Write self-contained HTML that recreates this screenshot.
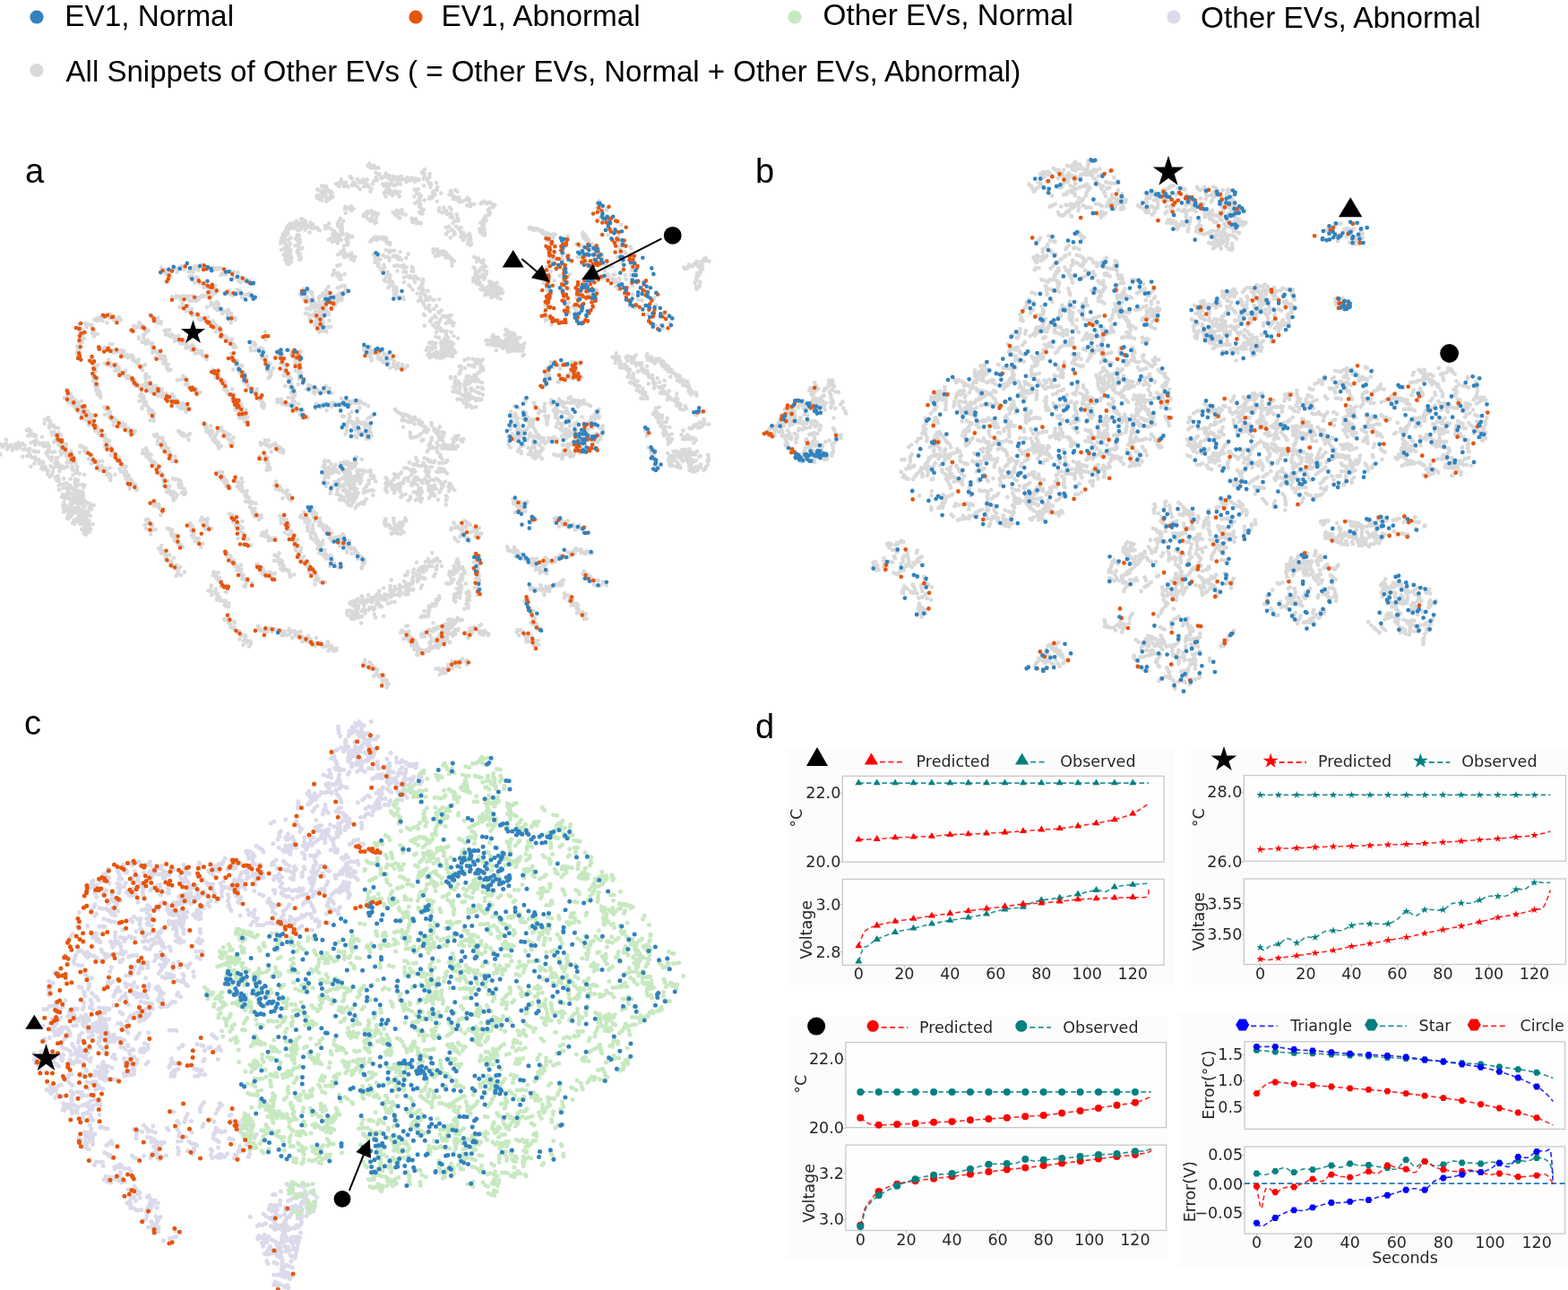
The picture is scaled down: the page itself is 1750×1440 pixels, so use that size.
<!DOCTYPE html>
<html><head><meta charset="utf-8"><style>
html,body{margin:0;padding:0;background:#fff;}
body{width:1750px;height:1440px;overflow:hidden;position:relative;font-family:"Liberation Sans",Arial,sans-serif;}
svg{position:absolute;left:0;top:0;}
.lg{font-size:33.3px;fill:#000;}
.pl{font-size:38px;fill:#000;}
.dj{font-family:"DejaVu Sans",sans-serif;fill:#262626;}
</style></head><body>
<svg width="1750" height="1440" viewBox="0 0 1750 1440">
<g font-family="Liberation Sans, Arial, sans-serif">
<circle cx="41" cy="19" r="7.6" fill="#3182bd"/><text class="lg" x="72.3" y="29">EV1, Normal</text>
<circle cx="464" cy="19" r="7.6" fill="#e6550d"/><text class="lg" x="492.6" y="28.5">EV1, Abnormal</text>
<circle cx="887" cy="19" r="7.6" fill="#c7e9c0"/><text class="lg" x="918.6" y="28">Other EVs, Normal</text>
<circle cx="1310" cy="19" r="7.6" fill="#dadaeb"/><text class="lg" x="1340" y="30.5">Other EVs, Abnormal</text>
<circle cx="41" cy="78.5" r="7.6" fill="#d9d9d9"/><text class="lg" x="73.6" y="90.5" style="font-size:33px">All Snippets of Other EVs ( = Other EVs, Normal + Other EVs, Abnormal)</text>
<text class="pl" x="28" y="204">a</text>
<text class="pl" x="843" y="204">b</text>
<text class="pl" x="27" y="819.5">c</text>
<text class="pl" x="843" y="824">d</text>
</g>
<path d="M180 298.9h0m3 1.9h0m1.3 3.2h0m0.4-2.4h0m2.1 0.3h0m1.2-0.5h0m1.8 0.1h0m1-0.2h0m4.4-1.6h0m0.1-0.7h0m2.5 4.7h0m0.8-4.1h0m1.2-0.8h0m2.5 1.2h0m0.2-3h0m1.6 2.1h0m1.5 1.4h0m1.7-2.4h0m3.2 5.5h0m2.4-1.1h0m0.8-3.7h0m2.2 4.6h0m1-3.7h0m1-3h0m0.4 2.4h0m1.9 1.1h0m1 1.6h0m1.2-4.7h0m1.9-1.7h0m2 1.5h0m3.7 2.2h0m3.6 0.3h0m0.7-0.1h0m4.1-0.6h0m0.2 2.8h0m1.5-0.9h0m2-1.3h0m1.2 1.2h0m0.6-0.8h0m1.4-0.3h0m0.9 0.2h0m0.5 7.4h0m1.5-2h0m1.7 0.9h0m2.4 0.5h0m2.3-3.2h0m2.6-0.4h0m1.2 0.7h0m2.5 0.1h0m0.2 6.4h0m4.4-5.6h0m-2 5.6h0m3 0.7h0m-0.1 3h0m2.5-4.1h0m-0.4 5.7h0m3.1-3.7h0m1.4 2h0m2.2-2h0m1.2 3.5h0m2.2-1.9h0m0.9 3.3h0m3 0.9h0m-97-11.4h0m3.4-0.2h0m0.1 0.4h0m1.7 2.8h0m20.7 0h0m2.6-1.2h0m-0.7 2.3h0m2.3 2.9h0m2.4-3.4h0m1.1-0.5h0m-1.6 6.7h0m3.7-5.4h0m1.7 5.8h0m1 0h0m1.2 1h0m2.3 2h0m0.3 1.9h0m4 0.2h0m1.6-0.9h0m5.4 0.5h0m1.8-2.2h0m-0.4 3.2h0m-0.8 4.3h0m13.3 1.8h0m2.2-1.8h0m1.5-2h0m0.5 4.4h0m1.5-0.8h0m1.6 2h0m2.2-2.7h0m2.9-3.8h0m0.7 3.5h0m2.4-2.1h0m1.1 3.2h0m1 4h0m1.2-1.8h0m1.2-0.9h0m2.1-0.1h0m2.8-1.7h0m0.6 2.3h0m1.9-1.1h0m0.8 3h0m1.9 2.1h0m-90.8-2.3h0m1.1 0.4h0m1.5 0.5h0m2-0.2h0m0.6-2.1h0m1.6 1.2h0m0.9 0.2h0m1.4 0.7h0m0.6 2.7h0m1.5-4.3h0m1.8 0.2h0m2.4-0.4h0m1.2 2.6h0m1.2-1.7h0m0.7-0.3h0m1.1 5h0m2.7-5.5h0m1 0h0m-0.2 5h0m2.9-1.9h0m0.8 2.5h0m2.5-3.7h0m0.4 2.2h0m1.9-2.8h0m1.1-0.1h0m1.2-1.8h0m2.4 0.9h0m1.1-0.5h0m3.2 2.1h0m0.3-3.5h0m4 0.8h0m-2-4.2h0m2.3 0.8h0m3.2 0.9h0m-4-5.1h0m3.6 1.5h0m0.1-2.3h0m-1.5-1.9h0m-37.9 23.6h0m2.9-4h0m-0.3 4.5h0m1.3-0.1h0m5.3-1.5h0m-1.8 5.4h0m1.3-0.3h0m0.9 0.6h0m1.6-0.8h0m2-1.8h0m0.9 4.8h0m-0.3 2.4h0m2.9-1.2h0m0.5 0.1h0m1.4-0.8h0m2.1 3.1h0m0.8 0.4h0m-0.1 2.6h0m1.3 1.1h0m1.5-1.8h0m1 1.4h0m2.7 0.8h0m0.7-0.8h0m3-2.7h0m2.9 5.9h0m2.5-1.9h0m0.2 3h0m2.3 0.6h0m1.1 1.8h0m-0.5 2.2h0m1.7 0.6h0m2.6-1.6h0m-4.1 5.3h0m6.1-1.3h0m-1.5 1.8h0m0.4 1.9h0m1.8 2.6h0m3.1-0.1h0m-0.1 1.9h0m2-1.2h0m-0.5 2.3h0m2.9 1h0m1.2 1.1h0m2.6-1.6h0m-1.4 3.5h0m1.5 1.1h0m0.9 1.3h0m1.1 0h0m-0.7 2.8h0m0.5 0.6h0m2.5-0.9h0m-32.2-44.1h0m4.5-5.5h0m-0.2 3.2h0m1.4-0.9h0m1.3 0.7h0m2.3-1.6h0m1.6-2h0m-2.4 7h0m4.2-4.4h0m-0.4 2.7h0m-1.1 4h0m1.4 0h0m3.7 0h0m0 0.6h0m2 0.8h0m-1.2 2.4h0m4.1-2.1h0m2.7-1.9h0m-1.3 3.6h0m0.4 2.1h0m-0.3 1.7h0m4-3.5h0m0.7 3.6h0m1.3 0.9h0m-2 5.9h0m4.9-4.9h0m-0.2 2h0m-157-0.4h0m1.1-0.5h0m2.1 1.7h0m1.1-1.9h0m0.2-1.4h0m2.6 2.1h0m1.9 1.3h0m-1.4-5.1h0m1.7 1.2h0m3.2-1.1h0m1.5 7h0m3.2-9.6h0m0.4 4.7h0m3-0.9h0m1.2 2.6h0m1.7 0.3h0m1-0.7h0m3-2.7h0m0.8 3.1h0m1 0h0m-46.7 5.1h0m0.1 6.7h0m2.4-1.5h0m1.5 1.2h0m-2.4 2.5h0m0.2 1.3h0m2.3 1.4h0m-1.2 1.4h0m3.1 2.8h0m-2.5 0.8h0m0.2 0.9h0m-0.3 2.7h0m-3.1 0h0m0.8 2.2h0m-1 0.8h0m-2 1.5h0m2 1.5h0m-1.1 2h0m1 1.1h0m-1.5 1.5h0m-0.5 0.2h0m0 3.2h0m1.3 2h0m1.7 2h0m5.7-39.5h0m0.7 1.3h0m2.4-0.2h0m-1.5 3.1h0m4.9-2.3h0m1.3 0.7h0m-0.5 1.6h0m0.6 0.9h0m1.6 1.9h0m0.9 0.4h0m-2.2 3.2h0m2.5 0.1h0m-0.3 2h0m-0.5 1.7h0m4.3-2.4h0m40.1-6.1h0m0-2.9h0m1.6 0.4h0m1.3 1.2h0m1.8-0.9h0m1.4-0.2h0m-0.1-4.1h0m2.1 2.2h0m-0.3 3.4h0m2.6-1.8h0m3.3 2.7h0m-0.2 3h0m1.3 0.2h0m1.8-1.2h0m-10.9 7.7h0m0.1 1.5h0m5.2-4.2h0m1.8-0.9h0m-1.6 4.5h0m-1.7 4.5h0m1.2 0.1h0m1.8-0.9h0m3-1.1h0m-2.3 3.8h0m2.6-0.5h0m1.7-0.7h0m2.3 0.7h0m1.5 0.1h0m-1.1 3h0m1.4 0h0m-0.4 2.5h0m0.3 1.6h0m-0.1 2.7h0m-0.2 0.7h0m4.1-1.9h0m1 1.7h0m-2 5.1h0m4.2-2.5h0m2.8 1.1h0m-1.9 2.9h0m5.5-2.3h0m-1.6 2.7h0m-0.6 1.2h0m2.8-0.2h0m-0.1 2.5h0m-2.1 1.7h0m2.7 0.1h0m1.2 1.5h0m1.3-0.3h0m-1.4 2.6h0m0 1.2h0m1 0.9h0m0.6 1.8h0m2.7-0.9h0m-23.2-60.9h0m1.7 1.2h0m1.3 0.9h0m0.1 1.9h0m5.9-1.1h0m-2.7 3.9h0m2.2-0.9h0m0.2 2.8h0m1.5-0.5h0m2.3-0.9h0m-0.6 2.1h0m4.4 7.8h0m1.8-0.5h0m0.4 0.5h0m-0.8 4.4h0m4.1-5.2h0m-0.8 5h0m-0.1 1.4h0m1.9 0.5h0m1.8-1.9h0m-0.3 3.1h0m2.1 0h0m1.4-0.6h0m1.1 0.9h0m-1.3 4.2h0m4.7-5.8h0m-1.6 4.4h0m1.9 1.8h0m2.1 2.3h0m2-0.4h0m1.8-2.4h0m0.1 2.7h0m1.5 1.2h0m0.9-0.4h0m-0.9 3.3h0m0.4 1.3h0m3.3-0.9h0m2.3-1.9h0m1.7-0.9h0m-1.8 6h0m3.5-3.5h0m0.2 3.7h0m2.4-1.2h0m-1.8 4.5h0m2.5-2.6h0m0.2 1.8h0m2.9-1.2h0m2-0.9h0m-0.7 3.2h0m1 1.6h0m1-0.7h0m0.3 1.7h0m1.8 0.8h0m2.7-0.1h0m-0.8 2.8h0m-118.3-13.5h0m1.1 1.2h0m1.7 1.4h0m2.1-2.2h0m1.7 2.4h0m3.8-5.9h0m2.7-0.2h0m0.2 6.8h0m0.6 0.1h0m0.9 2.6h0m3.5-0.8h0m0.5-1.3h0m1.2 0.3h0m1.6-0.4h0m1.7-0.5h0m0 3.2h0m3-1.9h0m-1.2 4.1h0m2.1 1.1h0m2.3-1.3h0m0.1 1.7h0m0.8 1.5h0m3-2.5h0m2-0.2h0m-0.5 2.1h0m1.7 0.3h0m-0.7 2.5h0m0.8 0.5h0m1.4 1.3h0m1.2-0.4h0m3.2-1.6h0m-1.5 3.3h0m0.8 0.2h0m0.7 2.5h0m0.4 1.1h0m2 2.2h0m2-2.1h0m3-1.6h0m-3.1 6.2h0m-42-7.4h0m4.2-4.1h0m-1.3 5.5h0m3.7-2h0m-0.1 1.7h0m0.7 1.7h0m1.3-1.2h0m4.6-1.2h0m-0.8 2.9h0m0.7 1.6h0m-1.7 3h0m4.3-3.4h0m-0.1 3.4h0m1.4 0.6h0m-1.3 2h0m0.5 2h0m7-4.4h0m-1.3 4.7h0m1 0.4h0m1.4 0.9h0m0.4 2.2h0m2.6-2.4h0m-0.9 2.4h0m1.9 0.7h0m1.6 2.1h0m3-1h0m-0.9 4.4h0m1.6 2.3h0m2.5-3h0m1.4 2.3h0m0.9 2.2h0m1 0.1h0m2.4-2.1h0m1.8 1.3h0m2.8-2.3h0m-0.4 3.9h0m0.9 0.1h0m2.9-1.9h0m0.3 2.6h0m0.8 2.9h0m0.6 0.3h0m0.9 0.9h0m2.5-1.9h0m2.3-0.5h0m1.1 3.2h0m1.6-0.7h0m-0.4 4h0m2.7-4.8h0m-75.7-37.9h0m-0.2 0.8h0m-3.9 2h0m5.6 4.1h0m4.1 1.4h0m-3.4 1.1h0m1.7 1.2h0m-1 3.4h0m0.9 1h0m-2.2 3.5h0m-1 1.6h0m0.2 1.5h0m2.9 2.3h0m-3 2.2h0m3.2 0.6h0m-0.5 1.2h0m2 1.8h0m-2.3 1.8h0m0.3 1.5h0m2.4 0.2h0m-0.5 2.5h0m-1.4 1.1h0m3.1 0.6h0m1 0.8h0m-2.9 2.1h0m3.4 0.9h0m-1.3 0.7h0m1.6 0.7h0m0.3 1.8h0m50.5-26.2h0m-0.8 1.8h0m0 2.3h0m0.6 0.9h0m3.7-1.4h0m-4 6.1h0m1.6-0.3h0m1.1 1.9h0m2.5-2.5h0m-1 6h0m3.4-1.5h0m1.7-0.1h0m-1.5 2.2h0m4-2.2h0m0.6 1h0m0.9 1.8h0m3.3 0.6h0m1.6 0.1h0m-1.2 3.4h0m1.2-0.3h0m0.3 2.3h0m-0.2 1.4h0m4.4-2h0m-0.7 2.8h0m0.3 1.3h0m3 0.7h0m4.2-3.8h0m-1.9 6h0m3.9-3.6h0m-2.3 7h0m3.7-1.8h0m2.5 4.3h0m2.7-1.3h0m-1 3.8h0m3.5-3.7h0m-0.6 3.3h0m0.2 2.4h0m2.9-2.3h0m1.8-0.8h0m-0.7 3.2h0m0.5 0.7h0m0.5 2.6h0m3.7-3.9h0m-13.5-31.5h0m6.3-4.9h0m-3 4.5h0m3.1-1.4h0m2.3-0.7h0m1.4 1.3h0m1.2 1.7h0m-2.5 4.4h0m2.9-2h0m0.3 2.7h0m0.4 1.4h0m0.5 1h0m3.1 3h0m4.6-1h0m1.3 0.2h0m-0.9 2.6h0m1.4 3.5h0m3.1-3h0m14.4-25.2h0m1.6 6.3h0m5.1-1.1h0m-3.5 3.9h0m3.5 1h0m1.8 0.2h0m0.3 2.5h0m3.1-0.4h0m1.8 1.3h0m-0.1 1.7h0m-0.1 1.1h0m0.4 2.9h0m-2 2.6h0m2.6 0.2h0m0.3 1.5h0m1.5 0.9h0m5-2.8h0m-4.8 4.9h0m0.6 1h0m2.6 0.7h0m1.9 0.2h0m0.6 2.2h0m-1 1.6h0m-0.2 1.4h0m2.6 0.1h0m-0.6 1.3h0m2.5 0.1h0m-0.8 1.7h0m4.5 0.3h0m1.5 0.3h0m0.8 1.6h0m-4.2 5.5h0m5.6-1.8h0m-1.5 1.8h0m-0.4 2.2h0m1.7-0.3h0m4.1-1.2h0m-5.3 7.2h0m4-1h0m2.1 0.9h0m0.8 0.7h0m-201.1-30.6h0m0.5 2.1h0m-0.2 4.9h0m1.1 0.1h0m2.3-1.2h0m0.5 1.5h0m1 0.2h0m1 1.4h0m-0.2 1.5h0m1.8 1h0m1.4 0.5h0m-1.2 3h0m0 0.4h0m2.9-0.9h0m1.9-0.2h0m3.2-1.6h0m-2.7 5.5h0m0.9 0.7h0m-1.4 3.3h0m4.2 1.1h0m2.2-0.7h0m1.1-1.1h0m-0.5 3.6h0m0.4 1.5h0m3.3-2.5h0m0.3 2h0m-0.8 2h0m1.4 1.2h0m2.3-1.7h0m0.5 1h0m1 0.9h0m-0.3 4.9h0m154.8-74.5h0m-1.4 5.7h0m4.1 0h0m0.6 3h0m3.7-0.9h0m-1.6 4.7h0m2.9 0.1h0m1.7 0.2h0m-7.7 4.7h0m10.1-4.1h0m-3.4 6.5h0m3.3 0.1h0m-1.3 2.5h0m4.3-0.7h0m2 5.4h0m-2.9 3.7h0m1.2 1.7h0m2 1.4h0m0.8-0.1h0m1 1.6h0m-0.1 1.3h0m1.6 1.2h0m2.7 3.8h0m5.3-2.6h0m-1.4 3.2h0m1.3 0h0m0.3 2.7h0m-0.1 3h0m2.8 2.9h0m1.9 1.2h0m0.7-0.2h0m0.5 1.7h0m0.2 0.7h0m-1 3.7h0m2.9-2.1h0m0 2.2h0m-0.6 2.2h0m-14.7-74.4h0m0.9 1.5h0m-0.9 5.9h0m4.2-6.1h0m-3.6 9.1h0m3.6-5.6h0m1.7-1h0m-0.9 6.4h0m2-1.3h0m4-1.7h0m-2.3 2.5h0m5.2-1.2h0m-2.3 3.7h0m0 2.3h0m1.5 2.6h0m0 1.5h0m4.9-1.7h0m-2.6 2.8h0m1.5 1.6h0m1 1.2h0m0.5 0.6h0m3.5 1.5h0m-3.8 3.8h0m0.2 3.8h0m7.3-2.1h0m-4.5 3.2h0m2.1 0.1h0m-1.8 1.6h0m1.6 1.5h0m-0.3 1.2h0m-0.6 1.6h0m-2.1 2h0m13.8-30.1h0m-4 6.1h0m3.6 1.1h0m4.8 1h0m-4.4 5.4h0m3.8-0.1h0m-1 1h0m1.8 0.6h0m1.8 3.5h0m-2.1 1.9h0m0.2 2h0m2.6 1.3h0m-3.9 3.1h0m3.6 0.6h0m0.7 0.3h0m2.6 0.9h0m-0.2 1.9h0m1.6-0.3h0m0.1 1.8h0m-1.6 3.2h0m1.1 0.7h0m-6.1 2.8h0m7.1-1.1h0m-1.8 2h0m4.6 2.2h0m-1.9 1.6h0m-1.2 2.7h0m4-0.5h0m-1.7 2h0m1.9 1.3h0m-7.5 2.7h0m4.4 0h0m1.2 0.8h0m-0.6 1.8h0m-0.1 1h0m2 1.1h0m-0.8 1.6h0m-3.3 1.1h0m2.6 0.8h0m0.1 1.9h0m2.5 0.7h0m1 0.7h0m0.7 0.8h0m-2.1-61.5h0m1.5 0.6h0m-2.3 2.6h0m0.8 3.4h0m5.2 0.8h0m-4.1 2.8h0m-1.4 1.2h0m5.8-0.1h0m1 4.5h0m-6 3.2h0m3.3-0.3h0m2.3 1.6h0m-2 1.8h0m2.7-0.3h0m0 2h0m-2.2 1.2h0m-0.2 3.3h0m4.1-0.5h0m-5.1 6.5h0m-36.9-58.8h0m0.3 8.4h0m48 51.1h0m-2 4.5h0m4.4-3.2h0m1.4 2.1h0m0.8-0.8h0m0.9 5.7h0m2.8-4h0m-1.2 5.4h0m3.2-2.4h0m-0.1-1.8h0m2.5 1.9h0m2.2 0.5h0m1.3-1.8h0m1.9 1.6h0m1.3-6.7h0m1.5 5.8h0m2-3h0m1 0.6h0m2.4 4.6h0m-61.2 7.4h0m0.2 2.8h0m2.4-2.8h0m1 2.1h0m1.1-2.3h0m0.7 5h0m0.9-1.4h0m2.3-0.3h0m1.2 3.1h0m0.8-0.3h0m2-1h0m1.2 0.7h0m0.8-0.1h0m4-1.9h0m-1 4.9h0m1.9-1h0m4.2-2.9h0m-3.7 5.3h0m1.7 2.6h0m2.3-0.8h0m2.5-0.2h0m2.3 0.9h0m-3.3 4.1h0m2 0.4h0m5.2 2.6h0m1.6 0.8h0m8.3-10.7h0m0.8-4.8h0m0.9 0.1h0m4.4 3.6h0m1-2h0m1-0.9h0m4.7 6.6h0m-1.5-8.1h0m4.2 2.5h0m0.7-2h0m2 3.4h0m1-1.7h0m0.6-2.7h0m1.5 0.2h0m2.5 0.8h0m1.5 0h0m2.3-0.3h0m1.5 1.4h0m0.1-6.9h0m1.9 5.5h0m2.5-2.6h0m3.3 2.3h0m-69-195.6h0m0.6-1.1h0m2.7 1.6h0m-0.3-2.9h0m1.1-0.5h0m0.9-2.2h0m1 2h0m3.4 3.4h0m-0.9-4.3h0m1-2.7h0m1.6 2.4h0m0.1-3.3h0m3 4h0m1.1-1.9h0m1-4.7h0m2 0.9h0m0.6 1.8h0m0.8 1h0m1.5-1.2h0m0.6 3.6h0m0.8 2.2h0m1-0.1h0m3.1-4.3h0m-1.5 3.9h0m2.2 0.9h0m2.1-2.4h0m-0.5 2.4h0m0.4 2h0m2-0.9h0m1.8-0.3h0m1.5 0.9h0m0.6 1.2h0m0.6 0.4h0m1 0.9h0m-35.4-0.2h0m-3.2 1.7h0m2.4 0.7h0m-2.7 1.7h0m-2.2 0.7h0m3 1.4h0m-1.8 1.2h0m-2.4 1.5h0m3.1 1.2h0m-0.5 0.8h0m-3.4 1.2h0m2.3 1h0m-2.7 1.3h0m5.9 0.9h0m0.4 1.4h0m2.8 1.8h0m-4.7 1.2h0m-3.5 2.1h0m4.7 0.4h0m3-0.6h0m-1.3 1.9h0m-0.7 2h0m-3.2 1.9h0m6.4-0.5h0m-1.9 1.4h0m1.4 0.2h0m-1.3 2.4h0m4.2 0h0m-3.3 2.2h0m-0.8 1.5h0m2.6 0.4h0m1.1 0.6h0m44.7-71.7h0m-0.5-3.1h0m-0.8-2.8h0m-4.3 9.8h0m1-1.3h0m4-3.2h0m2.4-0.5h0m-13.7-6.3h0m1.4 1.5h0m1.4 1.7h0m-7.2 1.9h0m1.4-0.5h0m4.1-0.5h0m2.9 0.5h0m-5.5 1.5h0m1.5 1.7h0m9.7 0.9h0m1.3-2.5h0m1.1-3.3h0m-9.5-2.4h0m3.8-0.4h0m-24.9 108.9h0m0.1 2.7h0m-4.3 3.2h0m1.5 1.7h0m4.5-0.5h0m7.2-2.2h0m-5.5 4.1h0m-1 2.1h0m1.3 0h0m2 0.5h0m0.5 1.5h0m-0.8 1.2h0m3.8 0.4h0m1.7-0.8h0m-2 2.7h0m-6.3 5.3h0m3.9-0.9h0m1 0.1h0m3.5-0.1h0m-9.6 6.2h0m2.4 0.1h0m1.1 1.4h0m7.3-3h0m1.1 1.8h0m0.2 0.3h0m-7.2 5.4h0m7.7-0.6h0m0.1 0.9h0m-0.4 2.6h0m7-4.6h0m-7.1 6.6h0m4.2-2.4h0m-2.4 4.3h0m4.9-2.1h0m1 0.2h0m-3.6 5.7h0m10.5-8.5h0m-8.8 8.9h0m2.7-0.1h0m-0.3 1.8h0m4.9-3h0m3-0.3h0m-4.8 5.3h0m-7.8-39.1h0m2.1-0.8h0m1.6-0.5h0m0.1 0.1h0m1.8 0h0m2.3-1.4h0m1.1 3.7h0m3.3 4.8h0m2.5-0.7h0m1.8-0.1h0m-0.1-5.9h0m2.5 2.2h0m0.5-0.4h0m0.1-2.5h0m2.1 1.5h0m3.2 3.4h0m-2-7.8h0m2.4 4.1h0m1.5-2.6h0m1.4-1.2h0m1.5-0.5h0m0.8-1.1h0m0.4-0.1h0m-24.5-106.7h0m1 1.9h0m-5.5-2.3h0m3 0.1h0m2.9 2.4h0m-3.8-8.1h0m-1.4 2.3h0m-1.3 3.5h0m-0.4 1.5h0m1.9-11.9h0m1.6 4.5h0m1.9 1.6h0m0.8 3h0m0.8-4h0m-3-0.3h0m-1 3.6h0m-1.3 4.1h0m0 2.8h0m11.5-8.4h0m-11.4-7.6h0m3.2 0.5h0m-0.4 4.5h0m-2.8 11h0m-1.6-0.5h0m-3.8-2.2h0m15.1-7.4h0m-3.6-2.4h0m-1.3-2.7h0m-3.4-0.6h0m-6.2 3.7h0m20.4-6.2h0m1.6-0.5h0m1.1 2.4h0m1.2 0.9h0m0.6-4.3h0m1.6-3.6h0m1.1 4h0m1.4-0.3h0m0.5 4.1h0m2-4.3h0m0.9 3.8h0m1.3 0.7h0m0.4 0.3h0m2.3-11.2h0m1.8 1.9h0m0.3 7.5h0m1.6-3.1h0m0.5 3.1h0m1.6-1.8h0m2.1-5.1h0m0.4 8.8h0m2-6.3h0m0.3 1.5h0m0.5 7.5h0m2.7-8h0m0.7-2.7h0m0.9 7.7h0m1.6-4.1h0m1.7-3.7h0m0.7 7.7h0m0.3-1.6h0m1.4 2.2h0m1.5 5h0m1.2-2.9h0m1.2-5.5h0m1.7-3.3h0m-6.9-16.7h0m1.6-2.7h0m1.3 1.8h0m0.2 3.2h0m2.3-1.1h0m1.3-1.8h0m0.2 2.6h0m1.3 0.2h0m1.2-0.1h0m-0.3 5.4h0m2.9-5.4h0m-2.7 10.6h0m1 3.1h0m1.3-6.9h0m1.4 0.2h0m1.6 3.7h0m0.4 0.8h0m1-0.8h0m1.5-0.5h0m1.6-1.1h0m0.9-3h0m1.4 3.8h0m1.6 1.1h0m0.7-2.3h0m0.7 3.9h0m2.2 0.5h0m1.4-3.7h0m0.1 3.5h0m1.5 0.1h0m1.7-1.2h0m1.3-1.6h0m0.6 2.5h0m1.9-1.5h0m0.8-0.7h0m1.6-1.1h0m0.4 3.6h0m1.3-0.3h0m1.3 0.2h0m1.7-0.3h0m0.6 3.1h0m1.2-5.1h0m1.5 2.9h0m1 0.5h0m1.2-0.5h0m1.2-2.4h0m1.2 1.5h0m1.9-0.5h0m0.4 3.1h0m1.1-3.1h0m1.7 1.3h0m1.3-0.4h0m0.3 0.6h0m-40.4 4.5h0m1.7 2.3h0m1.2-1.8h0m1.2-1.1h0m1.2 4.2h0m0.7-0.5h0m1-1.1h0m1.3-2.6h0m1.6-0.7h0m1.8 2.5h0m1 0.1h0m0.7 0.1h0m1.3-0.5h0m2.1-3.6h0m1.1 2h0m0.8-1h0m1.3 1.8h0m-18.1 10h0m1.7-2.7h0m-0.2 6.6h0m2.4-4.7h0m1.3 1.3h0m1.1-3.7h0m0.9 2.1h0m2.2 0.4h0m-0.2 3.3h0m2.6-5h0m1.2 0.6h0m0.8 2.2h0m1.1-0.2h0m2-1.4h0m-0.1 4.7h0m28.2-30h0m-3.1 3.3h0m0.6 0.8h0m1.6 0.4h0m0.8 0.7h0m0.1 2.3h0m5.7-2.6h0m-7.1 5.7h0m7-2.2h0m-2.5 2.4h0m0.2 1.8h0m0.2 0.8h0m-4.4 4.6h0m6.3-1.8h0m1.6-0.4h0m0.4 0.8h0m5.8-1.6h0m1.1 4.6h0m-7.7 0.3h0m7.3 1.6h0m-0.1 1.3h0m-2.8 1.5h0m-1.9 1h0m9.2 1.2h0m-8.2 0.9h0m1.5 0.8h0m-2.1 1.7h0m-3.2 0.5h0m1.6 1.8h0m-3.1 0.5h0m-5.1 1.8h0m14.2 1.2h0m-25.2-13.2h0m4.2-0.3h0m-1.7 1.9h0m-0.1 1.5h0m0.5 1.6h0m2.5 0.4h0m-5.7 2.7h0m7.7-0.7h0m-1.9 2.2h0m0.2 1.4h0m0.3 1.3h0m-2.2 0.7h0m-3.2 2.5h0m5.1 0.5h0m-0.5 1h0m1.6 0.4h0m-1.5 1.7h0m1.2 1.1h0m1.3 1.3h0m2.4 1.3h0m-2.7 1.3h0m-2 1.7h0m1.5 1.1h0m1.8 0.4h0m31.6-25.5h0m-1.5 4.2h0m2.8-2.1h0m3.9-3h0m-2.5 6.4h0m-0.1 3.1h0m4.8-7.9h0m-1.2 6.5h0m-0.8 2.1h0m1.7-0.6h0m2.3-1.2h0m-0.5 4.2h0m1.2-1h0m0 2h0m1.9-0.9h0m1.9-0.3h0m5-4.1h0m-1.2 2.1h0m1.5 0.8h0m1.6-0.7h0m-2.7 6.6h0m3.7-2.3h0m-1.1 2.7h0m1.4 0.4h0m1.8-1.6h0m2.4-0.6h0m-38.9 4.2h0m-0.8 2.4h0m0.5 1.2h0m1.1 0.5h0m4.2-4.3h0m-1.4 5.7h0m2.5-1.6h0m1.8-0.7h0m3.5-3.7h0m-3 7.5h0m5-5.4h0m-2 4.9h0m2 0.1h0m-1.1 3.4h0m1 0.7h0m1.3-0.4h0m4.6-3h0m0.6 1.3h0m-2.6 5.9h0m3.3-2.6h0m-0.8 2.6h0m1.5-0.5h0m-2.3 6.6h0m-11.7 1.3h0m0.8 0h0m2.5-1.3h0m-3 8.7h0m2.1-2.6h0m5.5-9.5h0m-1.8 7.1h0m1.5 0.8h0m-2.4 8.1h0m4-6.3h0m-0.2 2.9h0m1.2-0.6h0m4.3-5.6h0m2.3-1.7h0m-0.1 4.7h0m0.5 1.4h0m-0.6 4.4h0m3.1-4.6h0m-0.2 3.6h0m1 1.8h0m-1 2.8h0m4.2-5.3h0m2.6-2h0m-1.6 7.1h0m2.5-3.7h0m-2.6 7.9h0m3.2-4.6h0m-0.6 6.2h0m1.2-1.7h0m10.6-44.6h0m1.2-1.3h0m2-1.3h0m1.2 1.2h0m1.2 0.3h0m0.9 0.3h0m0.3 0.6h0m2.6-1.5h0m1.2 0.7h0m1.2 0.9h0m-1.5 4.9h0m3.2-3.1h0m0.5 1.8h0m1.8-2.2h0m-7.7 5.6h0m0.9 0.7h0m1.5 3h0m-1.3 0.1h0m-0.1 1.7h0m-1.2 0.3h0m-2.3 0.9h0m-1 1.2h0m0.3 1.3h0m1.2 2.6h0m-3.1-0.9h0m-0.2 1.4h0m0 1.2h0m0.3 1.3h0m-3.3-0.5h0m2 3.1h0m1.3-0.1h0m-0.6 1.8h0m-3.9 2.2h0m2.7-0.2h0m2.7 0.4h0m-4.5 3.3h0m0.8 0.5h0m4 0.4h0m-1.7 2.3h0m1.9 0h0m-155.4-24.3h0m-0.9-5.1h0m0.4-2.2h0m1.8 2.6h0m0.8-1.5h0m2.7 1.1h0m1.9 2h0m-0.3-4.6h0m2.5 2.7h0m25.3 10.6h0m0.5-3h0m1.4-2.1h0m-3.2 10.8h0m-2.1-2.2h0m-3.1-0.3h0m-2.9-2.4h0m4.6-1.3h0m0.7-3.3h0m2.3-2.3h0m-3.7 8.2h0m3.3 1.3h0m-11.8-7.5h0m2.4-1.5h0m1.7-1.9h0m5.3 8.3h0m3 1.9h0m1.9 1.8h0m-5.7-12.8h0m-1.9 1.7h0m-2.9 2h0m-1.2 1.4h0m-2.8 1.1h0m32.9-4.2h0m4-2.3h0m3.9 0.4h0m2.2-1h0m-5.9 4.4h0m1.2 2.6h0m2 2h0m1.3-6.4h0m2.1 1.3h0m3.3 1.3h0m-11.7 0.1h0m2.9-1.5h0m3.6-0.6h0m1.4 1.1h0m10.5 5.2h0m0.4 1.5h0m0.7 2.6h0m3.2-3.8h0m0.6 1.4h0m0.5 3.7h0m1.9-1.1h0m1 0.6h0m1 0.3h0m1.2 0h0m-148.4 2.8h0m1.7 2.9h0m0-4.4h0m3.1 4.1h0m0.1-2.5h0m1.2-0.4h0m2.5 2h0m0.7-1.4h0m1.8 4.9h0m0.2-5.7h0m0.6-1.2h0m2.5-1.4h0m-0.6 7.3h0m1.4-2.6h0m2.5-1.8h0m1 1.2h0m0.3 3.8h0m1.8-2.8h0m0.8-0.6h0m1.9-1.1h0m1.2 1.7h0m-0.7 5.6h0m2.6-4.8h0m-29.1 3.2h0m-0.7 1.1h0m3 2h0m-0.4 0.1h0m-2.5 1.3h0m-1.4 1.6h0m7.5 1.5h0m-1 0.8h0m-1.7 1.5h0m-4.3 1h0m-0.9 1.6h0m7.3 1.3h0m-0.9 1.5h0m-3.9 0.9h0m1 1.3h0m-2.4 1.5h0m3.1 0.8h0m-1.9 0.9h0m5.4 0.4h0m-0.8 1.2h0m0.4 1.4h0m-0.2 1.3h0m-3.4 1.6h0m0.4 1.1h0m4.2 1.2h0m-6.1 1.6h0m-0.5 1.8h0m5.5-0.2h0m-1.4 1.2h0m-1.8 1.4h0m-0.4 1.3h0m1.9 1.1h0m10-33h0m1.8 0.9h0m-0.5 1.7h0m-3 0.6h0m-0.3 1.5h0m4.7 1.3h0m-1.9 1.5h0m1.8 1.1h0m-1.2 1.6h0m0.3 0.2h0m-4.3 1.7h0m3.4 1.6h0m4.4 1h0m-1.1 1.1h0m-3.2 0.8h0m-1.3 1.9h0m0.3 1.6h0m1.3 0.8h0m1.7 0.5h0m-1.9 1.3h0m1.3 1.8h0m0.6 0.7h0m1.1 1.2h0m-1.7 1.6h0m58.4-25.3h0m-2.9-0.5h0m-14-0.6h0m2 0.1h0m2.4-1.2h0m2.6-1.3h0m10.3 2.6h0m-3.1-0.6h0m-9.9-6h0m0.3-3h0m0.7-2.1h0m2.6 22.4h0m-17.1-7h0m2.3-1.3h0m3.1-2.7h0m16.2 6.7h0m0.2-3.8h0m-1.3-2.8h0m0.2-2.3h0m-5.3-5.4h0m-0.6-3.4h0m0-1.7h0m1.7-4.1h0m-9.9 11.3h0m1.5 2.3h0m2.3 1.7h0m4.7-2.7h0m-1-2.9h0m-1.4-2.1h0m-2.6-2.4h0m0-2.7h0m-9.5 0.1h0m-2.2 2.5h0m-1.9 3.5h0m15.7-4.2h0m-0.5-4.7h0m1.5-2.7h0m-8.6 17.4h0m2.4 1.5h0m-0.3 3.5h0m1.4 3.4h0m2.3 2h0m10.7 1.8h0m-0.2-2.2h0m-0.7-2.7h0m-0.7-1.5h0m-16.2-11h0m-3.6-1.8h0m-3.4-1.9h0m15.2 13h0m0.7-3h0m2.9-1.7h0m-0.9 7.6h0m-3.9 0.5h0m-6.2 1.1h0m6.4 14.6h0m3.1-2.9h0m1 1.6h0m2.4-4.1h0m0.3 2.9h0m-0.8 3.6h0m1 1.7h0m3.3-3.4h0m-0.5 2.4h0m1.7-0.6h0m2.1-0.8h0m1.7-2.1h0m0.2 3.1h0m-1.1 3.7h0m2.1-0.6h0m2.6-2.1h0m-1.1 4.3h0m-18.8 5.7h0m2.8-1.2h0m-6.3 6.4h0m-0.4 3h0m-1.4 2.2h0m4.8-1.6h0m1.4-0.6h0m-1 3h0m3.7-0.9h0m0.5 1h0m4.2-1.9h0m-5.7 5.4h0m1.7 0.2h0m32.6-42.1h0m1-1.6h0m1.1 0.1h0m1.3-2.3h0m0.7 1.4h0m1.4-2.7h0m1.9 3.4h0m0.8-3.1h0m1.1 1.2h0m1.3 0h0m2.5-1.8h0m0.2 2.3h0m0.2 0.6h0m3.1-1.9h0m1.3 0.6h0m-0.9 3.2h0m1.6 0.2h0m0.1 1.9h0m1.3 0.5h0m2-0.5h0m-0.3 1.9h0m-18.1 11.4h0m2.5 2.6h0m-0.7 0.9h0m3.3 0.2h0m-2.8 2.8h0m-0.7 1.8h0m1.6 0.1h0m1.1 0.8h0m1.2 0.5h0m-0.6 2h0m0.8 0.9h0m5.7-1.4h0m-0.1 1.8h0m-3.5 3.1h0m4.6-1.9h0m-3.5 3.2h0m2.4 0.9h0m-0.8 2.1h0m5.3-1h0m0.2 1.6h0m0.2 1.4h0m-2.1 2.4h0m4.5-1.6h0m-6.9 5.1h0m6.3-1.4h0m-3.9 2.9h0m3.9 0.2h0m2-0.1h0m-1.9 2.8h0m3.3-1.3h0m-1.8 2.7h0m-3 2.6h0m6.3-1.2h0m-0.2 0.9h0m2.7-0.1h0m-3 3.6h0m3.4-1.2h0m-1.2 2.6h0m-1.8 3h0m2.8-1.6h0m0.6 4.5h0m2.2-0.4h0m4.3 0.4h0m0.5 1.3h0m0.3 1.1h0m-19.7-54.8h0m-3.5 5.5h0m-2.7 4.9h0m10.2-9.9h0m-4.7 6.9h0m4.4-4.8h0m2.9-1.9h0m-4.4 7.1h0m7.4-7.3h0m-5.3 8.6h0m-0.4 2.4h0m4.5-5.2h0m1 1h0m2.6-1h0m3.9-4.2h0m-3.2 5.8h0m0.7 1.8h0m1.7-1h0m-0.3 1.6h0m-5.1 7.2h0m7.6-6.7h0m-4.3 6.4h0m12-12.9h0m-2.3 4.4h0m-6.1 9.3h0m-3.9 5.3h0m7.1-6.7h0m-0.9 2.3h0m1 0.7h0m0.4 0.7h0m2.8-1.2h0m-3.1 5.3h0m-0.2 0h0m9.2-5.9h0m-6.5 6.2h0m7.6-4.4h0m-1.4 3h0m-8.7 7.3h0m10.4-6.9h0m-6.2 5.6h0m2.8-0.4h0m-0.4 1.8h0m-6.4 5.1h0m11.5-6.4h0m1.2 0h0m-2.1 2.8h0m3.9-0.8h0m-9.2 7.6h0m10.7-7.1h0m-3.9 3.8h0m-5.2 4.9h0m14.4-8.1h0m-1.1 2h0m1.2-0.3h0m-11.8 10.1h0m11-6.1h0m-1.9 1.8h0m-2.1 2.9h0m1.2-0.1h0m1.6 0.3h0m1.8 0h0m-6.4 5.3h0m6.6-3.2h0m-2.6 3h0m7.4-2.8h0m0.6 0.4h0m-3.9 3.8h0m-4.5 3h0m5.8-1h0m-8.1 5.2h0m3.3-0.4h0m9.2-4.1h0m-4.6 3.6h0m2.7-0.2h0m-5.2 4.2h0m10.3-4.5h0m-9.6 5.5h0m11.6-5.1h0m5.5-1h0m-11.1 6.8h0m-4.2 2.8h0m2-0.3h0m10.2-1.9h0m-8.7 3.8h0m1 0.6h0m4.8-0.9h0m-4.3 2.5h0m-7 3.5h0m1.2 1.3h0m18.5-5.7h0m-3.2 1.6h0m0.7 1.1h0m-5 3h0m0.6 0.9h0m-3.7 2.5h0m4.7-1.1h0m-6.7 3.5h0m0.6 1.2h0m11-2.9h0m-17.9 7.3h0m12.9-3.4h0m3.5-0.6h0m-6.8 3.4h0m5.7-0.3h0m8.6-1.6h0m-11.9 4.5h0m2 0.7h0m1.3 0h0m2.2 0.1h0m-4.2 4.5h0m4.5-2.3h0m0.7 0.8h0m2.4-0.2h0m-8.2 6.5h0m9.5-6.1h0m2.8 0.1h0m-8.9 7.2h0m7.7-4.5h0m0.5 1.4h0m5.7-3.1h0m-7.7 7.5h0m2.7-0.8h0m1.4-0.5h0m-2.3 3h0m8.7-4.7h0m-7 6.2h0m1.8 0.2h0m-6.2 5.5h0m8.5-5.1h0m7.6-4.5h0m-8 7.4h0m2.9-1.1h0m-5.9 5.4h0m2.9-0.1h0m-4.3 4.3h0m5.6-3.2h0m-10.6-37.1h0m0.9-0.3h0m3.2 0.2h0m-0.3 0.9h0m3.7-1.9h0m2.1 0.2h0m-2.2 4h0m-1.3 3h0m3.1-1.1h0m-1.3 1.6h0m2 0.6h0m1.2-0.1h0m1.6 0.3h0m-0.9 2.7h0m-22-84.8h0m-0.1 3.3h0m2.3-2.9h0m2.2-0.5h0m-2 7.5h0m2.4-4h0m1.2 3.4h0m2.1-3.8h0m2.3-1.1h0m-0.9 3.4h0m2.6-2.8h0m0.5 3.5h0m2.2-1.9h0m-0.7 5.2h0m2-2.1h0m1.2 0.1h0m1.1 2.4h0m1.1-0.3h0m0.6 1.5h0m1 0.5h0m-0.2 3.2h0m2.3-1.8h0m-2.3 5.6h0m36.7 32.4h0m3.8-0.9h0m-9-27.4h0m-1.1 2.3h0m-2.8 3.2h0m-1 0.9h0m22.3 8.9h0m-2.9 0.6h0m-3 1.2h0m-2 1.2h0m-8-20.6h0m1.9 2.2h0m2.7 3h0m-0.3 1.4h0m-9.9 11.6h0m3.6 1.2h0m-0.1-3h0m-1-3h0m11.8 14.9h0m5-0.2h0m1.6 0.9h0m0.2-7.4h0m-3.4-0.9h0m-2.4-1.4h0m3.7 12h0m3.6 1h0m0.2 1.2h0m4 1.7h0m-19.2-43.6h0m-5.5-1.6h0m-2.6-0.6h0m-2.2-1.1h0m9.1 32.3h0m-2 3.8h0m5.9-1.5h0m2.1 0.2h0m3.3 0.4h0m2.5 0h0m3.1-0.4h0m3.2-1.1h0m3.3 2.1h0m-9.3 6.8h0m-2-1.1h0m-2.5 0h0m-2.9-1.4h0m9.8 2h0m0.8-3.8h0m1.3-2.9h0m-24.6-22.6h0m0.7 3.4h0m-0.3 2.8h0m-0.7 3.1h0m2.1-17h0m3.9-0.2h0m3.1 1h0m-10.6 5.5h0m32.7 28.4h0m-1.9 0.7h0m-3.9 0.4h0m-2.7 0.6h0m-3 1.6h0m0-8.6h0m-12.8-12.8h0m2-2.1h0m3.7-0.4h0m-10.3 4h0m2.8-1.1h0m4.1 0.8h0m1.7 1.2h0m9.8 12.5h0m-3.9-0.8h0m-2 0.1h0m-4.2 0.5h0m-9.1-9.8h0m0.5-2.7h0m11.1-7.5h0m-1 2.8h0m-1.1 3.4h0m-0.8 2.3h0m5.8 2.5h0m1.9 0.2h0m3.3 2h0m3.6-0.9h0m-12 10.7h0m-4-2.7h0m3.4-25.9h0m-2-1.7h0m-2-3.1h0m-10.2 17.6h0m0.2 3.6h0m14.2 14.7h0m2.3-1.1h0m13.2-2.5h0m-2-1.3h0m-2.6 1h0m-3 0.9h0m-2.2-0.4h0m0.3 6.5h0m3.8-1.8h0m3.4 0.1h0m-1.7 53.4h0m7.1 0.8h0m2.1 0.9h0m22.5-2.1h0m-9 1h0m-2.2 2.2h0m-0.8 2.9h0m7.4-3.7h0m-1.1 1.7h0m-0.6 3.4h0m-29-16.6h0m30 2.6h0m-5.5-2.3h0m-1.1 0.4h0m-20.6 4.2h0m-0.4-2.1h0m2.7-0.3h0m-2.5 2.1h0m2.8 7h0m1.2-2.3h0m19-6.2h0m-0.1 3.1h0m0.3 1.9h0m2.5 3.1h0m-19.5 1.7h0m2.2 2h0m22.9-1.1h0m-1.7-1.5h0m-20.2-4.7h0m-2.1 2.1h0m-3.2 1.9h0m6.6-11.9h0m3.4 1.1h0m2.7 0h0m2.7 0.5h0m-16.4 3.3h0m3 1.7h0m11.7-7.4h0m-1.5-0.1h0m-2.2-0.5h0m10.6 6.1h0m-2 0.9h0m-1.7 2.5h0m-0.5 3.5h0m-21.1-5.9h0m2.2 0.5h0m-5-3.9h0m0.5 3h0m0.1 2.7h0m23.1-9.7h0m-2.1 3.7h0m-15.8 9.5h0m-3.3-3.1h0m0.8 1.9h0m-0.1-2.5h0m-1.3-3.9h0m-1.7-1.9h0m-70.5 6.5h0m3.2-0.6h0m1.7 15.5h0m1-3h0m1.9-1.5h0m9.8-9.2h0m-0.9 2.3h0m-1.4 3.8h0m-0.1 2.7h0m-2.6 2.4h0m0 4h0m-5-5.5h0m1.8 2.7h0m-1.3 3.3h0m4.8-15.2h0m3 2.6h0m2.1 3.1h0m1.7 2.2h0m2.5 1h0m-19.5 3h0m-4.6 0.1h0m18.9-0.6h0m2.8 1.5h0m2.2 0h0m3.9 1.1h0m-8.1-11.8h0m2.8 0.4h0m3.8 0.4h0m-11.4 4.7h0m4.7 1.8h0m2.3 0.6h0m1.7 2.6h0m-7.2 1.5h0m1.4-0.8h0m0.2-4.5h0m-4 6.8h0m3.6-0.8h0m1.3-2.6h0m-20.4-5.6h0m1.4-2.8h0m22.1-3h0m-114.5-65.7h0m1.8 5h0m-30.2 38.4h0m1.1 2.2h0m-1.8 2.6h0m14.5-22.2h0m1.7-3.3h0m2.3-1.2h0m-26.5-14.6h0m0.6 2.7h0m1 3.8h0m-1.2 4.2h0m-0.3 2.7h0m0.3 1.4h0m-1.8 4.5h0m13.8 18.8h0m-0.2-2.7h0m0.3-2.6h0m-2.9-4.3h0m3.3-2.2h0m19.4-18.9h0m-0.8 1.5h0m-2.6 2h0m-2.6 0.6h0m-17.6 33h0m-1.7-2.3h0m0.5-2.6h0m-3.5-2.7h0m8.9-35.8h0m-0.8 2.9h0m17-8.8h0m3.1-0.9h0m2-1.5h0m-33.7 32.6h0m2.7 1.6h0m3.7 0.8h0m-3.1-10.4h0m0.5-4.6h0m-4.3 4.1h0m3.3-0.1h0m3-1.4h0m2.8-0.6h0m4 0.1h0m-15.1-15.9h0m-3.4-0.1h0m-2.7-0.3h0m27.5 26.5h0m-2.6-2.5h0m-2.9-0.5h0m-2-2.4h0m-3.4-1.5h0m10.7-15.2h0m-1.2-3.1h0m-1.6-1.9h0m-7.6 21.7h0m0-2.1h0m-0.5-2.6h0m0.4-4.3h0m-0.7-3.9h0m3.8 36.5h0m0.2-2h0m2.4-2.4h0m24.2-42h0m-1.2 1.7h0m-2.3 2.5h0m-26.7 20.2h0m2.6-1.6h0m1.6-2.2h0m3.3-1h0m-24.4-8.4h0m1.9 1.5h0m25.4-15.7h0m-3.8 11.9h0m-1 3.1h0m0.6 3.2h0m1.8 2.6h0m-6.2 9.3h0m-2.4-2.9h0m5.5-10h0m0.4 2.9h0m1.6 2.6h0m1.1 3.9h0m2.1 2.1h0m0.6 2.3h0m-31.2 41h0m-1.4 2.6h0m-0.4 3.1h0m-10.8-6.7h0m2.3 3.4h0m0 1.9h0m-12.1-5.7h0m1.2 2h0m0.3 3.2h0m1.6 3.3h0m101.6-5.2h0m-4.2-1.6h0m-1.2-2.6h0m-2.6 0.9h0m-2.9-2.5h0m5.9 10h0m0.1-2.7h0m-1.3-3.9h0m-3.3-2.4h0m2 1.9h0m23.4 4.4h0m-4.2 0h0m-1.4-1.1h0m182.4-126.4h0m3.2 2.6h0m4.9 2.7h0m-6.2 9.3h0m2.5 5.8h0m2.7 2h0m-3.4 1.1h0m-1.6 4.6h0m-3.1 2.7h0m5.2 4.2h0m-2.4 3.7h0m-4.3 1.1h0m10.5 5.7h0m-11.7 2.6h0m3.2 5.5h0m0.9 3h0m-2.4 16.1h0m5.6 1.1h0m19.5-78h0m-4.5 5.8h0m-0.2 7.5h0m-9.6 5h0m10.4 1.1h0m-2.2 2.1h0m0.3 4.3h0m2.9 12.6h0m4.9 4.4h0m-11.1 1.2h0m3.9 5.2h0m-1.9 7.2h0m8.4 2.6h0m-5.7 4.5h0m2.6 4.1h0m-0.7 3.2h0m3.7 3.1h0m-4.2 2.7h0m2.9 1.4h0m5.7 0.6h0m-4.7 2.1h0m1.2 5.3h0m40.8-58.8h0m-21.8 2.2h0m-3 0.8h0m-2.6 0.2h0m3.4-17.8h0m-1.9-1.7h0m-4 0.4h0m-2.7-2.5h0m6.6 13.8h0m-3 0.5h0m-2.9 0.2h0m-1.4-14.3h0m11.1 13.4h0m2.1-2h0m-0.6 44.2h0m2.7 1.1h0m2.5 1.9h0m4 1.4h0m-18.7 1.3h0m-3-1.5h0m2.8 27h0m3.2 1h0m11.8-47.8h0m-1.9 1.3h0m-1.9 0.8h0m-4.6 0.9h0m-3 1.2h0m-7.4 27.8h0m0.8 3.2h0m22.5-24.6h0m3.3-98.7h0m-3.1 7.6h0m2.9 1.5h0m9.1-1.1h0m-0.9 1.9h0m-7.3 8.8h0m10.2 13.2h0m13-5.7h0m-14.3 11.5h0m11.6 0h0m-0.5 3.3h0m-2.2 5.1h0m4.7-0.7h0m-2.1 4.5h0m7.4-0.9h0m-5.7 4.1h0m11.2-2.4h0m-11.1 6.9h0m12.6-4.9h0m-7.5 4.1h0m1.4 1.2h0m-9.4 4.4h0m5.3 6.1h0m8.8-2.1h0m2 10.3h0m-7.5 5.8h0m10-3h0m-3.8 2.9h0m5.8-2.8h0m-11 7.5h0m6.1 0.7h0m1.5 6.3h0m11.9-4.3h0m-0.2 3.1h0m-1.9 3.8h0m7.8 6.9h0m-8.5 6.9h0m14.9-2.6h0m-6.8 10.5h0m9.1-2.4h0m-9.4 10.4h0m23.1 0.6h0m-14.1 11.8h0m5.1-0.5h0m10.5-1.9h0m-7.7 4.9h0m-64.9-63.7h0m-2 8.6h0m5.1-4.6h0m-1.9 3.7h0m2.9-1.1h0m5.2-2.1h0m1.4-0.1h0m-2.4 4.8h0m1.2 3.3h0m2.3-2.5h0m0.4 2.5h0m4-3.8h0m-4.4 8.9h0m4.5-4.3h0m2.7 2.5h0m-4.2 4.9h0m9.2 0.3h0m-1.8 5.4h0m1.3-0.2h0m7.2 0h0m-5.5 6.8h0m2.5 6.1h0m9-6.8h0m-3.4 6.1h0m0.3 3h0m7.9-8.1h0m-108.6 13.8h0m1.2 2.3h0m0.1 3.4h0m-0.4 2.8h0m2.6-2.2h0m2.7-1.2h0m1.3 7.9h0m7-3.1h0m0.8-2.1h0m2.3 1.8h0m4.8-1.6h0m-39.8-102.5h0m1.3-1.1h0m0.6 2h0m1.9 0.2h0m1-0.9h0m0.4 2h0m2.8-1.8h0m0.7 0.7h0m1.6 0.2h0m1.3 1h0m1.1 0.7h0m1 0.6h0m1.4-0.8h0m-0.3 2.8h0m1.7 0.2h0m1.5-0.3h0m0.3 4.1h0m1.8-4.1h0m0.8 1.7h0m1.6 1.1h0m0.9-1.3h0m1.1 0.5h0m2.5-1h0m-0.3 4.2h0m2.4-3.8h0m31-2.2h0m-0.7 2.2h0m1.8 0.7h0m1.2 0h0m-1.8 3.1h0m3.4-0.6h0m-0.2 0.2h0m-0.6 2.6h0m1.6 0.5h0m1.8 0.1h0m0 1.7h0m-1.5 1.8h0m1.4 1h0m3.2-0.8h0m0.2 2.1h0m0 1.1h0m2.4 0.1h0m-0.5 0.9h0m0.9 1.5h0m-1.2 1.6h0m3.1 0h0m-0.8 2h0m-0.4 1.9h0m1.9 0.5h0m0.5 0.2h0m1 1h0m3.1-1.1h0m1.7 1.4h0m-1.3 2.5h0m0 0.8h0m0.9 1.1h0m1.1-0.2h0m0.9 2.2h0m0 0.2h0m2.1-0.1h0m1.1 1.8h0m-1.3 1.4h0m1.5 1.2h0m-0.7 1.5h0m2.2 0.8h0m2.3-0.9h0m2-0.1h0m80.1 1.2h0m1.4 1.5h0m1.8-0.4h0m1-0.9h0m1-1.1h0m0.4-2.2h0m1.6 1.3h0m1.6 0.5h0m1-0.1h0m0.4-1.3h0m1.3-0.9h0m0.6-0.4h0m2.9 1.6h0m-0.6-4.4h0m1.2 0.4h0m2.5 4.4h0m2.1-0.3h0m0-3.9h0m0.1-0.5h0m1.9-1.6h0m0.4-1.1h0m1.8 1.8h0m0.2-3h0m2.2 3.1h0m1.6 0.5h0m-7.4 3.1h0m-5.7-0.5h0m4.7 2.7h0m-0.7 0.5h0m-2.2 0.8h0m3.9 1.9h0m-1.6 1.5h0m-0.7 1.1h0m0.2 1.1h0m-3.9 1.1h0m2.3 1.1h0m-0.4 1h0m-2.1 0.8h0m0.3 1.2h0m-0.8 0.9h0m0 2.4h0m-0.6 0.6h0m4.5 1.7h0m-5.6 0.7h0m0 0.6h0m5.1 2.5h0m-0.2 1.6h0m-3.4 0.4h0m0.2 1.8h0m0.1 0.6h0m-211.2 46.3h0m3 1.9h0m-0.8 2.3h0m3.2 3h0m-0.5 4.2h0m-3.4 4.3h0m2.2 0.4h0m7.3 3.7h0m2.2-2.1h0m-2.8-4.1h0m-3-0.5h0m-3.5-0.8h0m-1.9-1.3h0m-3.3-1.4h0m17 7.4h0m-2.2 1.7h0m-4.7-10.7h0m1.3 2.9h0m0.5 3.1h0m-6.8 8.4h0m4-2h0m4.2-2h0m-1.8 2.8h0m0 1.5h0m-10-1.1h0m3.3-3.2h0m1.1-1.5h0m2.9-1.6h0m1.7-2.7h0m1.9-2.7h0m-3.6-0.4h0m-1.7-0.5h0m-4-0.6h0m6.6 2.5h0m-0.7 2.2h0m-7.5-7.5h0m2.7 2.3h0m9.5 13.5h0m-12.4-16.3h0m-0.4-3.8h0m-1.7-2.5h0m7.7 6.4h0m-0.4-2.3h0m-7.2 9.9h0m0.3 2.7h0m2.4 2.2h0m8.7-10h0m0.9 3.1h0m1 3h0m-6.8 9h0m3-0.7h0m2.6-2.5h0m30.5 42.2h0m1.6-1.2h0m1.3-2.1h0m-0.6-5.5h0m3.4-1.2h0m-3.3-2.6h0m3.4 0h0m-1.5-1.3h0m0.9-2.1h0m-1.9-3.5h0m2-1.4h0m5.2-0.3h0m-2.6-5.5h0m1.4 2.4h0m0.7-1.7h0m5.3 2.8h0m1.7 0.3h0m1.3 3.6h0m2.4-4.4h0m1.9-0.8h0m3 1.5h0m2.3-0.7h0m0.5-1.6h0m1.3-0.7h0m1-0.3h0m1.5 2.8h0m1.5-3h0m2.5 1.7h0m1.7-0.5h0m1-0.1h0m1.5 0.9h0m-24.8 19.8h0m1 0.4h0m1-1.5h0m3.7-2.8h0m3.5 0.5h0m0.7-1.4h0m0.8-2.4h0m2.4-1.6h0m1.2 4.3h0m1-1.1h0m1.7 2.2h0m1.7-0.8h0m6.5 1.3h0m1.4-1.9h0m-3.9-15.8h0m-3 0.9h0m-4.1 8.9h0m3.7 2.5h0m27 47.2h0m-2.2 0.1h0m-3.6-0.4h0m-3 0.8h0m10 24.5h0m-5.1-0.2h0m-3.4 1.2h0m-39.6-18.4h0m3.2 0.3h0m2.7 0.1h0m14.5 5.2h0m0.6 3.2h0m-1.6 4h0m0.5 1.6h0m0.1 3.3h0m-1.5 2.8h0m-25.9-43.3h0m1.2 1.3h0m-21.4 48.1h0m0.7-3.3h0m-0.3-3.7h0m0.9-1.2h0m-1-4.4h0m49.7 7.1h0m1.5-1.1h0m4-2h0m1.4-1.4h0m2.6 0h0m3.1-3.1h0m-80-1h0m4.2 1.1h0m1.3 0.8h0m2.9 3.2h0m4.3-19.9h0m-3.4-1.2h0m-2.9-1.9h0m-5.8 10h0m2.6 4.4h0m-0.1 1.4h0m24.4 5.4h0m2.4 2.1h0m-1.9 2.3h0m3.4 2.2h0m-11.3 16.6h0m-2.2-1.5h0m-2.3-2.5h0m42.7-21h0m1.2-3.9h0m-1.2-2.3h0m0.6-4.9h0m0.8-1.4h0m-8.5 36.1h0m-3.6-1.8h0m-3-0.1h0m-3.2-1.2h0m21.2 0.4h0m-3 2h0m10.3-58.3h0m-3 0.4h0m-73.6 12.9h0m3.8 0.1h0m3.9 2h0m34.4 22.3h0m2.2 0h0m4-0.9h0m-13.8 12.7h0m-1.1 3.1h0m-2.8 3.4h0m-3.1 0.9h0m24.7-17.7h0m-2.6 0.5h0m-3.7 1.2h0m-1.5-0.3h0m-2.6 0.9h0m-3 0.7h0m-3 7.4h0m-1.7-1.7h0m-2.4-2.8h0m-1.7-1.3h0m-2.5-1.9h0m-7.7-16.8h0m1.5-2.5h0m1.6-2h0m0.7-3.5h0m13.2 21.2h0m-1 2.3h0m59.5-0.1h0m-2.2-0.1h0m-2.6-1.7h0m-3-0.6h0m-2.6-1.9h0m-3.2-1.5h0m-70.2 20h0m-0.1-1.6h0m54.8-8.5h0m-3.4 0.1h0m-3.2 1h0m-2 0h0m7.6-10.4h0m-0.8-3.2h0m-1.9-2.3h0m-1.2-2.4h0m-30.6 26.1h0m-2.7-1.6h0m-26.7-30.1h0m-1.4 2.5h0m-0.3 3.4h0m57.7 33h0m0.4-2.8h0m-0.1-2.3h0m37.3-44.4h0m-53 1.8h0m-0.7 3.1h0m-0.9 3.9h0m-20.8 28.6h0m2 1h0m0.7 2.8h0m2.1 3.5h0m51.9-58.3h0m-0.7 3.5h0m-0.7 1.5h0m21.9 39h0m1.3-1.6h0m1.3-3.2h0m1.2-2.2h0m-31.3 23.4h0m-1.8-3.5h0m-2.2-2.6h0m-2-2.4h0m-5.2-50.8h0m-0.8-1.7h0m-3.4-2.6h0m-6.4 12.5h0m1.6-2h0m7.9 18.6h0m-0.9 3.3h0m-34.1-8.5h0m-2.7-3.3h0m-1.8-1.6h0m-1.5-3.2h0m-2-2.7h0m84.7 18.7h0m2.6 0.8h0m1.8 2.2h0m-20.2 15.8h0m-9.3-24.8h0m-2.3 2h0m-0.2 3.5h0m1 3.9h0m-1.7 2.3h0m-40.3 25.5h0m2.7 0.9h0m2.2 2.5h0m61.7-47.3h0m-0.7-2.6h0m-0.8-3.1h0m-30.8-14.5h0m4.6 20.5h0m-2.1 1.6h0m-2.9 1h0m-48.3-21.9h0m1.1 1.4h0m-10.9 41.7h0m0.7 3.2h0m2.6 1.4h0m2.6 3h0m2.4 0.9h0m43.4-37.2h0m4-0.7h0m1.5-0.1h0m-36 36.7h0m-0.8 3.7h0m-29.3-13h0m1.6 2.2h0m2.1-0.3h0m18 2.1h0m1.8-3.1h0m0.2-2.5h0m1.1-1.6h0m-1.7 23.3h0m3.3-0.3h0m3.4 0.1h0m64.6-29h0m0.1-1.8h0m0.5-3.4h0m0.7-2h0m2.2-3.7h0m-24.8-17.4h0m-3.5 0.5h0m-3.9-0.6h0m-2.5 0.3h0m-2 53.3h0m-4.8-31.1h0m-1.1-4.2h0m-2.4-2.2h0m-0.5-3.5h0m22.4-15h0m3.6 0.5h0m2.3 0.6h0m3.1 1h0m2.3 1.8h0m3.5 0.8h0m2.4 1.6h0m-7.7-6.5h0m-1.9 1.8h0m-0.6 2.8h0m-52.5 17h0m-1.9 2.6h0m-1.6 2.9h0m-1.3 2h0m33.2-25.1h0m-2.4-0.4h0m-1.7-0.4h0m-4.2-1.6h0m-15.4 37.6h0m-3-3.2h0m-0.9-2.7h0m-1.6-2.5h0m-0.7-3.3h0m52 31.3h0m-3.6-2h0m-1.2-2.2h0m-46.2-51.5h0m1.3 3h0m2.8 2.2h0m1.7 2.6h0m66.7-0.8h0m-2 3.4h0m-0.1 2.7h0m-25.9 44.6h0m-3.5-0.2h0m-2.7 0.3h0m-2.8-0.8h0m-8.8-57.1h0m34.5 22h0m1.7-2.5h0m-72.1-24.2h0m34.6 10h0m0 4.9h0m0.1 3.7h0m-0.8 2.3h0m28.9-0.3h0m-17.5-9.5h0m-2.9-1.9h0m-1.3-1.7h0m39.4 6.2h0m-30.5-15.3h0m1.7 3.3h0m-68.2 12.6h0m-0.4 2.4h0m1.4 3.7h0m72.5 24.3h0m-2.8 3h0m-1.7 1.2h0m-1.4 2.6h0m-3.6 1.4h0m-18.9-51.6h0m2.8 1.7h0m45.6 14.5h0m1 1.9h0m3.6 1.9h0m-69.6 21.4h0m2.6 1.8h0m2.1-0.3h0m0.4-30h0m-2.9 2.1h0m36.4 3.4h0m-3.6 3h0m-1.4 1.6h0m-1.3 3.1h0m41.9 3.4h0m-105.1 10.4h0m4 2.6h0m2 1h0m53.2-2.9h0m4.6-0.8h0m3-0.7h0m2.2 0.4h0m-26.3-12.2h0m-0.3-3.9h0m-0.3-2.7h0m-1.6-2.8h0m-9.9 46.2h0m-1.3-1.7h0m-0.7-2.6h0m-18.3-2.4h0m1.3-2.2h0m1.6-3.3h0m53.8-35.8h0m-4-1.7h0m-2.7-0.1h0m-2.1-0.9h0m-3-0.6h0m-4 0.1h0m42.7 6.7h0m-16.2 32.2h0m0-3.2h0m0.5-2.3h0m1.4-3.7h0m-15-0.3h0m-0.6-2h0m-2-3.7h0m-2.3-2.5h0m-0.6-3.4h0m-57.3 22.5h0m-2.1-3.3h0m53.2-19.7h0m4.1 2h0m1.5 1h0m3.6 3h0m0.9 1.9h0m-22.7-33.6h0m-0.8 3.7h0m0.6 2.7h0m0 2.1h0m-31.9 32.5h0m-1.3-2.1h0m-1.7-2.2h0m-1.3-3.2h0m4.5-13.2h0m1.8 1.4h0m0.6 3.4h0m0.6 2.9h0m2.8 2.6h0m-0.2 2.7h0m-3 3.9h0m1.3-2.4h0m3.5-1.5h0m1.2-3.4h0m3-1h0m-13.4-26.5h0m4.1 2.1h0m8.5 5.4h0m-2.6 3.2h0m-11.8 0.1h0m2.3-2.2h0m1.7 18.7h0m-0.6-4h0m-0.2-1.1h0m1-3.4h0m-0.8-2.4h0m0.1-3.3h0m-0.4-3.6h0m81.3 16.7h0m-3.4 1.5h0m-2.5-0.2h0m-2.6 2h0m17.2 1.3h0m-14.8 20.5h0m0.1-4.3h0m1.6 0.1h0m0.3-1.5h0m-1.1-2.9h0m1.8-7.7h0m0 1.8h0m3.7 0.7h0m4 1.6h0m-0.8-1.4h0m0.7 3.2h0m0.7 2.5h0m-20.4-10.1h0m46.2-92.2h0m-4.3 4.3h0m3.9-1.3h0m-1.5 2.2h0m0.9 1.5h0m4.2-2.6h0m-1.8 2.8h0m-2.4 3.8h0m5-2.6h0m0.3 1.5h0m0.6 1.6h0m-1.1 1.6h0m1.6 0.2h0m-1.4 3h0m5.6-3.2h0m-1.7 3.9h0m2.1-1.1h0m2.3-0.3h0m-0.6 3h0m2.9-0.5h0m0.4 0.4h0m0.6 0.9h0m-1.4 2.4h0m0 2.5h0m-1.4 2.4h0m6.5-3.4h0m-0.6 1.6h0m-1.4 3.3h0m1 0.3h0m1.2-0.1h0m-4.2 4.5h0m1.6 0.7h0m3.6-0.8h0m3.3-1.4h0m-3 4.6h0m0.3 0.1h0m1.9 0.5h0m1.1 1.1h0m1.9-0.6h0m-3.3 4.4h0m2.4 0.5h0m4.6-2.1h0m-3.6 3.4h0m3.7-1.3h0m-1.8 2.4h0m4.5-0.3h0m-2.4 2.3h0m-2.5 4.2h0m5.4-2.8h0m-2.2 3.4h0m3.4-2.1h0m0.6 1.5h0m-24.1-45.5h0m2.1-1.6h0m1.8 0.7h0m-2.2 4.6h0m5.4-4h0m4.1-2.3h0m-5.3 5.8h0m3.3-1.7h0m-2.2 4.6h0m2.9-0.2h0m1.3 0.3h0m0.6 0.8h0m-0.1 2h0m3.4-3h0m0.4 1.9h0m2.6-1.6h0m-1.1 3.3h0m-3.4 5.9h0m3.5-1.5h0m2.4-1.3h0m4.2-3.2h0m-3.4 6.6h0m-0.4 0.6h0m3.8-2h0m0.8 1.8h0m-0.6 1.9h0m1.2 1.3h0m1 0.5h0m-0.1 2h0m3.7-2.6h0m-1.6 2.6h0m1.5 0.3h0m-4.3 6.8h0m5.2-4.1h0m4.7-2.2h0m-4.5 5.7h0m2.2 0.1h0m-0.2 1.3h0m4.8-2.6h0m-5.9 6.7h0m11.7-8.6h0m-6.6 7.3h0m1.4 0.7h0m2.4-1.1h0m2.7-1.2h0m-2.1 4.7h0m-2.7 3.3h0m2.3 0.7h0m3-1.2h0m-0.9 1.3h0m5.6-3h0m-1.5 3.1h0m-0.2 1.2h0m0.3 3.1h0m-0.6 2.5h0m2.8-2.3h0m0.2 1.2h0m2 0.7h0m5.6-6.3h0m-3.7 6.8h0m3-2.1h0m1.6 1.2h0m-1.9 3.2h0m1.8 0.3h0m-1.2 3.7h0m2.9-1.7h0m0.6 1.2h0m1.4-0.1h0m-1.4 3.3h0m0.8 1.1h0m1.1 1h0m4.5-3.9h0m-0.9 3.7h0m2-1.1h0m-43.5-60.7h0m-0.8 2.6h0m1.2 0.9h0m-0.2 3.1h0m2.2-1.8h0m2.2-1.6h0m0.4 2h0m-0.7 2.5h0m2.4 0.2h0m3.2-2.6h0m-0.3 2.6h0m-1.2 2.3h0m5.4-5.1h0m-0.5 2.2h0m2.2 0.4h0m-0.4 2.2h0m2.8-1.8h0m-1.3 4.3h0m0.2 0.8h0m2.3-1.5h0m2 0.5h0m-1.3 3.3h0m3.5-2h0m-1.5 4h0m2.2-2.1h0m-0.5 3.9h0m1.1-0.1h0m2.4-1.6h0m0.1 1.5h0m0.9 2h0m1.4-0.1h0m-3.7 4.5h0m5.3-3.4h0m1 2h0m1 0.2h0m2-0.7h0m1.3 1.1h0m-3 4.5h0m3.2-2.5h0m0.9 2.1h0m-1.2 1.8h0m4.4-1.4h0m-1.4 2.6h0m3.3-1.4h0m-2.6 4.3h0m4.9-4.2h0m0.3 1.5h0m-1.9 3.4h0m2.6-0.7h0m0.5 1.7h0m-0.2 1.7h0m1.3 0.3h0m-1.2 3.1h0m2.6-0.7h0m-0.9 2.8h0m1.8-1.1h0m-0.9 2.6h0m3.5-1.9h0m1.8-0.3h0m0.8 2.2h0m0.2 1h0m-45.6 14.1h0m3.8-1h0m-4 3.9h0m-2 2.6h0m-0.8 1.5h0m5-0.9h0m-0.4 1.1h0m2 0.4h0m-3.4 2.5h0m7-1.9h0m-4.4 3.4h0m4-0.4h0m-4.2 4.1h0m9.9-3.9h0m-7.5 4.7h0m2.7 0h0m3.8-0.5h0m-6.3 4.3h0m3.4 0.8h0m1.8 0.3h0m-2.2 1.8h0m1.2 0.6h0m5.9-1.9h0m-7.3 6.4h0m3.6-1.4h0m-0.9 2.1h0m-1.8 2.1h0m5-0.5h0m3.8-1.1h0m-3.6 3.7h0m-0.8 1.4h0m2 0.1h0m2.8 0.5h0m-3.7 2.5h0m1.8 0.4h0m-2.3 2.3h0m27.7 11.7h0m-4.1-1.8h0m-1.7 2h0m-3.8-0.5h0m-16.4 2.8h0m2.9-0.6h0m3.2-0.3h0m1.9-0.7h0m16.4 8.8h0m-0.8-1.3h0m-3.8-2.7h0m-1.4-1.3h0m14.2-1.9h0m1.4-0.9h0m-14.2-1.1h0m-1.2-1.4h0m-3.1-1.8h0m-1.7-2.4h0m4.7 9h0m3.6-0.9h0m-16.7 3.4h0m-3.3 2.5h0m-2.8 1.9h0m11-12.5h0m-2.3 0.6h0m-4.1-2h0m14.2 1h0m2.6 2.5h0m0.6 0.6h0m-6.5 0h0m3.4 2.6h0m2.5 3.4h0m0.5-8.5h0m-4.2 1.2h0m-0.5 1.1h0m-3.9 3.4h0m0.8 1.4h0m1.1 1.8h0m0.6-8.9h0m-3 2.8h0m-2 1.9h0m-11.9 3h0m2 1.7h0m-0.2 0.5h0m4.1-2.1h0m10.7-10.6h0m1.1 2.8h0m1.2 2h0m3.4 3.1h0m1.6 2.7h0m19.6 0.8h0m0.6 4.2h0m-2.1 2.6h0m-1 2.8h0m3.5-16.2h0m0.6 3h0m-0.1 3.2h0m-15.7 1h0m-2.7-1.6h0m-3.9 0.6h0m-2.3-0.5h0m3.2-5.2h0m-2.4-0.2h0m-1.9-0.3h0m-4.3 1h0m-3 0h0m22.4 13h0m-1.9 3.3h0m-2.8 1.3h0m-20.6-22.8h0m16.2 17.6h0m-2.1-1.1h0m-0.8-3.7h0m-11.9-9.2h0m2.5-2.4h0m1.5-1.3h0m7.6 0.7h0m2.8 0.7h0m3.3 0.7h0m1.7 2h0m2.4-3.7h0m-8.8 21.2h0m3.4-2.5h0m-13.2 0h0m-2.8-0.9h0m-1.6-0.7h0m-4.3-1h0m-2.9-0.2h0m-2.6-14h0m2.5 3.3h0m1 1.5h0m3.5 0.7h0m12.8-9.3h0m4.4-0.6h0m-2.2 9.9h0m2.9 2.3h0m0.9 2.4h0m2 10.8h0m0.4-3.4h0m-14.4-1.4h0m-0.8-2.6h0m-2.3-2.9h0m20.7-2.4h0m-3.9 1.7h0m-2.4-0.2h0m11.5 3h0m0.1 2.7h0m3.2 3.4h0m-5.8-3.3h0m-2.7-0.4h0m-16.2-35.7h0m2-4.6h0m-0.3 9.3h0m1.8-1.8h0m0.8 2.1h0m0.8-1.2h0m1.9-3.4h0m1 4.7h0m1.8-2.1h0m1.2 1.9h0m0.6-0.2h0m1-1.2h0m1.2 5.8h0m1.4-4.5h0m1.2 1.3h0m-7.5-13.5h0m0.9 0.3h0m1.6 0.3h0m1.5-1.2h0m0.7-1.5h0m0.3-0.5h0m1.2-0.8h0m2.6 2.9h0m0.1-3.7h0m2.2 3.7h0m2.2-1h0m-2-4.6h0m0.9-0.4h0m3.2 2.8h0m1.6-1.2h0m-0.5-2.9h0m-0.3-2.2h0m5.1 6h0m0.5-0.2h0m-70.7 7.6h0m1.1 1h0m0.6 2.8h0m-0.3 1.4h0m1.8 13.1h0m3.6 0.6h0m-0.9 3.3h0m5.2-0.2h0m-4.4 3.6h0m2.3 0.8h0m0.2 3.5h0m1.5 2.3h0m-0.7 5.2h0m1 1.3h0m44.6-57.3h0m1 0.8h0m5.9-3.3h0m0.9-1.3h0m-205.1 104.6h0m-1.8-4h0m-0.7-0.9h0m5.4 10.7h0m-0.8-3.3h0m0-2.8h0m-0.4-2.9h0m8 0.1h0m-2.4 0.4h0m-2.1 2h0m-1.3 3.5h0m-2.9 2.5h0m18.2 11.1h0m-2.6 1.4h0m-2.9 2.5h0m-15.1-18.3h0m-1.9-3h0m-1.8-3.1h0m-1.1-2h0m8.5 4.7h0m3.4 0.6h0m-11.5-0.5h0m4-1.1h0m9.4 9.7h0m-3.5-0.4h0m-3.6 0.9h0m-4.8 0.9h0m7.9 14.1h0m36.4-7.4h0m0.2 2.4h0m2.3-3.2h0m2.5 9.8h0m2.7-6.9h0m0.5 2.4h0m1.2 3h0m2.3-3.3h0m3.1-1.8h0m-0.5 4h0m0.5 3.3h0m1.7 0.2h0m4.7-3.2h0m0.6 2.2h0m0.5-0.4h0m2.1 0.8h0m-0.9 3.3h0m4.5-5.2h0m0.5 3.7h0m1.6 0.2h0m3.8-1.6h0m0.1 6.4h0m4-0.8h0m-90.9 16.1h0m0.6 1.4h0m0.7 2.6h0m1 0.2h0m0.3 0.8h0m1.7-0.4h0m3.8-3.9h0m-1.2 3.9h0m0.6 2h0m2.2-2.5h0m2 0.8h0m-2.3 5.9h0m2-1.6h0m2.8-0.3h0m1.4-0.5h0m1.6 4.6h0m3.4-2h0m0 3.7h0m2.1 0.7h0m4.1-1.1h0m1.7-0.9h0m0.6 2.7h0m-1.8 3.4h0m1.8-0.7h0m1.6-0.2h0m2.7 0.2h0m-1.8 2.7h0m0.7 1.3h0m-0.5 3.2h0m2.5-0.9h0m2.4-1.3h0m0.3 1.9h0m3.9-3.4h0m-4.2 7.1h0m3.3-1.9h0m2.2 0.3h0m2.4-0.3h0m-0.5 2.3h0m-14.4-9.1h0m1-2h0m0.6-1.8h0m1.8-3.6h0m1.8 5.1h0m2.7-0.6h0m0.6-1.4h0m2 4.3h0m2.8-0.3h0m-0.5-8.2h0m2.1 5.2h0m0.3-2.9h0m2.2 2h0m1.9 1h0m0.8 0.1h0m2.3-0.2h0m1.7-1.2h0m1-0.6h0m-0.2-3.2h0m1.5-0.5h0m2 2h0m1.2-4.2h0m4.6 1.9h0m1.8 1h0m2.9-1.3h0m-1-5.3h0m3.1 3.2h0m0.4-1.7h0m1.6-1.9h0m1.2 0.2h0m1.8 1.7h0m0.5-4.5h0m0.5-0.8h0m2 1.8h0m2-0.1h0m1.9-0.7h0m0.1 3.7h0m1-0.9h0m1.1 0.7h0m1.6-0.4h0m0.7 1.6h0m2.6-3h0m0.2 2h0m1.5 0h0m1.2 0.6h0m2.2 0.1h0m-69.2 38.3h0m0.6 1.8h0m1.6-1.7h0m1.2 0.7h0m0.5 0.8h0m3.3-0.3h0m0 1.9h0m1.7-1.2h0m3-4.7h0m0.4 4.3h0m0.4-0.9h0m0.8 2.1h0m2.2-1.1h0m-0.2 3.2h0m0.6 3.3h0m2.6-5.1h0m-0.5-4.2h0m3.6 4.9h0m-0.3-3.1h0m1.3-0.5h0m-0.2-1.9h0m2 0.4h0m1.1-0.5h0m2.2-1.8h0m0.1-0.4h0m2.5 1.4h0m1-1.4h0m0.8 0.2h0m2.2 1.1h0m-0.4-3.2h0m2.2 1.5h0m-0.2-3.4h0m1.2-0.8h0m22.9-10h0m-1.2 3.4h0m2.4-1.6h0m0.3 4.6h0m3.8-2.3h0m1.7 2.1h0m-0.2 4.6h0m2.8-1.9h0m0.9 2.7h0m0.4 3.3h0m3.3-4.5h0m2.1-0.1h0m-2.6 6.2h0m2.9-0.3h0m2.1-0.2h0m2.4-3.9h0m1.6 1h0m0.3 0.3h0m2.1 2.4h0m-88.7 14.1h0m-2.6 3.7h0m3.6-0.7h0m-0.5 5.1h0m0.1 0.7h0m3.4 3.3h0m-0.5 4.1h0m3.9-1.3h0m-1.4 2.8h0m0.4 3h0m1.9 1.3h0m0.7 0.9h0m-2 1.3h0m-2.6 3.1h0m1.7 2.1h0m4.6-0.7h0m-1.8 2.3h0m2.2 0.3h0m-1.4 1.5h0m1.4 1.8h0m4.7-0.3h0m-26.7 1.6h0m-0.7 2.3h0m3.2-1.8h0m1.5-0.5h0m-2.2 6.1h0m4.3-4.2h0m-0.1 1.3h0m2.7 2.2h0m0.2 1.1h0m1 2.9h0m2.2-2.1h0m-1.8 5.8h0m5.8-6h0m-3.1 5.5h0m4.4-1.1h0m3.2 0.7h0m-2.3 4.8h0m5.2-5.3h0m-2 5h0m2.2-0.1h0m29.1-57.5h0m0.7 1h0m1 1.1h0m-1.8 2.9h0m5.3-2.7h0m0.8 0.9h0m-0.6 1.8h0m0 3.1h0m3.8-0.4h0m-0.8 3.3h0m-0.8 2.3h0m3.1-1.7h0m2.6-0.4h0m-1.5 2.7h0m3.1-1h0m-0.2 1.2h0m-0.8 3.2h0m1.4 0h0m0 1.6h0m-1.2 3h0m2.2-1.2h0m2.3 0.3h0m1.6-0.2h0m-1 3.6h0m4.8-1.5h0m-2 3.1h0m-0.1 2.6h0m0.6-0.1h0m2.5-0.4h0m-248.8-303.7h0m-0.1 3.5h0m0.6 0.1h0m1 2.2h0m5.1-5.9h0m-2.8 7.7h0m1.3-0.5h0m1.7 1.3h0m2.8-3.1h0m-0.5 2.4h0m1.4 0h0m-2 6.1h0m0 1.9h0m6.4-7h0m0.7-0.7h0m1.2 0.4h0m-0.8 4.5h0m0.8 1.4h0m2.6-1.4h0m2.8-3.8h0m-1.7 7.7h0m0.9-0.8h0m1 1.6h0m3-3.3h0m0.8 1h0m1.4 3.1h0m2.6-4.7h0m-0.9 9.9h0m4.3-7.6h0m-0.6 3.4h0m0.7 3.1h0m1.8-1.3h0m2.6-2.3h0m-2.2 5.9h0m2.9-1.8h0m-0.1 0.9h0m4.2-3.6h0m-1.6 3.8h0m3.1-0.3h0m1.5 0.7h0m2.6-2.9h0m36.5-14.5h0m2.7 1.1h0m-15.7-6.6h0m2.2 2.2h0m-1.4 3.4h0m3.3-4.3h0m-0.4-1.3h0m1.5-3.3h0m-1.4-3h0m-2.7 0.8h0m2.4-0.9h0m18.8 1.6h0m-2-1.6h0m-2.8-0.7h0m-3.3 0h0m8.8 1.6h0m-14.7 0.2h0m18.7 11.9h0m-2.5 0.3h0m-2.7-1.3h0m-3.8 0.8h0m-3.7 0.2h0m6-8.1h0m-1.8 2.6h0m-1.4 2.7h0m-2.4 2.4h0m8.6-11.3h0m-2.1 1.8h0m-4.5 0.5h0m-1.5 1.6h0m5.4 5.3h0m-1.2-1.9h0m-4.5-2h0m0.1-2h0m-13.6 12.7h0m2.5-1h0m3.4-0.7h0m10.4-4.9h0m-3.7 2.7h0m-6.5-7.7h0m-3-1.2h0m-1.3-3.2h0m20.8 1.1h0m2.3 3.3h0m2.1 3.2h0m1.8 2.6h0m-14.7-6.9h0m3.5-0.8h0m1.6-2.2h0m-4.2-0.7h0m3.8 1.1h0m43.9-3.7h0m1.4-0.6h0m-0.1 4.8h0m2.9-4.7h0m0.3 4.6h0m1.1 0h0m1.3-1h0m0.5 0.8h0m1.4 1h0m1.7 0.5h0m0.6-0.5h0m0.5 5.8h0m2.6-6.6h0m1.3 1.5h0m1.3-0.7h0m1.2 1.1h0m0.6 1h0m2.5-6.5h0m0.5 2.6h0m1.1 0.9h0m0.6 4.5h0m2-1.6h0m-0.6 5.5h0m2-4.6h0m1.7 1.8h0m0.7-0.3h0m2.2-4.6h0m1.1 3.9h0m1-1.4h0m1.2 0.1h0m1.1 1.3h0m1.1 0.9h0m0.8 2h0m3.1-6h0m-1.1 5.4h0m1.1 0.3h0m0.4 5.6h0m1.3-1.3h0m-59.4 30.4h0m3.3-1.2h0m1.7 0.7h0m0.4-1h0m-1.9-2.7h0m-2.9-0.2h0m3.8 22.7h0m2.7 0.9h0m3.1-0.2h0m3.4-11.2h0m-1.4-1.3h0m-4.4-0.5h0m-4.5 12.4h0m-1.5-1.4h0m-3.6-0.2h0m-3.4-0.5h0m-3.2-1.6h0m6.4 2.9h0m0.9 1.9h0m5.1-39h0m3.2-1h0m2.9-1.6h0m-15.9 32.6h0m-0.4-2.5h0m-0.3-3.3h0m0.7-3.1h0m-0.2-2.6h0m-6.5-16.4h0m1.7 0.3h0m-4.1 36.5h0m3.6 0.2h0m1.7 1.1h0m3.5-1.4h0m3.6 0.7h0m-0.2-45.8h0m-4 1.5h0m10.7 16.8h0m1.7 2.1h0m1.9 2.4h0m2 2.7h0m2.9 1.2h0m-17.3 7.4h0m-0.5 2.5h0m7.4-36.1h0m2.8 0.8h0m4.3 0.7h0m-21.6 28.3h0m-2.8-1.3h0m-2.5-1.4h0m27.3 10.9h0m4.1 1.6h0m-7.3-35.5h0m5.1-2.1h0m1.9-1.5h0m0.5 11.6h0m-2.9 1.2h0m-2.1 1.8h0m-1.7 1.7h0m-3.1 1.1h0m-10.6-7.8h0m-4.4 2.2h0m-0.9 2.1h0m-1 2h0m10.6 2.6h0m1.4 1h0m-3.9 17.9h0m1.2 3h0m-1 3.5h0m-0.2 1.7h0m0.4 4.1h0m1.9-22.7h0m2.4-1.7h0m-13.7 11.7h0m1.1-3.5h0m0.7-2.7h0m0.1-3.4h0m25.2-16.2h0m-2-2.1h0m1.8-0.7h0m-17.6 37.6h0m1.1-2.5h0m1.6-2.4h0m0.3-2.2h0m1.9-4.1h0m-4.5 4h0m-2.5 2.8h0m-10.7-22.1h0m0.7 3.6h0m2.5 1.3h0m1.2 3.6h0m-0.7 7.9h0m-3.4 0.2h0m-3-0.2h0m10.4 3.9h0m-2.9-2.5h0m-2.2-1.3h0m-2.6-4.3h0m-2-0.7h0m4.7-3.3h0m-1.6-1h0m-1.3-2.7h0m-4.6-3.1h0m-0.5-1.3h0m23.4 33.2h0m-1.8-1.9h0m-4-1.5h0m-2.4-0.8h0m5.1-42.5h0m3 0.5h0m3.3 1.4h0m1.7 37.5h0m3.9-0.6h0m2.4-0.4h0m-6.1 8.5h0m-4.2 0.5h0m-1.4-1.2h0m-3.4-2.2h0m14.3-39.1h0m0.2-3.2h0m-0.1-1.6h0m-0.5-3.8h0m-2.9-2.3h0m-12.8 52.7h0m1.8-1.6h0m1.6-26.5h0m-2.3-3.2h0m-0.9-2.5h0m4.8 12.9h0m2.7 1.8h0m3.3 2.4h0m2 0.6h0m-15.4-7.9h0m0.6-2.7h0m-133.2 57h0m1.3-3.4h0m26.1-5.8h0m0.2 2.5h0m-1.6 2h0m-0.7 4.5h0m-2.1 3.4h0m-19.2-40h0m4.2 0.8h0m2.6 0.9h0m1.7 0.6h0m3.6 0h0m-14.8 27.1h0m0.8-3.4h0m0.8-2.7h0m1.2-3.1h0m0.8-2h0m-0.6-3.4h0m2.9-2.9h0m-3.8-6.8h0m-0.9-2.8h0m-1.5-2.4h0m22.3 42.3h0m2.7-0.5h0m-0.7-1.1h0m-1.4-2.2h0m-10.7-18.8h0m-1.1 4.5h0m0.6 2.1h0m-0.3 5.4h0m0.4 2.2h0m2.7 3.3h0m-11.9-13.6h0m0.5-17.2h0m-3.2-2.8h0m-2.8-2.3h0m20.4 36.2h0m-5.8 3.4h0m-2.2-2.3h0m5.4-31h0m11.2 33.8h0m2-2.5h0m-16.4-39.4h0m3.1 0.4h0m1.7 1.8h0m3.1 1.6h0m1.2 0.1h0m3.7 2.2h0m-4.3 18.2h0m-3.3 0.3h0m-4.8 0.5h0m-1.3-0.9h0m9.8 5.1h0m2.5-1.1h0m-27.5-10.8h0m1.8 0.2h0m8.9 6h0m1.2 2.5h0m1.2 3.2h0m1.4 2.7h0m3.8-8.2h0m2.9 2.1h0m4.2-0.4h0m3.1 0.6h0m3.2 9.9h0m-1.4-1.4h0m-3.7 0.6h0m-3.3 1.4h0m-3.3-1.2h0m-0.5-3.1h0m0.5 3.9h0m-1.2 1.1h0m-11.5-31.6h0m1.9-1.9h0m2.3-3h0m16.8 19.4h0m2.5-1.8h0m2.8-1.4h0m62.3 15.8h0m-1.5 1.1h0m18 17.2h0m1.3-2.4h0m-1.5-3.7h0m-7.5-8.9h0m3.4-0.5h0m3.3-0.4h0m2.3 0.8h0m-21.9-3.4h0m-0.7 2.1h0m-3.2 2.4h0m-1.6 1.6h0m21.7 1.7h0m-1.2-1.9h0m-2.4-3.5h0m-2.1-2.1h0m0.3-1.4h0m-2.9-3.5h0m-0.3-3h0m18.1 28.7h0m2.1-2.1h0m2.1-1.7h0m2.1-2.4h0m5.8-8.4h0m-3.8 1h0m-13.4 0.2h0m-3.5 3.3h0m-0.4 0.3h0m3.3 7.4h0m1.7-1.7h0m5 0.6h0m-30-5.4h0m1.8-1h0m-31.6-34h0m37.8 40.1h0m2.8 1.2h0m2.7 1.8h0m3.7 0h0m-12.8-23.5h0m1.3 2.7h0m0.3 3.2h0m31.9 18.4h0m-3.3 0.2h0m-2.5-0.4h0m-3.2-1h0m-2.6 0.3h0m-3.7 0.7h0m-36.6-35.5h0m-1.9-1.6h0m-4.1 0.4h0m-1.9-1.4h0m33.1 26h0m-0.2 2.5h0m-1.5 3.1h0m-0.5 4.2h0m-12.1-25h0m2.7 1.5h0m3.1 0.9h0m2.9 3h0m1.3 1.3h0m16.3 17.3h0m-4.7-0.1h0m-1.6-2.7h0m22.6-7.4h0m-1.9 2.2h0m-2.8 1.1h0m-42.6-24.7h0m2.8 3.4h0m2.6 0.3h0m2.8 2.2h0m-13.9-6.6h0m2.9 2.1h0m1.9 1.1h0m29 8h0m-1.8 3.4h0m1 8.8h0m4.2-2.4h0m1.4-2.4h0m-39.2-18h0m-2.8-2.1h0m-2.1-0.9h0m-4.1-0.3h0m-2.4-1.5h0m48 36.8h0m4.3-0.6h0m3 1.2h0m4.5-0.8h0m2.4 0.8h0m3.5-0.3h0m-52.9-11.5h0m-0.1-3.7h0m-7.8-17.2h0m12.5 7.7h0m-2.6-2.3h0m-1.8-2.9h0m-0.6-2.5h0m-1.2 6h0m-2.3-1.2h0m-2.3-0.8h0m-3.3-0.3h0m10.4 19.6h0m2.8-0.5h0m3.6-0.9h0m50.8 5.9h0m-7.8-2h0m1.8-1.6h0m4.4 1.3h0m2.9-0.9h0m-67.1-13.3h0m-1.2-13.3h0m-2.6-2.3h0m-3.5-2.1h0m54.8 94.4h0m1.5 2.1h0m-1.5 2.8h0m0 5h0m0 0.1h0m-10.9-17.7h0m-2.8-1h0m-2.8-1.6h0m-2.7-1.8h0m-40.1 0.4h0m3 0.7h0m3.5-1.2h0m3-14.2h0m-0.9 1.6h0m-2.5 4.1h0m30.2-6.7h0m0.5-2h0m-1.2-4.3h0m-1.3-3.1h0m17.6 8.6h0m-19.4 31.1h0m-35.2-16.6h0m2.6-3.2h0m0.7-1.2h0m2.5-2.8h0m1.9-1.7h0m14.7 23.5h0m-0.3 2.5h0m-2.2 1.9h0m23.3-2.7h0m-2.9-24.6h0m1.9-2.7h0m1.1-2.5h0m1.4-4.6h0m1.3-0.5h0m15.2 16.3h0m-2 1.9h0m0 2.9h0m-1.8 2.5h0m-1.7 3h0m-1 2h0m-5.2-35.2h0m-6.8 30.4h0m-18.7-2.9h0m1.8-18.1h0m-0.2 2.6h0m-1.7 3.3h0m-19.2 18.3h0m-1-1.9h0m-2.3-2.4h0m-1.3-2.4h0m-1.4-1.1h0m12.6 8.5h0m-1-2.5h0m-1.3-2.8h0m-0.2-2.2h0m36.6 11.5h0m-28.8-18.9h0m-1.8 2.6h0m-0.6 2.9h0m-2.9 1.6h0m-0.3 2.9h0m4.5-21.4h0m3.1 0h0m3.2 1.8h0m2.3 1.4h0m3.5 0.8h0m8 12.4h0m-7.4 19.2h0m1.2-0.6h0m11.7-45.4h0m2.4 2.8h0m3.1 0.8h0m2.1 0.5h0m-20.2-5.7h0m1 3h0m0.7 1.7h0m-35.5 24.3h0m1.1 3.3h0m-0.7 2.6h0m1.1 3.8h0m48.6-49h0m-2.4 2h0m-1.4 1.9h0m10.3 30h0m-2.4 1.7h0m-3.1-0.1h0m-3.2 1.6h0m-2.3 1.7h0m-41.6 1.4h0m-0.1-1.9h0m15.8-0.9h0m-2.6 1.8h0m-2.9 0.8h0m-2.8 1.6h0m-1.7 1.8h0m52.5-2.9h0m-2-3h0m-1.3-2.1h0m4.3-23.2h0m-2.3-2.4h0m0-2.5h0m-2.8-2.6h0m-0.8-1.8h0m-21.6 31.6h0m-2.2 0.9h0m-26.2 10.3h0m2.5-1h0m16-12.3h0m-0.8 4h0m24.4-22.6h0m-2.6-0.6h0m-3.6-2.1h0m-21.1 40.4h0m26.3-19.6h0m-1.9-3.2h0m0.1-2.9h0m-1.2-2.2h0m0.2-2.9h0m23.4-7h0m-2 2.3h0m-3.4 0.8h0m-3.8-0.4h0m-21.6 38.4h0m0.4 3.2h0m0.7 1.7h0m-34.8-19h0m-2.1-1.6h0m-0.6-4h0m-1.7-2.1h0m63.8-7.3h0m2 0.1h0m2.6 2.3h0m-57 1.5h0m-1.8-0.5h0m38.3 18.2h0m2.5 2.7h0m2.8 0.4h0m1.4 2.7h0m-8.8-15.7h0m-2.3-2.9h0m-8.7-2.1h0m25-10h0m3.5 0.8h0m-29.9 9h0m-1.8 2.8h0m-2.3 3.6h0m-0.9 2.3h0m8.4 5.8h0m-3.3-11.3h0m4.3 0.2h0m2.4 1.1h0m30.8 2.7h0m-1.1 3.4h0m1.2 2.4h0m-0.7 2.7h0m-58.7-6.6h0m-0.5 1.8h0m0 3.4h0m-1.7 3.4h0m8.9 2.9h0m-1.6 1.8h0m55.4-14.5h0m0.8 2.1h0m1.2 2.1h0m2.6 2.4h0m-18.4 10.8h0m-32-41.4h0m4.5 2h0m2.3 0.3h0m3.9 1.3h0m2.6-0.1h0m-4.4 31.7h0m1.3-2.7h0m0.8-3.5h0m1.7-0.3h0m-1.7 1.8h0m-6.2 2.4h0m1.7-0.3h0m4.2-1.1h0m2.2-2.1h0m-39.1 1.6h0m-0.5-2h0m32.3-5.5h0m3.4 1.3h0m16.5 5.1h0m1.2-3.5h0m1.6-1.3h0m2.2-14.9h0m3.1 0.1h0m2.2-2.9h0m2.9 0.3h0m-24.6 24.7h0m-1.3 2.4h0m-2.1 2.5h0m-1.6 3.1h0m-72.3 4.4h0m2-2.6h0m0-1.8h0m2.1-2.6h0m-11-29.5h0m1.6 1.7h0m1.8 4.2h0m11.7 9h0m1.3-3.3h0m-0.1-2.2h0m1.4-4.6h0m-14.7 29h0m0.5-3.1h0m1.4-3.5h0m14.7-5.7h0m0.9-1h0m1.7-2.3h0m2.6-3.2h0m0-3.4h0m-14.7 8.8h0m-2.8-0.9h0m2.2-10.6h0m1.8-0.2h0m0.2-7.3h0m3.1-1.2h0m3.4 0h0m1.9 0.8h0m2.9 0.8h0m3.8-1.5h0m-11.3 11.8h0m-2.3 0h0m-2.5-0.6h0m-3.3-1.9h0m-2.9-1.8h0m10.5-1.5h0m-2.1 2.6h0m-2.3 1.8h0m-1.7 3h0m-0.3 2.2h0m6-10.9h0m-2.6 1h0m-3.1 1h0m0.6 15.9h0m-1.5-1.7h0m-3.9-11.5h0m2.5-1.9h0m2.9-1h0m10.7 28.4h0m-3.9 1.6h0m-2.2 1.3h0m-1.7 0.7h0m-2.3 3.4h0m-5.4-28.8h0m-2.4-1.8h0m-3.7-1.1h0m-2-2.4h0m22.6 17.2h0m1.9-1h0m-4-36.3h0m-14.9 50.7h0m3 1.1h0m-0.5-20.3h0m-0.7-1.4h0m7-25.2h0m-5.1 0.3h0m-2.9 0h0m-3 0.4h0m-4.5 0h0m26.7 38.7h0m10.4-19.8h0m-1.7-3.4h0m-0.3-2.4h0m-30.5 27.8h0m1.3 3.3h0m6.6-44.1h0m-1.6 1.8h0m-2.8 2.5h0m15.8 39.9h0m-0.9-1.7h0m6.4-12.9h0m2.7-0.6h0m2.7 0.1h0m-3.1-19.3h0m0 3h0m1.3 2.2h0m-15.7-3.8h0m0.1-3.2h0m-0.5-1h0m-2.9-4.4h0m-0.1-4.8h0m20.2 36.6h0m13.5 31.6h0m-0.1-2.8h0m0.9-2.3h0m15.8 11h0m0.8-3.2h0m-18.2-3.1h0m1.8 2.9h0m0.1-2.7h0m1.9 1.1h0m6.3-6.5h0m0.4 2.6h0m0.9 3.7h0m0.4 3.7h0m6.2-0.7h0m2.7-2.1h0m-5.4 9.6h0m-1.7-3.5h0m-4.4-1.8h0m15.5-9.6h0m-1.2-2.5h0m-0.3 3.3h0m-1.5 0.9h0m-4.1 1h0m-1.6 0.9h0m-9.6 2.8h0m0.6 2.5h0m3.5 2.7h0m0.7 1.5h0m7.2 2.2h0m-2.8-0.3h0m-3.6-1h0m-4.2 0.9h0m1.1 0h0m12.7-1.4h0m-2.5-2.8h0m-0.9-2.7h0m-4-1.3h0m78.7 13.2h0m1.8 1.8h0m-1.7-1h0m-10.4-13.3h0m1.3 2.1h0m3.6 0.6h0m-8.2-1.5h0m0.3-2h0m-2-3.9h0m27.4 14.1h0m3.3-2h0m-20.3-0.5h0m1.1 1.7h0m1.3 2.7h0m3.2 2.2h0m1.2 2.8h0m-20.5-13h0m0.9-2.1h0m28.2 0.6h0m-0.5 4.3h0m-0.7 3.1h0m-1.1 1.7h0m-4.6-4.7h0m3.8-1.6h0m2.7-1.6h0m2.8-1.7h0m-21.5 9.5h0m1.9-2.9h0m1.1-2.3h0m-8.9 6.7h0m0.9 1.5h0m3 2.4h0m18.4-15.4h0m-4.8-3h0m-3-1.9h0m-0.7-1.2h0m-2.6-1.5h0m5.1 3.6h0m-3.3 3.5h0m11-1.3h0m0.6 2h0m0.2 2.2h0m0.9 3.8h0m0.2 2.8h0m1.8 1.7h0m-18.4-12.1h0m4.2-3.3h0m-142.4 14.8h0m3.9-2.7h0m1.3 0.8h0m-1.9 3.6h0m1.8-0.2h0m1.1 4.9h0m0.6 1.4h0m4.7-2.9h0m-0.2 4.3h0m0.4 0.4h0m1 2.1h0m1.2 0.7h0m-0.3 1.5h0m3.2-0.9h0m1 1.1h0m-0.2 1h0m-3.7 3.8h0m5.1-1.9h0m-0.7 1.6h0m2.8 0.3h0m0.3 1.6h0m2.3 1.3h0m-3 3.1h0m5.3-1.5h0m-0.8 1.1h0m3.2 1.4h0m-2.2 3.4h0m2.4-0.6h0m-1.3 2.3h0m-2 2.9h0m-0.2 1.5h0m-15.7 52.2h0m-0.5-1.6h0m5.1 5.8h0m-1.3-2.7h0m-3.3-6.5h0m5.2 7.1h0m1.9 0.5h0m-2.3-4.7h0m0.5-0.1h0m2.9 3.6h0m-2.8-5.5h0m9.8 13.1h0m-3.5-6.1h0m0.9-0.5h0m-1-3h0m-0.5-2.1h0m3.6 4.5h0m-5.9-9.8h0m7.4 9.5h0m-10.1-16.8h0m5.8 7.9h0m0-1.3h0m4 4.3h0m0.5 0.1h0m0.4-1.2h0m3 3.3h0m-1.8-4h0m0.6-0.3h0m0.9 0.9h0m-4.4-9.6h0m3.3 4.6h0m-0.5-2.3h0m-0.5-2.4h0m6.3 9.5h0m-8.1-15.5h0m4.3 5.1h0m4.8 7.6h0m6.5 11.5h0m-1.2-3.9h0m-3.1-7.6h0m2.2 2.6h0m-0.8-2.4h0m2 1.1h0m-3.9-7.6h0m1.2 0.4h0m0.4-1.2h0m-0.6-2.9h0m0-0.8h0m4.7 7.9h0m8.3 12.7h0m-10.5-20.9h0m6.2 10.3h0m-1.7-4.1h0m1.6 1.7h0m2.3 2.4h0m-5.8-13.1h0m1.9 2.1h0m2.2 2.4h0m0.4 0.4h0m-2.5-6.6h0m3.1 4.6h0m1.7 2.2h0m-3.9-9.4h0m4.7 7.2h0m0.9 0.6h0m4.3 6.2h0m-1.7-4.1h0m-2.1-6.1h0m2 1.7h0m-0.2-1.1h0m-3-7.7h0m8.9 15.8h0m-3.5-7.6h0m2 2.1h0m-0.2-1.9h0m1.4 0.9h0m4 6.2h0m-5.5-12.6h0m1.7 2.5h0m-1.4-4.3h0m3.1 4.6h0m2.1 1.8h0m-1.5-3.6h0m-3.6-6.3h0m4.5 4.5h0m4.1 5.2h0m1.8 1.4h0m-4.8-7.8h0m-0.6-2.5h0m5 5.5h0m-8.8-13.1h0m8.2 10.4h0m4.1 4.5h0m-2.2-4.1h0m-0.3-1.7h0m6.1 7.2h0m-6.9-10.6h0m2.5 2.1h0m7 8h0m-1.9-3.7h0m-2.8-4.4h0m2.5 1.6h0m-0.6-2.3h0m4.1 5h0m-0.1-1.6h0m-5.5-8.7h0m2 1.7h0m3.7 3.5h0m-0.3-1.7h0m4.6 6h0m0.1-1.1h0m-9.2-15.1h0m6.6 9.2h0m1.7 0h0m0.1-0.3h0m-5.9-9.4h0m6.5 7.1h0m-0.9-1.9h0m0.1-0.3h0m9.6 9.9h0m-14.7-18.4h0m6.1 5.8h0m4.9 5.1h0m5.1 4.2h0m-5.3-6.8h0m-5.1-7.3h0m7.1 7.2h0m-2.7-4.4h0m-1.1-1.5h0m3 1.7h0m-5.2-6.6h0m8.2 8.3h0m1.8 1h0m2.5 1h0m-7.5-9.2h0m2.6 1.7h0m-1.4-3h0m1.3 1.3h0m1.1-0.1h0m2.5 1.9h0m-7.9-10.7h0m5.2 5.2h0m2.4 2.3h0m-0.2-1.8h0m3.4 2.7h0m0.1-0.8h0m-1.8-3.4h0m1.5 0.9h0m1.5 0.1h0m7.1 10.5h0m-9.2-16.3h0m3.6 4.6h0m0.8-0.1h0m6.3 8.9h0m-8.4-13.8h0m4.7 5.4h0m-2.5-4.6h0m-1.6-3.6h0m9 11.8h0m-0.3-2h0m-3.6-6.3h0m0-1.1h0m0.8 0h0m4.1 4.9h0m-2.8-5.8h0m0.3-0.8h0m1.8 1h0m-5-8.4h0m10.8 14.5h0m-4.9-8.5h0m3 3.4h0m-99.8 45.6h0m2 3.3h0m0.2-3.7h0m3 4.1h0m-0.2-4.5h0m3.5 6.2h0m-1.4-6.5h0m1-2.4h0m1.5 1.4h0m1.7 2.6h0m1.7-0.7h0m-0.2-2.2h0m0.4-3.5h0m3 3.9h0m1.9 2.1h0m0.2-3h0m1.3 0.8h0m0.1-5.9h0m1.9 5.3h0m1.3-2.1h0m1.6 0.1h0m0.3 1.7h0m2.1-2.7h0m0.8-0.3h0m1.6 4.3h0m0.9-0.4h0m1.3-1.9h0m0.9-3.7h0m0.8 1.3h0m2.3 3h0m0.6-2.6h0m1.4 3.1h0m1-3.2h0m68.6-14.8h0m3.1 0.2h0m2.5-1.2h0m-0.3-1.4h0m1.1-0.7h0m0.2-0.6h0m1.3-0.9h0m-3.6-2.7h0m-1.3-2.7h0m0.5-0.3h0m4.4 0h0m-4.7-2.7h0m3.7 0.2h0m0.8-1.2h0m1.8 0h0m-1.2-2.9h0m2.3 0h0m-2.5-2.5h0m5.2 0.8h0m0.2-1.3h0m-1.3-2.2h0m-1.2-1.4h0m2.8 0.6h0m-2-3.1h0m0.5-1.1h0m-2.5 47.3h0m-1-1.2h0m-0.2-1.4h0m0-1.6h0m1.8-0.5h0m4.5 0h0m-6.4-2.8h0m1.2-0.9h0m2.2-0.8h0m2.8 0.2h0m1.2-1.9h0m-2.1-1.4h0m-2.5-2.1h0m5.1-0.1h0m0.2-0.4h0m-2.2-2.4h0m2.2-0.6h0m-4.1-2.7h0m1.1-0.6h0m8 1.1h0m-5.7-2.7h0m-1.3-1.4h0m3-1h0m-1.5-2.1h0m1.8-0.9h0m-0.7-0.6h0m-0.6-1.4h0m-5.3-3h0m9.2 1.1h0m-1-2.1h0m-5.4-2h0m4.4-0.2h0m-0.8-1.8h0m0.1-0.3h0m2.3 46.6h0m4-0.9h0m-0.5-1.1h0m0.8-1.3h0m-0.5-0.7h0m-1.7-1.5h0m1.4-2.1h0m-1.1-1.3h0m3-0.8h0m-2.3-1.9h0m1.3-0.7h0m-0.5-1.6h0m1.8-0.5h0m-2.8-2.2h0m-0.8-1.8h0m3.2 0.5h0m-1.2-1.8h0m-53 29h0m0.9-0.5h0m1-1.1h0m2.1 0.9h0m0.8-1.1h0m2.4 0.9h0m1.3-0.9h0m-4.5-5.1h0m4.6 2.4h0m0-2.5h0m1-0.3h0m-0.5-1.8h0m0.7-1.2h0m-0.8-1.7h0m1.8-0.3h0m0.6-1h0m2.1 0.4h0m-0.1-1.7h0m2.6 1.8h0m0.8-0.9h0m0.9-2h0m-0.5-1.4h0m0.2-2.6h0m1.7 0.8h0m0.1-1.6h0m1.8-0.7h0m-0.7-2.4h0m-33.6 39.4h0m-0.8 1.2h0m-0.2 1.6h0m0.5 0.9h0m1.1 1.3h0m-2.7 2.1h0m3.9-0.6h0m0.5 1.4h0m1.8 0.1h0m3.3 2.2h0m-2.3 3.7h0m0.4 0.9h0m3.3-0.9h0m-1.8 3h0m2.3-0.5h0m-3.4 3.9h0m4.5-2.1h0m0.2 2.1h0m-0.9 1.7h0m3.5-1.8h0m-4.5 5.8h0m5.1-2.5h0m-3.3 2.9h0m5.7-0.9h0m0.3-2.9h0m0-1.2h0m1.7-0.3h0m2.1 0.9h0m0.7-0.9h0m1.6 0.9h0m0.1-4h0m1 1.2h0m0.5-1.8h0m2.3 0.7h0m0.5-0.8h0m0.9 0.1h0m2 0.1h0m2.9 1h0m-1.9-4.6h0m3 2.2h0m-3.2-6h0m3.3 2.6h0m0.4-1h0m2.1 0.6h0m2-2.6h0m-0.4-2.5h0m0.9 0.8h0m1.2-1.2h0m2.6 1.4h0m0.2-1.8h0m-1.7-4.8h0m1.4 0.8h0m1.2-2h0m1.7 1.9h0m3.4 2.6h0m-0.1-2h0m0.9-2.1h0m2 2.1h0m-0.2-3.1h0m0.3-1.7h0m1 0.2h0m2.1 0.6h0m0.3-1.6h0m-24.8 10.8h0m1.8 0.1h0m1.2-1.5h0m0.1-0.9h0m0.7-2h0m1.9-0.2h0m0.6-3.5h0m0.5-1h0m1.4 0.1h0m0.5-2h0m2.4-0.1h0m-1.9-2.6h0m5.1 2.9h0m-1-2.3h0m0.7-1.5h0m3.4 1.6h0m-2.3-4.2h0m3.5 1.5h0m-1.5-2.4h0m0.8-0.9h0m1.7-0.4h0m-0.7-1.8h0m-52.4 7.2h0m1.5-0.3h0m-6 4.9h0m0.5 0.5h0m-2 2.1h0m4.4-0.4h0m3 0h0m1.1 1.4h0m-0.7 1.9h0m-4.7 3.8h0m4.3-1.2h0m0.1 1.5h0m2.6-0.1h0m-0.4 2.8h0m1.4 0.6h0m3.7 0.1h0m-1.8 2.3h0m-1.1 1.6h0m4-0.8h0m1 0.8h0m6.2-9.7h0m-0.4-3h0m1.7 0.8h0m2.2 1.9h0m0.1-4.4h0m0.9 0h0m4.3 3.2h0m0.9 0h0m-1.7-6.4h0m1.5 1.3h0m2.2-0.9h0m1.2 1.5h0m0-2.6h0m1.6-0.8h0m1.3 1.5h0m-2.7-7.7h0m5.2 6.4h0m-0.2-1.9h0m1.6 0.4h0m1.2-0.6h0m1.1 0.2h0m2.3-0.7h0m1.4-1.7h0m1.6 2h0m0.4-2.7h0m1.9 0.8h0m0.8-0.2h0m-0.6-5.4h0m3.9 6.6h0m-2-7.1h0m3.1 2.1h0m1.8 3.2h0m0.7-2.7h0m0.9 0.8h0m1.2-2.4h0m1.4-0.4h0m-0.5-2h0m2.8 2.7h0m1.3-0.8h0m1 0.1h0m-36.6 25.3h0m1.2 0.9h0m1-2h0m0.2-3.5h0m4.1 8.7h0m0.2-5.3h0m1.5 3.1h0m-0.7-5.3h0m3.1 4.1h0m2.1 1.7h0m0.6-1h0m-0.2-4.2h0m2.6 1h0m0-1.2h0m2.5 1.5h0m0.5-2.4h0m-0.2-2.3h0m4.2 5.9h0m-94.6 19.8h0m-1.6 3.9h0m2.1 1.5h0m4.4-2.8h0m1 0.5h0m0.2 0.5h0m2.1 2.6h0m-2.2 4.1h0m1.8-0.1h0m4-0.7h0m0.7 0.8h0m1.5 0.5h0m-0.6 1.3h0m-3.5 5.9h0m2.9-2.3h0m1.1 1.3h0m2.6-0.5h0m-0.5 2.2h0m5.1-1.5h0m0 2.1h0m-1.8 2h0m0.1 2.1h0m0.6 0.7h0m4.1-1.4h0m0.3 2.4h0m-0.4 2h0m2.6 0h0m-2.4 3.6h0m55.1-20.9h0m4.1 6.6h0m-1.5-7h0m1.6 1.9h0m2.7 1.8h0m1.8 1.6h0m-1.1-4.8h0m3.4 4.4h0m1-2.2h0m-0.3-2.3h0m1.6-1.7h0m0.4-2.9h0m1.6 1.6h0m3.1 2.6h0m-0.7-8h0m1.5 1.5h0m3.2 3.7h0m3.6 1.4h0m-1-4.4h0m1.1-1.7h0m2.3 1.2h0m0.2-3.4h0m0.9-1.1h0m4.7 6.7h0m-0.9-3.4h0m1.2-1.4h0m12.1-110.6h0m-4.2 0.9h0m4.8 2.5h0m-0.3 1.1h0m0.2 3.5h0m-4.3 1.3h0m4.9 5.9h0m0.2 1.1h0m-0.6 1.7h0m-2.8 1.4h0m3.9 1.1h0m0.2 1h0m-0.9 1.2h0m-1.1 3.7h0m0.4 0.9h0m-3.3 1.9h0m5.8 1.3h0m-2.1 2h0m-0.1 1.9h0m-1.3 3.1h0m-10.1 47.9h0m-0.8-3.1h0m1.1-3.3h0m2.2 1.1h0m2.1-0.3h0m-2.6-4.9h0m1.8 0.9h0m2.3-0.2h0m-0.9-1.2h0m1.8-1.1h0m1 1.1h0m4.6-2.2h0m1.7-1.4h0m-3.1 6.8h0m1.8-0.2h0m-0.3 2.6h0m1.3 1.1h0m3-3h0m1.9-0.6h0m-1.7 4.7h0m2.8-2.5h0m1.1 0.4h0m1.7 0.8h0m-0.4 1.8h0m-544.8-213.7h0m0.8 0.8h0m-0.5 11h0m2.5-8.4h0m2-2.8h0m2-5.4h0m-0.1 4.4h0m1.4 3h0m-0.1 3.3h0m1.7-3.5h0m2.2-1.1h0m0.2 1.8h0m1.6 3.9h0m1.5-2.2h0m1.3-4h0m1.3 1.2h0m0.4 3.3h0m2.3-6.5h0m1 5.3h0m0.5-1.1h0m2.9-3.1h0m0-0.2h0m2.6 1.8h0m-1.7 4.6h0m2.2-0.3h0m0.9 0.6h0m-3.8 7.7h0m7.8-8.8h0m-0.7 3.7h0m-2.1 4.5h0m3-1.6h0m4.1-4.1h0m-3.5 5.5h0m5.7-4.5h0m-4 6.4h0m7.2-6.4h0m-3.4 6h0m0.1 2.7h0m-5 7.7h0m3.9-3.3h0m4.9-4.6h0m0.2 1.7h0m0.7 1.3h0m-0.7 1.5h0m4.1-1.8h0m0.9 0.7h0m-1.2 4h0m-0.9 2.4h0m1.2-0.3h0m3-1.6h0m-1.6 3.3h0m2.2-0.6h0m5.3-3.1h0m-2.6 4.9h0m-0.6 1.2h0m6.2-3.9h0m-6 7.2h0m5.6-2.8h0m-0.8 2.2h0m-2.4 2.9h0m11.1-8.1h0m-0.3 2.1h0m-5.3 6.5h0m3.5-1.4h0m-1.2 2.5h0m-0.4 2.3h0m2.4-1.3h0m0.2 2.3h0m5.3-3h0m-0.1 0.8h0m-3.8 5.8h0m-1.6 1.7h0m4.9-1.5h0m3.7-1.5h0m-8.3 7.6h0m4.6-2.2h0m3.4-0.3h0m0.9 0.1h0m1.3 1.1h0m-6.2 6.1h0m5.6-3h0m6.2-4h0m-6.4 6.6h0m3.8-0.5h0m-3.2 3.4h0m0.7 0.6h0m4.6-1.8h0m1.3 1.5h0m0.1 1.3h0m1.2 0.4h0m3-1.5h0m3.5-1.2h0m-7 7.7h0m6.6-2.5h0m-3 2.7h0m-0.3 0.9h0m3.1 0.4h0m-5.9 4.4h0m3.4-0.6h0m-6.1 4.1h0m8.4-2.2h0m-6.4 3.8h0m8.2-1.8h0m-1.8 1.6h0m5.7-1.3h0m-3.8 3.8h0m-2.4 2.1h0m5.2-1.7h0m4.3-0.6h0m2.1 1.4h0m-4.6 2.2h0m-3.6 3.4h0m3.8-0.8h0m-6.9 4.3h0m5.2-1h0m4.4 0.5h0m-1.2 1.6h0m-4.1 3.2h0m10.1-4h0m-6.6 5h0m1.7-0.5h0m2.6 1.2h0m-7.5 4.7h0m2.8-0.9h0m-1.2 2.3h0m-45.7-128.7h0m4.2-2.1h0m-1.3 2.1h0m-3 4.6h0m6-2.9h0m0.4 1.3h0m0.3 1.5h0m-1.7 3h0m3.1-1.1h0m-2.7 2.9h0m4.8-2.4h0m0.1 1.4h0m1.5 0.9h0m3.5 0.3h0m-7.7 4.6h0m3 0.1h0m0.5 0.9h0m-2.4 2.3h0m7.2-2.3h0m-3.1 3.4h0m5.6-1h0m-3 2.2h0m-2.7 2.8h0m-2.2 2.8h0m4.3-1.5h0m2.7 1.2h0m2.1-0.7h0m-4.3 3.8h0m4-0.7h0m1.4 1.2h0m-2.6 2.2h0m1.2 0.5h0m4.4-0.7h0m-6 5h0m3.8-1.4h0m-0.7 1.6h0m2 1.2h0m-4.1 2.4h0m6-1.4h0m2 0.3h0m-2.4 2.2h0m4.2 0.3h0m-2.6 2.1h0m6-1.7h0m-3 3.2h0m-4 3.2h0m1.4 0.5h0m4.4-1.3h0m-0.8 1.6h0m-4.4 4h0m9.2-3.3h0m-3.5 3.7h0m-0.8 1.4h0m6.2-1.1h0m-5.1 3.1h0m4.8-0.6h0m-1.4 2.5h0m1.6 0.4h0m-1.4 1.2h0m-3.4 2.4h0m7.5-1.2h0m-10.4 5.6h0m15.7-4.7h0m-10.4 5.1h0m3 0.4h0m0.2 0.5h0m-3.1 2.8h0m0 1.2h0m2.5 0.3h0m2.6 0.9h0m3.4-0.5h0m2.2 1h0m-12.2 5.7h0m10.9-3.5h0m-6.5 3.8h0m2.5 0.8h0m2.7 0.2h0m-2.7 2.8h0m3-1h0m0 2.2h0m0.7 0.6h0m-3 2.5h0m-2.5 1.9h0m5.5-0.5h0m1.3 1.1h0m-0.8 2h0m2.1 0.2h0m2.1 0.7h0m0.1 1.2h0m2.6-0.2h0m-6 3.3h0m6.8-1.1h0m3.4-0.4h0m-5 3.1h0m2.5 1.2h0m-3.4 2.2h0m-68.8-90.4h0m2.2-1.1h0m-0.2 1.9h0m2.7 0.1h0m-3.4 5.4h0m3.2-2.5h0m-0.5 2h0m3-0.1h0m1.2-0.7h0m0.5 1.8h0m1.4-0.4h0m-5.6 7.7h0m3.6-1.3h0m2.6-1.7h0m6.4-3.5h0m-8 8.9h0m3.4-2.6h0m1.4 1.4h0m2.1-0.1h0m0.7-0.1h0m2.1-0.6h0m-0.6 2.8h0m5.1-2.9h0m-2.6 3.7h0m2.3 0h0m2.3-0.3h0m-0.8 2.3h0m-0.9 3.2h0m-2 2.1h0m4.5-1.3h0m-3 4h0m6.2-3.4h0m1.9-0.5h0m-6.4 6.6h0m3.4-0.7h0m-0.2 1.4h0m-0.5 2.1h0m5.5-2.5h0m1.6-0.4h0m-1.7 2.4h0m-0.7 3.3h0m-0.6 1h0m3-1h0m-1.8 4.1h0m3.8-1.6h0m0.3 1.2h0m-0.6 1h0m1.5 0.9h0m2.9-1.2h0m0.7 1.7h0m3.4-1.3h0m16.6 62.6h0m-3.4-1.5h0m-3.1-1.4h0m12.9 3.5h0m-0.6-3.8h0m-1.4-1.8h0m-0.1-2.9h0m4.2 14.1h0m-0.3-3.1h0m-1.7-1.2h0m-2.3-3.2h0m-15.7-23.5h0m-1.1-2h0m19.1 24.2h0m-1.8-0.6h0m-18.5-38.7h0m-3.9 2.6h0m0.4 20.9h0m-3.1 1.9h0m0.1 3.7h0m13-25.2h0m-0.1 3h0m-1.4 3.9h0m-0.2 1h0m-4.4 23h0m-3.2-26.1h0m3.5-0.3h0m-3.2 28.2h0m3.7-1.6h0m1.5-2.4h0m3.3-2h0m3.5-13.2h0m1.8 0.9h0m3.2 2.5h0m1.7 3.3h0m-8.2 4.5h0m2.1 2.4h0m3.3 1.1h0m8.5 7.4h0m-1.1 2.5h0m-1.3 2.1h0m-21.8-35.9h0m1.6-2.5h0m1.3-2.5h0m0.7-1.6h0m-3.1 32.6h0m1-2.6h0m-0.3-1.9h0m1.6-3.6h0m1.5-2.3h0m0.5-3.1h0m0.4-3.3h0m16.9 31.8h0m-2.8 0.2h0m-3.3-0.4h0m3.4 2.1h0m2.6 1.1h0m2.7-0.5h0m-31.1-39h0m2.9 1.2h0m1.9 0.1h0m3.9 1.5h0m7.8-14.7h0m0.7 7.1h0m-1.1 1.2h0m-11.4 13.7h0m-2.4-1.6h0m-0.7 0.3h0m1.3-3h0m13.3-4.8h0m1.7-2h0m-3.7 31h0m-1.9-0.9h0m-4.4-11h0m-0.3 3.5h0m0 3h0m6.6 1.6h0m3-2.7h0m2.7-2.8h0m1-1.2h0m-18.3-2.8h0m2.4-2.3h0m3.6-1.3h0m1.7-4h0m-6.1-9.9h0m2.8-2.8h0m0.6-3.6h0m1-3h0m0.8-2.5h0m15.1 42.7h0m-3.5-0.3h0m-2.2-2.1h0m-3-0.4h0m-2.2-1.1h0m-6.2-14.6h0m2.1-3.1h0m2.4-2.1h0m2.4-2h0m2-2.1h0m9.8 21h0m-2.6-0.3h0m-2.9 1.2h0m-2.3-1h0m1.8 3.8h0m-8.7-11.3h0m3-1.3h0m-11.2-124.9h0m6.8-4.4h0m-3.9 4.6h0m5-1.7h0m-1.9 3.7h0m-2.1 2.5h0m5.5-1.9h0m-2 3.2h0m1.9 1.3h0m2-0.6h0m-1 2.3h0m2.3-0.2h0m-0.1 2.5h0m1.7-0.1h0m3-2.2h0m-0.3 4.6h0m-1.8 2.1h0m2.5-0.2h0m1.9 0.8h0m-0.4 2.7h0m-0.3 2.8h0m6.3-2.2h0m-2 4.7h0m1.2 0.5h0m1-0.4h0m3.2-0.7h0m0.2 1.9h0m-1.5 4.8h0m3.8-1.3h0m2.4 1.8h0m3.5 1.9h0m-2.7 4.2h0m1.9-1.2h0m2.2 0.3h0m0.1 1.1h0m-0.5 2.7h0m1.8 1.6h0m1.4-0.5h0m4.1 0.4h0m-1.8 2.1h0m1.7 0.6h0m1.5 1.5h0m-1.5 2.3h0m2.6-0.9h0m0 1.6h0m2.4-0.1h0m-5.2 5.8h0m4.3-0.7h0m1.6 0.6h0m0.1 1.7h0m2.5 2.6h0m1 1.8h0m1.2 0.4h0m-4 3.3h0m4.1 0.7h0m0.9 0.3h0m4.6 1.2h0m-1.9 1.6h0m1.1 4h0m1.7 0.1h0m-0.1 1.6h0m3.3 0.9h0m-1.3 1.9h0m-2.3 2.9h0m7-2.5h0m-1.2 2h0m-4.7 3.8h0m2.9-0.1h0m3.4 0.2h0m-2.1 2.6h0m0 1.1h0m3.2-0.4h0m1.6 0.7h0m-0.4 1h0m-2.9 2.6h0m3.9-0.1h0m0.9 0.4h0m-3.3 2.9h0m5.1-1.3h0m1.3 3.1h0m-3.6 3.7h0m6.6-2h0m-6.5 4.4h0m6.1-0.4h0m0.4 1.4h0m1.7 0.4h0m-36.8-92.2h0m1.9 0h0m0 2.3h0m3-0.2h0m-4.1 6.2h0m4.1-2.2h0m1.6-1.1h0m0 3h0m-1 2.2h0m0 0.9h0m3 0.8h0m-0.6 2h0m3.3-1.4h0m0.9 1.2h0m-1.2 2.2h0m-0.7 4.1h0m4.4-4.7h0m1.1 1.9h0m1.2 4h0m4.3-3.6h0m-1.3 3.7h0m3.6-1.7h0m0 1.1h0m0.3 0.9h0m0 4.4h0m3.5-2.4h0m0.2 1h0m0.2 3.2h0m2.8 0.4h0m4.2-1.4h0m-1.8 2.6h0m-59.6 13.4h0m0.1 1h0m2.5 0.2h0m0.5 0.4h0m-3.8 6.1h0m7.1-4.9h0m-1.9 2.4h0m0.5 1.6h0m2-0.8h0m-0.1 2.4h0m2.2 0.3h0m1.4 1.6h0m-1.1 4.7h0m4.7-3.2h0m-2.4 3.3h0m2-0.4h0m-1 5.3h0m4-1.1h0m3.7-1.6h0m-1.2 2.5h0m0.1 2.4h0m5.4-4.8h0m-0.7 5h0m-1 1.6h0m-1.4 3.5h0m4-2.1h0m2.3 0.1h0m1.3 1.6h0m3.9-2.2h0m-3.6 5.7h0m0.6 0.2h0m-0.5 1.7h0m3.2-0.5h0m-0.7 2.6h0m1.9-0.5h0m-0.4 1.4h0m5.3-3.2h0m-5.2 6.4h0m-58.7-51.8h0m0.1 3.3h0m-1.2 1.2h0m0.1 3.7h0m6.7 1.6h0m-2 1.7h0m3.1 0.2h0m2.5 0h0m-3.2 5.7h0m1.2 0.3h0m-0.6 2.8h0m2.4 0h0m0.6 0.5h0m5.1-1.4h0m-1.2 2.2h0m2.1 2.5h0m1.4 1h0m76-70h0m-1.7 2.3h0m3.6-0.5h0m-2.3 1.4h0m3.1 0.9h0m-5 4h0m3-0.7h0m2.5-0.5h0m0.6 1.9h0m1.7 0.6h0m-2.4 2.4h0m-2.1 2.9h0m4.9-1.8h0m-5.1 3.6h0m6.7-1.5h0m0.4 1.1h0m0.9 0.5h0m-0.4 2h0m2.3 0.2h0m1.7 0h0m-3.5 3h0m2.7 0.1h0m2.9 0.4h0m-2 3h0m1.3 1.5h0m-4 2.8h0m4.1-0.5h0m0.1 0.8h0m9.3-26.4h0m3.4-3.1h0m1.4-0.1h0m0.8 3.1h0m3.8 0.2h0m0.4 0.3h0m-0.2 3.3h0m1.1-0.6h0m3.9-0.3h0m0.7 2.8h0m2.1-1.6h0m-0.2 3.8h0m-0.2 2.2h0m2.1 0.1h0m1.9-0.8h0m2.2-2.1h0m-0.2 1.6h0m-0.2 3.2h0m3.5-3.6h0m0.5 3.8h0m1.5-0.1h0m2.3 1.9h0m-39.9 28.5h0m3.3-0.9h0m-1.4 2.5h0m1.9 0.6h0m1.1-0.1h0m2.1 1h0m-2.9 3.8h0m5.5-3.7h0m-5.4 6.6h0m5.6-3.2h0m-1.4 2.7h0m3.8 0.2h0m-3.8 4.2h0m4.6-1.8h0m0 1.9h0m-1.9 2.3h0m4.9-1.4h0m-0.3 3.4h0m-0.9 1.6h0m2.9-0.5h0m-1.4 2.7h0m2.2-0.8h0m0 4.4h0m5.1-1.8h0m0.1 1.4h0m-2.9 4.2h0m3.5-0.9h0m-36.4-11.5h0m3.4-2.2h0m-4.1 5.7h0m5.3-2.9h0m-1.1 3h0m-0.4 2h0m2.9-1.9h0m-1.9 3.7h0m4.9-2.3h0m-2.4 2.8h0m1.6 1.6h0m-0.7 1.1h0m1.3 0.5h0m0.5 1.9h0m1.1 0.6h0m1.6-0.8h0m1.6 1.6h0m-0.4 2.5h0m2.3-0.4h0m1.6 1.6h0m-1.5 4.6h0m2.4 0h0m0.2 3h0m0.7 0.9h0m2-0.7h0m0.5 3.2h0m0.8 0.9h0m0.3 1.2h0m1.5 1h0m-1.5 1.1h0m0.8 2.7h0m4.4-1.2h0m-4.4 4.6h0m1.9 2.1h0m1.5-0.4h0m3-1.1h0m-1.4 3.7h0m-1.8 2.8h0m3.5-1.3h0m-2.1 1.9h0m2.3-0.1h0m3.4-0.7h0m-2.5 3.4h0m4.6-2.1h0m-2.3 3.9h0m4.8-1.4h0m-4.4 4.1h0m2.4-0.5h0m-2.1 2.6h0m-0.6-24.5h0m-0.1 0.2h0m2.4 0.8h0m2.5-0.2h0m1.9 0.6h0m0.3 2h0m1.4 0h0m-1.8 2.3h0m-0.3 1.3h0m3.1-0.3h0m-2.4 2.9h0m2.7 0.5h0m1.2 0.6h0m1.5 0.6h0m0.3 0.5h0m-3.1 3.9h0m0.7 0h0m3.9 0h0m-1.4 1.9h0m-35.7 10.1h0m3-0.8h0m-1.2 3.5h0m2.5-1.7h0m2.7 0.1h0m0.3 0.8h0m-0.8 2.3h0m1.2 0.3h0m1 1.1h0m0.7 1.1h0m-0.2 6.2h0m-16.4 5.5h0m2.5-0.6h0m0.5 1.8h0m-4.3 4.5h0m3.2-1.9h0m4.4 1.2h0m-6.1 4.8h0m6.6-3h0m-1.1 4.7h0m2.5-0.1h0m2.4-0.7h0m-5.4 5.4h0m12.1 12.5h0m-3.2 3.3h0m2.1-0.1h0m0.1 2.1h0m1.9-0.1h0m-1.5 3.1h0m3.1 0.1h0m1.3 1h0m-0.1 1.3h0m2.7 0.2h0m2.6-0.5h0m-4.5 4.5h0m1.9 2.4h0m7.2-3.6h0m-4.8 4.4h0m1.8-0.3h0m0.8 1.3h0m0.4 1.1h0m-0.4 2.9h0m5.3-1.6h0m-0.6 3.8h0m-0.3 0.9h0m4.9-2.2h0m-2.3 3.1h0m0.6 1.9h0m-1.2 2.5h0m-1.5 2.5h0m9.3-4.6h0m-4 3.6h0m-15.1-51.9h0m1.9 0.1h0m0.5 1.2h0m3.1 0h0m-1.8 1.4h0m1.6 0.2h0m-1.2 3.3h0m1 0.4h0m0.3 1.7h0m3.5-1.4h0m-1.6 2.4h0m4.5 0.2h0m-3.9 4h0m2.9-0.8h0m-0.2 2.8h0m2 0.1h0m-0.1 2.8h0m2.3-0.1h0m0.6 0.1h0m1.7 2h0m8.4-26.8h0m-0.6 2.9h0m2.1-0.3h0m-1.2 1.9h0m2.6 0.3h0m-0.7 1.4h0m-1.6 2.7h0m2.3 1.3h0m1.4 1.6h0m-2.4 2.1h0m1.8-0.2h0m-0.5 2.5h0m3.4 0.8h0m2.9 0.4h0m-4 3.1h0m2.4-0.6h0m1.7 1.7h0m-0.3 1.4h0m4.7 0h0m-1.8 2.1h0m-0.4 1.7h0m1.3-32.7h0m-1.7 3.3h0m2.1-0.9h0m2.8 0.1h0m3.1-1.5h0m-5.4 6.2h0m4.7-2.4h0m-0.1 3.3h0m-0.6 1.5h0m-1.2 3.3h0m4.1-1.8h0m2.8 0.8h0m-0.6 1.1h0m-36.3-109.5h0m1.1 0.6h0m0.9 0.7h0m0.2 1.4h0m1.9 1.8h0m1.2-1.9h0m1.2 1.3h0m0.3 1.5h0m1.9-0.3h0m0.7 0.5h0m2.1-1.1h0m1.3-1.7h0m-1.3 7h0m17.2-16.5h0m1.8-0.3h0m0.9 1.4h0m-0.6 2.1h0m5.3-2.4h0m-4.1 3.3h0m-1.1 3.2h0m4.1-1.3h0m-0.7 2.3h0m3.5-1.4h0m0 1.2h0m-1.9 3.2h0m-0.2 0.7h0m6.1-1.1h0m-1.3 1.7h0m-2.4 3.4h0m1.2 0.9h0m2.4-0.3h0m-0.3 1.6h0m-0.4 1.2h0m3.9-0.2h0m-1.4 1.3h0m0.2 1.3h0m0.6 1.7h0m3.7-0.4h0m-2.8 2.7h0m-0.9-21.9h0m3.5-1.1h0m-4.3 4.9h0m3.9-2.4h0m1.2 0.4h0m1.4 1.6h0m0.2 0.4h0m2.5 0h0m0.6 1.4h0m1.4 1.2h0m-1.2 2.3h0m3.7-1.8h0m-1.9 3.9h0m0.4 1h0m1.9 0.7h0m3.9-2.4h0m-2.5 4.1h0m-1.4 2.6h0m3.2-0.6h0m-0.3-55h0m1.3 0.4h0m-2 4.4h0m0.9 1.2h0m7.3 3.3h0m-4.2 3.9h0m-0.3 4.5h0m5.7-1.8h0m-0.3 3.1h0m0 0.4h0m-0.3 3.2h0m2.1 2.2h0m-2.7 2.2h0m3.6-0.3h0m2.6-0.3h0m0.3 1.7h0m0 1.7h0m-0.4 1.5h0m1.3 0.7h0m1 1.1h0m-30.7 53.8h0m-3 4h0m6.5-3.3h0m-1.1 3.1h0m2.5 2h0m-2.5 3h0m3.2-0.3h0m-1 1.6h0m3-0.4h0m-1.9 2.4h0m2.7-0.6h0m-0.8 2.9h0m-0.6 1.4h0m2.5 0.8h0m2.4 2h0m5.8-10.6h0m7-0.7h0m-4.4 3.5h0m-0.2 0.8h0m1.6 0.5h0m4-0.5h0m-5.7 4.5h0m4.4-1.1h0m-0.4 1.6h0m1.5 1h0m-3 1.9h0m2.9 0.9h0m0.8 0.8h0m-0.7 0.6h0m5.2-0.3h0m-0.1 0.5h0m-2 3.1h0m1.2 0.4h0m-0.5 1.2h0m0.6 1.3h0m2.2 0.3h0m0.8 0.4h0m-3.7 4.4h0m3.8-0.7h0m-0.5 1.5h0m2.7-0.2h0m1.4-0.1h0m-1.1 1.9h0m5.1-0.2h0m-6.5 4.2h0m1.4 1.3h0m0.7 1.1h0m3.4-0.7h0m-2.8 2.1h0m0.3 2.1h0m2.4 0.3h0m1 0.6h0m-1.9 2.4h0m1.1 1.1h0m3.6-0.6h0m3.5-0.5h0m0.1 2.3h0m-2.8 2.5h0m1.6-85.8h0m0.9 2.3h0m0.9-1.5h0m3.5-3.9h0m-0.3 3.5h0m1.3 2.2h0m2.8-5.3h0m-1.2 5h0m1.3 0.8h0m0.7 1.5h0m1.3-0.4h0m2.6-2.1h0m2.9-1.1h0m-4.5 8.9h0m4.8-5.2h0m2.4-0.7h0m0 4.2h0m3.1-3h0m-0.9 3.7h0m0.5 1.2h0m3.1-2.3h0m0.7 1.9h0m-0.3 1.8h0m-25.9 3.4h0m5.5-1.3h0m-4.3 4.5h0m7.4-1.5h0m-2.5 3.8h0m2.5 0h0m-1.1 1.2h0m1.7 1.9h0m-0.3 1.4h0m0.5 0.1h0m-1.1 2.1h0m2.9 1h0m-3.8 2.3h0m3.6-0.6h0m6.7 13.5h0m-1.5 4.3h0m1.8-0.4h0m0 4.3h0m3-1.9h0m1.3-0.4h0m0.1 1.2h0m-0.4 2.2h0m1.8 0.2h0m1.5 0.5h0m0.5 1.3h0m0.7 0.6h0m3.9-2.3h0m-1.1 3.1h0m-4.1 5.9h0m4.9-2.5h0m2.7-1.1h0m0.9 1.3h0m-1.5 2.7h0m1.2 0.9h0m1.2 1.2h0m-69.1 15h0m1.5-0.1h0m2.3 1.3h0m0.1 0.2h0m-1.1 3.8h0m1.4 3.7h0m3.5-1.1h0m-0.4 3h0m7.4-2.8h0m-7.3 5.9h0m4.2-1.3h0m-2.3 4.6h0m6-1.8h0m-2.9 2.7h0m0.5 1h0m1.7 2.3h0m1.3-0.1h0m0 2.2h0m-6 3.7h0m5.2-0.1h0m4.6 0.7h0m1.6 0.2h0m-5.2 5.8h0m8.4 0.9h0m12.7-14.2h0m-1.3 3.5h0m5.9-5h0m-1.6 3.4h0m-0.2 2.5h0m3-0.5h0m0 0.3h0m1.3 2h0m-0.4 3.1h0m2.2-2.5h0m1.5 1.7h0m2.1-2h0m2.2-0.1h0m4.7-24.8h0m3.7 0.4h0m-1.2 2.5h0m-1.3 1.6h0m4-0.5h0m2.1 0h0m-5.8 4.5h0m3.8 0.1h0m5 2h0m-1.2 3.6h0m0 1.6h0m-3.5 2.9h0m6.6-1.9h0m0.6 1.5h0m-3.4 3h0m3.6-0.6h0m1.4 1.2h0m1.7 4.7h0m3.9-0.2h0m-1.9 2.9h0m-2.1 3.6h0m2.6-0.4h0m0.9 2.2h0m-1.9 2h0m-0.2 1.5h0m6.3-2.1h0m-3.4 4.4h0m3.2-0.5h0m-1.7 2.4h0m0 3.2h0m-0.3 1.3h0m5.4-1.4h0m-88.3-5.4h0m3.2 1.7h0m-0.2 1.1h0m-1.1 2.3h0m3.3-0.9h0m1.4 0.9h0m0.1 1.4h0m-1.9 3.9h0m1.6 0.2h0m3.8-0.6h0m1.4 3.5h0m-1.3 1.8h0m2 1.1h0m0.9-0.3h0m1.2 0.9h0m3.8-2h0m-4.8 5.9h0m3.4-1h0m1.6-0.3h0m-0.9 2.1h0m1.2 2.4h0m0.1 2h0m1.9-0.2h0m-0.9 1.6h0m-0.5 2.8h0m1.5 0.2h0m1 0.8h0m2.7-1.1h0m0.8 3h0m-1.9 3.1h0m-2.2 2.1h0m1.8 0.8h0m7.2-4.4h0m-0.2 2.7h0m25.5-33.9h0m5.3-2.2h0m-3.5 3.2h0m1.6 1h0m-3.7 4.3h0m1.4-0.1h0m4.8-0.8h0m-2.2 1.9h0m3.3 0.1h0m1.7-0.6h0m-3 3.6h0m2.9 0.3h0m1.3 0.7h0m-3.1 3.6h0m3.9-1.1h0m-1.7 3.3h0m1.3-0.5h0m1.2 0.2h0m2.2-0.3h0m2.5 1h0m-0.4 0.8h0m0.6 1.2h0m0.7 2h0m-0.1 0.8h0m0.5 2.1h0m4.1-2.5h0m-41.6-10.9h0m1.4-0.5h0m2.1 2.9h0m0.5 3.6h0m2.9-1.5h0m0.7 2.2h0m-2 2.6h0m2 1.3h0m2.5-1.9h0m0.2 4.4h0m4.4-4.8h0m1 3.5h0m1.9-1.8h0m2.9-0.5h0m-1.6 7h0m33.9-75.4h0m-3 3.6h0m-1 2h0m2.9 0.7h0m3.9-0.6h0m-1.7 2.3h0m3.3-0.6h0m-3.3 3.4h0m4.5-1.7h0m0.8 1.1h0m-1.9 3h0m0.1 0.5h0m-0.9 2.7h0m5.9-2h0m-4.3 3.2h0m-1.2 2.8h0m6-2h0m-0.3 0.8h0m-2.5 3.4h0m1.3 0.5h0m2.2-0.4h0m-3.2 3.6h0m4.9-1.2h0m-4.7 3.6h0m5.3-1.6h0m-2.4 3.6h0m3-1h0m1.3 1h0m0.8 1.4h0m-1.9 1.9h0m7.3-2.1h0m-5.2 3.6h0m2.6-0.5h0m2.3 0.8h0m-2.3 2.6h0m-13.1-43.8h0m1.3 4.8h0m1.9-0.4h0m2.4-0.2h0m-1.6 2.6h0m3-0.5h0m0.9 0.4h0m-2.9 4.2h0m3.2-1.5h0m0.4 2.6h0m-2.1 3.3h0m5.8-3h0m-0.4 3h0m-0.5 1.2h0m1.8 0.9h0m-2.1 2.5h0m1.2 0.5h0m2.7-1h0m0.3 2.4h0m1.7-1h0m2.7 0.4h0m-3.6 3.2h0m2.6 1h0m-0.3 1.4h0m4.6-2.7h0m-1.8 3.7h0m2.5 1.7h0m1.9-1h0m-2.7 5.6h0m2-0.2h0m1.6 0.6h0m-0.8 3.4h0m3.6-4.2h0m2.1 2.1h0m4.3 0.5h0m0.5 2.1h0m-0.1 1.8h0m-1.6 2.7h0m4.4-2.4h0m0.7 1h0m3-0.6h0m0.8 2.3h0m0.4 0.7h0m0.5 0.8h0m-1.7 4.3h0m-0.2 1.5h0m-49.5 7.3h0m-0.5 2.6h0m2 0.6h0m3.2 2.1h0m2.6-0.2h0m-1.5 3.2h0m1.3-0.3h0m4.3 2.4h0m-4.1 4.3h0m1.8 1.4h0m5 1.1h0m1.5 0.9h0m0.8 0.9h0m-0.5 0.6h0m-1.7 3.7h0m3.8-1.1h0m-0.8 1.8h0m0.9-0.1h0m-4.3 4.6h0m6.8-2.7h0m4.7-0.2h0m-7.3-40.2h0m-1.1 3.1h0m1.9 0h0m1.8 0h0m-2.2 4.7h0m6-3.2h0m0.7-0.4h0m-2.9 5.4h0m2.8-0.6h0m0.9-0.2h0m-1.1 3.3h0m2-1h0m-0.2 3h0m4.3-3.6h0m1.5 1.3h0m-1.7 2.4h0m1.4 2.9h0m1.1 0.7h0m-2.5 4.7h0m4.8-3h0m1.4 3h0m5-3h0m-1.4 4.9h0m-142.3 19.6h0m0.1 1.6h0m-3.6 4.2h0m2.4 0.1h0m1 1h0m5.4-2.8h0m-1 1.9h0m-3.8 4.7h0m4.2-2.3h0m0.9 0.6h0m1.5 0.2h0m-0.1 2.2h0m-0.3 1.7h0m-0.4 3h0m3.1-2.5h0m-0.1 3.2h0m1.8 0.2h0m0.3 0h0m2.9 0.1h0m1.4 0.2h0m-0.7 1.7h0m0 2.7h0m0.6 0.7h0m4.1-2.4h0m-1.3 2.6h0m0.6 1.1h0m-16.3-38.6h0m1.7 0.7h0m-2.4 2.9h0m6-2.9h0m-2.9 2.9h0m0 2.8h0m3-0.8h0m1.1 0.8h0m-2 2.2h0m1.8 0.1h0m0.3 1.2h0m2 0.1h0m-0.5 3.9h0m-0.1 2.4h0m5-1.4h0m0.2 7.3h0m0.9 0.2h0m-2.1 30.1h0m0.1 0.9h0m3.8-0.9h0m1.9-0.7h0m-1.5 4.5h0m1.6 1h0m4.9-2.4h0m-4 4.1h0m4.5-2h0m-4.4 4.7h0m2.7 0.5h0m1.7-0.1h0m-0.7 1.4h0m0.8 1.1h0m3.4 1.4h0m-0.1 0.8h0m2.1-0.8h0m0.5 3.6h0m1.3 1h0m0.8 0.2h0m-2.5 4.2h0m6.5-4.5h0m0.2 1.6h0m-0.3 1.7h0m-1.8 2.9h0m2.6-1.1h0m-3.3 5.9h0m3.9-2.8h0m3.4-1.7h0m1.6 1.4h0m-0.2 1.5h0m-2.2 3h0m8.7-19h0m1.2 0.7h0m0.2-4.4h0m1.9 3h0m0.8 2.4h0m1.8 0.1h0m1.5 0.7h0m3.7-0.6h0m0.3 1h0m1.4-3.5h0m0.8 0.9h0m1.4-1.8h0m2.3 4.3h0m1.3-3.5h0m1.2 0.8h0m1.1 0.3h0m2.2 0.7h0m3.4 1.2h0m1.1-0.6h0m0.9 1.2h0m-0.3 3.7h0m3-4.2h0m-0.4 4.1h0m2-0.1h0m3.3-6.8h0m-0.1 1.4h0m0.6 4.6h0m2.2-2.5h0m1.1-0.7h0m-0.4 7.2h0m3.2-7.5h0m0 4.7h0m2.2-3.2h0m-0.1 4.1h0m2-1.5h0m2.2-3.6h0m1.1 5.5h0m0.1 0.9h0m1.3 0.1h0m-0.8 4.7h0m2.5-0.9h0m4.3-5.4h0m-1.1 5.9h0m2.2-1.4h0m1.6-1.2h0m1.3 3h0m2.2 1.3h0m2.9-5.7h0m-1.1 8.8h0m2.3-3h0m2.2 0.6h0m1.2-0.9h0m1.7 1.4h0m0.5 2.4h0m1.7 0.9h0m1.7-0.5h0m2.3-5.1h0m0.7 1.2h0m0.8 3.6h0m-0.7 5.1h0m2.4-1.6h0m1.5-3.5h0m1.3 2.4h0m0.5 2h0m0.4 1h0m2.9-3h0m0.1 2.4h0m-1.9-185.1h0m1.2-2.7h0m3.3-2.5h0m9.2 17h0m-1 6.6h0m2.2-0.7h0m2.4-0.9h0m7.4-12.1h0m-4-1.2h0m-2.8-2.9h0m-2.6 0.3h0m-4 16.8h0m-2.9-0.5h0m-3.4-0.2h0m11.3-20.7h0m-2.5 1.5h0m-2.6 1.4h0m-2.3 1.6h0m-2.6 1h0m18.3-32.5h0m-1.6 0.6h0m-32.7 17.3h0m1.1 1.7h0m1.7 2.9h0m0.4-18.2h0m-1.4 0.3h0m-3.3-0.9h0m23.7 15.9h0m-1-1.6h0m-14.9 14.9h0m-0.8 3h0m-0.2 2.4h0m17.1-15.3h0m-2.5 0.5h0m-5.5-6h0m-3.1-1.3h0m-3.6-0.2h0m-3-2.2h0m14.7 30.9h0m-3.1-1.9h0m-1.1-0.4h0m-3.5-0.9h0m8.5-6.9h0m1.1 1.8h0m1.9 4.8h0m1.2 1h0m2 2.2h0m6.7 0.5h0m1-2.4h0m1.8-2.4h0m-12.4 3.4h0m2.6 2.1h0m2.9 2.2h0m1.6 1.4h0m-4.7-39.6h0m2.9-2.1h0m4.3-2.1h0m0.3-0.8h0m-10.1 14.9h0m0.6 1.3h0m-14.6-9.4h0m1.5-2.8h0m4.2 21.9h0m-0.1 2.8h0m-2 2.7h0m-0.2 2.3h0m-14.9-33.3h0m0.5 3.5h0m0.3 2.9h0m-0.1 2.9h0m1.8 2.2h0m24.4 32.4h0m1.6-2.3h0m3-2.5h0m1.1-2.7h0m2.4-1.6h0m-16.9-15h0m-1.9 2.6h0m-1.4 1.3h0m-2.4 3h0m1.1-17.1h0m15.9 2.8h0m-5.3 21h0m-3.2-1h0m-22.1-27h0m2.2 1.4h0m25.3-6.6h0m-2.1 1.3h0m-3.4 1.9h0m-1.1 23.7h0m-3-1.2h0m-2.4-1.9h0m-2.5-1.5h0m-2.9-9.6h0m-3.5 0.9h0m-2 2h0m18.7-4.1h0m-1.6-2.4h0m-3.2-2.5h0m1.6 32.7h0m-10.9-36.7h0m-2.7 3.4h0m-1.6 1.4h0m-2.7 1.7h0m26 30.2h0m0.5-2.8h0m0.6-4.1h0m1.1-2.5h0m-25.1-6.1h0m-2 3.6h0m4.8 7.9h0m-7.6-12.5h0m1.3-1.4h0m0-3.6h0m2.5-2.8h0m23.4-11.6h0m2.8 2.1h0m1.7 1.6h0m-30.4 6.6h0m1.8-1.4h0m3.8-1.8h0m1.7-0.5h0m2.7-3.4h0m7.8-5.4h0m4.2-1.2h0m7.7 158.6h0m2.2 0.4h0m2.9 0.8h0m2.9 1.2h0m-0.6 12.9h0m-0.8-1.3h0m-3.2-2.5h0m-3.3-2.5h0m-2-9.8h0m1.3 1.2h0m-0.5-1.8h0m3.3-1.1h0m1.9-0.7h0m-1 20.1h0m-0.3-1.5h0m3.3-7.5h0m-2.7 1.2h0m-4.9-1.6h0m4.2-6.8h0" stroke="#d9d9d9" stroke-width="4.6" stroke-linecap="round" fill="none"/>
<path d="M181.6 302h0m10.5 0.6h0m14.5-5.3h0m20.5 3.6h0m0.7-4.6h0m2.8 4h0m19.4 0.2h0m9.2 5.6h0m11.6 4.5h0m7.9 5h0m-90.1-8h0m-0.8 3.8h0m-1.6 2.8h0m35.4-1h0m0.6 0.8h0m5.1 2.2h0m4.3 2.5h0m3.1 1.8h0m2-2.6h0m0.4 2.9h0m4.7 3.6h0m11.6 1.5h0m7.2 1.3h0m-68.7 7.6h0m13.6-0.6h0m11.7-2.4h0m16.8 0.5h0m-1.6-6.1h0m-27.3 18.1h0m3-2.7h0m5.3 7.8h0m7.3 1.6h0m7.7 4.3h0m2.4 3.6h0m1.6 1.6h0m0.8-0.8h0m2.5 4.2h0m2.3 1.4h0m7.6 2.1h0m1.5 6.5h0m-0.7 1.6h0m5.7 5.2h0m5 3h0m1.1-28.3h0m-143.1-3.7h0m1.8 1.4h0m3-1.4h0m5 2.3h0m1.3-0.4h0m4.2 6.6h0m-45.5 5.8h0m5.2-5h0m-1.5 5.9h0m1.9 5.3h0m3.9-1.2h0m-5.5 4.1h0m-0.4 4.8h0m1.2 7.3h0m-1.5 7.1h0m0.8 2.9h0m-1.8 2.7h0m3.1 1.7h0m13.4-34.3h0m43 1.3h0m1.7 1.1h0m11.4-4.2h0m1.1 0.9h0m10.8 21.6h0m7.4 3.9h0m-4.5 8.8h0m-6.1-48.4h0m3.4 3.3h0m0 2.5h0m28.2 20.9h0m3.3 0.4h0m12.6 10.5h0m14.5 7.7h0m-120.3-10.1h0m0.5 2.2h0m5.5 2.8h0m3.7-2h0m0.8-1.7h0m2.7 3.1h0m6.6-1.7h0m5.2 7.7h0m21.2 11.5h0m-35.9-3.6h0m7.4 1.8h0m5.6 11.3h0m3.5-2.5h0m10.4 5.9h0m0.8 1.4h0m1.8 3.7h0m2.8 2.6h0m5.1 4.6h0m5.4 1.6h0m8.9 3.5h0m-69.7-41.6h0m-2.1 4.7h0m4.6 0.6h0m-2 1.9h0m1.4 6.1h0m0.5 0.9h0m-1.6 4.7h0m2.6 3.6h0m1.6 1.4h0m0 6.8h0m60.2-0.8h0m8.7 6.2h0m0.2 2.1h0m8.4 9.2h0m1.7 2.1h0m4.9 0.6h0m3.7 0.9h0m1.4-0.8h0m1.4 0.8h0m9.7-25.1h0m4.5 9.2h0m2.3-0.7h0m-0.9 2.8h0m3.5-0.4h0m2.2 4.5h0m16.8-24.1h0m3.3-0.9h0m-0.4 1.7h0m4.5-2.2h0m-1.2 4.2h0m0.4 3.5h0m4 2.6h0m1.6 3.5h0m2.8 3.3h0m5.6 9.3h0m5.3 11.4h0m4.4 2.1h0m4.3 8h0m3.6-0.6h0m-199.6-24.9h0m0.9 2.6h0m16.6 15h0m2.1-0.6h0m12.3 10.3h0m154.1-69.3h0m-5.9 5.7h0m4.2-0.6h0m1.2 3.1h0m1.2 0.2h0m8.7 12.8h0m0 4.4h0m2.3 1.6h0m2.4 3.9h0m-0.5 10.3h0m6.1-1.7h0m0.4 0h0m4.6 5.9h0m1.2 4.4h0m5.6-2.9h0m-1.4 2.3h0m5-41.7h0m0.5 4.3h0m16.1-11.8h0m-5.2 5.1h0m5.9 0.2h0m3.3 0.5h0m-1.7 3.5h0m5.8 3.5h0m-8 4.2h0m6.8 2.2h0m2 3.1h0m5.4 41.6h0m0.7-65.3h0m-0.7 4.1h0m7.4 0.5h0m0.6 3.6h0m-5.1 7.6h0m4.6-1h0m0.2 2.3h0m4.6 13.3h0m-45.5-47.5h0m2.7-1h0m2.9 0.3h0m19.5 73.8h0m12.4 7.1h0m7.8 7.4h0m-0.4 2.5h0m2.5-0.8h0m12.3-113h0m4.3 9.6h0m-3.3 4.6h0m15.4-22.1h0m-28.3-8h0m30.8 2.5h0m-14.8 17.7h0m6.6-17.1h0m4.6-1.9h0m-21.3 21.3h0m18.9-21.8h0m2.3-10.1h0m-8.1 17.1h0m-23.4-19.4h0m-5.7 74.5h0m-2.7-8.4h0m-16.8 1.8h0m19.7 0.8h0m87.8-0.1h0m4.6-1.9h0m-16.5 5.7h0m202.2-130.8h0m2.9 0.4h0m3.6 3.4h0m-0.6 1.8h0m-6 2.9h0m9.9 0.4h0m-5.9 1.2h0m-1.7 1.4h0m2.1 1.3h0m4.6 2h0m-5.6 0.9h0m0.8 1.9h0m-0.5 1.2h0m4.1 1h0m4.5 2.6h0m-9.5 3.9h0m6.7 1.7h0m-5.2 2.9h0m7 2.7h0m-10.7 1.6h0m-2.8 1.3h0m-1.3 1.1h0m5.9 3.5h0m0.7 1.7h0m-0.9 1.3h0m0.6 2.2h0m-0.6 2.2h0m-0.3 1h0m5.4 2.9h0m-6.7 0.1h0m-4.9 5.2h0m9.3 2.9h0m-0.1 0.7h0m-2.4 1.8h0m-2.1 1.6h0m3.7 0.6h0m-0.3 1.1h0m-2.2 1.1h0m0.8 1.6h0m-3.2 1.5h0m3.2 0.5h0m-1.2 1h0m1.7 4.3h0m1.5 0.4h0m4.2 1h0m-9.2 2.1h0m24.4-78.8h0m-1.4 4h0m-3.8 1.5h0m3.6 0.9h0m-5.4 1.2h0m1.2 4h0m-1.2 0.3h0m7.8 6.2h0m-0.6 1.4h0m-9.7 2.1h0m14.3 2.2h0m-10.5 3h0m3.2 1.8h0m-5.9 2h0m5.5 0.9h0m-0.9 2.3h0m-0.2 4.2h0m3.2 3.9h0m-2.7 1.4h0m0.9 2.5h0m1.7 2h0m-5.2 2h0m2.3 1h0m3.3 3.4h0m-5.1 3.9h0m0.6 2.3h0m3.7 1.1h0m-2.8 1.7h0m4.7 2.2h0m-6.4 2.8h0m2.3 0.7h0m3.6 7.2h0m-3.5 3.2h0m3.5 1h0m-1.8 1.3h0m19.9-62.8h0m18.5 7.5h0m-2.9 2.3h0m10.3-4.5h0m-15.6 3.1h0m-5.5-21.6h0m9.4 1.4h0m-5.9 22.7h0m3-1h0m-9.9-4.9h0m-7.3-18.3h0m18.1 4.2h0m2.3 15.9h0m-2.6-8.8h0m-6.8-10.6h0m11 6.9h0m-12-3.2h0m-5 10.1h0m17.3-0.4h0m-13.2-3.1h0m4.3 7.4h0m6.5 1.6h0m-9.1 3.2h0m0-0.3h0m9.5-3.4h0m-0.9-1.7h0m-15.7 1.9h0m20.7 1.9h0m-2.1-7.7h0m-3.7 49.1h0m-1.4-4.3h0m-11.6 7.5h0m-5.2-10.4h0m-0.9 6.7h0m12.9-3.4h0m2.8-9.6h0m-15.9 32h0m11.1 4h0m2-46.3h0m-14.3 28.2h0m15.2-23h0m5.9 17.9h0m-20.7-12.5h0m-0.1 5.5h0m7.2 31.9h0m3.1-27.5h0m-4.2 7.5h0m-5-25.1h0m4.6 14.5h0m3.5-9.6h0m8.6 22.7h0m-4.5 7h0m4.3-7.7h0m-19-20.7h0m17.5 11.3h0m-18.4 7.8h0m7.5 20.8h0m16.8-33.6h0m-11.2-3.2h0m8.6-9.1h0m1.2 13.9h0m-3.3-17.1h0m-5.5 19.8h0m3.6 14.6h0m8.3-34.1h0m-20.4 30h0m6.1 15h0m-4.8-33.9h0m11.8 14.1h0m-10.4-19.8h0m4.4 7.6h0m-9.5-7.3h0m-0.5 6.8h0m13.1-0.5h0m-6.3 6.9h0m1.1-18.1h0m17.6-85.2h0m-1.6 4.1h0m-6.2 6.5h0m4.8-1.8h0m4.7-1.5h0m7.9-4.4h0m-12.9 15.8h0m12.1-3.2h0m-6.4 5.1h0m9.7-4.6h0m-5.1 4.5h0m3.3 0.6h0m7-2.5h0m1.9 0.7h0m-8.7 8.3h0m-8.2 6.5h0m9.7-3.5h0m5.3 0h0m11.5-4.7h0m-7.8 5.2h0m-7.7 8.7h0m5.2-1.1h0m1.2 0.9h0m-3.8 3.4h0m10.9-2.4h0m-9.7 6h0m7.7-0.7h0m3.7 0.8h0m-11.8 6.9h0m6.3-1h0m-0.1 7.8h0m11.4-3.4h0m-1.4 1.3h0m5.1-0.4h0m-5.4 4.1h0m4 0h0m1.7 4h0m-12.3 7h0m10.5-3.2h0m5.2-0.6h0m-0.4 1.5h0m-5.9 16.9h0m5.1-0.6h0m1.9-1h0m8.7-0.5h0m-2.1 4.1h0m-1.5 6.6h0m1.2 0.1h0m4.3 1.7h0m-2.4 3.6h0m-10.6 10.9h0m24.2-11.7h0m-20.4 14.1h0m13.9-7.4h0m-2.3 3.8h0m-1 6.5h0m-6.2 5.3h0m12.4-5.4h0m-0.6 3.9h0m-0.7 1.9h0m-0.6 2.1h0m13.4-4.8h0m-17.9 9.7h0m15.4-4.9h0m-13.1 7.3h0m16.8-4.7h0m-8.9 11.1h0m11.2-0.9h0m-74.5-57.4h0m7.3 4.1h0m3.7 3.2h0m10.4 6.1h0m7.1-1h0m-2.2 5.7h0m3.8 0.9h0m-2.2 4.2h0m3.3 3.5h0m-97.5 17.2h0m3.7-1h0m5.7 1.6h0m1.3 2.3h0m1.3-0.4h0m-0.3 3.6h0m3.3-1h0m2-0.1h0m2.1 3h0m2.7-0.8h0m2-0.3h0m2.3-2.8h0m0.6 3h0m-26.1 72.3h0m-1.9-1.5h0m6.3-3.5h0m-1.9-12.5h0m4.6-1.9h0m6.9-8.3h0m1.7 2.7h0m7.9 0.2h0m2.4-0.4h0m11-1.1h0m5.8-1.1h0m-24.1 14h0m2.1 4h0m2.4 0.4h0m1.9 0.8h0m3.5-4h0m6.2 1.3h0m3.5-1.1h0m1.7-3.1h0m0.4 6.3h0m1.2-2.9h0m-8.1-12.5h0m1.6 1.6h0m2 1.1h0m-5 1.8h0m4.1 1.1h0m-2.1 0.6h0m1.3 3.2h0m-42.8 37.7h0m23.3 38.1h0m9.5 9.6h0m15.3 0.2h0m-46-35.3h0m-28.8 22.4h0m84.3 0.7h0m9.9 9.5h0m-21.6-0.9h0m14.3 3.9h0m8.6-0.7h0m-24.3-18h0m0.5 10.7h0m17.2-19.7h0m0-2.6h0m-5.8 31.2h0m10.5-3.4h0m-1.7-10.6h0m-9 14.6h0m-11.8-2h0m17.7-12.6h0m-4.5-1h0m-2.3 0.9h0m7.9 6.4h0m-5.9-22.8h0m0.3 15.2h0m-8.9 9.3h0m-5.5-2h0m19.2-21.3h0m-8.6-1.7h0m-7.2 22.4h0m22.2-9.6h0m-14.8 5.1h0m0.6-14h0m-4.4 26.1h0m-5.8-15.8h0m17.8 13h0m-9.9-6.2h0m0.5-2.5h0m13-4.4h0m-6.2 13.3h0m-12.5-2.7h0m9.2-13.6h0m-12.2 18.8h0m7.1 0.9h0m75.1-20.8h0m54.6-22.7h0m6.2-1.3h0m-206.6 101.8h0m15.5 18.8h0m2.7 0h0m-17.9-9h0m44.6 9.8h0m7.4 4.4h0m21 3.9h0m2.5 6.1h0m-52.4 32.8h0m4.7-1.8h0m9.5-0.3h0m12-4.8h0m10.6-1.9h0m15 23.1h0m3.1 4h0m5.7 1.9h0m-74.9 18.4h0m0.5 2.9h0m1.4 2.9h0m0.6 6.8h0m3.6 7.6h0m1.8 7.6h0m3.7 6.3h0m-14.6 6.6h0m5-0.1h0m4.8 6.1h0m0.2 4.2h0m3.5 6.6h0m40.2-57.4h0m-1.3 4.2h0m12.9 15.9h0m-211-289h0m9.6 15h0m72.6 181.7h0m10.1-6.5h0m2.2 12.5h0m-17.9-16.5h0m-132.1 22.4h0m77 108.1h0m-1 1.8h0m12 13.2h0m24.4-10.2h0m-7.8-4.5h0m5.4-4.1h0m-0.2-3.8h0m-39.4 2.1h0m6.1 7.2h0m16.4-10.2h0m17.4-6.8h0m-88.4 44h0m6.2 1.9h0m4.9 1.6h0m10.6 7.1h0m-0.7 11.8h0m74.4-17.7h0m3.7-6h0m4.1-2.1h0m4.4-0.2h0m10 0.1h0m8.4-121.5h0m-0.2 1.3h0m3.2 1.2h0m-1.6 4.1h0m3.9 3.8h0m-7.7 5.8h0m3.7 4h0m-1.4 1.7h0m0.9 1.4h0m-1.4 9.5h0m2.5 9.4h0m2.5 3h0m-17.2 43.7h0m5.9 1.8h0m6.6-6.6h0m-455.3-263.4h0m-0.7 7.1h0m7.3 3.6h0m4.3 8.1h0m7.1 2h0m-2.7 6.9h0m5.2-2.8h0m3.6 8h0m5.3-1.6h0m-0.5 4.5h0m1.6 0.7h0m-0.2 2.3h0m7.7 3.3h0m0.1 5.2h0m5 10.5h0m0.8 5.1h0m5.1-0.2h0m-0.1 1.4h0m4.4 4.5h0m-0.1 3.5h0m2.4 2.9h0m2 0.6h0m2.1 3.7h0m7.6 22.1h0m2.3 0.3h0m5.1 3.4h0m-30-88.6h0m4.1 10.7h0m8.3 6.5h0m-1.9 3.6h0m8.8 4h0m6.6 1.1h0m0.4 4h0m-48.3 20.7h0m2.9 1.7h0m3 5.8h0m1.9 2.1h0m2 7.1h0m7.7 3.5h0m-52.1-39.9h0m1 4.2h0m1.6 1.1h0m2.6-0.2h0m-0.2 1.8h0m1.3 6.4h0m3 2.4h0m5.1 6.3h0m1.4-0.9h0m0.6 5.6h0m2.2-1.3h0m-0.2 2.2h0m87.8-49.6h0m16.4-21.7h0m2.6 0.7h0m3.8 5.3h0m-1.1 4.6h0m17.7-1.9h0m1.5 5.7h0m-31 39.9h0m4 7.4h0m6.1 4.4h0m-1 3.3h0m7.7 3.2h0m-26.9 5.1h0m7.8 0.6h0m-2.9 3.5h0m0.9 3.3h0m5.2 3h0m3.6 6.3h0m0.1 5.9h0m-16.8 18.9h0m4.1-2.3h0m10.2 9.7h0m-0.5 1.4h0m-13.7 14.2h0m-0.3 6.9h0m18.1 23.3h0m0.9 10.3h0m4.3 6.2h0m4.3 1.9h0m3.6-34.7h0m-0.3 6h0m2.8 7h0m7.7-24.9h0m7.1 5.3h0m8.9 3.9h0m-2.5 11.2h0m4.9-20.5h0m6 4.2h0m-5.4-117.8h0m14.9 4.9h0m7 8.8h0m8.7 11.4h0m1.8-56.4h0m0.3 3.5h0m2 1.3h0m-1.7 1.7h0m5.5-1.2h0m-1.3 2.1h0m0.8 3.8h0m-1.1 1.9h0m4.5 2.3h0m-2.5 5.4h0m3.3-0.1h0m6.4 9.6h0m0.2 2.1h0m-35.4 54.6h0m5.1 3.8h0m0.6-0.1h0m8 10.5h0m0.6 2h0m7.1-12.1h0m-1.7 4h0m25.4 38.4h0m22.1-73.9h0m-13.8 4.3h0m-5.2 6.4h0m7 0.5h0m12.7 29.7h0m17.1 13.9h0m-67.6 22.1h0m5.4-0.9h0m-3.2 2.7h0m3.9 2.9h0m0.4 6.9h0m-0.2 6.1h0m7.9 2.3h0m-0.9 3.2h0m-3.8 6.2h0m4.9 0.4h0m2.7 0.4h0m1.1 1h0m30.1-6.5h0m10.3-27.9h0m3.3 9.2h0m-1.4 2h0m1.6 2.1h0m-0.5 1.6h0m8.1 8h0m-5.5 4.3h0m4.3-1.4h0m-0.6 1.5h0m2.4 5.1h0m2.8 1.8h0m1.6 10.1h0m-1.4 2.5h0m-80.5-5.9h0m0.4 2.1h0m3.4 7.6h0m4.7 2.7h0m0.6 0.5h0m5.6 13.3h0m10.2 4.9h0m5 6.7h0m5.8-20.7h0m3.5 0.2h0m-0.6 2.7h0m6.5 6.4h0m3.8 0.7h0m3.6 3.7h0m2.2 0.3h0m35.2-72.2h0m11.2 3.5h0m14.6 17.8h0m10.1 9.4h0m-41.5 21.6h0m6.8-0.5h0m-2.1 2.6h0m6.1 3.9h0m-1.2 2.5h0m3.8 0.4h0m2.3 3h0m-4.1 4h0m12.9 7.6h0m-113.6-0.5h0m1.6 3.1h0m2 2.4h0m2.1-0.7h0m2.5 0.1h0m-0.7 1.9h0m-0.2 30h0m2.5 5.1h0m7.1 12.3h0m4 3h0m17.4-3.1h0m10 4.9h0m1.3-7.6h0m7.7 1.1h0m7.8 1.2h0m22.8 7.7h0m7 2h0m5.4 3.5h0m1.6 2.4h0m6.4-0.9h0m3.5 0.6h0" stroke="#e6550d" stroke-width="4.6" stroke-linecap="round" fill="none"/>
<path d="M179.2 304.1h0m9.1-3.3h0m5.4-2.9h0m7 2h0m8.1-6h0m3.2 5.4h0m11-2.2h0m8.9 1h0m3.7 1.9h0m0.5 2.1h0m15.9 1.5h0m3.7-0.4h0m2.5 8.8h0m6.7-3.2h0m10.4 5h0m4.7 2.6h0m2.8-0.5h0m-68.7-4.5h0m17.4 2.3h0m19.5 14h0m11.9 0.5h0m6.1-1h0m5.1 7.2h0m6.7-4.6h0m2.1 3.8h0m1.8-1.7h0m-38.3 12.8h0m8.4 10.9h0m9.3 50.1h0m2.2 6.2h0m1.1 0.8h0m5.8 6.5h0m-0.7 5.1h0m8 13h0m-2-55.2h0m10.5 9.4h0m4.8 1.8h0m-1.1 3.2h0m6.6 12h0m-0.9 2.6h0m10.9-18.2h0m4.5 2.1h0m8.5 30.9h0m3.3 6.3h0m2.2 4.3h0m1.4-44.4h0m6.6 28.3h0m3 4.6h0m-0.8 2.2h0m6.5 7.4h0m6.6-2.3h0m6.6 6.7h0m3.7-5.7h0m5.7 4.7h0m-41.6 15h0m10.8 4.3h0m1.3 6.1h0m14.4-9.2h0m4.1-0.9h0m4.8-0.8h0m3.8-1h0m1.2 0.6h0m8.6 0.1h0m4.1-0.2h0m6.2-0.2h0m1.6-7.7h0m2.1 8.1h0m-45.6-129.8h0m-3.1 5.2h0m23.6 6.2h0m1.9 1.6h0m1.3-1.3h0m2.8-2.1h0m2.7 0.1h0m10.6-4.2h0m6.2-3h0m30.6-42.7h0m2.1 1.9h0m6.2 20.7h0m20.7 20.2h0m-9.3 8.6h0m6.6-0.5h0m-85.1 32.3h0m1.5-13.3h0m-22.6-26.7h0m-2.5 2.3h0m11.3 7.5h0m-27.7 55.5h0m-7.5 4.1h0m0.3-4.2h0m22.6 9.3h0m98.9-6.6h0m-9.2-3h0m0.7-0.4h0m-7.1 0.4h0m-10.3 2.9h0m22.4 6.5h0m-10.1-10.7h0m195.8-94.1h0m-4.3 25.2h0m1.7 4.7h0m11.2-59h0m3.9 1h0m-2.6 1.9h0m1.1 7.5h0m-0.7 5.9h0m7.1 7.7h0m-7.6 3.1h0m-3.7 3h0m7.9 4.2h0m0.3 4h0m-1.8 4.7h0m2.4 6.9h0m-7.1 5.7h0m3.2 3.1h0m2 14.1h0m1.9 12.4h0m25.2-54.1h0m-5.4-1.2h0m15-18.1h0m-4.8 6.9h0m0.3-7.5h0m-12.6 3h0m0.6 1.6h0m20.2 2.7h0m-18.5 0.1h0m20.7 8.8h0m-15.5-14.1h0m8.2 1.2h0m-18.7 2.7h0m24.2 6.9h0m-6.4 0.5h0m-19.4-8.7h0m18.4 8.1h0m-6-5.2h0m-4.9-8.6h0m15.4 9.9h0m-12.1-1.9h0m1.7-10h0m3.4 59h0m-5.5 14.3h0m6.6-23.6h0m-7.9 28h0m-4.4-10.5h0m-0.7 5.6h0m13.1-18h0m-1.4-16.3h0m-2.8 11.3h0m-2.4-3.3h0m-4.3 0.5h0m-4.3 13.2h0m-0.7 15.7h0m-2.5 8.3h0m6.1-14.2h0m-8.4 10.6h0m6.3-29.9h0m-2 36.2h0m2.9-39.5h0m7-8.2h0m-12.6 38.2h0m17.3-27.2h0m3.1 8.5h0m-9.1 20.3h0m3.9-39.7h0m5.9 18.9h0m-17.4 1.3h0m7.2-15.6h0m-5.2 42.9h0m1.7-42.1h0m11.5 5.4h0m-20.7 26.8h0m26.1-124.2h0m1.7 0.4h0m-0.4 0.8h0m4 2h0m-0.3 8.5h0m-0.1 1.2h0m-0.5 2h0m1.5 2.2h0m4.3-2h0m-2.4 2.6h0m8.9-2.6h0m-3.8 5.8h0m0.7 1.5h0m-2.3 3.3h0m-2.9 4.5h0m10.6-0.5h0m-1.2 3.9h0m8.7-2h0m-11.6 7.9h0m12 1.9h0m0.6 4.7h0m-2.5 13.9h0m2.2 0.1h0m0.8 3.4h0m0.8 5.6h0m7.6-2.6h0m13.4-5.4h0m-9.1 5.9h0m-15.9 10.9h0m17.1-2.8h0m-2.4 5.5h0m2.7 0.1h0m17.6-8h0m-21.5 13.2h0m0.4 1.4h0m4.3-0.1h0m18.9-8h0m-10.7 9.8h0m-3.8 5.5h0m6.8-1.4h0m-9.5 6.4h0m13.8-4.9h0m-14 8.5h0m4.6-1.7h0m5.9-1.4h0m0.2 4h0m9.6-3.8h0m-6.6 5.9h0m-5.2 8.3h0m2.1 0.2h0m-5.3 4.1h0m7.7-1.8h0m5.6-0.6h0m6.2 0.9h0m-8.4 5.7h0m-3.3 4.5h0m12.2-3.9h0m-0.2 2.9h0m-8.4 8.9h0m18.5-9.1h0m-18.5 11.9h0m21.6-9.4h0m-11.2 8.1h0m-3.1 5h0m13-5.4h0m-74.5-55.4h0m16.1 10.8h0m3.5-1.1h0m2.4 4h0m2.2 3.3h0m0.2 9.8h0m6.7-1h0m-2 3.3h0m-0.1 2.6h0m2.7 2.2h0m-96.5 87.1h0m-1.8-3.8h0m0.2-1.2h0m5.3-1h0m-0.5-11.7h0m2-1.8h0m3.3-3.2h0m8-3.9h0m7 4.3h0m-45.6 37.6h0m51.8 13h0m12.9 37.4h0m20.2-11.3h0m-102.2-12.5h0m16.2-2.2h0m31.2-19.7h0m-20.8 44.6h0m31.8-2h0m38-31.7h0m-16.2 35.3h0m-66.4-33.8h0m56.6 32.1h0m-24.5-0.1h0m30.2-5.7h0m-11.7-17.2h0m-8-5h0m5.1 5.7h0m-55.3-16.9h0m65.1 5.7h0m19.4 27.7h0m-39-35.6h0m-37.3 11.1h0m-18.9 18.2h0m20.9-13.1h0m-17.5 19.6h0m-0.7-13h0m16.7 15h0m0.5-5.9h0m-3.4 11.7h0m-3.3-2.9h0m-0.7-8.9h0m7.3 7.9h0m-16.6-27.6h0m5.8 11.3h0m9 0.2h0m0-24.7h0m-14.9 41.3h0m83.5-10.6h0m1.1 3.2h0m-6.8-0.2h0m-0.8-10.3h0m-3.7 11.3h0m2.9 7h0m8.4-1.8h0m-2.3 2.7h0m9-20.4h0m-6.3 31.3h0m-0.4-20.1h0m-2.7 18.1h0m5.3-16.2h0m10.7-11.2h0m-25.4 4.6h0m8.4 11h0m4.9 9.1h0m9.9-12.1h0m-12.2-13.8h0m-6.2 21.4h0m6.2-13.5h0m-2.1 22.5h0m14.3-3.5h0m-15.6-20.8h0m11.9 9.7h0m-10.6-5h0m13.8-10.8h0m56 3.7h0m0.5 0.5h0m2.2 1.4h0m3.8 20.2h0m1.6 2.8h0m2.6 2.2h0m-3 5.8h0m-1 1.3h0m4 1.2h0m1.5 1.2h0m-0.3 2.7h0m-0.6 1.3h0m6.2 0.6h0m-8.4 5h0m5-0.9h0m-2.3 2.3h0m42.4-64.6h0m3-0.5h0m2.6-1.1h0m0.3-3.4h0m-198.4 118.4h0m3.8-7.9h0m9.8 12.5h0m-4.6 11.3h0m-8.3-4.1h0m-4.1-13.7h0m-3.6-16.2h0m11.1 7h0m7.8 14.3h0m-2.8 6h0m30.1 0.9h0m4.1-5.4h0m10.1 9.2h0m2.1-0.7h0m7.6 1.2h0m5.3 2.2h0m2.1 4.4h0m4 0h0m-78.6 26.4h0m2.9 2.1h0m3.6-4h0m2.8 3.5h0m2 1.8h0m0.8 3.1h0m19.3 8.5h0m-10.4-6.9h0m25.8-5.6h0m2.1-0.9h0m5.4-0.7h0m-2.3-8.2h0m30 2.2h0m-69 36.3h0m6 7.3h0m20.7-6.2h0m35.4-7.6h0m5.2 2.9h0m9.6 4.6h0m9.3-3.5h0m-89.3 24h0m1.6 3.8h0m1 3.7h0m1.5 1h0m7.6 2.4h0m3.5 18.3h0m1.3 1h0m-197.7-319.1h0m4.2 2.4h0m21.5 19.5h0m-33.7 52.3h0m19.4 3.1h0m-34.9-12.2h0m31.1 22.2h0m-30.8-22.3h0m0.6 24h0m19.7 11.5h0m-3.6-7.8h0m8.4 3.5h0m-11-34.1h0m-5.4 40h0m0-6.4h0m19.2 6.8h0m-22.9-33.4h0m-6.4 23.1h0m-1.6-18.7h0m137.2 138.7h0m5 5.8h0m-138.3-1.6h0m0.5 1.4h0m4.7 4h0m9.8 14.3h0m5.5 3.5h0m124.6-2.5h0m3.9 0.8h0m2.2 2h0m-3.9 7.3h0m-0.3 5.7h0m3.2 13.9h0m0.5 6.7h0m-191-92.1h0m3.6-0.1h0m-1.9 3.6h0m19.8 25.9h0m7.6 8.9h0m4.1-1.6h0m6.3 8.5h0m-25 2.6h0m11.4 9.9h0m-0.5 5.2h0m3.9 2.7h0m7-2.4h0m0.3 3.3h0m-70.2 73.5h0m51.3-167h0m7.9 5.6h0m10.8-24.5h0m2.2 3h0m-7.1 17.6h0m-16-13.7h0m36.6-14.6h0" stroke="#3182bd" stroke-width="4.6" stroke-linecap="round" fill="none"/>
<path d="M1244.1 233.3h0m-2.6-1.9h0m-1.8 0.1h0m-48.7-35.1h0m1.6 1.4h0m3.6-0.3h0m-14.6-7.7h0m47.2 52.8h0m-1-2.4h0m1.9-3.8h0m18.3-24.1h0m-28.7-17.5h0m3.8-3.3h0m0.9-1.6h0m3.4-1.3h0m26.8 44.1h0m-1.2-2.7h0m0.1-3.8h0m0.4-4.5h0m-1.9-1.7h0m0.9-3.5h0m-13.6-25.6h0m-29.8 38.4h0m3.1 2.4h0m2.2-0.4h0m3.1 0.5h0m-26 5.4h0m3.7 3.8h0m0.8 0.7h0m8.9-58.3h0m2.2 3.4h0m1 1.4h0m2.5 1.9h0m18.2 4.9h0m-3 1.6h0m-54.6-3.7h0m-3 2.3h0m-4.8-1.2h0m-2 2h0m82.6 8.7h0m-3.3 0h0m-3.9-0.6h0m-2.6-0.9h0m-34.3 7.3h0m-2.5-1.9h0m-3-1.6h0m9.3 20.6h0m-2.2 1h0m-3.1 2.6h0m-2.3 1.1h0m-3.1 3.4h0m-18.9-17.3h0m-4.6-8h0m-0.3 2.2h0m-14 0.2h0m2.3-3h0m3.1-2.1h0m1.5-1.1h0m42.2 14.5h0m-2.3 4.7h0m1.2 2h0m1 3.5h0m-0.7 3.7h0m-5.6-6.7h0m-2.9-0.5h0m-3.9 1.2h0m-1.5-0.4h0m-5.4 2h0m61 0.2h0m-1.2-3.9h0m3.2-1.4h0m0.7-2.7h0m-55.2-29.4h0m1.1 1.7h0m40.2 23.9h0m-1-3.2h0m-1.2-2h0m-2.7-3.2h0m-70.2-6.8h0m2.6 1.1h0m85.4-0.8h0m-0.1-2.1h0m-3.5-3.9h0m-47.7 34.2h0m-3.1 2.8h0m-2.7 2h0m-1.9 2.7h0m-2.7 1.3h0m-36.8-35.5h0m2.6 2.3h0m1.5 2.8h0m1.2 3.4h0m30.3-4.9h0m1.1-3.2h0m2.7-3.3h0m0.1-2.1h0m62.8 32.7h0m-58.5-34.5h0m-3.1 4.1h0m-2.2 1.9h0m-1.4 3.7h0m-3.1 1.3h0m9.6-7.2h0m-2.1-2.7h0m-2.3-2h0m-0.4-8.3h0m-1.7 4.1h0m-1.5 2.1h0m-2.9 3h0m29.6 8.1h0m3.2 0.6h0m-8.3 18.1h0m2-1.8h0m1.7-2h0m2.7-3.5h0m0.5-2.8h0m1.8-3h0m2.1-2.6h0m-20.4 4.7h0m3.3 1.9h0m0.6 1.8h0m-0.7-36.6h0m0.8 1.8h0m-0.3 3.8h0m0.9 3.4h0m20.2-1.4h0m-3 2.3h0m-2.1 1.3h0m-1.5 0.7h0m15.5 36.4h0m-2.5-1.7h0m-4.1-0.7h0m8.5 12.3h0m2.4-2.1h0m-33.7-32.9h0m-0.8-3.4h0m-1.9-3.3h0m-1.1-2.4h0m-25.9 7.4h0m-2.2-0.2h0m69.9 6.7h0m-2.9 0.8h0m-49.6-15.7h0m-3.5-2.6h0m-2-0.6h0m-2.4-2.2h0m-2.3-1.6h0m2.1 40.1h0m-3.5 1.7h0m-2.4 1.2h0m85-7.8h0m-4.1 2.8h0m-2.4-0.5h0m-4.3-1.3h0m-76-32.4h0m1.9 3.1h0m2.1 2.4h0m57.1 10.7h0m-3.6-1.5h0m-3.4 0h0m-18.5-18.1h0m-4.1 0.5h0m-2.1-1.7h0m-4.1-0.8h0m15.9 8.4h0m2.1-5.4h0m0.4-2h0m0.6-3.1h0m1.6-3.1h0m-1.9 27.8h0m27.7 11.4h0m-0.7 2h0m-1 4.1h0m-0.7 3.4h0m-33.2-31.5h0m-3.1 0.7h0m-2.6-2h0m12.9 8.8h0m-3.5 2.2h0m-3.5 0.7h0m-2 1h0m-3.8 2h0m-3.4 0.8h0m37.8 17.9h0m1.5-3.7h0m1.4-3.3h0m3-2.3h0m0.2-3.7h0m-54 0h0m3.2-0.5h0m0.4-2h0m3.4-1.8h0m26.1-14.4h0m1.7 1.2h0m2.7 3.2h0m2.6 3h0m24.6 27.3h0m-0.4-1.9h0m-3.4-4.3h0m-0.6-2.7h0m-2.3-2.7h0m-43.6-37.2h0m-3.4-1.1h0m-2.8 2h0m-4-0.3h0m-5.5 55.3h0m-3.6-0.7h0m-1.2-2.7h0m38-41h0m-2-0.8h0m-3.5-0.4h0m-4.7-0.6h0m-2.6 0.9h0m-39-2.7h0m-3.2-0.3h0m-2.7 3.1h0m35.8-5.8h0m1.8-2.8h0m1.4-3.8h0m0-1.9h0m-35.2 17.1h0m-1.4-1.7h0m-2.3-1.8h0m94.7 31.2h0m-0.9-2.6h0m-15.7 2.6h0m64.3 19.7h0m-1.3 3.3h0m73.5-7.2h0m-2.5-0.1h0m-5 2.2h0m0.6-26.4h0m-44.4 9.6h0m4.1 0.7h0m2 0.2h0m3.7 0.1h0m2.1 0.6h0m4.4-1.2h0m10.6 8.8h0m-2.4 1.8h0m-2.2 1.9h0m-1.8 2.6h0m36.9 6.9h0m4.3-1.5h0m3.9 0.7h0m-24 13.2h0m3.4 1.7h0m2.5-1h0m2.9 0.6h0m7.9-2.9h0m-3.6-2.1h0m-2.6 0h0m-40.2-1.1h0m1.7-2.3h0m2.3-2.1h0m-1.8-6.1h0m-0.6 4.7h0m-2.2 3.1h0m-0.9 4.2h0m54.8-22.5h0m-101.4-21.6h0m-2.2 3.2h0m-2.5 1.5h0m-0.4 2.6h0m-5.4 12.2h0m2.6-3.3h0m-0.7-4.1h0m-0.5-2.4h0m90.5-11.4h0m-6.6 60.2h0m0.7-3.7h0m-0.7-2.8h0m-0.4-4.9h0m3.6-33.1h0m2.7 1.4h0m6.4 48.1h0m-51.7-35h0m0.2-2.9h0m-0.5-2.7h0m-1.3-3.2h0m40.6 43.8h0m-1.5-3.9h0m-1-2.9h0m-1.5-3h0m11.1 0.4h0m-0.3 3.8h0m-1 2.6h0m-80.1-58.3h0m2 5.3h0m0.3 1.1h0m1.4 2.6h0m0.1 3.2h0m-8.1-15.9h0m-2.2 3.1h0m-1.9 2.7h0m-0.9 4.1h0m80-9.8h0m-2-2.7h0m-2.8-1.5h0m-4.2 36h0m0.7-4.1h0m0.2-1.8h0m23.3-18.7h0m1.5 3.2h0m1.3 3.3h0m-1.9 2.6h0m-0.4-5.6h0m-2.9 0.2h0m-3.1 0.3h0m-4.1 1.6h0m-92.8 5.3h0m4.1 1.9h0m3.8 2.4h0m1.5 0h0m88.4-12.3h0m-7.4 17.8h0m0.8-3h0m1.8-2.5h0m0-4.3h0m8.5 17.8h0m2.5 0.5h0m4.3-0.2h0m-58-37.5h0m-3.8-0.4h0m-3.8-1h0m60.2 68.7h0m-44.7-55h0m2.3 2.6h0m-1 4.5h0m0.9 1.9h0m50.6 18.1h0m-3.7-1.5h0m-1.6 0.6h0m-4.5-1.3h0m13.3 2.6h0m-0.2-2.9h0m-23.9 24.2h0m-3.9 0.4h0m-3.5-0.1h0m-46.8-23.7h0m-1.9-0.4h0m46.8-13.6h0m-1.1 3.1h0m-3 2.6h0m26 13.2h0m-2.6-0.8h0m-4.2-0.5h0m-1.6-2.7h0m-32.3-25.6h0m-0.4 3.7h0m1.1 3.1h0m-54.3-12.8h0m-2.3-3.1h0m80.2 55.4h0m-2.2-3.3h0m-2.9-2.6h0m-1.9-1.9h0m-0.7-4.3h0m-52.2-42.4h0m-3.1 1.7h0m-2.4 2.5h0m-1.7 1.4h0m-3.2 1.6h0m74.1 39.5h0m-3 0h0m-3.1-0.5h0m-28.9-27.9h0m3.4-0.4h0m3.7 1.9h0m-10.7-6.9h0m0.5-2.3h0m0.2-3.1h0m0.9-2.9h0m-15.5-13.8h0m-3.4 0.9h0m-1.8 1.8h0m-3.7 1.8h0m-2.4 1.4h0m-2 3.3h0m3 0.5h0m2.6 0h0m48 42.1h0m3.5-1.2h0m4.2 0.1h0m2.1-2.1h0m-0.9-14.9h0m2.7 3.2h0m-37.8-8.1h0m-3.5-0.5h0m-1.9-0.3h0m-3.7-0.9h0m67.7 10.8h0m-44.3 14.5h0m3.3 1.2h0m2.3 0.9h0m3.7-1.2h0m16.2-29.4h0m0.8-2.4h0m-1.5-8h0m-3.3-3h0m-1.7-0.9h0m-3.5-2.4h0m-32.8 37.1h0m-2.5-1.2h0m-3.2 1h0m-3.2 0.3h0m30.2-23.6h0m-5.9 0h0m-2.2-0.2h0m4.4-15.7h0m-2.8-1.6h0m12.6 60.5h0m2.6 1.3h0m2.9-2.3h0m33.7-34.6h0m-44 3.3h0m3.2 1h0m2.9-1.2h0m4.1 1.5h0m2.3 0.6h0m16.7 38.2h0m1.6-3.3h0m-0.2-3.5h0m-74.5-33.6h0m1.9-2h0m4.3-2.7h0m0.8-1.2h0m2.1-2.3h0m58.2 39.8h0m-3.1 1h0m-11.5-54.6h0m-1.2 1.7h0m-4.5 0.7h0m-1.9 3.6h0m-26.2 25.3h0m-2.5 3.2h0m-0.9 1.9h0m-2.2 3.2h0m40.3 21.5h0m24.7-35.2h0m-0.4 4.3h0m-1.3 2.5h0m-1.9 1.4h0m-0.9 2.5h0m-104.1-23.5h0m2.6 0.5h0m19.1 2.1h0m-3.2 3.5h0m-0.4 1.9h0m-2.4 2.4h0m50.1-30.9h0m10.2 8.6h0m-0.9-4.1h0m-1.6-2.2h0m0.5-2h0m-65.4 27.9h0m3.1 0h0m15.7-19.1h0m3.5 0.4h0m70.3 59.6h0m-83-45.5h0m-2.9-2.1h0m-1.9 0.4h0m99.6 4.3h0m-2.5-1.6h0m-2.5-3.4h0m-2.2-3.6h0m-1.4-1.6h0m-17.7 50.5h0m23.2-39h0m-1.1-3.6h0m-1.5-3.9h0m0.7-3.2h0m10.9 24.5h0m-9.3 16.2h0m-2-2.5h0m-79.7-41.5h0m3.5-0.3h0m1.4 1.5h0m48.9 1.7h0m0.8-1.4h0m2-4.2h0m-29.2 38.3h0m1-3.2h0m0.7-4.6h0m1.2-3.3h0m0.5-3.3h0m34.6 27.1h0m-1.1-11.4h0m3 2.6h0m-1.5 3.1h0m2.2 2.7h0m-73.9-47.2h0m0.1-0.8h0m-0.2-3.4h0m13.8 29.1h0m3.8 1.4h0m2.9 1.6h0m57.8 18.8h0m-1.4-2.3h0m-1.5-3.9h0m-0.8-1h0m-0.9-4h0m-3.8-18.5h0m-0.1 3.4h0m-0.2 3.5h0m2 1.4h0m-73.1-28.5h0m-0.1 2.2h0m34.2-1.3h0m0.7 2h0m3.2 3.5h0m54.2 20.9h0m-1.3 3.9h0m-72.7-19.4h0m-2.6 1.2h0m-4.3 0.2h0m50.7 14.3h0m2.4 2.7h0m2.8 0.8h0m-57.1-32.6h0m-1.8-3.8h0m7.2 11.1h0m6.4-5.5h0m27.5 3.8h0m32.6 26.4h0m-2.8-1.2h0m9.7-11.6h0m-3.4-0.1h0m-1.5-2.3h0m-5.6-1h0m7.2-5.1h0m-9.7-1.2h0m3.1 1.9h0m3 1.7h0m2.7 0.3h0m-4.6 9.6h0m3.1-1.8h0m-0.6-4.3h0m1.9-2.4h0m-3.6-18.5h0m-0.2 2.9h0m6.7 13.9h0m1.8 2.9h0m1 3h0m1.4 4.1h0m-17.6-26h0m-150.2-32.8h0m296.4 89.5h0m-2.4-3.5h0m0-2.6h0m-0.7-3.1h0m-27.2-2.9h0m2.9 2.4h0m27.2-4.1h0m-3.9 1h0m-3.3-1.6h0m-2.7 1.3h0m10.9-6.8h0m2.9 17.9h0m0.8 1.8h0m1.4 3.6h0m1.3-6.3h0m-3.5-1.5h0m-17.9-15.1h0m-3.1-0.1h0m15.3 14.6h0m1 2.9h0m2 2.5h0m-5.4 1.1h0m3 0.7h0m2.8 1h0m8.6-6.6h0m-1.1-3h0m0.7-2.8h0m-2-2.9h0m-31.7 2.9h0m-1.4-2.8h0m-1.6-3.2h0m19.3 10.1h0m0.6-5h0m-11.2 3.9h0m0.4 1.5h0m0.2 4.8h0m-1.7 66.7h0m3.8-1.5h0m3.5 5.6h0m-0.3 1.9h0m-2 1.1h0m3.4-0.6h0m-9.2-6.2h0m-0.1-2.7h0m0.7 6.1h0m1-3.3h0m1.2-3.1h0m13.7 5h0m-2-2.3h0m-3.7-0.5h0m-2.8-2.4h0m0.3 11.8h0m-156.3 10.7h0m-2.5-0.9h0m-1.4-2h0m-3.9-2.9h0m68.7-24.6h0m2.6 1.8h0m1.4 2.9h0m1.8 2.6h0m13.3 15.1h0m0 4.6h0m-24.2 30.9h0m-4-0.3h0m-3.5-0.2h0m-19.8-35h0m-0.8-2.5h0m4.3 19.7h0m2.4 1.9h0m2 1.7h0m2.1 3h0m1.7 2.4h0m-4.2-16.1h0m0.3 0.2h0m4.8 0.6h0m2.8-0.3h0m-26 26.1h0m-2.8 1.7h0m45.3-6.6h0m-0.1 2.4h0m-2.9 3h0m-2 2h0m46.9-52.2h0m-1.2-2.1h0m-1.4-3.3h0m0.2-3.4h0m0.6-2.5h0m-70.4 7.8h0m0.6-4.5h0m58.7 30.9h0m-1.3 1.9h0m-1.7 3.7h0m-0.3 3.5h0m-1.9 3.2h0m-25.6-17.8h0m-4.1-0.8h0m-53.6-15.2h0m0.6 2.8h0m1.4 2.2h0m1.8 3.1h0m58.9 44h0m-2.8 2.5h0m-2.7 1.1h0m-2.8 0.6h0m-23.4-54.7h0m-3.5-1.4h0m-1.5-0.9h0m-3.5-3.5h0m-1.8-1.9h0m-31 39.9h0m1.6 3.6h0m0.9 3.3h0m63.8 0.4h0m-2.4-2.9h0m-3-1.4h0m-1.7-2.6h0m-3-1.8h0m5.9-47.2h0m2.1 4.2h0m1.6 1.7h0m1.2 2.8h0m-39.4 45.2h0m0.6 4.9h0m34.4-23.1h0m2.4-0.9h0m1.5-3.6h0m2.3-1.1h0m3.5-2.9h0m-59.8-5.4h0m3.6 4.2h0m0.6 1.9h0m60.4-17h0m-0.7 3.5h0m-2.3 1.9h0m-1.6 4h0m-49.7 28.8h0m3.8-1.9h0m1.2-1.8h0m6.4-2.9h0m-6.4-26.7h0m27 5.5h0m-1.5-2.3h0m-0.5-3.2h0m-1.3-2.5h0m-26.9 26.1h0m1.6 2.9h0m2.2 1.6h0m2.8 2.5h0m2.4 2.5h0m28 13.5h0m-2.2-1.8h0m-0.2-3.6h0m-3.1-2.1h0m-0.9-1.6h0m-3.3-3.4h0m-11.5 19.5h0m2.6 1.6h0m2.2 0.9h0m3.2 0.6h0m37.8-12h0m0.1-2.5h0m-89.7-22.8h0m2.8 1.6h0m2.6 0.8h0m38.5 5.3h0m58-42.4h0m-2.1 2.5h0m-4.3 0.9h0m-2.7 1.4h0m-1.8 2.7h0m-70.3 53.8h0m2.3-1.5h0m3.2-1.3h0m-6.5-22.6h0m-16 18.2h0m2.8-0.1h0m66.1 1h0m-2.8 1.5h0m-3.5 2.2h0m-2.3 1.8h0m-1.9 2.5h0m-2.9 3.2h0m0.3-4.1h0m25.6-64.1h0m-3.1-2h0m-34.9 48h0m2.9-1h0m2.3-0.5h0m33.3-29.1h0m1.2 1.9h0m-0.4 2.8h0m0.6 3.7h0m0 3.5h0m0.1 2.1h0m-60.1 27.2h0m-1.8-2.2h0m-1.7-2.4h0m35 11.2h0m-1.8 3.8h0m-1.3 0.9h0m15.5-2.3h0m1.6 1.1h0m3.2 3h0m1.5 2.4h0m-6.9-4.6h0m-2 1.1h0m-2.1 2.4h0m-4.2-59.5h0m1.3 2.7h0m-1.6 3.9h0m-0.3 2.2h0m-1.5 4.9h0m-26.9 40.9h0m34.4-60h0m0.9-1.9h0m5.2-1.1h0m1.3-2.3h0m3.1-1.1h0m-20.6 6.8h0m2-2.6h0m2.8-2.5h0m-31.4 47.8h0m-0.9-3.7h0m-0.9-1.8h0m74.3-26.6h0m1.3 2.7h0m2.4 1.9h0m-72.6 12.2h0m1.8-1h0m1.8-3.3h0m0.9-22.9h0m2.2 2.2h0m2 1.7h0m10.3 25.9h0m0.4-3.2h0m1.4-2.1h0m0.1-4h0m12 45.1h0m1.5 2h0m-0.6 2.8h0m-46.8-16.2h0m-2.3-2.3h0m-1.7-3h0m-1.7-2.3h0m-3-2.6h0m79.9-49.2h0m-1 1.1h0m1.6 4.2h0m-46.5-3.6h0m1.5 2.1h0m-1.2 4h0m0.9 2.1h0m22.2 10.4h0m1.1 2.1h0m0.5 3.3h0m-1 3.2h0m2 4.2h0m23.5 6.6h0m-0.7 4.1h0m-2 1.4h0m-69.1 22.8h0m1.6-1.1h0m3.3-2.5h0m2.1-1h0m18.7-57.1h0m22.7-9.4h0m-24.6 4.9h0m-4.2 2.4h0m-0.9 0.4h0m37.8-2.8h0m-1.3-3.1h0m-36.8 65h0m-3 0.4h0m-3.4-0.8h0m-3.5-1.4h0m5.5-14.4h0m0.9-4.1h0m-1.6-2.7h0m5.4-19.9h0m-3.3 0.5h0m-27.5 4.6h0m-0.9-1.5h0m-3-2.9h0m24.1-1.6h0m-3.1-0.3h0m-4.5-0.9h0m-1.8 0.9h0m-3.7-1h0m59.4 48.4h0m-1.9-0.9h0m17.3-31.3h0m-2.9 2.7h0m-1.6 2.1h0m-1.7 3.3h0m-51.5 6h0m3.8 1.7h0m2.6 1.6h0m-23.1-19.6h0m0.6 3.1h0m1.9 2.2h0m2.4 2.6h0m-19 16.4h0m-0.5-2.4h0m1.7-3.1h0m1.1-3.2h0m102.9-25.7h0m1.1 2.8h0m-109.5 19.5h0m1-3.3h0m3.5-1.1h0m39.5 31.4h0m3-0.3h0m17.8-16.4h0m0.3 1.8h0m-1.1 3.8h0m0.2 2.6h0m0.1 3.6h0m42.4-32.4h0m0.1-3.7h0m1.5-3h0m1.3-2.7h0m-108.3-5.5h0m4.4 1.3h0m2.1-0.2h0m3.6 0.9h0m2.4 0.5h0m64.8 29h0m-2.9 1.5h0m-40.5-14.9h0m-2.1 0.1h0m-3.1-2.1h0m-3.5-0.1h0m-3.1-0.5h0m73.7 8.3h0m3.9-1.8h0m1.8-1.3h0m3.6-1.6h0m-38.3 36.1h0m-56.4-22.4h0m3.8-0.4h0m2.2 1.2h0m85.9-51.5h0m-43.4 40.3h0m3.7-3.3h0m-0.8-4.3h0m2.6-1.7h0m29.2-8.8h0m2.9 1.7h0m-54.8 43.1h0m2.4-1h0m3.4 0h0m3.3 0.4h0m3.3 0.6h0m3-0.5h0m29.3-28.1h0m-4.1-1.5h0m-1.4-0.5h0m-57.5 3.4h0m-2.3 1h0m-3.5 2.2h0m-3.2 0.6h0m-4.3 2.2h0m71.7-13.7h0m-1.3-3.3h0m-1.7-1.9h0m-47.2 42.3h0m-1.4 3.6h0m-7.1-17.7h0m3 0.6h0m4.2-1h0m-22.9-38.9h0m-0.4-1.7h0m66 11.4h0m0.9-3.3h0m1.4-4.7h0m2.3-1.7h0m7 22.3h0m-2.9-37.7h0m-2.5 3.7h0m0.1 1.7h0m-4.4 1.3h0m-2.2 2.8h0m-1.1 3.1h0m30.6 0.1h0m1.7 3h0m3.1 0.2h0m2.7 2.7h0m-73 42.2h0m-0.4-3.5h0m-0.3-3.2h0m-22.9 2.5h0m3.2 1h0m2.2 0.2h0m2.8 2.6h0m2.8 2.3h0m-13-9.2h0m3.2-1.1h0m3.4 0.8h0m2.9 0.6h0m3.1-1h0m2.6-0.6h0m50.4-14.6h0m0 2.8h0m16.2-30.2h0m-2.2-0.3h0m-2.4 0.5h0m-5.7 2.5h0m-1.1-0.6h0m-3.5 1.4h0m-47-11.5h0m2.7 3.1h0m1 0.6h0m4.3 2h0m-1.9 12.8h0m4.8 0.8h0m2.1 2.1h0m1.5 2.5h0m27.2-3.8h0m-2.5-0.7h0m-3.5 0.5h0m7.6 43.2h0m-64-16.3h0m3.9-0.5h0m3.5-1.6h0m1.9-0.7h0m69.3-39h0m0.5-1.5h0m1.3-3.8h0m-31.8 56.7h0m3.2-1.4h0m-33.1-15.5h0m0.9-3.6h0m2-3h0m14.3 44.2h0m22.4-13.3h0m1.7-1.8h0m1.8-1.8h0m1.9-2.9h0m2.5-2.2h0m33.1-52h0m-1.3-2.6h0m-1.6-3.3h0m-96.1 47.6h0m-0.4-3.9h0m-1.5-2.4h0m-0.2-1.8h0m21.9 3.4h0m-4.1-1.4h0m-1.3-2.1h0m14.5 8h0m-3 2.1h0m-3.4 1.1h0m47-47.3h0m-2.3-1.2h0m-3.2 0.8h0m-3.6-0.2h0m-3.6-1.4h0m36 29.7h0m0.6-2.7h0m4.1-2h0m0.9-3h0m2.3-1.8h0m-57.2 8.5h0m0.8-2.6h0m1.2-3.9h0m1.9-2.3h0m-46.5 13.1h0m-1.2-1.1h0m-2.1-3h0m-2.9-3.5h0m-1-3.2h0m-2-2.4h0m21.3-0.4h0m-0.8-3.7h0m56 5.8h0m25.3 9.6h0m-0.1-4.3h0m-39.2-1.5h0m-3.7 0h0m-1.6 1.8h0m-151.3 17h0m-60.9-51.6h0m-0.4-2h0m-3.4-2.9h0m0.1 59.1h0m-0.2-2.8h0m0.2-2.9h0m-87.3 69h0m0.9 2.3h0m2.8 3.7h0m135 27.9h0m3.5 2.4h0m-90.7-85.2h0m2.7-3.2h0m53.2-66.5h0m-1.3-4.1h0m-1.2-2.5h0m-1.8-2.8h0m0-2.7h0m-3-1.4h0m76.3 139.5h0m3.3 1h0m2.8 1.2h0m2.2 1.9h0m-46.7 1.8h0m-3.1 0.8h0m-2.7 2h0m-3.3 0.1h0m-3.7 1.3h0m-136.8 46.1h0m-0.3-2.8h0m0.2-2.9h0m-0.7-3.2h0m-0.2-3.4h0m93.9 14.2h0m-1.1-1.7h0m0.2 53.2h0m1.2-1.9h0m2.1-1.9h0m1.8-3.8h0m-91.8-81.2h0m2-2.5h0m1.1-2.2h0m3.3-2.5h0m127 54.5h0m2.4 2.8h0m-182.7 8.6h0m-0.9 3.8h0m0.4 2.4h0m-1 3.6h0m241.5-134.3h0m-1.5 1.4h0m-47.1 18.5h0m0.1 4.6h0m0.9 2.5h0m1.3 3.7h0m-58 142.1h0m-2.7-2.2h0m-2.6-3.7h0m-2.6-1.7h0m4.5-285.6h0m0.7-3.4h0m-27.9 162.2h0m-3.6-2.1h0m0.4-3h0m-60.9 11.9h0m-0.8 1.9h0m219 55.7h0m-2.1-2.3h0m-1.5-2.1h0m-1.2-3.6h0m-33.1-24.6h0m0.2 2.8h0m-0.2 3.3h0m-0.3 3.9h0m-0.9 2.6h0m-42.3-9.9h0m-2.1 1.6h0m87.8-53.7h0m-2.9-0.8h0m-2.5-1.5h0m-222.9 33h0m3.9 1.2h0m2-0.7h0m115.5-63.1h0m0.7-4h0m0.9-2.5h0m-92.9 181.1h0m-0.8 3.7h0m0.8 4.1h0m1.2 1.8h0m73.3-258h0m2.8 1.6h0m104.5 177.3h0m-4.8-0.7h0m-3.1 1.3h0m-2.1 0.4h0m-3.1-0.1h0m-97.8-191.6h0m2.9-3h0m1.9-2.6h0m3.5-1.4h0m-22.2 190.7h0m4-0.5h0m1.6-1.6h0m3.5 0.6h0m60.8-77.6h0m1.6-1.6h0m4.3-0.1h0m2.2 1.7h0m3.9 0.9h0m-86.6 121.8h0m-2 0.7h0m-4.2 2.3h0m-3.1 1.2h0m-2.1 1h0m40.6-68.3h0m-3.5 1h0m-77.9 39.5h0m1.5 3h0m2.1 2h0m148.9-182.4h0m-0.3 3.8h0m-2.5 1.9h0m1 4.6h0m-26.9 38h0m-1.7-3.7h0m-63.4 136.6h0m-2.3 3.7h0m3.1-154.1h0m1-3h0m1.7-4.4h0m0.4-2.4h0m-111.1 92.7h0m-2.8 2.8h0m-1.2 2h0m31.5 32.1h0m0.7 3.3h0m-3.5 1.8h0m66-110h0m0.8-3.6h0m-32.9 204h0m-2.3-3.3h0m0.4-2.5h0m-1.7-3.2h0m-98.9-51.1h0m-2.9 0.3h0m273.8-135.2h0m-2.3 2.5h0m-2.9 1.5h0m-71.4 12.7h0m-3.6 2.2h0m-1.1 0.9h0m-95.4 83.1h0m0.1 2.6h0m1.5 3.7h0m117.8-111.1h0m-3.7-1.1h0m-2.7-1h0m-176.4 74h0m-1.2-2.2h0m0.6-3.3h0m231.9-15.6h0m-1.6 0.9h0m-4.5 3h0m-2.8 0.8h0m-2.7 1.6h0m-194.4 131.9h0m5-1.6h0m127.4-271.8h0m-0.7 3.4h0m-1.7 1.6h0m-1.4 4.5h0m-96.4 228.4h0m1.8 2.5h0m1.7 2.8h0m1.5 2.2h0m-64.9-38.2h0m3.4-2h0m2.7-0.6h0m2.6-0.9h0m64.6-57.9h0m-2.1-1.4h0m-3 2.6h0m-4.1 0.9h0m-2.5 0.6h0m72.8 110h0m0.4-2.3h0m-0.6-3.3h0m85.4-214.1h0m3.1 0.9h0m2.1 1h0m-175.2 84.1h0m107.8 31.8h0m-2.2 1.7h0m-3.7 1.8h0m-2.6 0.4h0m74.6-75.9h0m-3.4-0.2h0m-3.6 0.3h0m-2.1 0.4h0m53.5 79.7h0m-133.4 90.9h0m-2.9 2.3h0m-1.7 2.3h0m-106.7-31.1h0m-4 2.6h0m97.9-115.1h0m1.6-1.6h0m1.2-3h0m0.5-2.8h0m30.2 143h0m-1.4-1.9h0m0.5-3.7h0m-0.1-4h0m-70.7-34.7h0m0.1-3.9h0m-1.7-2.9h0m157.6-19.6h0m-3.1-3.4h0m-115.5 35.2h0m3.2-1.1h0m-57.3-86.7h0m1.2-1.5h0m0.9-3.8h0m133.6 62.8h0m0 3.8h0m-1.6 3.1h0m-0.4 2.8h0m-1 4.3h0m-1.4 1.7h0m-0.6 3.9h0m-80.5 34.9h0m3.3 1.4h0m1.3 2.3h0m4.2 0.5h0m2.1 1.8h0m4 0.2h0m21.9-101h0m-2.2 1.3h0m-3.8 0.9h0m-2.1 2.5h0m-3.6 1h0m55.8-61.4h0m-1.1 3.1h0m-1.1 3h0m1.7 2.2h0m0.1 4.1h0m-0.4 3.5h0m-135.8 40.9h0m3.5 1.1h0m3.3 0.8h0m170.3 37.9h0m-1.6-2.2h0m-2.2-3.5h0m-2.5-3.7h0m-116.2-30.2h0m-3.2 0.4h0m-3 0.4h0m-3.3 1.4h0m60.5 19.1h0m-0.2-2.6h0m1.8-5.4h0m29.7-38.5h0m-1 3.5h0m23.5-61.2h0m1.6 2.5h0m1.7 2.1h0m18.7-40.6h0m-3.9-1.5h0m-2.2-2.2h0m-2.5-1h0m-3.7-0.2h0m20.5 129.1h0m-0.4-2.2h0m-2.2-4.1h0m-78.6 32.4h0m-2.6 2.2h0m-2.2 1.1h0m-3.2 2.5h0m-177.4 34.1h0m-1.5 2.9h0m-0.1 2.5h0m-0.2 2.7h0m-1.3 4.5h0m202.1 17.7h0m2.6 3.8h0m0.4 0.8h0m-62.9-96.5h0m0.3-3.9h0m0.2-2.8h0m-0.2-2.6h0m72.3 1.2h0m1.1-3.8h0m1-3.2h0m0.6-3.4h0m-66.6-2.4h0m1.8 2.8h0m-45.3 156.6h0m-1.6-3.5h0m-0.8-2.5h0m-75.5-139.1h0m0.6 2.9h0m-0.1 3.5h0m1.4 2.4h0m107.1-110.4h0m-4.1-0.8h0m-1.8 2.3h0m73.1 123.7h0m-2.3 3.6h0m-1.6 1.2h0m-3.1 1.8h0m12.5 65.3h0m-1.2-3.5h0m0-3.5h0m-1.3-3.1h0m-15.3-227.1h0m1.2-3.1h0m0.5-2h0m-89.5 141.8h0m2.8-2.7h0m1.8-1.5h0m2.4-2.9h0m2.2-2.4h0m1.8-3.2h0m46.6 57.3h0m-0.7 3.6h0m1.1 2.4h0m1 2.8h0m-0.6 1.7h0m-7.6-31.2h0m-1.8-1.5h0m-0.2-2.2h0m-1.5-3.8h0m-1.7-2.9h0m1.2-79.1h0m1.9-2h0m1.9-2.7h0m1.3-51.1h0m2.4-0.6h0m2.5-3.7h0m-25.2 18.3h0m3.6 1.4h0m-11.4 176.5h0m3.7-1.8h0m2.4-0.9h0m2.1-1.3h0m64.9 8.3h0m-2 2.2h0m-2.4 2.4h0m-48.4-115.2h0m-0.7 2.2h0m-1.2 155.8h0m-4.1 0.8h0m-1.9-0.2h0m-4-1.3h0m-2.9-1.1h0m113.5-90.7h0m-181 100.8h0m1.1-1.6h0m88.6-74.9h0m1.8-0.6h0m3.1-2.3h0m-12.2 13.1h0m-2.5 1.3h0m-4.1 1.3h0m-3-0.1h0m-3.6 0.7h0m106.8 0.9h0m2.8 3.2h0m0.4 2.6h0m2.3 2.5h0m-175.3-97.1h0m0.6 3.8h0m-0.8 3h0m153.2 24.9h0m2 2.6h0m-1.4 3.7h0m-148.4 96h0m2.3 0.6h0m3.8-0.1h0m2.7 0.9h0m3.9-2.1h0m15.7 22.7h0m3.7 1.6h0m1.6 0.6h0m66.9-234.7h0m-1 3h0m-0.4 4.1h0m-0.6 1.8h0m-91 223.2h0m-0.3 2.7h0m0.4 3.7h0m1 3.2h0m74.8-159.7h0m1.7 0.6h0m5.5 1h0m2.3 0.4h0m-50.7 94h0m-2.6 0.1h0m-2.7-1.5h0m-4.4-0.8h0m-91.7-20.7h0m0.6-3.3h0m-1.6-3.6h0m-0.7-3h0m0.7-3h0m192.8-146.6h0m2.4-1.6h0m-172.8 112.1h0m-2.3-1.4h0m-3 0.9h0m-3.8-1.4h0m83.6 109.5h0m1.7 3.3h0m1.5 2.7h0m1.2 1.8h0m2.7 3.2h0m-42.3-109h0m2.9-0.6h0m4 0h0m3.4-1.1h0m1.8 1.1h0m4.2-0.8h0m119 41.9h0m-2.3 0.7h0m-3.2-0.3h0m-79.5 15.3h0m-4.5-2.6h0m-1.7-2.9h0m-1.6-1.6h0m-36-74.9h0m2.4-1.1h0m2.7-1h0m2.4-0.4h0m73.4 66.2h0m-0.2-4.2h0m0-3h0m1.9-4.3h0m-129.3 29h0m-0.8-3.5h0m1.1-2.9h0m87.9-97.9h0m-3.2-1.4h0m-3 0.7h0m-3.7-1h0m154.3 61.1h0m0.1 2.7h0m-0.5 2.5h0m-1.6 3.5h0m-0.6 3.7h0m-165.1 17.2h0m3.6-1.3h0m3.4 1.6h0m2.3 0.5h0m167.4 5.3h0m-3.9-1.4h0m-206.8-8.3h0m-2 1.5h0m-1.8 3.7h0m-1.8 1.4h0m106.9-84.6h0m-1.6 2.3h0m-1.1 4.5h0m-1.1 2h0m-131.8 104.3h0m0.2 2.2h0m3.1 2.7h0m2.6 2h0m1.4 3.4h0m-11.7-50.2h0m-3.1 2.1h0m-1.2 3.4h0m-1.9 3.1h0m206.7 16.7h0m1.9 2.8h0m1.3 2.3h0m3.5 3.1h0m-146.4 58.9h0m2.2 0.2h0m4 1.5h0m86.6-106.8h0m3.6-2h0m-97.4-0.8h0m-3.8-0.4h0m-3 1.4h0m-2.7-0.8h0m133.7-171.9h0m2.4 0.9h0m3.5 1.3h0m3.3 0.5h0m-34.4 139.3h0m3.1 1.6h0m1.9 1.6h0m3.1 0.9h0m3.8 0.3h0m3.5 2h0m-83.9-19.4h0m-4.7-1.3h0m-3.5-0.1h0m-87.1 79.7h0m0.7-2.2h0m-0.2-4.4h0m-0.3-2.7h0m32.9 80.7h0m2.1 3.1h0m134.5-287.5h0m-1.5-1.8h0m-1.8-2.3h0m-3.2-1.8h0m-3.3-0.9h0m-52.9 145.1h0m-2.1-1.2h0m-3.3-2.8h0m-13.6-0.4h0m-3.8-0.4h0m-2.7 3h0m-3.3 1.1h0m72.7-154.9h0m-2.8 3h0m-0.6 1.1h0m-94.1 138.1h0m-1 1.9h0m-2.7 3.7h0m-1.5 2.2h0m-0.2 2.6h0m113.5 99.1h0m0.6-4.7h0m0.4-3.3h0m-138.5 46.8h0m0.8-2.3h0m36.8-68.7h0m-4.2-0.7h0m-0.9-0.9h0m-4 0.5h0m-3.2-1.3h0m-79.7 32.2h0m3.6-1h0m3.2-1.3h0m2.1-1.3h0m66.8-56.3h0m1.8 2.8h0m37.2 66h0m-4.1-0.5h0m-1.7 1.1h0m-4 1.1h0m107.9-237.1h0m-1.4-3.6h0m-2.5-0.3h0m-1.9-3.4h0m-3.1-1.4h0m-0.5 200.1h0m2.4 3.6h0m2.4 4.5h0m1.7 1.2h0m2.8 3h0m-85.9-11.7h0m4.9 0.1h0m2.1 0.5h0m5 0.2h0m17.8 17.3h0m3 1.1h0m2.1 2.9h0m23.7-152.2h0m5-1.8h0m-6.3 138.4h0m-0.3 2.4h0m-149.4-15h0m1.8 2.5h0m-1.2 4h0m2.3 2.8h0m4 59.9h0m194.3-218.9h0m2.6-3.3h0m1.8-1.1h0m1.7-3h0m2.2-3.1h0m-48.7 201.2h0m-0.4 3.6h0m-0.1 2.7h0m1.3 2.8h0m42.5-195h0m-0.1 3.4h0m1.4 2.2h0m-29.8 49.8h0m0.5-1.9h0m-3.2-4.2h0m-1.6-0.8h0m64.7 71.1h0m-3.6-1.7h0m-0.9-2.3h0m-4.3-0.6h0m-1.9-2.3h0m-1.9-2.2h0m-101.6 52.6h0m0.5 2.7h0m1.1 1.9h0m104-39.1h0m2.3 1h0m2.4 1h0m4.5 1.3h0m2.7 0.3h0m4-103.5h0m-4-1.6h0m-1.6-1.9h0m-2.3-1.6h0m3.6 123.3h0m2.1 2.3h0m2.2 3.8h0m2 3.3h0m1.2 1.7h0m1.5 3.3h0m-140.5-98.8h0m2.2-0.8h0m4 1.4h0m2-1.1h0m121.3 17.9h0m-2 3.3h0m-152.1 108.8h0m0.4-2.9h0m2.4-1.9h0m0.6-3h0m1.8-3.9h0m-93.8-23.9h0m1.6-2.3h0m2.9-2.3h0m1-3.4h0m34.3-26.9h0m1.8-0.8h0m1.8-3.6h0m84.3-179.1h0m2 2.3h0m2.4 1.5h0m1.9 2.1h0m3.9 2.1h0m-129 153h0m185-9.5h0m2.8 2.5h0m3.2 1.9h0m-58.6 81.3h0m1.1 3.5h0m33.6-159.3h0m3.3 0.7h0m0.9 2.3h0m4.5 1.3h0m-137 87.5h0m-2.7 0.9h0m-2.8 2.3h0m51.4-41.9h0m-4.3-0.4h0m-3.1 1.2h0m-4.4-0.2h0m-2.4-0.4h0m19.4 148.4h0m-2-2.3h0m-3.7-0.6h0m109.7-45.5h0m-2.2-2.5h0m-3.5-1.5h0m-3.2-0.9h0m-91-24.2h0m-0.6-2.4h0m-29.3 33h0m-0.5 3h0m-2.7 3.3h0m-0.3 2.8h0m-50.6-9.8h0m-2.7-1.7h0m-2.5-0.4h0m-4.2-2h0m-3.7 0.1h0m-2.2 1.4h0m174.5-184.8h0m4.1 0.3h0m2.2 0.8h0m2 0.1h0m4.2 0h0m-73.9-55.3h0m2.4-1.7h0m1.8-2.7h0m-6.1 109h0m2.9-2.8h0m-0.1-3h0m1.4-3.5h0m83.2 70.2h0m1.2-1.9h0m2.8-4.5h0m2.7-1.4h0m1.2-3.1h0m-56.3-68h0m2.9 3.6h0m0.2 1.9h0m3.9 2.8h0m0.1 2.3h0m2.8 3.7h0m7.9 19.8h0m-2.5-1h0m-34.5 175h0m-2.5-0.8h0m107.7-55.9h0m-1.9-4.4h0m-0.9-1.5h0m-2.1-3.1h0m-219.8-41.9h0m0.2-4.2h0m0.3-3.5h0m-0.2-3h0m51.4 110.3h0m2.3-2.3h0m3.2-1.2h0m1.6-2.4h0m-11.9 10.2h0m0.2-3.5h0m-0.6-3.3h0m0.8-2.8h0m106.6-107.3h0m2.9-0.2h0m2.1 1.9h0m44.4-16.2h0m-3.1 2h0m-1.4 3.4h0m-1.7 2h0m-219.6 29.9h0m0.3 4.2h0m0.4 1.8h0m-2.8 3h0m0.2 4.4h0m-1.4 3.5h0m84.6-0.9h0m-34.9 78.9h0m4.1 0.7h0m2.4 1.4h0m-36.3-61.8h0m-1-2.2h0m-2.5-2.8h0m-2.9-3.1h0m236.2-82.8h0m-3.7 1.3h0m-3.7 0.6h0m33 62h0m-0.8-3.4h0m-1.1-3h0m-134.8 97.7h0m-51.8-24.6h0m0.7-3h0m-1.3-3.5h0m2.2-3.3h0m-0.4-2.8h0m-0.4-2.8h0m-1.3-3.1h0m122.8-101.1h0m-1-2.6h0m-1.4-3.1h0m-1.7-2.5h0m23-43.1h0m2.9 1.8h0m1.7 3.5h0m3.9 1.8h0m-23.3 131.2h0m2.5 0.6h0m2.4 1.2h0m3.8 0.1h0m-8.5-165h0m0.2 2.4h0m-1.4 3.3h0m-1 3.8h0m-2 2.2h0m-25.1 45h0m1.8-2.7h0m1.5-2.3h0m1.4-2h0m-66.4 42.1h0m-97.4 76h0m2.4-4h0m3-0.1h0m1.8-3.1h0m2.8-0.9h0m142.4-47.1h0m0.2-3.3h0m1-4.8h0m0.4-1.8h0m1.6-2.6h0m-0.3-3h0m41.2-127.3h0m-2.2-4.7h0m0.9-3h0m-2.3-1.3h0m-0.7-4.3h0m-0.9-2.7h0m0.7 44.1h0m0.5 2.5h0m1.3 2.4h0m0.8 3.2h0m0.5 1.8h0m-22.7-1.1h0m-3.3 1.6h0m-3.7 0.9h0m-2.3 2.1h0m27 144.4h0m0.7-4.4h0m0.8-2.9h0m-75.8 67.5h0m-0.6-3.5h0m-8.4 16.3h0m1.4 2.5h0m1.6 2.9h0m-88.5-144h0m-0.9 2.4h0m-2.7 2h0m214.1-81.7h0m2.4-2.2h0m3.7 0.7h0m-103.9-59.2h0m-91.5 121h0m0.1 3.2h0m-1.2 2h0m-48.3 87.7h0m2.6-3.4h0m-0.6-1h0m64.6-100.4h0m-8 33.9h0m2.6 3h0m1.9 2h0m1.8 3.9h0m2.2 2.3h0m43 42.3h0m0.6-3.1h0m-1.8-2.6h0m1.8-4.7h0m95.8-42.1h0m-2.5 0.3h0m-159.8 94.4h0m-0.3-2.1h0m80.8-266.3h0m3.9 1h0m1.2 0.3h0m-35.3 163h0m2.3-4.1h0m-0.2-2.4h0m-74.2 22.2h0m0.5 4.5h0m1 1.7h0m1 4.2h0m1.3 3.5h0m1 1.8h0m-1.1 5.9h0m21.4-61.8h0m0.9 4.2h0m1.2 2.5h0m2 3.3h0m-33.4 5.8h0m1.3 2.9h0m62.4 157.4h0m-2.6-2.7h0m103.7-256.4h0m1-2.3h0m2.2-2.1h0m-51.8 254.7h0m-3.4-2.4h0m124-125.1h0m-2.3 0.6h0m-150.7-73.5h0m3.4-2h0m2.5-2.7h0m0.6-3.1h0m103 81.5h0m-2.6-2.4h0m-3.2-3.5h0m-116.9-2.8h0m1.8 0.8h0m3.6-1.8h0m3.4-0.3h0m3 0.4h0m42.9 1.7h0m-0.7 0.6h0m-0.8 5.7h0m-109.9 70.9h0m-3-0.7h0m-4.1-2.3h0m-1.1-1h0m29.9-3.1h0m0.8-3.3h0m0.9-2.5h0m1.8-3h0m-0.2-3.7h0m-23.4 69.7h0m116-190.7h0m-0.3 4.9h0m-0.4 3.3h0m-29.8 5.2h0m8.8 59.5h0m1.7 3.9h0m1.7 2.5h0m-5.1-31.7h0m-0.6 2.9h0m2.1 3.7h0m32.7-92.5h0m2 1.8h0m3.6 0h0m-91.7 125.7h0m1.5-2.8h0m3.2-2.6h0m0.9-3.6h0m1.6-1.5h0m0.9-2.4h0m158.8 19.9h0m-2-3.2h0m-1.6-3.8h0m-0.8-1.7h0m-1.4-3.5h0m-101.1-146.1h0m-0.3 2.7h0m-1.2 3h0m-1.1 3.4h0m72-17.3h0m1 2.8h0m0.2 2h0m1.3 3.9h0m-53.3-55.8h0m1.7 1.4h0m3.8 2.1h0m1.8 3.5h0m-75.8 121.7h0m1.7 1.6h0m4.2 2h0m1.2 2.1h0m3.8 1.3h0m10.3 88.3h0m-1.9-3.7h0m-0.7-1.3h0m112.4 16.5h0m0.9 3.2h0m-139.7 56.1h0m-38.6-104.6h0m1.9-0.8h0m1.9-3.1h0m3.5-1h0m1-3.1h0m64.9 121.3h0m102.2-215.6h0m0.2-2.5h0m-111.7 233.7h0m-67.4-117.4h0m-1.8-3.2h0m-1.8-1.7h0m209.7-12.6h0m-4.1 2.8h0m-2.2-0.2h0m-3.8-0.1h0m-3.4 1.4h0m-1.5 1.4h0m-176.5-40.2h0m-2.4-1h0m-68.3 144.9h0m157.9-27.4h0m4.6 1.1h0m2.4 1h0m2.7 0.8h0m3.2 0.3h0m2.7 2h0m87.2-128.9h0m2.1 0.4h0m4.2-1h0m-138.4-100.7h0m1.2-1.8h0m3.6-0.1h0m73.7 206.7h0m-2.4 1.5h0m-2.2 1.3h0m17.7-47.5h0m-2.6-2.5h0m-188.2 33.3h0m1.7 2.1h0m2.3 1.8h0m1.8 3.6h0m184.6-206.3h0m-1.4-1.9h0m58.5 159.6h0m-3.2 0.2h0m-2.8 1h0m-61.5 45h0m-174.4 36h0m-1.3-3.6h0m-0.1-3.6h0m1.1-2.8h0m110.4-140.1h0m-2.6 4h0m-0.7 1.8h0m-3.5 2.1h0m11.9 61.5h0m3.2 1h0m3-0.1h0m-118 84.5h0m4.2-0.9h0m2.9 0.1h0m2.3-1.5h0m205.8-154.1h0m2.2-2h0m-100.5-80h0m-1.9 3h0m84.7 85.8h0m1.2 2.8h0m-0.8 3.6h0m-77.8 92.9h0m-1-3.7h0m-1.5-2.5h0m-1.4-3.1h0m-78.8-3.2h0m4.1-0.5h0m2.4 2.5h0m3.5 0.2h0m132.7-147.2h0m-0.8-4.8h0m-0.1-1.4h0m-0.1-2.4h0m1.4-3.2h0m-119.1 71.1h0m2.1 0.1h0m2.3-0.8h0m3.5-0.6h0m90.3 99.6h0m-0.1-4h0m0.1-2.1h0m-0.4-2.8h0m-0.2-3.6h0m-24.5-15.2h0m0.2 4.4h0m0.6 2h0m1.3 2.4h0m56.3-63.9h0m-2.9 2.3h0m-33.2 11.9h0m1.2 2.4h0m0.6 3h0m0.5 3.7h0m-0.1 2.4h0m1 3.6h0m14.4-71.1h0m-1.2 2.8h0m-141.5 157.2h0m-2 1.3h0m-3.8-0.3h0m-2.9 2.4h0m184.4-18.5h0m-2 2.7h0m-2.6 1.2h0m-1.4 3.6h0m-129.6-164.1h0m1.3 3.6h0m1.8 3.2h0m-36.1 140.8h0m2.2-2.2h0m2.3-1.8h0m1.9-3.7h0m39.5-93.2h0m1.8 2.6h0m1.6 3.4h0m103 29.6h0m2.1-3.9h0m1.5-2.1h0m-13.4-78.4h0m3.6-0.3h0m4.3-0.7h0m2.5 1.1h0m37.6 105.6h0m0.4-3.2h0m-0.4-3.4h0m0.3-3.8h0m-107.1 71h0m-0.9-4.9h0m-114.1-24.3h0m1.4-3.7h0m1.2-2.2h0m3.5-2.8h0m1.5-1.7h0m154 11.3h0m-2.8 0.1h0m-3.7-0.5h0m-3.6 1.3h0m-2.6 0.3h0m-36.7-71.8h0m-2.1-2.1h0m-2.9-2.3h0m-1.1-3.3h0m76.2 73.7h0m-4.6 1.7h0m-2.5 0.3h0m-4 0.8h0m-2.4 0.7h0m-94.5-17h0m-2.1-3h0m0.5-2.6h0m83.7-25.5h0m1.9-1.8h0m2.6-2.5h0m-113.2 32.4h0m2.6 2.1h0m7-50.1h0m-1.5-2.9h0m116.1 0h0m4.3-0.7h0m2.4-2.2h0m-43.2 38.1h0m2.8 3.3h0m2 1.9h0m2.4 2.4h0m-151.6-9.2h0m0.1 3h0m-0.9 1.9h0m182.3-159.4h0m-1 2.8h0m-2.7 3.2h0m-46.3 95.4h0m4.6 2.4h0m2.2-0.8h0m3.2 3.4h0m93.8 37h0m2.5 3h0m2.1 3h0m1.4 1.9h0m-103.3 21.1h0m-2.7-3.1h0m0.7-1.6h0m-0.8-4.2h0m-0.6-4h0m-0.4-2.8h0m44.7 61.1h0m-1.9-2.2h0m-3.2-2.7h0m-1.9-0.3h0m3.6-138.9h0m-4.5 2.5h0m-2.8-1.2h0m-3.2 0.6h0m-11.9 96.3h0m-1.7-1.8h0m-1.6-2.3h0m-84.4-88.2h0m4.3 3.5h0m112.8 34.6h0m1.3 3.1h0m-1.5 3.5h0m-0.1 3h0m0.5 2h0m-39.1 6.6h0m0.4 2.9h0m3.2 2.8h0m1.2 2.7h0m-153.7 71h0m-41 25.5h0m1.9-2.7h0m1.7-2.3h0m1.6-1.4h0m2.6-2.9h0m139.2 45.2h0m-1.8 2.7h0m-1.5 1.3h0m-2.8 3.9h0m-0.7 1.4h0m42.2-143.4h0m1.1-3.6h0m0.2-3h0m-140.6 99h0m-1.6-2.3h0m-1.7-3.2h0m181.2-11.4h0m-0.1 1.9h0m-2.1 3.2h0m-0.9 4.1h0m44.1-174.7h0m-129 62.3h0m2.8-0.7h0m2.9-1.1h0m-2.7-117.1h0m0.9-1.8h0m1.4-3.3h0m-115.5 158.7h0m3.8 1.4h0m3.7-0.2h0m2.9 0.1h0m146.6 19.6h0m2.9-2.3h0m64.4 20.3h0m-1.6-3.1h0m-0.7-3.5h0m-109.4 94.5h0m-2.9-2.4h0m-1.8-1.1h0m-2.9-3.8h0m18.3-277.1h0m2 1h0m-134.1 231h0m2.4-2.2h0m2-3.5h0m2.2-3h0m142.1-78.9h0m-2.7 0.4h0m-99.3 24h0m-2.9 0.6h0m-4.2 2.5h0m-3.6 1.6h0m210.8-1.8h0m1.7 4.1h0m1.9 1.8h0m1.5 3h0m-29.5-4.1h0m-0.9 3.3h0m-0.6 3.4h0m-2.4 2.3h0m-25.4-135.4h0m3.6 0.4h0m3 2h0m-37 19.4h0m-1.9-3.2h0m0.3-4h0m-1.2-3.7h0m1-1.3h0m-164.4 186.2h0m0.1-2.9h0m-1.3-4.4h0m189.1-31.9h0m-3-0.1h0m-2.7-0.5h0m-78.1-31.8h0m0.6-1.4h0m-0.7-3.8h0m-1.9-4h0m-0.3-2.2h0m157.6-42.9h0m-1-2.9h0m1.3-3.9h0m-131.2 164.8h0m-1.6-1.5h0m-2.2-0.8h0m65.1-200.4h0m-179.7 191.6h0m0.4-5h0m187.5-216.9h0m1-2.1h0m-3 189.7h0m-2.8 2.1h0m-0.5 3.7h0m-2.2 0.8h0m-3.5-148h0m1.6 0.9h0m62 49.6h0m-2-2.8h0m-0.9-3h0m-198.2 47.4h0m3.9 2.3h0m2 1.2h0m5 1.4h0m1.8 1.9h0m1.5 0.7h0m29.4 110.1h0m-2.6-1.2h0m-3.7-1.9h0m-2.5-1.9h0m49.6-295.1h0m-53.6 291.2h0m-3.5 1.9h0m-1.1 4.6h0m-1.3 2.7h0m-16.2-154.3h0m-3.1-0.4h0m-3.8-2.3h0m-2.7-0.9h0m-2.1 1.2h0m188.2-66.5h0m-4.5 0.3h0m-198.7 180h0m-1.1-3.4h0m-2.2-3.9h0m-1.7-2.7h0m224.3-154.3h0m-2.9-1.5h0m-2.6-1.7h0m-75.2 157.3h0m-0.6-4.1h0m1.7-2.9h0m-152.1-45.3h0m1.6 2.6h0m1.7 1.9h0m1.7 1.9h0m-15.4 36.5h0m-3.2-1h0m-3-1.5h0m-3.7 0.1h0m270-105.3h0m-3.6-2.2h0m-1.8-2.2h0m-138.4 9.3h0m3.9 3.1h0m1.4 1.5h0m1.5 2.5h0m2.9 1.7h0m-93.9-6.5h0m3.6 1.6h0m3 2.1h0m130.2 90.7h0m-138.1 61.6h0m2.5-0.7h0m3.1-0.4h0m3.5-0.9h0m3.3 0.4h0m-45.3-64.7h0m0.5-2.6h0m130.3-155.6h0m-1.5 3.6h0m-0.5 1.8h0m-1.4 3h0m49.4 7.9h0m0.3 3.2h0m0 2.6h0m-49.9 17.2h0m-2.4 2h0m-1.6 0.6h0m-3.7 1.8h0m-59.7 169.3h0m-2.8 1.1h0m-3.4 2h0m-1.7 2h0m-1.7 1.8h0m-18.9-55.6h0m2 2.9h0m1.5 2.8h0m2.2 2.8h0m3.3 2.6h0m89.9-97.1h0m2.5-1.5h0m3.7-0.7h0m2-1.4h0m-47.6-44h0m-2-2.4h0m120.6 54.2h0m3 0.5h0m2.6 2.2h0m2.9 1.4h0m26-92.6h0m-1.2 3.8h0m-3.2 1.7h0m-0.7 2h0m-168.2 67.1h0m1.2 1.9h0m2.9 2.4h0m-19.6-8.2h0m1.1-3.9h0m1-1.7h0m3.1-2.4h0m1.8-3.3h0m0.9-1.9h0m-17.1 136h0m-0.1 2.8h0m0.5 3.8h0m0.9 3.2h0m220.6-129.4h0m-2.9 3h0m-2.6 3.2h0m-1.2 1.5h0m-19.6 17.4h0m-2.7-1.1h0m-4.5-1h0m-1-1.1h0m-4.6 0.1h0m-0.3-19.7h0m-3.3-0.3h0m-3.4-1.4h0m-93.9-146.5h0m0 3.6h0m-114.6 238.1h0m216.4-117.1h0m2.5 1.3h0m3.1 0.5h0m4 50.7h0m-2.1 2.1h0m-1.5 1.2h0m-1.4 2.8h0m7.8 8.4h0m3.4-0.1h0m-49.6 63.1h0m1.2-1.7h0m-0.4-3.7h0m-0.6-3.9h0m-0.4-3.4h0m-67.4-2.6h0m1.9-3h0m2.6-0.7h0m2.7-4.3h0m64.3-139.4h0m4.9 0.7h0m2-0.1h0m-160.9 205.4h0m1.8 0.4h0m2.9-0.8h0m4.2-0.2h0m121-95.4h0m2.8 1.2h0m3.2 2.2h0m1.1 2.7h0m-90.8-10.3h0m2-0.2h0m2.9 0.3h0m153.3-66.6h0m-2.3-1.1h0m-2.5-2.3h0m-3.4-2h0m-1.8-1.2h0m-91.8-50h0m-0.9-3.7h0m-0.2-2.5h0m52.7 132.4h0m-2.5 2.6h0m-1.6 2.2h0m-1.9 2h0m-1.8 2.8h0m-88.8 32.1h0m1.1-2.8h0m3.5-2.9h0m2.2-1.2h0m1.6-1.2h0m69.3-31.2h0m1 4h0m0.3 2.3h0m-16.5 54.9h0m2.8-2.3h0m-78.5-147.6h0m3 2h0m1.9 2.7h0m3.1 0.6h0m1.8 3.3h0m151.6-47.8h0m2.5-1.4h0m2.1-3.4h0m2.1-2.6h0m-14.5 1h0m1.9 1.1h0m2.8 0.6h0m-86.8 90.8h0m-76 62.8h0m-3.5-1.5h0m-4.4 0.9h0m77.4-13.7h0m2.1 2.4h0m1.8 2.1h0m3.4 1.6h0m1.4 1.6h0m3.1 3.6h0m-93.4 14h0m-1.8-0.2h0m-2.4-0.5h0m-3.6-1.3h0m-2.9-1.3h0m45.9-40.4h0m2.9-1.5h0m0.3-2.2h0m2.1-4.3h0m0.7-2.2h0m28.1 99.6h0m2.9-1.5h0m2.5-2.9h0m-2.3-252.4h0m-3.7 3h0m-40.4 255h0m5.6-0.9h0m2.4 3.2h0m2.4-0.5h0m4.4 0h0m-60.5-90.3h0m-1.4-1.5h0m-2.1-3.2h0m127.2 13.7h0m50-11.8h0m0.9-3.6h0m2.9-1.7h0m-38-38.2h0m0.5-2h0m1.1-3.2h0m-107.4 58.5h0m0.4 2.6h0m0.2 3.8h0m-0.2 2.6h0m37.2 58.2h0m-2.9 1.6h0m-3.9 2.2h0m-2.2-0.2h0m-4.3 2.1h0m119.8-141.5h0m-56.6 102.5h0m1.9-3.8h0m-47.6-194.8h0m-3.6-1.2h0m-1.6-0.4h0m2 236h0m-1.8-3.3h0m-0.9-1.4h0m-147.7-44.4h0m3.1-2.5h0m5.7-3.3h0m2-3.1h0m3-1.1h0m222.1-100.4h0m-0.1 4.1h0m0.4 2.9h0m24.3 119.5h0m-117.7-149.5h0m3.7 0h0m2.3 0.7h0m3 2.6h0m2.5 1h0m-48.7 205.4h0m1.6 4h0m2 0.9h0m1.7 4.3h0m1.3 3.1h0m106.4-267.9h0m-1.4-1.7h0m-3.9-2.1h0m-1.7-2.3h0m43.9 203.4h0m-2.4 2.4h0m-3.8 0.3h0m-2.5 0.8h0m41.3-93.1h0m-0.8 3.2h0m-2.5 2.4h0m0.7 3h0m-1.8 4.1h0m-1.6 2.8h0m-176.6 82.4h0m-3.5 0.7h0m75.4-156.2h0m-0.9-1.4h0m-4.4 0.5h0m-2.3-3.3h0m-3-0.8h0m-34.9 91.1h0m-0.3 3.2h0m0.2 2.8h0m-1.5 2.3h0m0.6 4.7h0m0.1 2.9h0m49.4-142.6h0m-0.8-2.6h0m-1.2-4.3h0m24.6 72.7h0m-33.3-105.8h0m1.1 0.3h0m3.2-3.2h0m1.3-0.9h0m4.3-2.1h0m-92.5 129.6h0m-1.6 2.9h0m-1.9 3h0m196 70.7h0m3-0.5h0m-191.2 11.1h0m-1.9-2.3h0m-1.9-3.3h0m-1.2-1.8h0m-2.6-3.5h0m67.6 80.7h0m-1.7 2.7h0m-2 1.9h0m-8.6-78.1h0m1.4 3.7h0m1.9 1.9h0m3.2 1.9h0m1.9 1.7h0m-66.9-3.6h0m2.7-1.5h0m4.4 0.3h0m4-0.5h0m49.8-34h0m1.7 0h0m3.4 0.9h0m-22.9 75.2h0m4.8 2.3h0m1.1 0.7h0m161.5-110.5h0m-148.4-82.8h0m3.6-0.4h0m3.3-0.9h0m-89.9 119.5h0m52.8 45.2h0m-2.2 2.9h0m-2.4 2.2h0m-83.2-59.1h0m3.3-3.3h0m1.7-1.8h0m1.5-2.8h0m63.3 80.5h0m19.8-22.2h0m-1.4 1.5h0m129.7-111.5h0m1.3 2.2h0m0.7 2.7h0m-103.6-116.1h0m3.5 0.6h0m4-0.6h0m2.2-1.7h0m5.8 134.8h0m-2.6 3.2h0m-1.1-107.8h0m1.1 3.6h0m0.5 4.2h0m0.2 1.7h0m-8 212.7h0m-3.2 3h0m-2 2.8h0m-3.2 3h0m-2.3 0.5h0m-1.2 2.5h0m60-144.8h0m-2.2 0.5h0m-3.2-1.1h0m-3.4-1.4h0m-3.2-1.3h0m-17.9 125.3h0m1.4-0.7h0m2.1-3.8h0m100.6-106.5h0m2.1 3.2h0m1.9 2.5h0m2.2 1.3h0m-69.1 110.5h0m-144.6-76.5h0m1-2.8h0m2.8-3.6h0m0.8-2.5h0m3.2-2.2h0m207-103.5h0m1.3-2.2h0m0.8-6h0m-105.4 164.8h0m-35.6-82.7h0m0.4-1.2h0m4-0.6h0m4.1-1.1h0m36.3 106.7h0m-26.3-208.5h0m1.5-2.7h0m-99.5 197.5h0m0.7-1.7h0m-3.9-3.7h0m-0.5-3.3h0m161.6-56.9h0m-2.3 1.3h0m-3.5 1.1h0m65.4-90h0m1.1-2.7h0m1.2-3.8h0m0-2.3h0m2.4-3.1h0m-154.9 12.5h0m132.4 161.6h0m-2.4-1.4h0m-3.2-1.3h0m-3.1-0.6h0m-104.6-12.9h0m-3.1-0.1h0m53.8-147.9h0m0.7 1.3h0m4.2 1.3h0m-99.9 49.5h0m16.3 4.6h0m-17.7 62.7h0m126.1-165.7h0m-2.9-3h0m-3 1.5h0m-21.7-5.1h0m3.9 1.6h0m2.4 0.7h0m3.2 0.7h0m1.5 2.6h0m22.5 31.6h0m0.7 2.9h0m2 1.6h0m-15.7 130.9h0m2.3-2.7h0m2.9-1.7h0m2-2.7h0m-141.9 36.9h0m107.9-156.8h0m4-0.2h0m53.1 146.5h0m3.4-0.8h0m2.6-0.8h0m3.8-0.8h0m5.7-16.1h0m2.8 1.2h0m2.1-0.4h0m-35.9 18h0m0.1-3.2h0m0.3-3.4h0m-42.3-209h0m-4-1.7h0m-2.2 0.3h0m2.1 163.6h0m-48.1-9h0m-1.3 4h0m-1 2.4h0m58.5-58.7h0m2.5-3.5h0m-62.8 179.3h0m3.9 3.3h0m44.1-200.5h0m0.6-3.4h0m0.1-3.2h0m0.4-2.2h0m1-6.2h0m9 206.7h0m-3.7 2.1h0m-3.2 0.3h0m-128.7-115.8h0m-2.8 2.6h0m-1.3 2.9h0m-0.9 2.7h0m119.5-73.1h0m0.1 3.5h0m-131.6 183.2h0m-0.2 2.3h0m-1.5 2.7h0m-0.9 3.5h0m180.5-164.9h0m-1-3.9h0m-2.2-2.6h0m-1.2-3.7h0m-1.4-0.6h0m-1.6-4.3h0m-90.3 149.8h0m-2.8-1.4h0m-3.1-2.8h0m-2.7-0.7h0m-51.4 31.9h0m184.6-200.2h0m-0.5-3.6h0m-1.3-2.8h0m-1.2-2h0m-171.1 160h0m3 1.5h0m4.1 0.3h0m2.7 1.1h0m147.1-88.1h0m0.5-2.9h0m-0.2-3.2h0m-1.5-1.9h0m2.4-4.2h0m55.6 32.4h0m-142.1-156.7h0m-148.7 239.6h0m2.9 1.1h0m2.2 1.1h0m255.1-83.4h0m0.3 5h0m-0.3 2.5h0m-0.1 3.8h0m-174.4 52.2h0m4.8-1.4h0m1.3-0.8h0m3.4-0.3h0m129.3-207h0m2.6 2.2h0m-22.4 213.1h0m-3-1.1h0m-2.9-0.2h0m-2.8-3.2h0m-2.6 0.6h0m-3.8-1.8h0m-67.5-96.7h0m-1.5 3.7h0m-1.6 1.3h0m-1.3 3.6h0m141.5-80.8h0m3.5-0.4h0m1.8-1.4h0m3.9-1.8h0m3-0.8h0m11.6 96.9h0m2.2 2.1h0m3.3 2.5h0m1 2.6h0m-30.3-79.4h0m-87.6-62.2h0m-2.4 2.2h0m-0.1 2.7h0m-90 197.1h0m1.9 0.5h0m3.1 2.2h0m-86.5 18.1h0m3.2 3.7h0m0.7 1h0m2.5 2.5h0m202.8-7.1h0m-3.6-0.6h0m-3.1-0.5h0m-3.3 0.8h0m-2.8-1.3h0m-5.2-28.8h0m-0.2-3h0m-2.1-3.6h0m-1.4-1.7h0m29.1 34.3h0m2.4 0.3h0m4.9 0.5h0m2.9-2.4h0m3 1.5h0m3.2-1.2h0m-1.6-70.4h0m3.1 2.5h0m1.5 1.6h0m2.4 2h0m2.2 1.9h0m2.6 3.5h0m1.6 3.2h0m12.3-63.8h0m2.7-2.4h0m-1.3-3h0m2.1-3h0m-80.8-49.9h0m-1.3 3.7h0m-1.4 3.3h0m-1.7 3.8h0m-141.7 214.6h0m-0.3-2.5h0m112.3-150.2h0m-0.5-3.3h0m34.3-72h0m2.5 2.2h0m3 1.5h0m2.4 3.5h0m1.5 1.2h0m36.6-32h0m0.1-3.7h0m-124.4 161.2h0m1.4-2.7h0m2.7-0.5h0m-16.8 52.7h0m-1.2-4h0m-2.2-1.6h0m-0.3-2.9h0m52.4 27.4h0m0.5-1.4h0m3.1-0.8h0m2.5-2.1h0m43.5-153.6h0m36.4-9.9h0m2.9-1.2h0m2.7-0.9h0m4.1-2h0m2.5 52.1h0m-1-3.6h0m0.4-2h0m-20 92.9h0m2.7-2.4h0m4-1.7h0m0.5-2.7h0m-133-81h0m2.2 2.2h0m-55.1 46.9h0m1-2.1h0m0.7-3.7h0m182.4-171h0m2.1-1.9h0m2.7-1.5h0m2.3-2.5h0m1.7-1.7h0m-70.8 89.8h0m2.7-1.1h0m134.2 88.6h0m0.9 2.4h0m-55.5-175.2h0m-2.4 3.9h0m-83.1 261.5h0m-2.1-1h0m-109.3-117.5h0m129.5 104.6h0m1.7-5h0m-0.8-0.2h0m-121.6-30.9h0m73.4 20h0m-3.6 2.4h0m51.1-158.4h0m3.6 1.1h0m2.5 1h0m3.3-0.6h0m2.4 0.4h0m9.9 152.6h0m0.3-3.1h0m1.6-3.6h0m37.7-125.7h0m-2.8 0.7h0m-4 1h0m-192.3 139.1h0m-1.5 0.6h0m108.5-200.5h0m-2.6 2.8h0m0.2 3h0m-1.8 3.4h0m-44.5 97.6h0m-2.1 1.8h0m-3 2.2h0m-3.6 1.3h0m41.2 111.9h0m1 3.3h0m155.6-214.1h0m-2.4-1.9h0m-2.2-1.2h0m-46.1 157.9h0m2.7-1.1h0m3.7-0.5h0m2.1-1.1h0m-191.6 57.9h0m-0.6 2.5h0m-2.8 1.3h0m-2.3 4h0m-1.7 1.8h0m222.6-124.4h0m2.1-1.9h0m4.4 0.9h0m-97.6 100.1h0m8.7-137.7h0m0.2 4.1h0m-0.4 2.5h0m-41.1 56.7h0m2.8 0.1h0m3.6-0.8h0m21.7-79.9h0m-2-0.4h0m-2.4-1.9h0m-4.3 0h0m66.3-18.1h0m-1.5 2.1h0m-20.5-103.6h0m-2.3-1.6h0m-2.8-2.9h0m82.7 91h0m-4 1.5h0m-2.6 2.2h0m-110.7-92.1h0m17.6 255.1h0m3.9 1.1h0m-40.4 60.6h0m1.5-2.1h0m4.2-1.9h0m0.7-3.7h0m2.7-1.6h0m-29.2-5.5h0m0.6 1.4h0m-1.1 4.1h0m-0.3 2.3h0m22.5-227.2h0m-3 3.6h0m80.8 120.5h0m2.5-3.3h0m1.5-1.7h0m3.8-43.5h0m-1 2.5h0m-0.6 3.6h0m-44.1-125.2h0m0.4 3.6h0m2.8 1.9h0m-0.2 3.7h0m93.1 19.8h0m-0.9 1.7h0m-3.3 3.3h0m0 2.9h0m-229.7 100.1h0m-0.8-2.7h0m0.1-4.5h0m106 64.5h0m0.4 3.3h0m2.3 2.2h0m2.2 4h0m122.8-184.1h0m-1.5 2.3h0m-2.5 2.5h0m-1.7 3.4h0m-1.4 0.3h0m-2.4 4.6h0m-111.1 108.2h0m-0.1 3.5h0m-0.1 3.2h0m-0.5 4h0m0.9 3.4h0m34.7 25.2h0m-2.2-2.9h0m-2.4-2h0m-154.3 39.1h0m-1.2 2.8h0m-1.6 2.4h0m-2 0.7h0m135.7-185.8h0m-122.7 109.4h0m-0.9-3.6h0m-0.3-2.5h0m-3-3.2h0m110.5 97.3h0m1.5-2.3h0m-0.6-2.5h0m103.9-47.9h0m-0.3 2.6h0m-0.6 3.8h0m-0.7 3h0m-0.7 3.5h0m-110.9 71.2h0m-0.4-3.2h0m-2.5-1.2h0m0.2-4.3h0m-1.8-2.6h0m108.7-134.8h0m-0.4 4h0m2.4 2.1h0m-181.4 115.2h0m-1.2-1.8h0m-3.6-2.1h0m-2.4-1.7h0m-2.3-2.9h0m95.3 10.9h0m-2 3.5h0m-1.7 1.6h0m-1.9 2.9h0m4.8-264.7h0m-2.2-0.1h0m-3.6 0.6h0m37.1 236h0m-1.1 5h0m-0.1 0.9h0m-4.4 2.6h0m97.5-101.2h0m-3.6-1.8h0m-3.1 0.7h0m-204.8 74.3h0m80.8-10.2h0m3.2 2.9h0m2.6 2.6h0m-96.1 75.4h0m1.9 2.2h0m122.3-4.6h0m-1.7-1.8h0m-0.6 2.6h0m-2.6-0.7h0m83.4-92.9h0m0.7-2.3h0m2.4-4.2h0m0.5-2.3h0m-141.3 110.4h0m1.2-3.5h0m2.3-2.6h0m1.4-2.5h0m48.3-36.8h0m-2.2 2.6h0m-132.7-71.4h0m1.1 2.8h0m0.6 2.5h0m35-33.6h0m1.6-4.1h0m0.7-1.9h0m1.7-3.6h0m1.1-2.8h0m94.9 40.8h0m2.9 2h0m2.1 0.5h0m18.6-173.3h0m-3.3-2.2h0m-4.4-1.6h0m-0.4-1.4h0m-29.1-5.2h0m91.5 72.9h0m0.9 3.4h0m0.4 3.1h0m1 3.7h0m-89.3-7.4h0m-0.7 1.7h0m-1.5 2.9h0m32.8 32h0m-2 2.8h0m-2.8 1.4h0m-53.8 42.5h0m-2.3-0.9h0m-2.9-2.9h0m96.7 44h0m-3.3 0.6h0m-1.9 2h0m-95.1-110.3h0m0.9-2.5h0m1.3-3h0m0.6-4.3h0m164.1 55.2h0m-2.7-1.9h0m-169.1 27.3h0m-1.9 4.1h0m-0.4 3.2h0m-2.6 1.2h0m92.6-0.1h0m-0.4 3.6h0m-36.4-134.1h0m-2.8-1.9h0m-3.6 0.3h0m-2-1h0m-3.7-0.5h0m2.8 37.6h0m-2 4.1h0m-2.7 2.3h0m-1.9 3.3h0m6.1 202.1h0m-2.2-1.6h0m-3.8-2.4h0m-1.5 0.2h0m63.4-80.5h0m-1.2-3.9h0m0.4-1.7h0m-1.5-5.3h0m-47.5-82.6h0m2.7-2.5h0m1.5-3.4h0m2.2-1.6h0m3.8-1.5h0m79.5 102.8h0m-0.8 2.3h0m-1.4 0.9h0m-2.6 2.4h0m-3.8 3h0m10-169.2h0m2.5-1.9h0m2.4-1.3h0m3.6-1.7h0m-57.6-19.2h0m-3.4 1.5h0m-3.1 2.1h0m-1.2 0.7h0m-3.4 1.8h0m-80.8 161.8h0m-3.3 2.1h0m-0.6 3.6h0m-3.5 1.8h0m-0.2 2.3h0m-4.5 2.3h0m14 80.8h0m6.9-16.8h0m-3.3-0.1h0m-4.3-1.9h0m78.8-202.6h0m1.1-1.9h0m2.6-4h0m0.3-3.2h0m-91.3 169.1h0m2.7 2.4h0m0.4 3.1h0m41-160.2h0m-1.1-2.4h0m-1-3.5h0m104.7 161.4h0m2.7 1.6h0m-167.3-38.1h0m-3.4 1.9h0m-3.4 1h0m-33 81.8h0m-2.4 1.4h0m-3.3 1.4h0m-2.9 0.5h0m-3 1h0m508-84.2h0m-231.2 26.4h0m2.3 2.4h0m1.1 2.8h0m4 1.9h0m185.4-54.4h0m-2.4 3.1h0m-5.1-0.3h0m-2.7 2.2h0m-2.2 0.5h0m-138 66h0m-1-3.2h0m93.9-30.4h0m-0.2-3.1h0m-0.3-3.5h0m-0.4-2.7h0m0.8-3.9h0m-99.6 27.2h0m1.4-3.3h0m1.7-2.6h0m2.8-1.9h0m79.1 49.7h0m2.4-1.6h0m2.7 0.8h0m3.1 0.3h0m144.1-51.3h0m1.2 1.7h0m0.1 4h0m-36.3-65.9h0m-55.9 43.7h0m-1.3-2.5h0m-2.4-0.7h0m-2.7-1.4h0m-13.2 34.8h0m2.9 1.2h0m4.7 0.3h0m3 1.4h0m3.7-0.4h0m-27.5-28.9h0m-4.5-0.8h0m-2.6-2.7h0m-119.2 6.2h0m2.6 1h0m3 3.5h0m1.7 1.2h0m71.4-35.2h0m0.7 3h0m0.2 3.4h0m164.4 0.6h0m-0.1 0h0m-3 1.3h0m-3.4 1.8h0m-139.1 24.1h0m1.6-1.5h0m3.8-2.4h0m-9.9 12.4h0m1-3h0m0.6-3.1h0m-1.4-4.1h0m1-2.7h0m-0.8-3.4h0m-0.2-3.6h0m-57.1 40.2h0m1.8-4.1h0m3.3-2.7h0m1.6-2.4h0m0.7-2.4h0m2.2-3.7h0m102.5-73.3h0m1.5 4.4h0m0 1.3h0m1.7 3h0m116.7 94.4h0m1.2-0.1h0m-20.2-92.7h0m0.7 2.8h0m-3.2 3.9h0m-2.3 2.5h0m-37.3 65.1h0m-108.1-67h0m-1.9 2.7h0m-1.3 1.1h0m-1.5 3.6h0m141.2 36.6h0m1.9-0.3h0m2.4 1.5h0m-128.6 22.6h0m-1.6 3.5h0m0.1 3.7h0m0.9 2.6h0m79.1-74.2h0m4.2-1.7h0m-148.2-3.9h0m-2.5-0.9h0m-3.3 1.7h0m-40.9 30.3h0m81.7 59.9h0m-3.1-1h0m-3.9 0.1h0m-3.4 0.6h0m-75-77.9h0m4.2 0.8h0m2.4-0.3h0m3.6 1.1h0m3.2-1.8h0m2.9 1.8h0m197.1 53.2h0m3.5-1.2h0m-84.4-20.4h0m-0.6-3.4h0m-2.5-0.9h0m-2.9-2.9h0m-0.6-2.2h0m-146 13h0m-1.2 3.8h0m177.7 27.7h0m-1.6 2.2h0m0.2 4.7h0m-0.3 2.5h0m1 3.2h0m-2.4 2.6h0m-102.8-100.4h0m2 0h0m-28.8 75.3h0m-0.6 1.8h0m166.1-48.5h0m-2.7-1.3h0m-4.2-0.4h0m-3-0.9h0m-2-0.2h0m108.7-5.9h0m3.4-2.3h0m1.6-1.6h0m-223 31.3h0m-0.6-3.4h0m-0.6-3h0m-1.3-3.2h0m-0.4-2.9h0m-33.6 65.4h0m-3.2-2.4h0m7.3 8.9h0m-6-4h0m127.8-71.1h0m1.9 3.1h0m1.8 1.7h0m2.5 0.7h0m-111.4-29.4h0m2.2-2.1h0m39.9 71h0m0-3.7h0m1.1-3.9h0m31.1-6.6h0m-1.9 3.5h0m-1.1 3.5h0m-1.5 3h0m139.2-53.9h0m-0.6-3.8h0m-0.7-3.5h0m-2-2.4h0m11.8 52.7h0m-4.2-0.6h0m-3.2-0.9h0m-2.8-1.4h0m-80.4-3h0m-0.6-3.2h0m-2.4-2.4h0m-27 7.5h0m3.4 0.4h0m3.5-0.5h0m0.6-0.9h0m108.5-28.9h0m-2.8 1.9h0m-2.3 2.3h0m-249.8 1.5h0m4.3-1.8h0m0.9-1h0m3.1-1.3h0m187.7-26.7h0m4.3 2.7h0m3.8 0.7h0m1.8-0.4h0m3.9 1.5h0m3.3 0.6h0m-163.9 24.5h0m-1.8 2.2h0m0.5 4.5h0m101.5-24.3h0m0.2 4.1h0m0.2 3.7h0m-37.4 56.3h0m-1.8 0.1h0m-3-2.8h0m-2.8-1.4h0m-3-1.4h0m-1.2-1.4h0m137.3-50.3h0m1.3-3.5h0m2.5-2h0m2.5-2h0m-95.4 11.1h0m-1.7-2h0m-1.3-4.2h0m-155 64.8h0m3.7 1.1h0m8.9-3.9h0m55.4-62.9h0m-2.5-0.8h0m-3.1-0.1h0m-4.7-0.9h0m213.6-42.8h0m-2.6 1.1h0m-2.9 2.3h0m-3.2 1h0m-200.6 61.3h0m-0.1-3h0m1.3 9h0m4.6-0.6h0m1.6 2.4h0m4.6-0.4h0m1.4 0.1h0m6-3.1h0m2.9 3.6h0m2.2 2.1h0m1.7 2.7h0m144.6-15.9h0m-0.4-1.7h0m-2.2-3.3h0m-0.9-3.3h0m-68.9 55.2h0m1.2-2.4h0m2.1-1.2h0m0.9-4.3h0m-71.7 16.8h0m202.7-73.2h0m-246.9 60.6h0m0.4 3.7h0m198.9-3.5h0m-1 4h0m0.3 0.6h0m-1.3 4.5h0m-99.6-100.2h0m-2.3 1.8h0m-0.7 2.9h0m-4.5 1.8h0m3.5 10.6h0m2.2 0.1h0m3.6 0.9h0m-24.9 14.8h0m-2.8 2h0m-3.1 0h0m-78.2 7.1h0m-2-0.6h0m-2-3.7h0m245.7 51.3h0m2.7-1.3h0m3.2-2.9h0m3.9-1.2h0m-176.3 25h0m-2.2-2.7h0m-1.6-3.6h0m-2.2-2.2h0m-0.3-3.2h0m-97.1-11.3h0m-3.6 1.2h0m-4-0.7h0m204.2-60.8h0m-144.5 24.5h0m36.8 28.6h0m-2.5-3.1h0m-3.8-1.1h0m54.8 15.7h0m2 2.5h0m3.6 1.3h0m1.5 2.9h0m2.6 2.6h0m1.6 1.3h0m-152.4-11.3h0m-1.7-1.4h0m-2.7-2.7h0m-2.1-1.3h0m109.8 2.7h0m2.8-1.8h0m1.4-3.1h0m-105.3-2.5h0m3.1 0.5h0m149.7-23.8h0m-1.5-0.5h0m-4.1-2h0m-2.4-1.5h0m67.8 16.5h0m-3.4 1.1h0m-1.2 3.6h0m-2 1.6h0m-227.9 16.8h0m3.5-0.1h0m2.6-1.3h0m4.6 2.3h0m57.8 0.2h0m106.1-102.7h0m3.6 0.8h0m-135.8 91.5h0m-3.5-1.9h0m-1.6-2.5h0m191.5 15h0m3.4-1.8h0m3 0.3h0m3.7-1.1h0m2.6-1.6h0m-50.2-38.7h0m-0.6-2.3h0m0.1-3.5h0m0.9-3.1h0m-19-54.2h0m0.9 3.1h0m2.1 1.9h0m65.1 73.8h0m-1.5-2.4h0m9.5-3.5h0m0.7 3.1h0m-1 2.9h0m1.3 4.4h0m-206.5 43.9h0m1.4-3.3h0m134.7-20.4h0m1.1-2h0m0.8-3.2h0m0.8-3.7h0m-137.2 16.3h0m1.8 2.1h0m3.6 0.8h0m203.7-65.3h0m0.6-3.2h0m1.4-2h0m0.6-3.5h0m-87.2-17.7h0m0.9 3.3h0m1.4 3.2h0m1.5 3.1h0m-92.8 54.1h0m3.1 0.8h0m2.6 2.4h0m-15.9 40.8h0m-4.3 2.2h0m104.3-73.3h0m-3.6 0.3h0m122.7 12.5h0m-135.1-17.1h0m-3.2 1.4h0m-41.6 61.4h0m-1.5 2.1h0m-2.6 2.7h0m18.3-85.3h0m3-0.7h0m3.1-1.8h0m3.8-1.9h0m137.8 5.2h0m3.3 1.4h0m3 0.1h0m1.9 1.4h0m4.2 0.1h0m3.3 0.8h0m-155.5-26.8h0m3.6-1.4h0m1.2-2.7h0m-15 126.3h0m2.3 1.5h0m3.1 0.6h0m-37.1-35.9h0m1-2.3h0m2.2-2.7h0m1-3.9h0m3.3-1.2h0m9.6 31h0m-0.4-2.4h0m-0.2-4.1h0m-0.7-2.6h0m70.9-3.7h0m-3.1 1.3h0m57.8-28.4h0m-1.3-2.1h0m0.3-4.5h0m-0.6-1.4h0m-88.4-20h0m0.6-4.4h0m1.4-2.4h0m2.3-2.6h0m117.4-35.7h0m-2.2-0.6h0m-3.9-1.2h0m-4.1-1.6h0m-107.8 122.4h0m-0.7 2.2h0m-119.5-32h0m-3.5 0.6h0m-3-1.3h0m65.5-58.3h0m-1.4 3.5h0m-2.5 2.6h0m-1.3 0.8h0m-64.6-1.6h0m3.2-0.7h0m4 0.2h0m2.5 1.7h0m1.7-0.7h0m244.5-49.8h0m-168.9 96.4h0m-3.5-1.1h0m-2.1-1.8h0m-5.3-1.3h0m58.1-7.8h0m2.2 3.2h0m1.1 1.5h0m2.6 1.7h0m102.7 28.5h0m3-0.4h0m4-1.3h0m-99.7 12.8h0m-112-84.6h0m2.5 1.3h0m5 1.6h0m2.6 0.8h0m133.9 47.3h0m0.5 2.3h0m-26.5-38.3h0m0.6 2.8h0m1.5 3.7h0m0.4 2.5h0m0.3 3.4h0m1.5 2.2h0m-118.8-29.6h0m-3.3-0.4h0m146.1 39.2h0m-1.2 3.6h0m-134.1-38.2h0m-3.4-3h0m36.1 93.3h0m2.3 2.8h0m0.4 2.4h0m0.6 3.4h0m0.2 3.7h0m-100.2-63.8h0m3.2-1.9h0m0.8-2h0m1.6-3.1h0m4.1-1.2h0m2.1-1.8h0m116.8-34.9h0m2.3 0.7h0m170.7 35.3h0m-3.3-2.9h0m-2.7-0.7h0m-2.4-2.6h0m-165.8-2.5h0m-3.3 2.5h0m-1.4 2.6h0m-0.6 2.4h0m-32.3-10.1h0m-0.2 3.1h0m0.2 2.7h0m-2.2 4h0m-0.4 1.3h0m27.8-34.1h0m0.3-1.9h0m15.5 67.3h0m-3.5 0.5h0m-1.4 0h0m-3.2 1.8h0m-3.7 0.8h0m-2.8 0.4h0m-4.2 2.3h0m6.3-16.4h0m-2.8-2.1h0m-2.3-1.9h0m31.5-2.4h0m-2.8 2.7h0m-1.2 2.5h0m-4.1 1.7h0m-1.3 2.2h0m59.7-93.4h0m37 83.6h0m1.3 3.5h0m-0.5 3h0m2.6 2.7h0m-91.5-17.9h0m2.1-3.1h0m3.2-2.6h0m2.8-0.9h0m-92.8-12h0m221.6 5.1h0m-4.4-1.3h0m-2.2-2.2h0m-26 37.7h0m-4 1h0m-2.8 0.3h0m-3.7 0.1h0m-178-44.4h0m-2.3 1.8h0m-2 3.3h0m-0.6 2.9h0m231.9 35.9h0m1.6 2.6h0m3 0.6h0m0.9 4.8h0m3.7 1.7h0m-0.2 3.2h0m-209 35.5h0m0.3-2.6h0m1.3-3.5h0m93.6-138.5h0m-2.6-2.2h0m-1.6-3.1h0m45.4 30h0m3.5 0.8h0m1.7 0.2h0m-54.4 92.1h0m0-3.1h0m2.4-2.6h0m-106.3 12.8h0m-2.5-1.6h0m-2.5-0.9h0m131-68.1h0m2.1-0.5h0m3.7-1.5h0m3.2 0.4h0m87 12.5h0m3-1.7h0m28.4-1.4h0m-2.7-3.2h0m-1.4-2.3h0m-2.2-3h0m-1.6-1.1h0m-2.1-3h0m-299 30.8h0m-2.9 2.1h0m-2.8 0.8h0m-2.7 1.9h0m267.1-88.2h0m2.6 3.2h0m0.4 3.5h0m-23.6-10.9h0m2.4-0.5h0m-128.3 20.1h0m96.5 49.9h0m-1.9 1.1h0m-174.3 0.6h0m1.5-1.4h0m3.3-1.3h0m1.6-2.9h0m3.9-2.6h0m119-10.3h0m0.4-4.4h0m0.2-1.4h0m-102.3 4.2h0m-2.1 3.2h0m-2.2 1.7h0m-2.1 1.3h0m3.4 43.6h0m-3 2h0m-2.7 1.1h0m189.3-95.3h0m-2.8 2.1h0m-4.2 0.3h0m-2.5 1.4h0m-3.6 0.4h0m-2.7 0.6h0m-188 75.7h0m-9.3-34h0m0.6 4h0m1 3h0m1.6 2.7h0m0.8 3.6h0m147.6-12.7h0m2.3-2.2h0m1.6-2.9h0m-83.5-5h0m-4.2-0.6h0m-1.8-2.3h0m-3.1-1.9h0m186.4 0.9h0m1.5-2.3h0m1.4-3.8h0m0.7-2.8h0m-247.9 94h0m-0.2 4.2h0m139.2-104.6h0m2.2-1.9h0m2.6-0.8h0m59.6 33.7h0m-2.1 2.9h0m-3.3 2.3h0m-4.4 21.8h0m-210-45.1h0m2.2 0.7h0m4.7 2.2h0m59.4-2.2h0m-2.3 1h0m-3.6-0.6h0m-2.4 0.3h0m21 62.6h0m-1.4 3.1h0m0.1 2.6h0m130.1-71.4h0m-3.4-0.9h0m-3.4-2.8h0m-2.8-1.5h0m-147.9 5.4h0m3.6-3.8h0m2.2-0.8h0m0.7 30.5h0m2.9-0.8h0m2.6-3.1h0m2.9 0.1h0m1.9-1.5h0m-38.2-5.7h0m-2.4-0.6h0m-3.4 2.4h0m-2.8 1.6h0m-3 1h0m5-27.5h0m1.9 2.3h0m2.5 1.7h0m-3.5 64.2h0m1.9 0.2h0m3 2.3h0m3.8 1.5h0m192.9-98.5h0m3.3 1.2h0m3.1-0.2h0m2.8 1.6h0m-73.7 68.1h0m-1.1 3.2h0m-3.2 1.5h0m-18.5-77.2h0m0.2 2.7h0m1.4 4.7h0m-67.6 108.9h0m1.3 0.9h0m4 1.8h0m2.3-1h0m3.7 1.2h0m2.5 0.7h0m122.9-63.8h0m-1.3 3h0m-2.7 2.3h0m-1.4 2.2h0m-43.2 4.1h0m-2.7-1.8h0m-2.4-1.3h0m-83.6 56.7h0m-2.8 1.8h0m-2.5 1.4h0m-1.5 2.3h0m169.4-45.9h0m2.2-1.1h0m4.5 1.1h0m1.6-3.3h0m3.8 0.9h0m3.2-1h0m-148.8-58h0m-2.5-0.4h0m-63.1 7h0m-2.1 2.7h0m-2.8 1h0m-2.8 2.6h0m-1.8 2.4h0m-1.8 0.8h0m116.3 12h0m2.3 1h0m3.4 0.9h0m2.7 1.1h0m96.7-23.2h0m0.4-2.9h0m-1.9-3.7h0m-2.5-3.4h0m-1.7-1.9h0m-147.9 26h0m-0.4-5h0m1.7-3.4h0m0.2-2.9h0m3 26.1h0m-1.8-0.2h0m-3.4-2.3h0m-2.5-1.4h0m26.1 54h0m-2.3 2.3h0m-3.3 1.5h0m-2.6 2.5h0m-2.5 1.8h0m84.2-80.1h0m-78.5 95.2h0m3.4 1.3h0m1.4 1.4h0m-122.8-60.5h0m0.4 3h0m221.3-74.3h0m-1.1 2.8h0m56.6 59h0m2.4 0.5h0m-130.4 1.4h0m2.5 0.6h0m3.1 2.4h0m2.5 1.1h0m28.9 29.3h0m71.6 5.4h0m3.7 1h0m3.1-1h0m-286.7-22.9h0m2.9 2.2h0m3.3 2.2h0m189.3-54h0m-2.5-0.6h0m-5.1-0.3h0m-1.6-1.4h0m-119.7 7.6h0m0.7 3.6h0m-0.8 3.7h0m141.1 5h0m3.2 3.4h0m2.1-0.9h0m4 2h0m72.9-33h0m2.1 2.8h0m-19.7 44.6h0m0.1 2.2h0m0.2 3.9h0m-162.5 7.5h0m0.2 1.2h0m0.2 4.6h0m-1.3 3.1h0m38-59.6h0m-2.2-2.6h0m-45-2.1h0m2.9 1.4h0m2.3 3.9h0m172.8 4.1h0m0.5 2.6h0m-157.9 103.7h0m-1.6 4.2h0m-3 2.8h0m-26.2-75.7h0m3.1 1.8h0m218-43.1h0m2.2-3.2h0m0.9-2.4h0m-107-11.3h0m-2.6 3.4h0m-2.4 3h0m-2.4 0.9h0m-2.4 2.3h0m120.7 25.8h0m-3.7-0.8h0m-2-0.7h0m-217.3 38.3h0m-2.6-0.7h0m-2.3-2.3h0m-1.7-2.2h0m190.5 25.3h0m3.2 0.4h0m2.6-0.3h0m3.2-1.1h0m-213.4-81.5h0m-2.9 1.6h0m-2.9 1.3h0m-3.3 3.1h0m-2.2 0.4h0m187.9-2.2h0m2.3-1.8h0m61.7-4.7h0m-0.6-3.6h0m-2.1-2.9h0m1-3.9h0m-140.8 76.2h0m4.2-1.3h0m3.3-1.2h0m-161.6-44.3h0m-3.2-1.6h0m-0.9-1.1h0m-3.7-2.2h0m74.1 68.2h0m-1.4-3h0m-2.4-2.1h0m-0.9-2.4h0m166.9-36.8h0m4.2 0.3h0m-211-27.2h0m2.2-2.3h0m1-2.9h0m15.1 15.5h0m3.2-1.2h0m3.9-1.7h0m2.9-1.9h0m68.9 64h0m1.6 1.6h0m149.6-84.2h0m2.4-2.7h0m-214.2 112.9h0m-2.2-0.9h0m0.7-87.8h0m-0.9-3.4h0m-0.2-1.7h0m0.4-3.9h0m-24.6 82.9h0m1.9 2.7h0m1.8 3.5h0m201.2-112.5h0m2.1-4.5h0m0.9-1.7h0m-102.8 57.4h0m-3.4-2.1h0m-2 21.5h0m-2.3-1.7h0m-3.5-1.8h0m-1-1.6h0m22.6-22.5h0m2.5-1.2h0m0.1 10.6h0m-2.8-3h0m0.3-1.8h0m-40.4 35.9h0m1.3 4.5h0m-2 2.1h0m50.3 2.7h0m-2-2.9h0m-1.6-2.7h0m-113.5-55.6h0m2.8 0.2h0m2.8-0.8h0m2.7-1.4h0m-2.1 33.9h0m-2.9-3.3h0m-1.9-2.2h0m-2.4-1.4h0m-2.2-2.8h0m-1.4-2.4h0m86.7 64.4h0m2.5-2.2h0m2-3h0m2.5-1.2h0m-56.1-62.1h0m1.2 3.3h0m2.3 2.6h0m211.3 26.9h0m-1.3-3.5h0m0.2-2.4h0m0.3-2.3h0m0-4.4h0m-117.3-44.6h0m2.3-1.2h0m2.4 1.8h0m3.8 2.6h0m3.6 0.1h0m-138.6 27.7h0m-4 1.2h0m-2.7 1.8h0m-2.4 1.3h0m262.1-31.5h0m2.8-1.5h0m2.2-1.5h0m3.5-1.6h0m2.1 0.6h0m-79.7 11.8h0m-3.5-1.7h0m-3.1-0.2h0m-3.1 0.2h0m-2.2 0.4h0m-119.4-21.3h0m0 3.7h0m0.4 2.3h0m1.2 2.7h0m1.6 4.2h0m-8.9-9.3h0m-11.5 43.1h0m-49.7-23.4h0m-2.5 1.6h0m-2.3 1.4h0m279 30h0m-0.7-0.7h0m-1.4-3.5h0m0.3-4.2h0m-0.9-1.1h0m-119.9-5h0m1.9 3h0m2.8 2.3h0m1.6 2.3h0m4 2.4h0m-209.6 13.8h0m-1.8-3.5h0m-1.8-2h0m-1.8-2.2h0m-2.4-3.2h0m88.3-33.6h0m2.7 3.2h0m3.1 0.1h0m2.5 2.2h0m-35.2-3.5h0m3.3-0.9h0m2.2-0.7h0m233.2 64.4h0m1.5-2.1h0m2-2.5h0m0.1-2.8h0m-291.9-27.5h0m-1.8 2.3h0m-2.7 3h0m284.1-81.1h0m2.3 2h0m2.7 2.5h0m2.4 2.1h0m-25.6 11.8h0m-2.3-3.4h0m-2.4-2.8h0m-0.5-1.7h0m34.2 101.4h0m-1.8-0.7h0m-3.6 0.6h0m-64.3-12h0m-150.5-18.4h0m3.3 2.2h0m1.4 3.2h0m34.4 23.3h0m2.1-2.1h0m3.3-2h0m-64.7 9.5h0m2.7-1.4h0m1.5-3.8h0m1.5-2.3h0m2.2-2.6h0m0.8-2h0m22.8 11.5h0m-3.9 3h0m-1.6 1.1h0m-3 2.2h0m209.6-11.6h0m0.6-4.2h0m0.9-2.3h0m-0.7-2.6h0m-213.8-41.1h0m1-4.1h0m-0.2-3h0m0.7-3.7h0m233.8 60.3h0m-5-1h0m-3.5 0.3h0m-2.2-2h0m-166.6-56h0m5 0.7h0m1.7 0h0m3.6 0.9h0m4 0.7h0m-106.2 40.7h0m-1.6 0.5h0m-5.1 1.3h0m-2.6 0.3h0m-2.5 2.6h0m-3.1 0.4h0m218.1-68.1h0m1.6-3.6h0m0.5-2.4h0m-69.7-5.3h0m-2.7-1.4h0m-2.9-1.4h0m-4-0.3h0m-2.6-1h0m-70.2 42.8h0m-2 2.8h0m-2.3 3h0m-2.8 1.7h0m171-56h0m-1-3.1h0m-2.4-0.8h0m-2.8-3.5h0m-201.6 99.9h0m0.9-1.9h0m3.6-2.6h0m1.3-1.7h0m216.2-29.4h0m3.1 2.4h0m3.7 0.3h0m1.8-0.6h0m-159.8 35.4h0m-2.3-4h0m-1.3-3.4h0m-63.6-46.1h0m-2.5-0.3h0m-2.8-0.4h0m-3.5 0.8h0m-3.9-1.4h0m85.5 55.4h0m1.6-1.4h0m1.9-4.7h0m2.1-1.1h0m43 11.2h0m0.3-3.4h0m-39.4 39.5h0m1.1-2.4h0m-79.5-81.9h0m-3-1.3h0m-1.5-1.9h0m-3.4-2.4h0m49.9 57.9h0m158.6-56.7h0m-1.2 0.2h0m-4.2-0.2h0m-3.7 0.9h0m-3-0.6h0m-180.1 31.4h0m3.2-0.7h0m3.1-2.6h0m-17.7-32h0m2.2-3.4h0m0.1-3.2h0m19.8 61.9h0m1.2 2.5h0m-0.6 3.5h0m100.3-111.9h0m-3.4 0.5h0m-2.7-1.6h0m-3.8 1.6h0m-10.5 8.4h0m-2.2 2h0m-53.2 24.2h0m1.1-2.8h0m1.7-2.3h0m1.5-2.8h0m-88 76h0m2.3-3.8h0m1-2.7h0m1.2-3.1h0m96.6 36.7h0m-1.4 2.7h0m-2.7 0.8h0m-17.6-20.1h0m3.2 1.6h0m2.3 1.6h0m2.3 2.7h0m-109.4-66.1h0m0.4 2.9h0m-1.6 2.9h0m213.8 13.1h0m-3.4 1.3h0m-44.7 45.4h0m3.2 0.1h0m-55.7 1.6h0m3.7-0.4h0m83.5-7.2h0m-113.1 36.8h0m-2.1-2.7h0m-2.5-2.6h0m63.2-38.9h0m1.4-0.4h0m52.1-93.7h0m-3.4-1h0m-2.9 0h0m-2.8 2.2h0m-49 60.5h0m-1.2-4h0m-2-2.6h0m-2.7-1.9h0m-2.3-2.2h0m-1.6-2.8h0m34.8 37.7h0m-3.4 1.3h0m-1.8 1.8h0m-4.6 1.2h0m-2.8 1.9h0m158.2-95.3h0m-0.3 1.9h0m-36.8 101.5h0m2.8 1.7h0m1.3 1.7h0m7.9-75.6h0m-21.2 33.5h0m2 1.9h0m2.5 1h0m3.2 3h0m2.6 1.6h0m-118.4-59.6h0m116.8 41.6h0m1.7 3h0m-1.2 3.6h0m-115.6 49.5h0m1 0.3h0m1.9 4.2h0m-141.8-56.8h0m-0.3 2.2h0m1.3 4h0m0.6 2.9h0m99.4-12.3h0m3.9 0.9h0m2.6-1.7h0m3.2 0.7h0m-56.6 75.8h0m2.2-3.9h0m31.4-45.8h0m-3-0.3h0m-2.3 0.8h0m-4 2.3h0m203.1-75h0m4.8 1.2h0m2.2 0.4h0m3.7 1.4h0m-201.6 38.2h0m2-1.6h0m3.5-3.1h0m190 7.6h0m-2.1-1.3h0m-3.3-2h0m-167.8-28.9h0m2 0.7h0m2.4 1.2h0m59.5 74.5h0m1.8 2.3h0m1.2 2.6h0m36.9-40.7h0m3-1.5h0m3.9-2.2h0m61.7 21.5h0m-220.5-1.8h0m2.8-1.8h0m5.4-0.6h0m219.7-23.3h0m2.6 3h0m3.6 1.8h0m1.2 0.9h0m3 3h0m1.3 1.2h0m-3.6-2.4h0m-2.8 0h0m0.2 4h0m-53.2 40h0m-2.4-4.3h0m-2.3-0.9h0m-1.6-1.8h0m-95.2-102.9h0m3.8 0.9h0m2.8 0.5h0m-1.6 93.7h0m1.7 1.1h0m4.3 1.8h0m-45.1-25.7h0m-2.4-2.2h0m-3.1-1.2h0m-2.4-2h0m-2.7-1.3h0m167.1 14.1h0m-1.6-0.6h0m-4.6-1.9h0m-281.1 17.5h0m3.4 1.2h0m96.9 18.3h0m-0.5 2.7h0m-1.9 3.6h0m0.1 1.7h0m-9.2-35.1h0m0.8 1.7h0m2.4 3.5h0m-0.4 2.8h0m106.6-86.2h0m-2.7-1.5h0m-4.8-2h0m99.5 53.2h0m2.7 0.2h0m-29.3 57.6h0m-90.1-29.2h0m2.5-0.3h0m3.6-1.4h0m3.1-1.8h0m-181.6-18.2h0m2-2.2h0m2.7-1h0m169.4 20.2h0m3.3 0.4h0m48.2-49.1h0m-6.4 57.3h0m-2.4-1.7h0m-2.3-2h0m94.2-46.3h0m2.9-3.2h0m-224.9 20.2h0m-2.1-1.2h0m-1.1-3.6h0m-2.6-3.2h0m140.6 5.5h0m-2.5-1.6h0m-2.8-3.7h0m-11.2-50.4h0m-5.6-2.7h0m-2-1h0m101.6 15.3h0m-26.2 48h0m2.2 1.7h0m1.5 1.8h0m3.7 3.5h0m3 1.5h0m-29.3 16.1h0m-79.2-77.9h0m-1.4 1.2h0m-172.4 71h0m-1.5 4.5h0m309.6-31.3h0m1.5-2.8h0m3.4-1.4h0m-274.6 24.1h0m-2.6-2.2h0m-2.5-1.3h0m117.9-61.5h0m-0.3 3.3h0m-2.1 0.9h0m0.5-1.6h0m-0.5 2.6h0m-0.5 3.3h0m28.3 58.9h0m-1.9-3.5h0m-0.6-1.6h0m-61.9 19.8h0m3.5 0.1h0m2.9 1.3h0m2.3-0.2h0m3.7 1.1h0m3.3 0.1h0m-106.4-27h0m-4.6 0.2h0m-1.5 0.7h0m-4.9 0h0m297.8-28.3h0m2.6 0.4h0m2.8 1h0m-285.6 22.1h0m0.6-3.1h0m0.7-4.6h0m0-2.9h0m0.7-2.6h0m-0.7-3.4h0m200.1-12h0m-2.1-1.4h0m-2.5-1.2h0m-76.5 108.6h0m-2.6 1.7h0m-4.2 1.6h0m-3.1 1.6h0m150.2-96.7h0m-1.8-2.5h0m-220.3 44.4h0m-3.3 0.5h0m194.4-68.3h0m0.9 2.8h0m1.5 2h0m0.4 3.2h0m-193.7 98h0m3.2-2.3h0m2-2.1h0m3.2-1.1h0m1.7-1.4h0m84.1-72.5h0m3.8 2h0m117.9 47.9h0m1.5-2.1h0m4.4-2.2h0m2-2.2h0m-257-15.7h0m-2.3-0.8h0m-3.6-1.7h0m-3.2-1.5h0m-2.3 0.3h0m-4.8-1h0m17.9 22.3h0m-2.6 0.5h0m-4 0.4h0m293.2-62.2h0m3.4-0.4h0m3.4 0.1h0m-28 3.6h0m-1.4-1.6h0m-2.3-4.3h0m0-1.7h0m-183.5 101.7h0m2 3.9h0m3.6 0.2h0m-0.4 4h0m3.6 2.5h0m-15.3 17.4h0m-44.2-115.4h0m-3.9-0.3h0m-3.9 0.9h0m230.8 26.5h0m-2.6 2.6h0m-36.3 30.6h0m43-41.1h0m-3.1 0.6h0m-2.4-1.1h0m-2.7 0h0m46.4 14.4h0m2.7 2.1h0m-93.8 11.1h0m0.2 3.9h0m1 2.3h0m-59.7 18.7h0m-4.1 0.7h0m-4.5 0.1h0m91.6-59.7h0m1.2 3.3h0m-257.7-8.5h0m3.9-2.4h0m3-0.3h0m259-33.4h0m2.3 1.2h0m2.7 2.2h0m2 1h0m20.9 45.3h0m-1.3 0.8h0m-0.3 3.9h0m0.2 3.4h0m-0.8 1.6h0m-154.9 7.7h0m-4.1-0.1h0m67 27.3h0m-0.5 2.9h0m36.6-29.3h0m0.1 3.6h0m-0.2 1.9h0m0.1 5h0m-6.9 3.7h0m3.3-2.9h0m3.4-1h0m1.9-2.3h0m3.9-1.6h0m41 13.1h0m-3.5-0.5h0m-2.4 0.4h0m-4.3 0h0m-119.2-78.6h0m4.4 2.6h0m0.8 1.9h0m-127.2 43.9h0m-0.4-1.7h0m1.9-3.6h0m239-6.1h0m52.4 5.8h0m1.8-3.1h0m-0.1-3.4h0m1.6-3.8h0m-96 12h0m2.4 2.5h0m3.4 1.7h0m-126 3.4h0m-0.2-3.4h0m0.1-2.4h0m-0.6-3.8h0m137.7 27.4h0m-2.7-1.2h0m-3.5 1.1h0m-3.4-0.9h0m-2.5 0.3h0m-30.9-68h0m3.7-1.2h0m3.6 0.6h0m-45 45.7h0m3.7-1.1h0m4.1-0.8h0m4.3-0.2h0m-210.9 115.1h0m0.2-3.7h0m0.7-3.5h0m37.3 10.6h0m-1.8 2.1h0m-2.5 1.5h0m-2.4 1.3h0m3.6 7.5h0m20.9 3.4h0m3.4-1.5h0m1.5-1.9h0m1.3-1.9h0m3.6-1.1h0m-45.3-2h0m3 1.1h0m2.4 0.3h0m3.4 2.2h0m22.1 36.1h0m7.1-56.4h0m1.4 2.4h0m1 2.9h0m-68.7 49.7h0m-1.6 1.2h0m80.1-85.2h0m2.7 2.1h0m2.9 1.8h0m2.7 2.2h0m3.3 0.7h0m2.3 1.6h0m2.1 2.8h0m3.5 1.2h0m-29.1 17.5h0m3.5 0.7h0m1.5 1.2h0m-34.1 43.8h0m-2.6 2.1h0m-1.8 3.1h0m-1.8 2.4h0m-2.7 1.3h0m-0.3 2.8h0m18.4 18.4h0m3-2.3h0m2.5-1.6h0m3.1-3h0m1-1h0m2.4-2.9h0m35-65.2h0m0.4 3.7h0m0.3 2.6h0m-71.2 57.4h0m0.9 2.8h0m-6.1 9.4h0m-2.1-0.5h0m-3 0.2h0m-4.2-1.4h0m27.9-72h0m-1.7-2.9h0m-0.1-3.7h0m-1.2-3.6h0m-25.3 35.5h0m1.3 2.8h0m0.2 3.5h0m23.5-44.6h0m-27.3 28h0m-2.4-1.6h0m-2.6-0.6h0m50.9 33.1h0m2.1-3.7h0m9 32h0m-43.9-32.7h0m-2.2-1.6h0m-0.4-4.8h0m-1.4-3.2h0m31.5-20.3h0m-3.2-1.3h0m-1.8-3.3h0m-15.9-12.8h0m0.9 3.7h0m1.3 4.1h0m-0.1 2.8h0m40.4-34.1h0m2.4-2.5h0m3.7-0.7h0m1.5-3.3h0m-81.3 72.8h0m111.8-42.4h0m-0.7-4.1h0m-58.8 35.4h0m36.7-16h0m-1.9-1.7h0m0.2-4.7h0m-18.6 14.5h0m2.9 1.3h0m4.7 1.2h0m-40 15.8h0m1.5-1.7h0m2.6-3.2h0m-22.2-44.4h0m-1.1-4.2h0m-1-3.3h0m0.1-2.4h0m-0.7-2.9h0m-4.2 94.5h0m1.9-2.2h0m1.5-3.8h0m60.9-37.8h0m0.4 3h0m-7.7 46.8h0m0.7-3.5h0m1.8-2.2h0m2.8-79.6h0m3-0.5h0m3.3-0.2h0m3.3 0h0m-74.9 85.4h0m-0.6-1.2h0m0.5-4.5h0m-0.8-3h0m15-41.9h0m2.6 2.1h0m3.2 2.4h0m2.9 0.9h0m21.4 28.5h0m-1.1-2.4h0m-2.7-1.9h0m-34.5-57h0m3.6-2.3h0m2.5-1.1h0m3.3-1.3h0m6.3 14.3h0m-1.3-0.5h0m-3.2 0.4h0m-4.2-0.4h0m-1.8 0.5h0m-11.1 21.7h0m-1.9 3.2h0m60.4 35.6h0m-1.9-2.4h0m-4-2.3h0m-1.6-0.4h0m-13.4-46.8h0m2.4-2.8h0m-18.1 42.2h0m-1.3 1.4h0m-4.5 0.4h0m-3.1 0.8h0m-3.7 2.5h0m29.9-72.5h0m0.6 2.2h0m-1.6 4h0m-16.2 80.7h0m1.5-3.2h0m1.6-3.1h0m1.3-1.3h0m10.1-2.5h0m4.4 1.2h0m2.9-0.3h0m2.6 1.9h0m-56.3-83.6h0m-0.5-3.4h0m1.7-2.8h0m-0.8-3.2h0m45.6 72.7h0m1.7 0.1h0m3-3.4h0m1.5-1.1h0m28.5-20h0m-2.2-16.4h0m3.1 1.5h0m3.5 0h0m2.8 1.5h0m-57.5 42.9h0m-0.6-2.9h0m-1.2-3.6h0m-0.3-1.4h0m1.4-5h0m0.2-2.9h0m-1-3.5h0m-4.4 48.3h0m0.9-4.6h0m26.6-9.8h0m2.8-2.8h0m1.1-1.6h0m2.9-2.8h0m4.2-2.2h0m0.9-0.5h0m3.9-1.1h0m1.4-2.9h0m-36.3 3.6h0m-1.5 2.5h0m0 2.6h0m-0.1 4h0m-23.8-50.5h0m0.2-5h0m0.4-2.9h0m-1.5-2.5h0m82 52.5h0m-18.2-35.3h0m2.8 3.7h0m-45.1 29.7h0m-2.5 3.1h0m1.9 2.3h0m-2.4 3.2h0m-1.1 3.8h0m38.4-53.7h0m3.9 0h0m-24-30h0m-3.6-2h0m-2.5-0.7h0m-2.1-2h0m-1.8-2h0m-3.1-3.2h0m-2.1-1.9h0m62.4 21.3h0m-2.2 1.4h0m-0.8 2.6h0m-31.2-0.5h0m1-2.1h0m1.7-3.4h0m2.4-2.4h0m-28.1 17h0m-3 2.8h0m-3.2 1.7h0m-1.6 1.5h0m32.6 47.1h0m3.3-0.5h0m3.1-2h0m3-0.3h0m20.4 4.1h0m-4.1 0.4h0m-2.8 2.3h0m-19.1-82.5h0m0.7 3.7h0m-0.7 10.1h0m-0.1 3.3h0m-0.2 4.2h0m1.3 2.9h0m0.5 3.4h0m15.8-37.6h0m0.6 4.5h0m0.8 2.9h0m-25.5 95.5h0m-0.6-1.2h0m-1.1-3.9h0m-56-30.2h0m-3.3-1.9h0m-1.6-2.8h0m63.4-33.9h0m1.4-3h0m0-3.4h0m1.9-2.8h0m-59.4 10.6h0m3.2 1.1h0m1.8 2.9h0m3.2 2h0m91.7-31.9h0m-1.3-1.3h0m-2.7-2.8h0m-100.8 50.8h0m2.6 3.3h0m0.9 3.3h0m29.3 44.8h0m-1.4 2.9h0m-4.5 2.2h0m-0.8 1.8h0m-10.2-85.1h0m-2.4-1.7h0m63.7 20.4h0m2.4-2h0m-45-26h0m4-1.6h0m3.3 0.3h0m1.9 0.9h0m3.1 0.9h0m2.9-0.4h0m37 51.1h0m-1.7-0.1h0m-4-0.4h0m-35.8-22.7h0m-1.3-3.1h0m-4-31.5h0m0 3.5h0m-1.6 3.9h0m7.1 43.8h0m0-2.6h0m1.5-4.6h0m6.7 1.7h0m3-0.9h0m2.6 0.2h0m4.1-2.1h0m-53.5-4.3h0m-0.5 4.3h0m-1.5 1.8h0m-0.4 2.9h0m79.2-53h0m-1.3 0.3h0m-2.6 2.2h0m-4.7 1h0m-2.2 0.7h0m-21.5 65h0m1.8-3.2h0m2-4.2h0m-0.5-1.4h0m-33.2 0.8h0m2.8-1h0m3 0.7h0m4.7 1.8h0m-12.6 0.2h0m0.8-3.8h0m-13-20.3h0m-2.7 1.3h0m-5.7 0.1h0m85.7 40.5h0m-2.9-3.1h0m-67.4 24.6h0m3.6 0.1h0m3.5-1.7h0m1.3 0.4h0m4-0.7h0m60-13h0m2.9 2.2h0m-0.6 4.4h0m-61.9-12.7h0m13.4-54.2h0m2.3 0.6h0m3-2.3h0m66.3-2.7h0m-0.2 2h0m-0.8 4.4h0m-77.3 46.6h0m-0.6 0.9h0m-5.6 1.4h0m53.3-40.9h0m2.8 1.4h0m2.7 1.7h0m4.1 0.7h0m2.2 1.8h0m-25.2 19.1h0m-0.1-3.5h0m1.6-2.9h0m1.1-1.5h0m-46.4 43.7h0m4 0.5h0m2.6-0.4h0m3.3-1.3h0m72.4-83.8h0m0.8-3h0m-1.4-2.6h0m-51.7 53h0m-1.3-2.1h0m-2.5-2.4h0m50.8-45h0m-84.4-13.1h0m-0.8 1.2h0m0.1 4.2h0m48.9 69h0m-3.3 1.6h0m-4 1.6h0m-49.3-64.4h0m3.9 3.9h0m0.1 2.5h0m-43.4 71.1h0m-3.9-2.3h0m-1.7-0.6h0m15.9-38.9h0m-2.4 38.4h0m3.1 0.2h0m4.8 0.5h0m-23.7-10.7h0m-5 1.6h0m34.6-17.9h0m0 1.7h0m-2.2 2.4h0m-1.4 2.5h0m-2 2.4h0m-14.1-20h0m0.1 3.5h0m1.1 2.9h0m-19 22.3h0m0.8-2.7h0m1.6-2.5h0m0.7-3.3h0m1.1-3.4h0m1.8-1.7h0m15.8 28h0m-2.9-2.8h0m-2.4-1.5h0m-1.9-1.7h0m8.4-34.5h0m1.5-3h0m0.5-2.6h0m-24.1 38.5h0m2.2 1.2h0m2.9 2.1h0m33.9-4.2h0m1.6 3.5h0m-22.4-31.5h0m1.7-1.7h0m3.3-3.7h0m15.7 44.2h0m2.1-0.9h0m2-1.4h0m3.2-3h0m-37-20.5h0m-3.4-2.4h0m21.2-19.7h0m-2.5 4.3h0m-1.4 16.5h0m3.2 0.2h0m2.2-2.5h0m5.2-1.2h0m0.9-0.8h0m-7.1 1.2h0m-3.3-2.3h0m-1.7-1.8h0m16.6-5.2h0m-4.1 44.3h0m-11.4-53.5h0m-10.2 36.8h0m2-0.7h0m3.8-1.4h0m2.7-1.5h0m-2.3-34.4h0m-1.3 1.5h0m-1.1 2.9h0m-1.8 2.6h0m0.4 47.8h0m0.9-2.8h0m2.3-2.8h0m-1.7-13.5h0m2.4-2.9h0m2.7-1h0m2-1.7h0m3.1-2.9h0m1.7-2.5h0m-1.4 18.6h0m1.6-3h0m9.8-28.2h0m-3.2 1.6h0m-1.9-0.2h0m-4.8 2.5h0m-10.5-8.7h0m3.6 1.8h0m3.7 0.1h0m1.8-0.4h0m4.8 11.4h0m0.9-4h0m-11.6 1.7h0m-3-2.8h0m-1.5-2.5h0m-2.3-2.2h0m-7.8 28.9h0m-1.7-3.1h0m15.2-24.7h0m-8.1 72.7h0m-0.9 4.2h0m-0.9 3h0m0.5 3.3h0m-7.1 0.4h0m-3.8 0.4h0m-3-1.1h0m-3.1-0.1h0m-0.3-7.2h0m0.7 3.3h0m1.8 2.9h0m9.8 5.1h0m15.4-7.8h0m-4.7 1.2h0m-2.3-0.3h0m-3.1-0.3h0m-3.9 1.4h0m14.2-7.1h0m1.6-3.2h0m1.7-2.4h0m-11.8 20.4h0m1.3-3.6h0m1.8-1.7h0m11.8 35.9h0m-1.5-2.1h0m0.2-2.4h0m53.3 27.6h0m-3.6 1.8h0m-19.8-51.7h0m1.4 3.1h0m1.9 2.8h0m0.8 3.3h0m2.1 3.2h0m22.6-11.7h0m0.2 3.2h0m-1.5 2.8h0m0.3 5h0m-0.2 2.8h0m0.1-11.1h0m3.3 0.3h0m2.1 0.8h0m3.4-0.8h0m3.2 0.4h0m-29.9 7.4h0m2.7 0.3h0m2-0.3h0m-15.1 36.7h0m-1.4 2.4h0m26.9-31.7h0m0.4 3.1h0m0.2 2.8h0m0.5 2.8h0m-30.5 2.6h0m0.2-3.2h0m2.2-2.9h0m1.3-2.7h0m34.1-11.5h0m2.8 1.7h0m3.4-1.3h0m2.2 2h0m-62.9-0.3h0m1-3h0m3.2-4.9h0m3.6-0.1h0m3-0.4h0m3 0.2h0m-2.6 17.1h0m-2.6 1.1h0m-2.3 0.4h0m-4 1.4h0m-3.2 0.2h0m-1.2 0.1h0m10.2-12.5h0m-2.7-0.2h0m-4.5 0.8h0m-1.7 1.9h0m65.1 3.7h0m-2.7 1.6h0m-2.6 1.9h0m-2.3-0.1h0m-16-13.9h0m-2.3 2.5h0m-17.6-19h0m2.7 1.7h0m1.6 0.7h0m-9.4 36.5h0m2.6 3.7h0m1.2 1.4h0m37.7-39.8h0m-1.6-2.9h0m-1.5-2.3h0m-6.5 49.4h0m-3.6 0.9h0m5.7 5.3h0m0.9-3.3h0m0.9-3.2h0m0.6-2.2h0m1.9-4h0m21.4-7h0m0.5 2.6h0m-44.7 19.1h0m-2.3-0.9h0m-2.6-0.8h0m-28.7-10.7h0m2.7 2.2h0m3.4 0.5h0m2.4 1.7h0m53.8-12.4h0m-3.2 2.4h0m-21.7-18.7h0m-1.1 3h0m0 4h0m2.9 41.4h0m-0.9-3h0m0.6-2.9h0m-1.5-3.2h0m-0.5-28.3h0m1.7 0h0m4.1-1.9h0m0.8-3.3h0m4.6-27.6h0m0.8-2.5h0m3.8-3.5h0m1.1-2.5h0m-5.8 64.5h0m1.3-2.5h0m15.2-37.8h0m-0.2 3h0m-2.8 3.1h0m-2.1 2.9h0m-1.4 2.2h0m-23.1-30.5h0m0.5 2.7h0m0.2 3h0m-36.8 16.3h0m-3.1-2.6h0m19.3 12.9h0m2.4 2.8h0m13 15.7h0m1.5 3h0m0.9 2.3h0m11.6-16.8h0m-0.7 3.8h0m-0.3 3h0m-9.1 14.7h0m23.4-14.1h0m1.3-2.2h0m0.3-3.4h0m1.5-4.7h0m-14.1 27.9h0m2.6 1.7h0m1.5 1.1h0m5 2h0m5.1-28.5h0m0.6 3.5h0m0.8 3.1h0m-0.5 4.6h0m-47.7-28.9h0m-4.7-1.2h0m-1.1-3.4h0m44.8-16.8h0m1.1 3.5h0m0.6 2h0m1.3 4.5h0m0.2 2.3h0m4 12.2h0m-0.9 1.6h0m-20 9.3h0m-1 0.8h0m-24.6-6.5h0m-2.8 0.7h0m-3.5-0.6h0m9-4.9h0m2.3-2.2h0m2.5-1.9h0m3.2 1.3h0m1.9-2.5h0m40.9-8.7h0m-0.1 4.1h0m-3.3 0.7h0m-2.8 3.8h0m0 1.9h0m-5.7 19.3h0m-4.8-0.8h0m-1.7-3.9h0m-28.9-11.7h0m3.6 2h0m1.9 2.7h0m41.5 30.2h0m-0.9 1.3h0m-4 1.7h0m-3.7 0.2h0m-49.1-48.8h0m4 0.9h0m2.6 1.6h0m2.4 1.2h0m2.7 1.2h0m1.8 2.4h0m4.5 1.1h0m-0.6-48.8h0m1.8 3.1h0m2.6 1.3h0m-10.4 14.1h0m3.1-3.5h0m0.7-2.3h0m1-2.1h0m3.1-3.1h0m1.3-4h0m13.7 15.3h0m-3.4 2.4h0m-1.6 0.7h0m-0.8-11.7h0m52.7 42.1h0m3.3-0.8h0m-1.4-2.3h0m5.6-4.5h0m0.8-3.8h0m6.2-6.3h0m159.8-98.5h0m24.8-26.6h0m-3.2 1.1h0m-3.9 0.6h0m-62 24.4h0m12.7-23.2h0m2.6 1.2h0m-2.9 13.3h0m2.8 2.7h0m3.8 1.8h0m0-17.4h0m-1.1 3.5h0m-36.5-4.4h0m2.7-0.8h0m3 0h0m2.9-0.2h0m30.4 15.8h0m0.7 1.2h0m1.1 4.2h0m1.2 2.5h0m0.8 3.6h0m24.3-5.9h0m-2.3-1.8h0m-1.1-2.3h0m-2.6-2.3h0m-40 8.5h0m1.8-1.3h0m1.2-3.1h0m2.7-2.8h0m1.7-2.1h0m76.9-18.4h0m-46.8 18.3h0m-1.8 1.5h0m-2.1 2.2h0m-3.9 2.3h0m-3.3 3.3h0m-1.1 4.1h0m18.8-10.1h0m4-1.8h0m2.5-0.5h0m24.3-18.3h0m-1.2 0.9h0m-1.8 3.6h0m-29.5 5.1h0m-1.2 2.5h0m-0.8 3.3h0m-0.9 2.5h0m-0.9 4.1h0m56.1-12.6h0m-81.8-1.1h0m3.2 0.2h0m3.5 0.6h0m3.4-0.1h0m3.2 1.2h0m14.7 12.6h0m-2.8-2.3h0m-2.5-2h0m-2.7-0.1h0m-2.2-2.9h0m-30.4-1.5h0m8.6 15.7h0m-1.5-3.9h0m-25.9-18.4h0m1.8-1.5h0m56 0.6h0m-2.5 0.8h0m-3.6 1.1h0m-3 1.2h0m-4 0.4h0m26.5-7.5h0m-2.8-0.5h0m-3.9-1.5h0m-2.6 1.2h0m-42.6 26.2h0m-2.8-2.1h0m-2.9-0.6h0m-3.2-0.5h0m-3.7-1.9h0m-1.9-1.7h0m40.1 4h0m2.5 1.8h0m20.5-26.6h0m0 3.3h0m-1.2 3.2h0m-56.2 11.5h0m-2.7 0.1h0m-3.3-1.2h0m90.2 1.2h0m-3.8-0.1h0m-2.4-1.1h0m-3.5 1h0m-38.1 10.3h0m-1.9-3.4h0m0.3-2.6h0m-1.9-2.3h0m0-3.5h0m6.7-14.1h0m2.6-0.1h0m3.4 2.5h0m2.2 2.4h0m21.1 7.6h0m-55.1 1.4h0m-3.8 1.7h0m-1.8 0.4h0m1.2-6.4h0m-2-1.8h0m48.8 7.1h0m-0.4 3h0m-41.6 8.8h0m-3.5 0.1h0m21.4-21.5h0m-2.4 1.6h0m-2.9 3.5h0m-1.4 2.2h0m-2.5 3.1h0m-1 1.3h0m69.6-15.2h0m3.3 0.2h0m1.9 0h0m6.6 3.8h0m-61.5-1.4h0m1.7 1.8h0m4-0.3h0m2.9 0.3h0m3.2 1.3h0m39.2 2h0m-51.9 19.7h0m-3.3-2.4h0m-2.6-2.4h0m-3-0.6h0m-1.3-2.2h0m-38.3-1.7h0m-0.3-3.5h0m0.5-3.1h0m40.6-3h0m18.9 15.2h0m-52.6-5.8h0m2.1 0.5h0m3.3-1.2h0m2.7-1.4h0m3.3-0.1h0m3.4-0.8h0m-18.1-1.5h0m22.2 3.3h0m10.2-15.1h0m2.1 2.9h0m3 1.1h0m-10.7 18.8h0m-1-1.8h0m0.6-5.2h0m0.5-2.4h0m-2.6-3.8h0m27.7 11.7h0m-2 1.7h0m-3.6 0.4h0m-37.3-23.7h0m51.3 16.1h0m-69.1 50.3h0m-2.6 1.6h0m-9.8 5.3h0m-2.2 2.2h0m-3.2 2.5h0m-1.9 4.1h0m27-4.5h0m-4.8 1.6h0m4.1-29.7h0m-38.1 55.7h0m1.6-3.3h0m0.9-1.7h0m30.4-36.2h0m-4-1.7h0m-3-0.4h0m-2.5-1.6h0m-3.6-3h0m-3 0.9h0m18.3 40.6h0m-9 3.4h0m-2.1 2.4h0m-2 2.8h0m-3.2 0h0m-2.1 2.8h0m29.4-28.5h0m1.6 2.1h0m0.5 3.4h0m-33.1-49.4h0m-3.8-0.7h0m-2.5-0.3h0m-3-0.1h0m4 8h0m-3.8 1.4h0m-3 2.7h0m-2-1.3h0m-3.4 0.3h0m-4.2 1.8h0m6.8 33.9h0m17-2h0m-3.4 2.6h0m-17.1-32.6h0m2.8-2.1h0m2.9-0.6h0m-2.4 9.6h0m0.7-1.5h0m2.6-4.1h0m3.4-1.6h0m41.7 30.5h0m-1.3-3.4h0m-0.6-3.6h0m-2-2.3h0m-23.6-28.9h0m-1.3 2.2h0m-0.3 3h0m0.3 2.7h0m16.2 27.4h0m2.1-1.8h0m2.6-4.5h0m4.7-11.6h0m2.6 2.3h0m-13.4 33.6h0m-4.1 2.4h0m0.4 4.6h0m-1.9 2.3h0m-42.1-12.2h0m4-1h0m1.5 0.2h0m39.1-51.8h0m-0.7-4.7h0m-38.1 19.7h0m1.1 4h0m40 15.6h0m1.1 2h0m2.6 2.2h0m1.7 2h0m3.1 1.9h0m-20.4-29.8h0m-13.3 49.3h0m-1.1 3.6h0m-2.1 2.4h0m-0.2 2.8h0m-9-33.5h0m-0.7 3.3h0m-0.1 3h0m-0.3 2.3h0m-0.8 2.9h0m-1.3 4.4h0m30.8 16.6h0m-3.1-0.6h0m-2.7 0.3h0m8.4-68.8h0m3.6-2.1h0m0.3-0.3h0m3.6-1.6h0m15.6 10.7h0m1.1-2.1h0m-75 48.4h0m1.3 1.7h0m1.2 2.6h0m2.6 3.8h0m50.1-46.2h0m-3.9 1.4h0m-2.1 1.4h0m-41.5 42.9h0m12.3-49.9h0m-1.1-3.7h0m-1.2-2.6h0m22-3h0m-2.6-1.8h0m-1.2-1.7h0m10.8 15.2h0m-1.9-3.9h0m-18.7 21.7h0m-4.8-1.3h0m-1.9 1.3h0m46.2-23.4h0m3.3 0.5h0m2.6 1.3h0m-16.7 1.2h0m4.5-2.7h0m1.8-1.8h0m1.9-2.1h0m3.4 12.1h0m1.7 1.1h0m2.1 2.5h0m-22.3 35.3h0m-1.3 2.8h0m-10.2-45.2h0m1.1-3.4h0m1.4-2.6h0m2.2-2.8h0m1.6-3h0m-46.9 38.7h0m57.5-43.7h0m-1 3.7h0m-0.4 2.9h0m0.7 2.2h0m-34.8 1.1h0m1.1 2.9h0m-1.8 2.6h0m20.3 4.5h0m2.2-2.3h0m1.6-3h0m4-10h0m-2.3 0.8h0m-2.5 2h0m-3.5 0.5h0m-3.2 0.2h0m-31.7 28.8h0m28.6 16.2h0m-2.2-2.7h0m-2.8-0.6h0m-3.1-1.8h0m-2.4-2.3h0m19.1 26.3h0m-2.7 1.3h0m2.4-55.6h0m-1.9-1.9h0m-2.8-3.6h0m-2-0.4h0m-2.4-11.1h0m-2.8 3.2h0m-1.3 3h0m-3.1 2.3h0m3.1 35.5h0m1.2-2.8h0m0.3-3h0m13.6-40.2h0m-0.4-2.8h0m12.8 27.2h0m-22.5 22.3h0m2.5 3.6h0m-0.1 3.3h0m1.8 2.3h0m-14.4-43.9h0m0.8-3.4h0m0.8-3.2h0m0.4-2.9h0m-9.6 27.4h0m-3.3 1.4h0m-2.3-0.7h0m39 39.3h0m-3.1 1.9h0m16-7.4h0m-0.7-1.4h0m-47.3-8.1h0m-0.8-4.1h0m7.3-4h0m1.5 1.4h0m2.4 2.3h0m1.8 2.6h0m25.2-53.4h0m1.2-2.5h0m0.2-2.6h0m-53.9 59.2h0m-3.4 0.1h0m75.7-23.4h0m0.3-4.2h0m-16.3 20.5h0m0.7-2.9h0m-2.7-16.1h0m-2.2-2.6h0m130.3 50.9h0m-2.5 2.4h0m-2.1 3.2h0m-0.2 2.9h0m-2 2.7h0m-0.4-24.1h0m-3-1.3h0m-3.8-3.4h0m-2.3-1.3h0m-1.2-0.5h0m16.5-0.6h0m1.4-2.2h0m3.3-1.7h0m1.8-2.2h0m-27.8 10.3h0m4.2 0.9h0m3.1 0.7h0m7.3 30h0m-0.6 3.2h0m-0.1 3.2h0m-25.5-33.9h0m-2.8-3.1h0m-2-1.8h0m-16.5-18.4h0m4.6-2.5h0m17.6 4.8h0m1.9 2.8h0m-8.1 10.2h0m37.5 25.3h0m-50.3-46.8h0m-1.4 2.5h0m2.6 45.7h0m-2.6-2.5h0m-1.5-2.2h0m4.5-46h0m6.9 24.5h0m35 36.4h0m-41-27h0m1.3-1.5h0m3.8-0.5h0m44.4 7.7h0m2.3-1.3h0m-27.9-24.6h0m-1.1-4.1h0m-0.9-1.1h0m-1.3-4.4h0m-28.5 49.3h0m13.3-51.9h0m4.6-1h0m2.7-2h0m18.1 41.5h0m-3.2-0.4h0m-3.7 1.5h0m23.1-15.8h0m0.6-2h0m0.1-3.4h0m1.1-2.3h0m-46.5-10.6h0m-0.1 4.3h0m1.4 3.2h0m-0.3 2.8h0m24.4 5.8h0m3.4-2.5h0m3.4-2.4h0m-3.7 33.5h0m4 0.5h0m2-2.2h0m0-29.4h0m-0.3-2.6h0m-0.5-3.2h0m0.3-3.8h0m-44.4 41.5h0m-3.3-2.3h0m-1.9-1.6h0m-3.6-3.2h0m38.5 9.3h0m-3.1-2.5h0m-3 1h0m28.9-10.6h0m-2.6 2.2h0m-4.4 0h0m-57.5-3.3h0m46.5 5.4h0m0.2 2h0m-0.6 3.7h0m-0.6 3.1h0m-12.7-55.3h0m-4.1 2h0m-3 0.4h0m-3.5 0.3h0m-3.7 0.8h0m50.5 5.9h0m-2.5-2.6h0m-3-3h0m-10.7 41.9h0m-1.8-0.9h0m-3.4-1.6h0m-3.8-0.8h0m-1.3-2.6h0m-3.2-1.2h0m-12.6-3.4h0m-3.7 1.3h0m-2.8 0.5h0m-2 1.3h0m3.9-6.7h0m0.3 2.8h0m32.5-31.2h0m-3.2 1.8h0m-2.6 2.3h0m-30.1-14.3h0m-1.4 3.6h0m-1.9 1.2h0m-1.6 2.2h0m29.3 16.2h0m-2.5 2.3h0m-1.4 2.2h0m-0.5-3.2h0m-3.4-1.7h0m-1.7-0.7h0m-4.2-2.4h0m-0.1 27.9h0m1-3.7h0m0.6-2.4h0m1.8-3.4h0m-14.8-30.9h0m-0.8 2.8h0m-1 2.6h0m0.6 3.8h0m-1.6 3.6h0m19.9 34h0m3.2 1.5h0m2.2 1.6h0m-26.6-50.6h0m2.7 0.2h0m47.6 8.8h0m2.1-2.3h0m1.4-1.7h0m-40.2-7.2h0m2.5 0.7h0m3.8 0h0m3 1.1h0m12.3 20.7h0m1.4 4h0m0.3 2.9h0m3.3 2.5h0m0.5 3.4h0m-11.9-12.9h0m-4.9 0.7h0m-3.2-0.6h0m-3.6-0.8h0m-2.4 0.3h0m-2.4 0.5h0m-5.1-1h0m17.2-15.5h0m4.9 2.6h0m1.8 1.9h0m7.3 2.5h0m2.3 1h0m2.2 2.3h0m2 3.9h0m-27.8-2.2h0m2.8 3h0m2.4 1.1h0m0.6-16.3h0m2.4 1.6h0m-9.2 3.9h0m-3-0.7h0m-2.7-0.5h0m8 36.5h0m0.2-2.2h0m1.3-3.8h0m-654.8-188.4h0m1.9 4.3h0m0.2 3.7h0m0.5 1.6h0m0.1 3.8h0m2.9-43.9h0m-13.8 35.5h0m-2 2.4h0m-1.3 2.8h0m-0.8 2.3h0m20.4-35.5h0m0.9-3.9h0m0.1-0.8h0m-7.1 28.5h0m-3-3.3h0m-3.1-2.2h0m20.3 13.4h0m-3.1-0.4h0m-12.9-63.5h0m1.3-2.8h0m-0.3-2.3h0m21.5-17.5h0m-1-0.5h0m-3.1 0.2h0m-14.6 46.5h0m-1.9-1.4h0m-3.4 1.1h0m-3.5-1.5h0m0.1 27.7h0m4.1 0.9h0m2.3-1.7h0m2.9 0.3h0m2.3 1.6h0m-28.9-24.6h0m-1.3-3.6h0m-1.2-1.3h0m-2.3-3.8h0m52.5-9.1h0m-26.4 41.9h0m2.4-1.6h0m3.3-2.4h0m-1.4 10.9h0m4.5-0.3h0m2.6-0.6h0m-10.9-30.5h0m3.2 2.8h0m-27.3-17h0m-10.6 21.5h0m1.5 1.7h0m17.6-27.5h0m2-2.7h0m4.2 0.8h0m2.7-2.7h0m2.8 1.2h0m4.2-2h0m5.6 34.9h0m-2-0.3h0m-4.1 0.2h0m-2.7 1.1h0m-39.4-5.9h0m0.3 4.3h0m0.3 3h0m54.5-34.8h0m0.9 2.4h0m0.5 3.4h0m-32.1 36.2h0m0.1-3.6h0m1.2-2h0m-0.1-2.6h0m1.6-5.3h0m0.6-1.9h0m21.2-28.4h0m2-4.6h0m1.3-0.2h0m3.4-3.6h0m8.9-6.4h0m3.6 2.1h0m3.6 0.5h0m-67.3 37.8h0m0.3-3.4h0m1.6-2.7h0m1.2-2.8h0m1.1-3.5h0m53.1-25.8h0m1.3 3.3h0m0.4 3.3h0m1.7 2.7h0m0.5 3.1h0m0.8 16.8h0m-23.5-26.8h0m0.2-1.5h0m4-2.9h0m1.9-1.5h0m-8.6 20.1h0m1.7 1.8h0m3.6 3.3h0m-11 40.5h0m-0.6 3.1h0m-1.8 2.8h0m0.2 4.3h0m-16.2-46.8h0m0.5 1.4h0m0 3.3h0m-0.4 3.8h0m0.9 3.4h0m14.9 35.3h0m12.8-39.9h0m1.5 5.6h0m-26.6-11.1h0m2.1-2.7h0m0.7-2.8h0m15.9 40h0m-1.7-3.7h0m-0.7-3.3h0m-0.4-2h0m20.4 22.8h0m-1.2-4.4h0m-1.4-2.5h0m-1.8 0.1h0m0.7 1.9h0m4.9 1.7h0m1.5 2.3h0m-29.6-45.9h0m-0.6 2.4h0m0 3.5h0m3.7-16.8h0m3.5-0.6h0m3.1-1.9h0m21.6-23.7h0m6.3 2.3h0m-1.6-3.1h0m-1.1-2.3h0m-25 9.6h0m2.1 4.6h0m-26.7 23.4h0m-2.3 2.2h0m-0.2 3.9h0m-14.4 7.2h0m3.7-1.2h0m55.8 17.4h0m4.4-1.3h0m-28.1-29.2h0m3.9 1h0m25.9-14.2h0m0.7 2.2h0m-0.8 3.1h0m-31.3 16.6h0m0.2 2.3h0m1.7 4.5h0m-15 11.9h0m-1.1-2.7h0m-0.7-3.7h0m-1.9-3.4h0m59.4 5.8h0m-0.1 2.6h0m-34-55.2h0m3.4 1.5h0m1.4 2.6h0m-9.9 54.7h0m2 0.9h0m3.2 2.4h0m1.5 0.2h0m4 1.7h0m-6.1-20.5h0m-4.3 0.8h0m-2.1 0.1h0m-2 1.8h0m24.1-43.4h0m1.2-2.1h0m-2.7 63.2h0m-0.8 2.2h0m-1 4.7h0m-1.3 1.7h0m-1.7-50.4h0m1.6-3.3h0m6.7-2.2h0m-3.5-2h0m-4.1-0.2h0m-1.9-1.8h0m-2.7-0.7h0m21.6 49h0m-2.3 1.6h0m9.4-44.6h0m2.3-2.8h0m-40.1 24h0m6.1 41h0m2.4-2.4h0m0.3-1.9h0m-21.7-44.5h0m-2-3.3h0m0-3.2h0m-3-3.5h0m-1.2 31.5h0m-3.4 0h0m-3.1-0.1h0m-2.1 0.3h0m34.8 6.2h0m1.6-3.5h0m-1.2-3.3h0m0.6-2.6h0m-33.9-12.6h0m-3.5 2.1h0m-3.1 2.7h0m-6 0.1h0m2.6 3.2h0m1.6 1.2h0m3.2 2.1h0m7.2 14.5h0m1.6 2.4h0m54.5-11.6h0m-0.4-3.5h0m-1.1-4h0m-1.4-1.6h0m-54.1-6.1h0m-1 3.6h0m-2.4 2.1h0m72-16.3h0m-0.9-2.2h0m-2.2-3.6h0m-32-28.5h0m1.4 3.2h0m0.9 1.9h0m-53.7 48.4h0m1-2.2h0m69.4 30.1h0m0.8-2.7h0m0.9-1.9h0m-0.4-4.4h0m-1.3-72.7h0m-1.7 3.3h0m-3.7 2.8h0m-4.2 8.9h0m-2 2h0m-2.2 1.4h0m-1.9 3.9h0m-3 0.3h0m-2.5 3.3h0m-18.7 18.8h0m0.3-2h0m-1.6-3.2h0m0.3-2.5h0m-6 25.1h0m1.9-0.9h0m3.6-4.3h0m-10.4 5.6h0m1.5 3.8h0m1 2.6h0m-11-20.9h0m2.6-2.3h0m8.3-12h0m-3.2-3.6h0m21.1-9.7h0m0 3.7h0m15 5.1h0m7.2 52.8h0m1.3-2.9h0m-32.6 4.2h0m35-3.2h0m-1.2 2.5h0m109.5 171.1h0m-3.1 2.2h0m-0.9 2.3h0m4.6-41.5h0m0.6 3.3h0m0.5 2.7h0m-4.4 3.6h0m0.5 3.3h0m0.7 3.1h0m-37.2-48.4h0m-0.8-3.1h0m-1.3 18.9h0m3.1 0h0m2.9 0.7h0m-21.3 4.9h0m0.4-2.7h0m-0.5-2.1h0m2.7 2.3h0m31.5-9.6h0m-1.3 2.8h0m0.3 3.3h0m-2.4 2.7h0m13.8 32.5h0m-2.2-0.4h0m-1.2-1.7h0m-3.5-2.8h0m-3.2-2.3h0m14.8-30h0m-2.4 3h0m-0.4 2.1h0m-3.3 3.2h0m-29.8 3h0m-1.8-3.6h0m0.9-3.9h0m-0.6-1.9h0m-0.1-3.5h0m46.2 40.3h0m-2.9 3.1h0m-1.4 0.3h0m-3.1 0.7h0m-23.5-27.6h0m2.9-2.7h0m3.9-0.4h0m-7.6-20.6h0m-2.8-2.3h0m-2.4-0.1h0m19.1 17.1h0m-2.7 0.7h0m-2.5 2h0m-3.2 1.8h0m-8.6-14.5h0m1 2.1h0m-18 13.1h0m-1.6-3.5h0m33.3-15.6h0m0.7 3.2h0m0.2 3.4h0m1 3.1h0m-0.8 2.9h0m-36.5-2.3h0m1.8 3.5h0m-0.6 3h0m-0.4 2.7h0m41.5-8.2h0m3.8-1.4h0m2.6 0.2h0m13.1 42.7h0m-4.3-1.9h0m5.4-12.5h0m-3.8-2.6h0m-2.3-0.9h0m-42.1-42.1h0m3.4-1.9h0m4.6 0.4h0m1.3-2.2h0m4-1.3h0m3 0.1h0m-1.7 55.8h0m1.3-2.2h0m3-2h0m12.9-41.9h0m-0.6 2.3h0m5.4 4.8h0m-2.4 1.3h0m-1.8 2.5h0m-22.6-17.5h0m2.8-2.6h0m1.1-1.7h0m5.7 27.1h0m7.3 21.7h0m1.2 2.7h0m1.5 2.8h0m2.2 4.4h0m-33.5-55.3h0m1.9-0.8h0m5.4 33.1h0m2.9 1.1h0m2.3 0h0m20.8 45.6h0m2.8-2.9h0m-1.2-3.2h0m0.7-3.8h0m0.5-2.2h0m2.4 14.8h0m1.1-3.3h0m1.6-2.1h0m1.7 1.4h0m-0.6-3.8h0m-3.2-2.7h0m-2.3-1h0m-18.7-15.3h0m160.8 83.7h0m22.9-8.1h0m-15.8 4.3h0m-2.2-1.5h0m-3.2-2.5h0m-2.4-1h0m3.7-17.2h0m2.3 1.8h0m-4.4-0.4h0m-2.1 4h0m-0.8 15.2h0m-0.5-0.9h0m-2.8-2h0m-1.6-2.8h0m-6.9 8.7h0m1.4-3.2h0m2.4-2.3h0m0.2-2.9h0m21.3-8.4h0m-1.7-2.4h0m-3.4-0.7h0m-1.1-3.5h0m2.4 5.8h0m2 1.7h0m1.9 1.8h0m2.8 2.5h0m2.7 2.1h0m-0.4-2.6h0m-2-2.9h0m-0.6-2h0m-3.9 1.1h0m-3-2h0m-2-1.7h0m12.5 16.7h0m2.2-2.9h0m-8 3.3h0m1.8 2.9h0m-3.2-24.7h0m1.9-1.8h0m-3.1 19.4h0m-11.4-8.1h0m2.5 1.4h0m2.9 3.5h0" stroke="#d9d9d9" stroke-width="4.8" stroke-linecap="round" fill="none"/>
<path d="M1199.2 199.2h0m46.7 17.4h0m-76-14.5h0m62.7-8h0m-26.4 49h0m34.4-13.2h0m-58.1-35.6h0m57.7-3.9h0m-16.6 47.6h0m-36.1-37.4h0m-13.1-3.4h0m166.1 59.5h0m-48-10.5h0m67.5 6.1h0m-11-40.3h0m-39.5 16.4h0m-0.9 8.2h0m-12.7-17h0m2.6-5.7h0m1.2 4.3h0m0 6.8h0m8-2.3h0m3.6 3.5h0m3.5-2.6h0m1.3-8.4h0m1.7 1.4h0m5.2 4.7h0m1-1.3h0m2.4 3.1h0m3.6-3h0m3.7 3.5h0m6.7 5.4h0m-0.3 3.7h0m26.8-1.4h0m-4.3 6.9h0m1.1-15.5h0m17.3 10.8h0m-19-16.5h0m9.8 10.9h0m0.2 21h0m132.8 12.2h0m13 9.8h0m-50.7-7.6h0m21-9.5h0m21.7-4h0m-14.8 13.6h0m-10.3-6.6h0m19.9 84.1h0m-11.2-7.7h0m0.5 10.7h0m0.7-5.2h0m0.8-0.4h0m11 3.6h0m-2.3 0h0m-4.3-4.7h0m-102-1.7h0m21.3-9.7h0m-38.7 52.5h0m12.6-17.5h0m7.2-4.9h0m27-20.4h0m-6 45.4h0m5.9-6.7h0m7.7-31.1h0m-95.1-0.1h0m62.7-10.3h0m16.5-9.3h0m-72.6 27.2h0m76.9 5.1h0m-192.4 38.7h0m-188.4 43.6h0m156.2 119h0m21.6-67.9h0m-39.1 51.1h0m-6.9 31.6h0m-13.1-31.9h0m143.8-73.8h0m-263.2 9.1h0m46.1 8.3h0m9.5 96.4h0m-34.4-63.9h0m224.9-194.8h0m8.1 127.8h0m-89.4 56h0m11.1-57.6h0m-6.9 10.2h0m-100.9 31.1h0m181.2-131.1h0m-169.5 91h0m111.6-7.2h0m73.4 24.9h0m-42.8 33.6h0m-187.5 63h0m155.4-52.8h0m-188.6-17.4h0m124.5-99.6h0m65.4-40.7h0m-128.2 123.4h0m42.6 32.2h0m72.2-145h0m83.2 85.1h0m-47.2-51.7h0m-140 59.1h0m163.9-98.7h0m-64 149.1h0m-168.4-12.2h0m10.5-53.4h0m41.6 91.1h0m-63.6-79.2h0m105.8-104.7h0m10.9-82.1h0m93.1 58.3h0m-7.7 167.3h0m-218.9 66.4h0m284.5-115.9h0m-87.3-80.2h0m-52.5 115.4h0m-44.6-59.7h0m19.8 60.2h0m83.8 46.2h0m12.5-64.9h0m58.9 33.2h0m-41.5-103h0m-5.2 12.1h0m-15.7-27.6h0m6.8 160.6h0m-26.9 12.5h0m-141.9 2.2h0m129.7-160.3h0m62.4 123.9h0m-106.2-158.5h0m-28.3 32.6h0m60.3 22.4h0m12.4 8.1h0m-82.8 36.2h0m340.7 68.4h0m126.5-79.1h0m-2.7 4.5h0m-119.3 52.9h0m109.6-68h0m-164.4 45.1h0m241.8-0.6h0m-24.4 51.6h0m-109.6-119.4h0m145.2 52.3h0m-247.1 18.1h0m48.3 20.9h0m-61.2-19.2h0m199.5 33.8h0m-181.9-68.4h0m93.5-17.8h0m115.2 59.7h0m-35.2 43.9h0m-218.8-21.6h0m171.8-14.4h0m-96 67.5h0m53.6-110.6h0m-64.5 48.5h0m111.9-55.4h0m-2.4 23.7h0m40.3 39.4h0m-82.1-63.3h0m-51.3 26.3h0m190.5 23.3h0m-204.1-54.2h0m116.3-1.1h0m-166.8 26.6h0m48 37h0m-52.1 34.3h0m145.2-97.2h0m96.8 9.7h0m-261.1-5h0m165.2 37h0m-47.3-9h0m-124.9-8.4h0m-53.8 122.4h0m50.4 78.9h0m-57.1-26.8h0m58-61.5h0m0.7 48.9h0m8.3-59.1h0m-57.2 101.5h0m-10-89.7h0m31.8 3.1h0m27.9 66.8h0m6-53.2h0m-10.5 11.7h0m-43 43.2h0m62.5 0.3h0m-36.7-15.8h0m0.5-3.3h0m30.5-73.7h0m-48 88.4h0m-0.4-43.1h0m10.5 45.8h0m-6-58.8h0m-4.7 26.2h0m-64.8 11.5h0m-2.8 61.5h0m7.3 11.2h0m-9-21.6h0m90.2 19.7h0m-12.1 60.3h0m-20.4-53.3h0m-0.5 35.5h0m-37.4 2.3h0m67.2-45.4h0m-49.7-13.3h0m79.6 32.7h0m-0.2-3.1h0m7.5-7.2h0m126.9-125.6h0m71 0.9h0m-4.7-6.5h0m-28.8 1.1h0m12 20.4h0m24.4-16.7h0m-4.3 18h0m-10.4-3h0m-73.6 7.3h0m-72.2 67.6h0m41.6-53.7h0m-17.7 31.7h0m44.7-14.5h0m100.9 41.2h0m-711.2-211.2h0m28.4 30h0m32-8.6h0m-24.1-53.3h0m-31.8 37.4h0m6.3-8.2h0m-11.5 6.1h0m4.3-5.8h0m2.2-6.9h0m0.4-2.8h0m4.7 1.5h0m3.1-3.3h0m2.4-3.6h0m15.5 8.1h0m3.3-1.8h0m-55 30.6h0m2.7-1.2h0m2.8 2.3h0m1.5-0.8h0m1.8 2.8h0m22.4 14.1h0m-0.9 3.8h0m3.7-0.1h0m144.3 146.2h0m-43-15.5h0m22.4-22.3h0m26.3 48.4h0m-31.2-18h0m30.6 35.6h0m-47.4-48.7h0m168.4 115.5h0m19-28.2h0m-10.4 15.1h0m-5.1-5.6h0m31.2 9.5h0" stroke="#e6550d" stroke-width="4.8" stroke-linecap="round" fill="none"/>
<path d="M1248 203.4h0m-86.8-3.8h0m90.6 19.6h0m-86.9-9.7h0m54.9 28.5h0m31.5-13h0m-28.2-19.8h0m-2.7 17.5h0m-14.6-22.1h0m-35 10.2h0m12.5-4.5h0m47.1-9.6h0m-75.2 2.9h0m15 15.7h0m9-7.3h0m62.3 25.2h0m104.7-20.2h0m-45.5 3.3h0m23.8 30.9h0m-7.2-37h0m9.5 10.2h0m6.9 47.3h0m18.6-3.1h0m-42.9-8.9h0m37.2-22.2h0m-66.8-2.7h0m57.7 12.3h0m-57.7-27.8h0m30.3 24.9h0m-34.7-13.6h0m9.7-13.4h0m87.8 27h0m-82.7-23h0m2.5-0.7h0m1.7 2.6h0m7.8 0.4h0m3 0.3h0m3.3-4.4h0m10.4 11.1h0m7.1-0.9h0m5.4-3.2h0m2.7 4.6h0m-0.4 2.1h0m3.1 1.7h0m5.8 2h0m1.4 0.8h0m14-19.6h0m3.4 13.7h0m21.3 10h0m-10.2-17.9h0m5.6-2.9h0m-6.2 10.2h0m-3.4-0.7h0m5.1 14.4h0m7 11.9h0m-2-2.1h0m9.2-14.9h0m-11.5 4.2h0m-14.8-14.8h0m7.2-3.5h0m-10-4.4h0m27.6 15.5h0m-17.2 11h0m9-17.1h0m0.5-11.8h0m-1.1 18.2h0m1.9 20.9h0m-4.7-3.1h0m-6.7-9h0m7.8-29.2h0m3.3 25.3h0m4.1-7.6h0m-165.6-51.8h0m2 1.1h0m2.6-0.7h0m254.7 79h0m48.8-3.8h0m-18 4.7h0m9.8 7.9h0m-29.3-1.6h0m18.1-5.5h0m-25.8 8.6h0m35.7-6.5h0m-17.7-1.4h0m-10.9-2h0m6 7.2h0m-10.1-13.1h0m7.3-2.9h0m-6.8 17.8h0m25.5-1.1h0m-2.3-18.4h0m2.4 23.4h0m-33.5-5.1h0m42.9-10.6h0m-4.2-6.7h0m-24.8 12.9h0m-6.6-1h0m12.9 2.7h0m25.2 7.7h0m-45.6-3.8h0m34.2-3.1h0m-6.6 80.3h0m3-5.5h0m-12.3-5.4h0m2 9.8h0m4.2-7.3h0m0.7 9.1h0m-1.3-4.2h0m6.3-1.6h0m0.4 2.9h0m-1.9-5.5h0m1.3 6.1h0m-7.6-1.1h0m7 0.4h0m-72.9-11.4h0m-43.7 15.9h0m-19.5 27.9h0m33.2-30.3h0m-67.3 14.8h0m61.9-10.1h0m41.2 15.1h0m-80.7-27.2h0m41.3 57.2h0m8.5-46.1h0m-31.6 46.5h0m-26.9-29.5h0m96.4-21h0m-56.9 11.6h0m25.9 19.3h0m28.4-20.8h0m-61.3-16.1h0m-23.5 0.1h0m13 12.2h0m41.4 20.6h0m-42.9-45.8h0m-16.4 52.9h0m-6.1-3.6h0m32.5 9.1h0m47.9-45h0m-68.9-5h0m4 48.2h0m52.7-43.3h0m0.4 22.5h0m19.6 7.2h0m-21.5-33.2h0m-28 26.8h0m16.6 24.5h0m19.6-40.5h0m-92.1 0.5h0m89.3 29.5h0m-31.2 24.3h0m-18.8-6.3h0m16.8-45.1h0m11.7 1.4h0m-48.4-6.1h0m84.6-15h0m-88.7 51.1h0m6.6-4.4h0m13 19h0m79.3-64.3h0m-43.4-9h0m-56.7 46.2h0m96-43.8h0m-102.2 19.7h0m-73.4-29h0m-46.8 34h0m-165 169.5h0m124.9-155.4h0m83.3-17.3h0m-117.2 176.9h0m39.8-48.8h0m45.5-109.1h0m-65.1-6.5h0m-14.8 201.9h0m42.5-89.6h0m80.9-46.1h0m-214.1 0.2h0m40.9 150.4h0m89.9-20.3h0m-31-123.6h0m127.4-116h0m-136.8 234h0m-33.7-52.9h0m154.7 17.5h0m-82.5-167.2h0m12 157.4h0m86.2-31.8h0m-148.9 58.8h0m87.9-170.9h0m-160.9 61.4h0m164.9 44.4h0m-67.2 50.8h0m-124.5 42.8h0m185.3-190.6h0m-47.2-104.1h0m79.9 123.2h0m-10.8-62.8h0m-80.5 235.6h0m34.7-147.6h0m-9 140.6h0m-27.4-197h0m-119.1 93.7h0m70.1 115.2h0m26.8-37.3h0m107-231h0m-85.3 31.2h0m-69.2 179h0m47.3-105.2h0m3.2 92.3h0m36.2-39.7h0m117.4 35.3h0m-49 1.1h0m37.7-66.6h0m-140.9 126.5h0m87.1-253.6h0m-49.8 58.8h0m-10.9-76.6h0m7.7 127.5h0m-150.5 94.4h0m245.4-186.2h0m-230.2 179.7h0m222.2-21.2h0m-28-87.5h0m-8.7 84h0m42.9-157h0m-51.6 216.8h0m-83.3-87.8h0m133.9 39.7h0m-172.6 103.4h0m-54.7-57.4h0m146.2-81.2h0m37.1 80h0m-108.7-108.2h0m-24.7 107.3h0m104.5-155.4h0m-146.3 185.6h0m78.7-148.7h0m91.7 100h0m-120 10.2h0m-66.7-47.6h0m33.7-9.1h0m150.7 39.4h0m24.9-29.5h0m-71.6 84.6h0m-43.3-179.1h0m122.1-28.5h0m-118.2 80.3h0m-31.1 134.3h0m147-86.3h0m-230.3 72.2h0m24.6-96.8h0m191.1-158.8h0m-111.7 177.9h0m84.2-13.5h0m-18.1-110.3h0m17.6-35.1h0m1.9 39.6h0m-58-6.8h0m37-35.8h0m105.4 44h0m-163.4 227.4h0m132.3-111.5h0m-55.2-198.4h0m-104.5 134.2h0m143-42.4h0m-102 86.5h0m-68.1 76.8h0m204.9-141.4h0m-91.6 167.2h0m4.5-282.2h0m59.7 125.9h0m-173 96.5h0m140.2-180.8h0m-140.7 150.5h0m98.8-36.8h0m-95.5-0.6h0m30.2-6.3h0m-30.7 132.2h0m8.2 27.9h0m82.9-243.6h0m57.6 51.5h0m6.5 57.4h0m-189.2 111.4h0m210.4-156.9h0m-208.3 65.8h0m132.6 40.4h0m18.7 40.3h0m56.8-209.6h0m-172.6 217.6h0m191.9-76h0m5-148.3h0m-89.8 127.1h0m80.1-134h0m-124.9 72.2h0m-57 77.2h0m210.2-32.6h0m-95.2-125.4h0m-121.7 226.7h0m-46.8-70.5h0m198.7 35.5h0m-47 2.3h0m76.6-31.5h0m28.3-29.8h0m-91.4 23.4h0m16-8.5h0m-44.3-99.4h0m-67.9 203.7h0m119.3-86.4h0m-107.4-53.3h0m95.6 46.2h0m-124.7-6.8h0m-36.7 111.9h0m115-235.1h0m-41.2 187.5h0m123.1-100.4h0m49.9 59.4h0m-55.1-31.4h0m-149.3 80.4h0m135-41.5h0m-37.5 31.1h0m-9.1 26.3h0m66.5-82.8h0m-133.2-38.2h0m58.5 32h0m4.7-168.9h0m24.2 203.9h0m-49.3-157.7h0m-33.8 203.1h0m-50-8.6h0m110.8-12.3h0m-126.7-81.7h0m69.3-32.1h0m20.6 48.9h0m32.6 61.8h0m-93.2 22.1h0m20.9-127.3h0m149.4-10.4h0m-158 35.8h0m80.5-81.6h0m21.8 147.9h0m-21.2-180.9h0m72.1 13.8h0m-60.1 180.4h0m88.6-155.9h0m-35.9 103.2h0m-144.5 65.7h0m137.6-161.4h0m-90.7 162.3h0m-7.8-34.6h0m112.8-16.6h0m-46.6-222.2h0m101.1 180.1h0m-146.9-167.5h0m19 109.8h0m-40.1 127.5h0m-19.5-90.9h0m116.2-124.4h0m-157.5 171.8h0m47.6-17h0m12-78.1h0m-17.8 213.4h0m15.6-174.1h0m-23.8 44.3h0m189-42.7h0m-257.1 112.8h0m51-16.7h0m57.6-170.7h0m23.4 66.6h0m115.3 57.6h0m-151.6 123.3h0m63.3-247.1h0m61.9-15.5h0m-70.8 134.9h0m-37.8-22.4h0m110-43.2h0m-125.5 137.7h0m64.7-50.8h0m67.7-135.7h0m-69.4-34.4h0m-12.7 150.6h0m-42.3-63.5h0m57.6 31.6h0m-104.3 50.1h0m186.6-26.4h0m-39.5-131.8h0m56.2 137.7h0m-77.6-8.6h0m-96.8-2.1h0m87.8-139.8h0m-126.5 155.2h0m170 45.2h0m13.9 1.9h0m-89.4 3.3h0m4.2-67.3h0m63.8-96.8h0m3.4 76.5h0m25.1-61.1h0m-32.7 54.6h0m-24.9-94.7h0m-8.3 181h0m-18.9-162.7h0m-59.3 118.1h0m18.7-35.5h0m65-31.9h0m-61.5 2.8h0m66.5-19.2h0m-133.1 144.2h0m46.2-23.9h0m59.1-66.8h0m55.8-81.1h0m-151.4 103.7h0m138.6-43.3h0m-27.3-44.7h0m-186.8 145.7h0m19.5 48.1h0m155.1-296h0m-22.8 24.6h0m4.8 223.6h0m26.8-166.5h0m-50.9 204.8h0m25.4-101.6h0m-94.3 15h0m39-64.8h0m39.2 186.6h0m53.7-255.6h0m12.7 75.7h0m-14.9-19.5h0m-20.5-112.8h0m-157.8 223.6h0m79.2-93.3h0m154.2 19.5h0m-27.8 72.7h0m-135.3-25.9h0m45.7 12.5h0m-26.3 61h0m148.1-212.7h0m-25.9 122.7h0m-107.1-30.6h0m44-38.3h0m-27.1-11.7h0m-12.6 180.7h0m49.8-155.4h0m-142.6 89.5h0m157.8-97.1h0m438.6 83.5h0m3.4 13.9h0m-212.3 43.1h0m124.7-64.7h0m-45.8 63.5h0m60-87.6h0m-88.9 99.9h0m-43.4 13.4h0m-93.1-57h0m288.1-13.9h0m-290.7 9.8h0m-17.9-15.8h0m133.3 45.4h0m145-10.5h0m-182.8-32.1h0m-15.9-27.8h0m207.5 63.3h0m-251.1 23.1h0m197.3-29.4h0m-81.5 33.4h0m-37.4-37.7h0m138.4-74.7h0m11.5 49.6h0m-250.2-25.4h0m255.4 13.3h0m-208.9-5.4h0m198.9 24.4h0m-35.9-55.3h0m-104.4 26.3h0m45.6 12.7h0m51.3-17.8h0m-147.8 56.2h0m-15.1 31h0m166.3-83h0m-146.9 83h0m77.5-28.9h0m-4.6 17.2h0m-134-68.1h0m81 15.5h0m27.1 64.2h0m164.6-72.4h0m-283.1 5.4h0m313.2-48.8h0m-308.8 37h0m253.6-1h0m-204.8 87.7h0m45.1-6.5h0m42.4-117.7h0m-94.5 121h0m70.3-7.5h0m128.3-62.9h0m68.1 1.2h0m-30.9-31.1h0m-132.3 60.5h0m-67.8 14.1h0m147-11.6h0m-68.2-75.4h0m-127.6 62.8h0m8.5 8.8h0m265.3-71.1h0m-209.1 107.9h0m78.5-49.1h0m70.8 3.2h0m-175.9-50h0m189 23.7h0m-242-3.7h0m25.6 23.5h0m-41.2 17h0m159.2-70.3h0m-150.1 58.4h0m262.1 7.5h0m-188.2 67h0m-75.7-99.8h0m-3.1 40.6h0m145.5-79.6h0m71.6 4.7h0m73.2 59.5h0m-306-1.6h0m268.4 4.1h0m-251.4-46.2h0m308 16.7h0m-268.6 73.3h0m262.9-107.8h0m-264.2 50.4h0m-52.2-9.2h0m57.9 52.5h0m120.8-59h0m65 3.9h0m-10.9-36h0m-54.5 45.5h0m-106.5 70.1h0m228.5-42.9h0m-101.8-90.6h0m-56.3 71.2h0m22-48.4h0m-99.2 79.7h0m205.6-54.9h0m-29.5 26h0m77.7 0h0m-189.1-32.6h0m21.6 58.1h0m133.1-62.5h0m-94.9-19.9h0m2.1 45.3h0m-53.4 42.6h0m-136.4-5.2h0m157.4-22.9h0m144.5-63.7h0m-122.6-8.4h0m-116.6 73.9h0m73.3 24.4h0m38.3-103.1h0m26.7 51h0m-84.3 75.2h0m116.1-54.6h0m31.8 38.7h0m31.8-71h0m-50.4 44h0m-177.3-45.1h0m122.1-22.6h0m1.2 33.3h0m-91.9 12.9h0m-37.2 0.7h0m254.4-1.5h0m-27.5 41.4h0m-227.3-35.8h0m-6.7-8.3h0m-25.2 53.3h0m14.9 9.6h0m69.2 0.8h0m78.1-91.1h0m132.9 6.5h0m-277.7 93.9h0m232.6-69.5h0m-20.2-18.1h0m-131.7 24h0m-25.5-3.6h0m98.3 39.6h0m-32.6 19.6h0m-109.6-34.5h0m239.5-44.5h0m11-37.9h0m-290.4 33h0m112.3 81.5h0m143.4-80.3h0m8.7 62.6h0m-190.9-52.9h0m-84.7-0.9h0m139.9 23.9h0m-27.7-34.7h0m1.6 77.2h0m-111.8-28.4h0m282.6-21.2h0m-242.8 21.2h0m69.4 39.3h0m174.8-64h0m-248.9-0.4h0m142.9 56.5h0m71.8-79.3h0m59.5 31h0m-51.2-28.6h0m-245.2 43.7h0m136.3 44.4h0m-27.6 13.8h0m93-108.6h0m-123.9 64.7h0m16.9 10h0m-16.4 7.9h0m-41.4-88.7h0m145.9 53h0m-174 26.7h0m60.7 26h0m-45.9-98.7h0m73.1 39.5h0m9.9-36.3h0m42.4 74.2h0m139.1-11.4h0m-322.2 130.7h0m70.5-52h0m-17.9-17.7h0m-88.4 54h0m29.8-26.5h0m8.5 26.1h0m-15.6-44.9h0m55.6 20.9h0m-7-2.7h0m15.3-21.5h0m-9.3 69h0m-53.7-52.1h0m20.4-31.5h0m38.4 61h0m-7.4 32h0m-6.2-2.1h0m-48.3-1.1h0m-5.9-69.9h0m6.9-1.5h0m-5.8-12.3h0m25.1 77.6h0m-21.6-48.2h0m26.3-23.3h0m55.7 18.5h0m-25.5-23.6h0m-63.8-5.4h0m70.9 2.9h0m-7.3-15.9h0m-48 11.7h0m56.6 20h0m-71.6-10.1h0m27.4 51.9h0m41.6 11.7h0m-41-42.6h0m37 17.8h0m11.5-49.6h0m6.9 7.1h0m-14.7 71.2h0m4.4-43.7h0m-59.4-15.5h0m35.5-14.4h0m9.2-0.8h0m-49.9 17.3h0m-4.8 64.2h0m-4.8-48.2h0m58.8-5.9h0m14.3 25.2h0m17.4-21.9h0m-16.8-46.9h0m-68 55.9h0m89.4-18.5h0m-79.1 20.6h0m-56.4 11.1h0m2.9 5.5h0m-22.3-8.3h0m10 5.3h0m13.1 25.6h0m-23.4-3.2h0m11.1 39.6h0m70.1 65.7h0m-4.1-44.4h0m-0.2 3.7h0m13.8 47.6h0m-32.1-3.7h0m-22.9-12.7h0m44.1-52.9h0m2.9 79.8h0m-18.4-41.1h0m33.2-14.3h0m-61 11.1h0m55.2-3.4h0m4.2-7.1h0m-54.2 27.5h0m59.2-14.7h0m-16.6 22.6h0m1.5-25.5h0m-6.2 32.1h0m-5-25.2h0m25.9 17.7h0m-69.2-14h0m38.9-41.1h0m14.5-4.7h0m18.4 51.7h0m14.5 6.8h0m-79.2-32.7h0m77.6 21.5h0m-61.1-9.5h0m-14.5 19.5h0m31.9 16.3h0m-22.2-66.7h0m84.8 10.6h0m2.2-2h0m179.4-120.4h0m-43.8 8.1h0m31.8-12.5h0m-17.5-3h0m18.4 7.8h0m-1.7 0.2h0m-4.9 2.9h0m10.8-12.4h0m2.2 11.9h0m-14.9-5.9h0m6.9 15.6h0m-54.8-9.4h0m53.7-13.1h0m-29.5 18.5h0m16.7-15.2h0m-21.5 12.9h0m64.4-13.5h0m9.9 12h0m-102 30.3h0m-3.6 37.9h0m-29.8 14.4h0m4-46.7h0m5.8-5.6h0m-15.2 42.3h0m36.3 15.7h0m-16.6-19.3h0m23.6 10.6h0m-25.2-6.8h0m-0.5-43h0m-18.6 59.1h0m13.5-61.1h0m13.5 77.9h0m-38.6-23.1h0m26.5-22.4h0m32.3-2.8h0m-71.5 23.4h0m43.5 11.7h0m-14.7-47.3h0m-27.3 26.7h0m57.7 21.6h0m4.5-27.2h0m-57.6 27.6h0m21.1 2h0m-28-5.7h0m44.3 19.9h0m-1.4-18.5h0m27.1-11.1h0m-29.9-23h0m-9 42.4h0m125-37.1h0m-12.2 18h0m3.8-4.1h0m21.9 11.8h0m1.7-24h0m-44.1 39.7h0m35.4-11.8h0m-17.4 2.3h0m29.3 3.4h0m-27.2 13.2h0m-0.4-60.2h0m-11.8 30h0m22.5 8.5h0m28.4 5.2h0m-36-28h0m26.5-0.8h0m-21.3-7.1h0m-29.6 33.4h0m51.6-1h0m-46.5-19.6h0m5.9 3.6h0m-2.7 2.8h0m34.1 12.6h0m-4.3-29.3h0m5.7 51h0m-0.1-41.7h0m12.3 40.2h0m-38-58.6h0m3.8 4.8h0m20 50.5h0m-21.5-12.7h0m-8.1-24.9h0m44.6 31.7h0m5.1-20.8h0m-690.9-214.2h0m-9.8 9.9h0m-39.4 7.1h0m47.7-16.4h0m-22.3 11h0m25-8.4h0m-2.2-3.8h0m5.3 39.4h0m-15.6-38.5h0m-28.8 17.1h0m62.9 14.6h0m-58.8-22.2h0m1.1-3.5h0m9.9-12.1h0m1.6-5.2h0m3.9-0.1h0m3.5 0.6h0m6.3 2.8h0m2.4-0.1h0m-0.2 3h0m7.9 0.1h0m4.2 1.7h0m0.4 5.4h0m-19.4 53.2h0m4.8-1.3h0m-9-2.9h0m22.1-1.7h0m-9.7-4.4h0m-12.1 9.8h0m-3.2-2.5h0m33.2-2.8h0m-34.5 2.9h0m23.2-1.8h0m-0.8-1.3h0m-11.1 0.1h0m20.1-1.7h0m-14-1h0m9.5 4.9h0m0.6 1h0m5.8-3.3h0m-8.2-4.7h0m-4.9 4.8h0m4-3.4h0m0.4-1.2h0m4.4 5h0m-16.8 1.6h0m5.2 4.7h0m7.2-9.7h0m-21.1 3.1h0m8.8-0.9h0m3.1 1.2h0m12-4.8h0m-16.9 3.9h0m5 7.1h0m-15-7.4h0m33.5-0.4h0m-28.4 3.8h0m26.6-2.5h0m-30.6-0.9h0m-9.3-7h0m143.6 143.3h0m9.8 2.5h0m-31.9-32.5h0m32 42h0m-13.8-13.7h0m-29.8-14.6h0m19.8 40.4h0m21.3 17.2h0m-1.8-53.9h0m-54.7 3.7h0m31-0.9h0m17.4 52.3h0m145.1 59.7h0m-11.6 0.5h0m11.9-19.2h0m-22.8 19.2h0m17.7-14.7h0m9 2.7h0m-24.6 10.5h0m40.7-25.9h0m6.6 10.6h0m-30.9 18.3h0m0.1 1.2h0m12.8-15.6h0m-0.9 11.8h0" stroke="#3182bd" stroke-width="4.8" stroke-linecap="round" fill="none"/>
<path d="M107.9 1069.5h0m-2.9-2.5h0m64.2 58.6h0m-2.6 0.2h0m-4 0.9h0m39.7-110.6h0m-4.8 1.3h0m-2.5-1.3h0m-2.5 2.2h0m16.6-0.3h0m-4.1-1.2h0m-1.2 0h0m5.2-24.6h0m3.6-0.6h0m2.6-1.2h0m3.9-2.1h0m-159.9 108.7h0m-2.4 4.1h0m-2.2 2.9h0m90.5-20.3h0m3.6-2.4h0m1.3-2.5h0m24.2-32.7h0m9.2 25.9h0m-2.9-1.7h0m-2.8-2.7h0m-3.8-1.4h0m-63-14.7h0m-3.2-1.8h0m33.6 70.5h0m0-3.2h0m-0.4-3.5h0m-0.9-3.9h0m125.8-125.9h0m-1 4.2h0m-1.4 3.6h0m-1.9 2.4h0m-127.6-15.2h0m-1 2.6h0m-84.8 164h0m74.4-117.3h0m-2-0.8h0m-4.5-1.5h0m-27.7-7.2h0m117 6.8h0m-5.1-0.7h0m65-61.1h0m-1.4 2.9h0m-135.3 55.3h0m-3.3-1h0m13.4-52.4h0m1.2 3.2h0m1.8 2.6h0m81.6 63.4h0m0.5 3.7h0m-115.9 5.1h0m2.3 2.3h0m2 3.2h0m126.5-83.2h0m2.5-1.6h0m3.2-2.4h0m3 0.4h0m-140.6 32.3h0m-0.4-3.3h0m0.2-4.6h0m130.1 1.6h0m-2.1-2.1h0m-58.1 54.4h0m0.8 3.2h0m-51.2 49.2h0m-3.3 2.6h0m-3.2 1.8h0m-3.1 2.5h0m84.8-50.3h0m-2.2-1h0m-2.7-0.8h0m-89.7-60h0m-0.2 2.2h0m-0.8 4.3h0m31.4 73.8h0m-1.4 2.3h0m47.9-94.7h0m92.2 2.4h0m0.2-4h0m0.1-2.7h0m-93.6 5.7h0m4.5 10.9h0m1.5 2.7h0m0.8 94.1h0m-3.4-0.4h0m-68.8-52.7h0m-2.2-0.4h0m-3.9 0.2h0m38.4 75.7h0m1-2h0m36.9-110.9h0m1.1-0.3h0m27.4 24.4h0m4-2.7h0m0.4-2.6h0m-122.3 52.9h0m-1.9-1.7h0m-2.6-3.1h0m-2-2.5h0m-7.9 72.3h0m-4.2-0.7h0m-1.8-3.4h0m89.3-155.8h0m1.5 2.2h0m0.3 3.7h0m-27.3 16.6h0m2-1.6h0m4-1.9h0m2.7-1.4h0m-52.1-0.8h0m62.9 53.7h0m0-3.2h0m-1.9-3.2h0m45.4-6.4h0m0.4-2.7h0m-1.7-3.9h0m-67.1-43.7h0m-1.9-2.9h0m-1.5-3.1h0m-1.2-3.4h0m25.9 146h0m4.8 1.5h0m2.8 0.7h0m3.4-0.3h0m1.7 1.3h0m-33-82.8h0m-48.6 63.4h0m71.1 35.6h0m54.1-128.2h0m-2.2-2.1h0m-2.2-4.1h0m-147.1 118.5h0m1.3 1.8h0m2.5 3.5h0m139.1-75.7h0m-4-3h0m-2.2-1.4h0m-2.5-2.4h0m12 33.8h0m1.7 1.8h0m-128.1 65.4h0m3.7-0.5h0m31.4-3.7h0m-0.2 2.5h0m2.1 2.7h0m0.9 4.4h0m-4.5-174.4h0m3.3 2.6h0m21.6 7.2h0m-1.4 3.9h0m23.3 142h0m0.5 2.7h0m-12.8-111.2h0m3.5 2.2h0m3.2 0.2h0m47.7 61.9h0m1.3 1.6h0m-0.7 4.5h0m0.5 2.6h0m-42.6-4.6h0m9.9-101.2h0m2.4-0.6h0m3.9 1.2h0m-2.4 50.4h0m2.1-1.3h0m-13.6-29.4h0m3.5 3.5h0m-75.9 128.7h0m24.7 3.5h0m-2.1 2.5h0m-3 1.9h0m178.2-185.8h0m0.5 3.5h0m0 4.3h0m-83.8 6.4h0m2.2 4.1h0m1 1.4h0m1.2 3.7h0m-79.6 153.9h0m3 0.2h0m89.5-117.4h0m-0.9-4.2h0m0.6-2.6h0m-135.5 137.4h0m3.1-2.7h0m173.7-164.6h0m0.8-4.2h0m0.7-3.6h0m1.3-3.3h0m1.4-3.2h0m-150.8 176.5h0m-1.4 3.6h0m0.7 2.5h0m36.5-70.6h0m1.5-4h0m3.2-1.4h0m-3.4 59.2h0m-1-3.4h0m0.2-4.2h0m-1.2-2.2h0m-33.5-114.2h0m2.7 0h0m2.1-2.4h0m3.8-2h0m-13.9-12.4h0m1.7-2.9h0m1.8-2.6h0m57.5 51.2h0m-14.1 0.9h0m1.3-2.2h0m3.6-1.3h0m4.2-2.1h0m17.5-63.3h0m1.3-2.6h0m1.7-2.6h0m-6 102.7h0m-2.2 3.6h0m-2.5 3.3h0m-1.4 2.2h0m-2.1 2.9h0m-26.3-88.1h0m-2.8 1.5h0m-3.9-0.3h0m73.7 23.3h0m2.5 2.4h0m2.2 0.6h0m-44.1 51.2h0m2.5 0.5h0m37.7-73.2h0m0.5-3h0m-85.2 105.1h0m-3.8-0.6h0m-13 34h0m4.3-2.3h0m13.2-81.2h0m-1.2-3.1h0m-47.1-19.5h0m2.4 3h0m78.9-43h0m2.1-1.6h0m3.7-1.7h0m2.7-2.5h0m12.8 69.2h0m0.6 0.2h0m0.9 3.6h0m-61.5 45h0m-1.2 3.9h0m-1.1 2.4h0m60.8-39.9h0m-2.7 3.1h0m-1.7 0.8h0m-45.6-110.4h0m100.1 21.4h0m-2.4 0.4h0m-3.7-1.5h0m-30.4 20.2h0m-1 2.9h0m-127.3 107.6h0m-3 3.2h0m37.9-77.7h0m-3.5-0.6h0m-2.8-1.4h0m79.6-3.2h0m-1.1 3.6h0m-2.8 1.9h0m-0.4 3.6h0m0.9 5.7h0m-4.2 0.8h0m-4.2 2.9h0m-1.9-42.5h0m-1.6 2.6h0m-1.2 3.4h0m13.9 92.6h0m-25.4-9.6h0m82.1-96.7h0m-3 2.9h0m-38.6 67.5h0m-0.4 3.2h0m0.1 3.1h0m-138.7 28.4h0m0.4-3h0m-0.1-3.7h0m114.7-70.4h0m-3.6-0.9h0m-78.1 106.6h0m5.1-0.5h0m3.1-1.4h0m58.2-158.8h0m-0.8 4.4h0m3.4 3h0m-1.9 4.2h0m-93.2 149.2h0m4-1.6h0m2.2-1.7h0m49.3-8.8h0m3.1 0.2h0m-64.6 14.8h0m4-1.7h0m87.9-111.5h0m-1.7-2.6h0m-12.3-39.4h0m-1.8 3.5h0m31.3 121.8h0m-4.2 0.2h0m-2.5-0.2h0m-3.8 0.9h0m14.6-53.6h0m96.2-59.4h0m1.6-4.5h0m0.5-2.3h0m1.5-2.6h0m0.2-5h0m-87.3-15.6h0m2.6 1.9h0m3.4 2h0m-87.6 130.2h0m1-2.7h0m-0.1-3.5h0m-21.3 32.9h0m20-137h0m3.2-2.7h0m3-2.6h0m3.9-0.3h0m86.5 44h0m1.2 2h0m1.5 3.4h0m-0.1 3.7h0m-28.4 80.5h0m1.7 4h0m59.2-127.3h0m-3.4-0.8h0m-32.5 23.6h0m-2.8-1.8h0m-1.1-3.6h0m-2.5-2.9h0m-0.8-2.9h0m-52.7 54.6h0m3.5 0.3h0m69.4-91h0m-0.4-5h0m-127.3 76.7h0m2-3.6h0m40.6-62.9h0m20.1 160.4h0m2.9-4.1h0m2.2-2.1h0m-11.3-72.7h0m68.8-54.5h0m-1.9-3.9h0m-1.8-2.2h0m-114.2 126h0m16-34.5h0m-4.5-1h0m-3.1-2.9h0m78.9-73.8h0m2.9 1.2h0m36.2-18.6h0m-2 3h0m1.4 76.2h0m-15.5-55.9h0m-1.7-1.5h0m-20.1-26.5h0m2.1-1.7h0m1.9-2.6h0m-52 135h0m-24.4-14.1h0m3.2 3.4h0m2.3 1h0m1.8 3.7h0m-8.3 7h0m1.4-3.3h0m-1.7-4.1h0m-44.2-15h0m103.6-127.1h0m-49.7 160.4h0m2.5 2h0m3.2 1h0m103.2-69.6h0m3.4 2.6h0m-111-86.4h0m0-2.7h0m33.1 125.7h0m2.5 0.8h0m2.1-0.1h0m4.2 1.7h0m-91.1 32.5h0m-2 3.8h0m-1.9 1.4h0m-0.8 3.4h0m28.8-88.3h0m-2.8 4h0m-0.7 3h0m98.2 47.2h0m-2.5-3.6h0m-0.3-4.4h0m-1.9-2.8h0m-30.2-59.7h0m50.8 64.7h0m1-2.4h0m-98.5 16.2h0m3.3 2.3h0m90-108.3h0m0.7-3.4h0m2.3 13.4h0m2.4 1.5h0m2.1 2.8h0m2.3 2h0m4.7-11h0m-1.7-2.4h0m-2-2.3h0m-2.1-2.6h0m-11.5-44h0m3.3-1.9h0m40.3 3.4h0m1.9 1.3h0m2.1 1.7h0m-74.7 158.7h0m2.5-2.7h0m1-2.1h0m103.3-147.6h0m-3-0.4h0m-155 163.2h0m-3.5-2.4h0m-1.7-1.7h0m-40-14.2h0m-3.2 2.2h0m59.4-111.4h0m3.1-0.5h0m5.2-1.1h0m-32.3 122.3h0m-3.9 1h0m-2.6 4h0m178.8-155.1h0m1.8 3.4h0m5.4-23.3h0m-3.2 2.3h0m-2.6 1.8h0m-162.1 40.2h0m3.4 1h0m4.2-0.6h0m103.8-51h0m0.5 2.5h0m0.2 4.1h0m-115.7 50.5h0m-1.5 2.2h0m92.1 72.3h0m4 0.8h0m-44.8-69.7h0m-1.3 3.7h0m0.1 3h0m0.7 4.7h0m-58.9-3.7h0m50.7 48.8h0m-2.7-3.1h0m-11.9-88.9h0m-0.3 3.8h0m-0.7 2.8h0m-9.3 161.4h0m-2.3-5.3h0m95-62.8h0m-32.6-12.7h0m-90.2 41.7h0m-1.9-41.3h0m70.1-62.7h0m-3.6 0.8h0m-18.2 46.7h0m-15.4 17.2h0m-1.7 4.8h0m-29.3 22.3h0m0.7 2h0m0.6 3.1h0m76.4-62.8h0m3.2 3.3h0m24.1-45.1h0m-2.5 3.8h0m-1.9 3h0m10.8 28.1h0m-0.1-4.6h0m-71.1 36.3h0m0.4-1.2h0m50-92.2h0m-54.2 25.5h0m4.4-2.3h0m-7.6 2.2h0m-1.4-3.2h0m-0.6-4.4h0m1.1-1.9h0m54.5 58h0m3 3.3h0m-87.9 79.1h0m3.3-0.8h0m12.1-11.4h0m4.5 0.6h0m2.1-0.1h0m4.4 0.9h0m-30.8-23.5h0m-36.2-7.1h0m71.3-40.7h0m2.6-1.4h0m3-1.8h0m-70.8 34.2h0m3.1-0.5h0m54.5-20.4h0m-4.5-2.1h0m-1-2.8h0m126.4-62.6h0m-1.4-3.3h0m-1.2-3.9h0m-148.2 70.3h0m91-10.6h0m-3.1 2.2h0m-4.1 0.8h0m-108.7 99.2h0m-2.2-0.3h0m125.4-136.6h0m1.6 3.8h0m1.2 1.4h0m-17.3 52h0m2.1-3.2h0m1.9-2.2h0m17.6-36.8h0m-0.5 2.6h0m0 3.9h0m29.5 16.4h0m2.7-3h0m-152.8 16.5h0m88.9-8.9h0m2.9 1.6h0m-47.7 6.6h0m28.7-67.7h0m1.5-2.5h0m142.1-19.4h0m2.9 3.5h0m-102.4 140.7h0m2.4-2h0m3.1 0h0m20.5-33.7h0m-57.9 25.1h0m-29.3-45.4h0m-4.7 1.3h0m-2.2 1.1h0m-3.1 1.5h0m21.4 40.7h0m-2.1 2.8h0m-1.6 1.4h0m-2.9 3h0m-36.2-53.8h0m2.8 2.9h0m3.2 1.7h0m78.6-14.2h0m-0.3 3.5h0m52.2-44.4h0m-1.8-2.1h0m-144.4 67.5h0m-4.4-2h0m-1-2.1h0m38.6-91.7h0m1 4.2h0m-12.8 159.8h0m-2.3 1.8h0m51-180.6h0m-0.7-1.6h0m-1.7-3.3h0m-10 1.9h0m2.8 2h0m-41.8 44h0m-1.5 2.9h0m-2 3h0m64-41.4h0m1.6-2.1h0m3-2.1h0m-31.6 127.5h0m1 3.6h0m36.8 17.1h0m-1.5-2.5h0m15.5-27.2h0m2.5 1.1h0m-116.1 66.5h0m0.5-1.7h0m-2.8-19.8h0m72.6 1.6h0m0.2-1.5h0m2.6-3.5h0m-26.9-102.3h0m3.9-0.1h0m3.7 1.9h0m2.6 15.5h0m3.1 0.7h0m20.9-58h0m1.5 3.3h0m-0.5 3.5h0m0.6 3.7h0m-29.1-12.9h0m2.3 0.9h0m10.3 111.8h0m-3.2-1.4h0m19.8 40.6h0m-1.5-3.9h0m0.3-2.8h0m-2.1-4.2h0m2.7-76.5h0m2.4-0.8h0m3.7 0.2h0m2.9-1.4h0m21.8 71.3h0m-3.3 3.1h0m-53.2-120.3h0m1.1 2h0m-30.6 137.8h0m0.1 4.4h0m-0.6 3.2h0m-1 4.3h0m-40.5-35h0m-2.9 2.9h0m122.1-115.9h0m-2.3 2.2h0m-123.7 114.2h0m192.2-122.6h0m-2.5 2.5h0m-3.6 2.7h0m-41.2 73.9h0m1.1-2.8h0m-2.1-3.4h0m-34.4 1h0m-0.5 2.6h0m0.7 3h0m62.1-66.5h0m-0.9-2.3h0m-174 115h0m-3.4 0.1h0m159.6-123.3h0m3.1-2.4h0m-148.6 154.1h0m116.4-92.3h0m2.4 3.4h0m2.3 2.1h0m-55.3-17.9h0m-0.1-3.6h0m-0.2-2.2h0m0.3-3.9h0m37.5 58.2h0m-2.7 2.2h0m-70.3 23h0m-0.9 2.6h0m114.7-144.1h0m-2.5 24.4h0m-2.3-2.8h0m-2.7-2.8h0m-46.9 65.6h0m-4-0.6h0m-1.8 0.9h0m-3.3 0.9h0m107.3-109.7h0m-2.1 3.7h0m-26.7 85.9h0m-2.3 2.9h0m-118.9-62.5h0m1.8-3.7h0m1.4-1.7h0m-21.4 143.1h0m-0.9 3h0m48.6-119.7h0m-2.2 2.7h0m-2.4 1.7h0m-2.1 2.6h0m88.2-15.3h0m-1.8 3.4h0m-1.3 2h0m-97.2 127.6h0m1.7-2.5h0m3.3-0.8h0m4.3-160.7h0m-1.4 2.9h0m-2 2.6h0m-1.4 4.5h0m63.1 19.1h0m-110.8 153.3h0m-2.9 2.6h0m98.2-129.4h0m-23.3 22.2h0m-1.7 3h0m34.4-75.7h0m3.7 0.8h0m4-0.1h0m63.5-5h0m0.2 1.8h0m20.5 19.5h0m-0.4-3h0m-1.1-2.4h0m-2.3-4.9h0m-114 105.8h0m-2.6 1.1h0m-4.1 0.3h0m11.4-112.3h0m-1.2-4.2h0m54.8 1.4h0m3.2 0.4h0m2.7 1.1h0m10.4 22.3h0m-0.7-4.3h0m-72.9-10.5h0m-0.1-3.3h0m33.6-4.6h0m-57.1 77.2h0m1.7 2.9h0m132.2-86.1h0m2.1-3h0m3.4-3.9h0m-110 44.8h0m-41.5 65.7h0m3.5-1.1h0m98.7-69.5h0m5-0.1h0m2 0.7h0m-20.9-24.7h0m1.9 3.9h0m2.3 2.9h0m7.3 13.7h0m-3.5-0.4h0m-2.7 1.1h0m-5.2 31h0m1.6-2.3h0m-1.3-4.8h0m-67 106.8h0m2.4 2.2h0m44.6-41.6h0m3.2 1.6h0m4-1.1h0m3.8 0.3h0m33.7-29.2h0m-2.9 0.1h0m-4.2-0.1h0m-13.9-96.8h0m1.4 3.6h0m-78 140.3h0m2.3-2.8h0m1.1-3.9h0m114.2-116.5h0m3.7-2.2h0m1-4.2h0m-49 133.3h0m-98.6 37.9h0m101.3-143h0m0.3-2.2h0m1.3-4h0m0.2-3.3h0m-26.9 125.8h0m3-0.5h0m6.1-95.2h0m0.4 2.9h0m36.7-32.8h0m2.6-2.8h0m-84.3 126h0m6.4-74.4h0m-3.2 0h0m-2.8-1.8h0m-23.4 50.3h0m2.1 1.7h0m52.3 4.2h0m-7.5-79.5h0m-0.9 1.8h0m-0.3 4.9h0m-2.4 2.4h0m16.4-64.6h0m-4 2.7h0m-3.2 2.7h0m-0.9 1.8h0m-2.2 4.1h0m-20.5 118.9h0m-1.2 2.4h0m-1.2 3.7h0m29.4 1.5h0m-2.6-1h0m-103.8 21h0m-3.1 2.9h0m44 16.7h0m-1.4 2.1h0m-2.4 4.5h0m44.8-110.9h0m6.2 34.2h0m-0.6 2h0m0.1 4.1h0m65.3-80.4h0m-2.5-2.6h0m-20.1 32.2h0m-3.2-0.4h0m-2.6-0.1h0m-4.2 0.1h0m6.1-18.8h0m45.4-38.6h0m-2.2 0.2h0m-5-0.2h0m-1.9 0.3h0m-125.2 29.9h0m-2.4 41.7h0m-1.7 2.9h0m185.9-70.2h0m-3.5-0.7h0m-3.8-0.6h0m-119.2 135.8h0m1.6 3.1h0m-65.4 44.4h0m-3.5-25.1h0m-2.5 2.8h0m153.9-139.4h0m1.3-3.3h0m0.9-2.7h0m-81.8-28.4h0m-0.8 138.8h0m-1.6 4.1h0m62-122.9h0m3.4 3.4h0m1.7 2.8h0m30.4-22.7h0m-1-2.5h0m-0.2-2.2h0m-104.3 177.2h0m4-0.2h0m-70.6-2.9h0m-3.9 2.5h0m-2.9 1.8h0m84.1-173.1h0m-3.2-0.8h0m-3 2.3h0m46.1 131.8h0m1.8 1.1h0m12.7-85.6h0m-0.4 2h0m-1.4 4h0m-2 3.4h0m-97.6-15.8h0m1.2-3.4h0m71.4 2.8h0m3.1 0.5h0m5.1-0.1h0m-2.5 13.1h0m1.6 3.5h0m0.6 3.1h0m83.6-62.7h0m-3 0h0m-2.6 1.4h0m-220.9 170.6h0m118.4-35.6h0m0.6 1.8h0m2.1 3.2h0m2.7 2.3h0m110.4-136.2h0m1.2 3.2h0m0.1 3.9h0m-183 158.1h0m1.1 1.8h0m1.9 4.4h0m11.9-86.5h0m-0.7-3.8h0m-1.6-2.9h0m16-77.4h0m1.6-1.7h0m-14.2 190.6h0m-3.4 0.2h0m-5-18.5h0m-17.6 57.1h0m4.3-0.9h0m3.5-1.3h0m2-2.7h0m-7.2-40.5h0m42.1 192.4h0m3.8 0.6h0m-52.8-203.8h0m4 1.1h0m2.9-0.1h0m3.7 2h0m9.8 57.9h0m1.3-2.7h0m-0.7-3.9h0m-0.4-4.3h0m-22.7 68.7h0m1 2.7h0m47.1-68.6h0m-4.2 0.4h0m-15.2 91.4h0m-3.8-1.6h0m-2.6-1.2h0m7.9 5.2h0m-3.3-1.7h0m-1.3-126.2h0m3.8-1.7h0m51.2 185.9h0m-41.3-48.2h0m2.1 1.8h0m-38.4-34.7h0m-0.4-2.7h0m2.1 18.3h0m-41.1-66.8h0m-2.8 2.2h0m10.2-28.1h0m-2.2-2.1h0m-3.4-2.2h0m-2.5 35h0m62.3-24.9h0m-4-0.8h0m-2.8-0.9h0m-3.5-3.4h0m56.3-37.9h0m30 221.2h0m-98.8-192.2h0m-3-1.5h0m-3-2.1h0m-3.5-0.4h0m-6.3 42.4h0m16.2 22.1h0m51.5-70.3h0m-0.9-0.8h0m-4.7-3.9h0m-0.7-0.9h0m-103 19.8h0m-1.1-3.9h0m0.6-2.7h0m-1.2-3.9h0m73.4 26.7h0m2.5 0.1h0m49.3-14.8h0m2.3-2.4h0m-109.9-26.9h0m59.3 38.9h0m-0.2 3.8h0m-1.6 2.8h0m2.4 97.4h0m-18.1-19.6h0m-0.5-2.6h0m0.6-3.3h0m-19.3-77h0m16.6-53.1h0m-26 36.7h0m46.2-33.8h0m-0.8 2.6h0m-1.1 3.9h0m-1.4 2.6h0m-8.1 119.7h0m-0.1-3h0m0-3.5h0m35.8-70h0m3.9-0.9h0m3.6-0.3h0m2.9-0.8h0m-55-27.5h0m3.2-1.5h0m67.4-3.1h0m-3.9-2.4h0m-72.4 6.7h0m-0.2-2h0m-8.8 17.5h0m3.5-1.5h0m3.4 0.1h0m1.8-26.7h0m-0.5 3.1h0m-0.8 2.4h0m37.4 151.8h0m4.3 0.1h0m3.2 1.7h0m3.6 2.3h0m3.8-1.1h0m16.4 12.5h0m-2.5-2h0m-1.9-2.4h0m-1.4-2.5h0m-79.9-85.7h0m1.1-4h0m-0.4-3.3h0m29.3 24.6h0m1.6 3.6h0m2 6.8h0m61.3-96.7h0m-4.7 0.4h0m-3.3 0.8h0m17.1 186.7h0m1.3 2.9h0m-69.3-94.7h0m-3.3 2.7h0m-62-89.6h0m3.8-0.1h0m2.8-2.2h0m39.5-2h0m-4 1.6h0m-3.6 1.5h0m70.4 17.1h0m-1.8-1.1h0m-35.3 1.4h0m2.5 1.3h0m3.1 0.3h0m-32.3-15.6h0m-3.9 4h0m13.6 84.8h0m4.5 1.2h0m1.2 2.2h0m20 3.1h0m2.7-2.9h0m45.5 66.8h0m3.1-0.5h0m-82.5-67.4h0m-2.1-2.2h0m32-118.4h0m-1.8 2.5h0m-0.6 3.7h0m-1 2h0m-55 57.7h0m-2.5-0.7h0m-3.9-0.4h0m-3.3-0.4h0m66.4 100.3h0m1.4 2.4h0m-0.8-40.6h0m-27-44.7h0m2.4-0.5h0m3.5 1.7h0m5.2-88.3h0m3.8 1.5h0m1.7 3.3h0m5.2 1.9h0m3.5 4.9h0m3.6-0.3h0m3.6-1.3h0m2.6-1.7h0m-63.5 21.8h0m3.1 1.1h0m3.7-0.2h0m-26.1 16.2h0m-1.5-4.5h0m58-37.2h0m-3-1h0m-26.5-3.7h0m-2.4 2.3h0m-2.7 2.3h0m-3.1 1.3h0m-2.1 2.4h0m64.4 120.9h0m-48.3-125.3h0m-1.2 3h0m-2.2 3.4h0m-1.8 2.2h0m66.7 1.2h0m-4.3 0.1h0m-2.2-1.1h0m-4.3 1.3h0m-30.7 46.4h0m4 0.9h0m3.1-0.8h0m2.8-0.5h0m2.1 3.6h0m2.5 2.9h0m3.3 1.5h0m3.7-24.1h0m-1.3 2.6h0m-1.5 4.8h0m-54.2 26.6h0m2.6-3h0m-3-41.4h0m-1.4 0h0m-5.9 2.8h0m109.9 169.9h0m0.1-3.2h0m1.7-3.2h0m1.6-3h0m0.9-3.3h0m-0.3-2.6h0m8.5 4.6h0m-3.1-0.7h0m-72.5-171.8h0m-2.7 4.4h0m-2.1 2.6h0m76.6 195.2h0m-1.6-3.1h0m-0.4-2.1h0m-1.5-3.7h0m-65.8-96h0m-3.1 2.5h0m35.9 44.9h0m-2-3.6h0m0.4-2.9h0m-31-58h0m-1.4-2.7h0m-1.1-3.7h0m-25.6-11h0m-1.1 3.4h0m-2.3 2.9h0m110.4 145.2h0m-74-187.5h0m-2-1.4h0m3.5 18.6h0m-2.9 2.1h0m46 116.3h0m3.2 4.2h0m-59-70.4h0m2.1-2.1h0m2.7-2.9h0m-1.5-76.7h0m1.5-3.9h0m61.7-9.4h0m-3.9 1.4h0m-3.4 0.8h0m40.4 206.4h0m-3.2 1h0m-4.1 1.4h0m-18.2-9.2h0m2.5 0.8h0m3.1 0.5h0m-97.3-149.1h0m0.7 2.7h0m-0.8 4h0m2.1-10.6h0m-2.2-3.9h0m87 116.8h0m-2.2 1.7h0m10.9 29h0m0.5-3.5h0m3.7-3.2h0m-29.4-178.5h0m-2 0.7h0m-3.6 1h0m-78.7-32.2h0m2.7-2.2h0m83.3 192.9h0m-51.4-101.6h0m3.3-0.3h0m37.8-92.5h0m-0.1 4.4h0m1.8 2.8h0m-28.4 37.9h0m-0.2-2.6h0m0.9-3h0m-29.1 56.9h0m-0.5-3.2h0m2-3.3h0m86.8 130.1h0m-1.8 4.3h0m-1.6 3.7h0m-61.6-143.1h0m-2.2 2.4h0m-3.7 1h0m-3.9 1.3h0m-37.1-20h0m2.9-3.7h0m2.9-0.7h0m71.1-25.2h0m3.9 0.5h0m3 1.6h0m2.3-0.1h0m-67.9-22.4h0m1.4 3h0m1.9 3h0m44.1 133.6h0m3-3.6h0m-20.1-57.3h0m32.8-48.6h0m-51.5 51.9h0m0.7-3.9h0m3.8-1.4h0m-1.2 32.3h0m-0.5 2.7h0m-1.7 3h0m-43.8-120.1h0m0.5 1.9h0m121.7 210.2h0m-1.5-2.6h0m-4.7 0.3h0m-22.3-42.1h0m5.9 8.4h0m-2.6 0.8h0m-1.9 3.8h0m-2.8 2.2h0m-66-107h0m3.6 2.1h0m3.7 1.7h0m2.5 0.7h0m19.7-13.2h0m-4.2 1.7h0m-3.3 2.2h0m-28.3-7.4h0m-1.5-0.4h0m-5.1 0.3h0m18.9-36.3h0m-0.9-1.8h0m-3-2.7h0m19.5 40.1h0m-4.3 0.1h0m-2.3 0.3h0m43.6-64.1h0m-4-0.5h0m-3 0.9h0m-58.4-12.9h0m4.1-0.2h0m2.7 1.9h0m100.9 213.2h0m-1.1-2.8h0m-65.9-194.2h0m1.2-3h0m1.6-3.9h0m39.7 193h0m1.8 0.3h0m3.8-0.5h0m-50.3-53.5h0m4-0.1h0m2.7-0.1h0m-21.3-105.9h0m2.6 2.6h0m1.3 1.8h0m56.1-12.2h0m-0.5 3.6h0m-2 2h0m-1.6 3.4h0m-64.1 42.4h0m-1.9-0.9h0m-3.7 0.9h0m-3.6-0.4h0m-3.1-0.5h0m56.4-51.7h0m-2.5-1.9h0m-48.4-6.9h0m-3.4-2h0m-3.5-1h0m-2-2.6h0m49.1 145.4h0m5 1h0m2 0.3h0m13.4-132.6h0m1.4 4.5h0m-0.3 2.6h0m35.7 185h0m-3.5-1.7h0m-53.9-219.5h0m-0.8-3.4h0m59.8 221h0m-3.2 1.7h0m-0.8 3.6h0m-61.2-178.3h0m-0.7 2.1h0m59 146.4h0m-1.9 3.3h0m-2.4 0.6h0m-96.6-165.7h0m0.5-1.4h0m1-5h0m75.5 129.8h0m-2.4-3h0m-45.2-89.3h0m21.4 45.1h0m-2.9-0.4h0m-2.3-1.4h0m-3 0.2h0m-31.5-16h0m2.5-1.1h0m3.2-2.8h0m-36.7-65.5h0m-3.5 0.8h0m89.4-25.2h0m1.3-3.7h0m-1.4-1.9h0m-20.9 44.8h0m4 1.8h0m2.5 0.5h0m4.2 1.7h0m-39.6-19.9h0m2.9 1.5h0m3.1 0h0m25-1.9h0m-2.4-1.6h0m-2.2-2.1h0m-13.7-19h0m4.1 0.2h0m2.4-0.7h0m4-2h0m47.2 7.2h0m-2.5 3.6h0m-1.5 2.4h0m-77.9 46.4h0m1.5-2.6h0m1.5-2.9h0m3-1.5h0m12.9-26h0m-3.2-1.9h0m1.9 48.6h0m-2.4-0.1h0m-2.8-0.7h0m25.7 15.2h0m0.2-3.8h0m-1.1-3.8h0m54.1-56.2h0m-1.6 1.7h0m-3.2 2.8h0m-1.5 188.7h0m2.2-1.5h0m1.7-1.2h0m1.5-4.4h0m-117.5-171.8h0m-2.3 3.9h0m45.8 12.4h0m1.3-2.6h0m1.9-11.4h0m-3.6-1.6h0m-11 51h0m-2.1-0.9h0m43.5-30.2h0m3.6 0.5h0m3.3-0.9h0m3.8 0.7h0m-5.6-25.2h0m2.1-3.1h0m-3.5 142.7h0m-5-3.1h0m-2.7-0.1h0m11.7-14.2h0m4.8 0.4h0m3.2-0.5h0m3.2 2h0m5.9-128.2h0m-0.8-2.7h0m1.4 171h0m0.2 3.9h0m-6.2-177.3h0m-2.4-2.3h0m-1.1-2.4h0m-30.8 134.1h0m30.5-134.1h0m-0.8 2.5h0m-78.7 43.2h0m2.5 2.6h0m3.8 1.5h0m17.9-4.7h0m-3.3-3h0m22 40.7h0m166.7-249.5h0m0.7 4.4h0m-0.1 3.5h0m53.5-6.5h0m2.4-0.4h0m4.3 2.9h0m2.4-61.1h0m-1-4.3h0m61.8-24.2h0m-1 4h0m-97.6 47.7h0m-13.8 13.8h0m4.1-1.8h0m3.5-1.7h0m102.5-2.2h0m4.5 1.5h0m0.8 2.3h0m3.4 1.7h0m2.9 2.8h0m-49-16h0m-0.5 2.6h0m-0.6 4.2h0m23.9 42.9h0m-3.1-0.6h0m-3.5-2.9h0m-1.9 7.7h0m2.3-2.2h0m0.9-2.7h0m-65.6-96.1h0m3.7-2.1h0m-37.4 47.1h0m-0.9-1.3h0m55.3 3.6h0m-3.7-2.4h0m-2.6-2.6h0m34.2 18.7h0m0.3 0.9h0m-1.4 4.1h0m-34.9 0.9h0m-1.8 4h0m67.5-88.1h0m-2.4 0.6h0m-2.7 3.3h0m20.9-61.6h0m-108.9 188.7h0m2.8-0.1h0m3.5 0.1h0m61.2-4h0m-1.6-2.2h0m32.2-103.9h0m-0.4 3.9h0m-60.9 105.2h0m4.3-1.1h0m31.5-55.7h0m1.6 2.9h0m-83.6 43.2h0m0.6-2.4h0m-2-3.3h0m104.1-180.9h0m-4.2 2.3h0m-1.9 1.1h0m47.6-16h0m-2.9 3.2h0m-2.1 0.1h0m-91.7 199.9h0m3.8 2.3h0m79-117.8h0m2.4-1.4h0m-63.7 112.4h0m1.1 3.6h0m4 3.7h0m110.2-174.7h0m-3.9 0.5h0m-2.6 0.6h0m-54.5-17.4h0m0.7 2.2h0m-132.8 162.6h0m-0.6 1.9h0m-2.9 3.7h0m99-38.7h0m0.2 2.5h0m21.1 0.9h0m1.6 4.9h0m-47.8-41.8h0m0.1 4.7h0m0.5 1.9h0m0.6 2.4h0m-32.7 97.4h0m71.3-50.4h0m1.8-1.8h0m2.6-2h0m2.5-2.3h0m78.5-132.2h0m-1.2 3.9h0m-133.1 89.1h0m0.6-2.9h0m93.4-53.5h0m1.7-3.3h0m-89.7 135.7h0m-2.5 3.2h0m-3.5 1.6h0m-22.4-66.6h0m-2.9 2.1h0m-2 3.4h0m140.8-82.2h0m1.4 1.9h0m-133.3 98.1h0m-1.4-2h0m-2.5-2.9h0m90.8-171h0m-2.4-0.2h0m-5.9 111.1h0m-71.7 29.2h0m2.5-2h0m-13.7 65.9h0m-2.9-1.6h0m-2.7-1.6h0m-3.4-1h0m-11.6 18h0m-1.6 2.7h0m-3.3 1.3h0m-2.7 3.4h0m27.1-38.5h0m0.1 3.2h0m-51.6 4.4h0m-0.9-3.3h0m149.2-73.8h0m0.1-3.4h0m-0.2-2.8h0m8.3-80.5h0m-122.6 140h0m-3.4 3h0m-0.8 2.2h0m-0.1 4.4h0m92.8 32.8h0m-0.8-2.7h0m2.5-4.9h0m63.9-118.9h0m-1.6 0.2h0m-5.8-0.2h0m-53.8 81.6h0m-4.1 0.9h0m-6.7-135.2h0m1.1 2.6h0m-24.2 194.5h0m-44.6-73.9h0m1.6 0.6h0m94.3-68.9h0m-45.5 3.7h0m-2.6 2.6h0m-2.5 3.4h0m0.5 35.6h0m31.8 15.9h0m40.2-106.8h0m-0.1 4.2h0m1.2 3.2h0m-48.5-8.9h0m1.1 1.6h0m1 2.2h0m42.8 44.6h0m3.2 1.5h0m2.3 2.6h0m-80.4-3.6h0m2.6-1.5h0m-30.9 96.3h0m2.7 0.8h0m4.2-0.8h0m2.1 43.7h0m-1.5-1.9h0m-2.6-3.5h0m34.6-93.7h0m3.1-1.9h0m0.6-3h0m2.9-2.1h0m-87 20h0m4.1 0.6h0m3.4 2h0m55.9 39.1h0m-2.9 1.9h0m37.1 14.6h0m-1.2-2.2h0m-2.8-2.9h0m-37.9-33h0m-1.8-3.1h0m91.3-65.2h0m-2.2-0.3h0m-4.3-0.8h0m-1.9-0.7h0m32.8-37.1h0m-0.3 2.3h0m-3 3.7h0m-0.9 3.5h0m8.4 20.4h0m-60.4 64h0m-43.8-14.5h0m-1 2.5h0m-1.7 3.4h0m75.4-108.2h0m-0.9 4.4h0m-54.7 122.5h0m-3.3-0.7h0m-5.2-11.6h0m-5.6-65.4h0m-2.1-2.8h0m-0.5-3.7h0m-62.6 79.5h0m34.1 59h0m-2.3 2.9h0m-3.1 3.3h0m-27.7-4.4h0m0-3.4h0m0.9-3.6h0m143.7-151.4h0m-4.1 1h0m-50.1-8.5h0m2 1.7h0m3.7 1.2h0m-60.6 74.6h0m1.8 2.5h0m84-120.3h0m-0.7 3.6h0m1.6 2.8h0m-43.2 79.6h0m2.2 2.6h0m1.9 2h0m23.6-45.9h0m-1.6 2.6h0m-62.9 109.3h0m-4.6-1.5h0m-2.2-1.1h0m-3.9-0.8h0m100.3-60.5h0m1.4-4.1h0m2.1-2.6h0m-0.2-3.4h0m24-53.5h0m-0.8 31.6h0m0.7-4.6h0m-55.9 81.5h0m-2.3 2.3h0m-0.8 2.4h0m-27.8 74.6h0m41.5-60.5h0m-2.3-0.7h0m-3.3-3.6h0m-3.3-0.9h0m65.9-98.4h0m3.9-0.2h0m3.1 0.8h0m-34.8-1.6h0m-4.1-0.5h0m-1.8-1.3h0m-50 17.3h0m-93.8 65.9h0m0.1 3.4h0m73.9 3.2h0m1.3 4.3h0m1.2 2.6h0m28.4-86.2h0m4.2 1h0m1.5 1.1h0m61.3-2.8h0m-81 2.7h0m-3-2.6h0m84.4-20.6h0m-2.5 3.2h0m-61.2 50.3h0m-2.4-2.2h0m-3.8-0.6h0m-21.9 61.2h0m-2.3 3.8h0m-1.3 3.5h0m7-66.7h0m0.7-3.5h0m2-3.3h0m0-3.5h0m-46.6 118.6h0m2.6-2.3h0m2.4-2.5h0m1.5-2.9h0m23.4-54.4h0m3.9 0h0m2.7 0.5h0m23.3-4.2h0m-2.5-0.6h0m85.1-78.4h0m1.3-1.5h0m1.6-3.6h0m-60.8-61.8h0m1.8 3h0m0.6 4.3h0m-50.4 102.7h0m46.5-96h0m-59.4 139.2h0m-0.2-4.1h0m-2.4-2.2h0m41.1-87.4h0m-0.7 3.8h0m1.7 3.4h0m0.3 4.1h0m-64.1 72.8h0m1.9 1.4h0m56.6-74.3h0m-3.2-0.6h0m-4.1-0.9h0m-2.9 0.6h0m-15.9 68.3h0m-1.3-3.6h0m-0.5-3.9h0m-0.1-1.5h0m-43.8 73h0m0 2.9h0m1.7 2.9h0m0.4 4.5h0m2.7 2.7h0m-53.4-49.9h0m2.8-1.2h0m4.5 0.4h0m1.9-0.9h0m111.7 11.6h0m-0.9-3.5h0m26.3-12.1h0m-1.3-3.9h0m-142.9 49.3h0m-1.5-4.3h0m100.7-55.7h0m1 1.6h0m-46.9 17.2h0m104.9-163.7h0m-85.9 162.3h0m0.6 3.5h0m-1.1 4.1h0m0 2.7h0m-0.4 3.8h0m108.9-141.2h0m-99.2 193.1h0m-2.3 1.5h0m-3.3 3h0m-0.8 1.4h0m56.1-128.3h0m0.1 1.7h0m-4.2 2.7h0m-1.3 2.1h0m-126.7 51h0m3.5-0.6h0m209.3-101.5h0m2.7 0.5h0m-132 142.3h0m1.7-1.9h0m2.9-1.4h0m1.2-2.9h0m44.2-84h0m-1.5-3.1h0m-81.8 25.6h0m129.4-45.1h0m0.4-2.3h0m-13.1-8.9h0m-1.3-0.2h0m-100.7 85.7h0m3.3 0.7h0m28.1 45.9h0m-0.6-2.6h0m35.5-24.3h0m2.8-3.7h0m0.9-1.3h0m21.8-128.2h0m4.1 0.7h0m-83.6 143h0m4.3-2h0m2.9-1.1h0m-41.3 32.7h0m3.7-0.7h0m3 1h0m85.2-33.4h0m-0.6-1.9h0m0.1-5.3h0m-41.5-17.2h0m2.2-2.5h0m1.1-4h0m117.8-91.5h0m2.3-3.1h0m-119.4 123.7h0m2.8-0.8h0m3.3-2.3h0m-15.4 27.4h0m-2.5 2.2h0m-2.9 1.5h0m12.1-130.5h0m0.3-2.6h0m-3.8-1.9h0m-2.3-2.9h0m2.7 48.9h0m20.9-9.2h0m-3.1 1.1h0m12.8 21.1h0m-3.2-1.1h0m-0.8-3.3h0m-0.8-4.1h0m-2-3h0m-2.7-3.4h0m-28.8 11.6h0m4 1.4h0m20.3-9.1h0m0.3 3.8h0m-80.9 18.9h0m-1.6-1.9h0m37.1 70h0m-3.1-2h0m36.1-51.2h0m-2.1 4.2h0m-3 2.1h0m29.1 14.4h0m4.2-0.2h0m1.6-0.8h0m6.8-23.5h0m-3.7-0.3h0m-3 1.8h0m-4.6-85.9h0m2 2.3h0m2 3.1h0m1.4 3.8h0m-64.3 103.8h0m-2.9-2.3h0m104.6-158.4h0m-2.7-2.7h0m-3-1.9h0m-2.9-2.3h0m-13.6 141.3h0m-3.2 2h0m-1.9 3.3h0m-14.2-44.2h0m-4.1 1.6h0m-1.9 1.9h0m-1.5-91.1h0m3.7-2.1h0m43.9-2.8h0m-2.5 3.9h0m9.8 19.3h0m-3 0.8h0m-3.4 2.7h0m-2.5 1.1h0m-76 128.8h0m2.8 0.2h0m80.9-102.6h0m-2.5-1.4h0m-71.3 40.3h0m-50.6 71.6h0m1.8-3h0m5.9-24.8h0m-1.1 3.4h0m59.1 5.9h0m1.4-3.8h0m66.5-103.3h0m2.4 2.1h0m1.9 1.6h0m-49.3-47.8h0m1.4-2.8h0m-74.1 145.3h0m-3.4-3.5h0m15.7 6.1h0m-2.7-1.3h0m27.7-56.6h0m2.5 1.5h0m2.9 2h0m2.9 1.4h0m-36.6 94.9h0m-0.3 3.7h0m-1.2 3.5h0m77.4-93.5h0m-4.3 0.7h0m-1.5 2.8h0m-3.4 1.8h0m-53.5 50.6h0m-3.8 1.8h0m-4-1.3h0m-3.2 0.9h0m49.3-0.6h0m-2.1 2.1h0m-2.7 2.3h0m17.2-34.1h0m-1.6 1.5h0m-2.2 3.3h0m-97.7-24.9h0m3.4 2.3h0m3.2 2h0m1.3 2.6h0m38.3-49.2h0m0.7-4.3h0m-0.1-2.8h0m-14.3 49.1h0m1.4 3.1h0m0.8 3.5h0m59.1-20.8h0m-4.2 0.9h0m2.7 82.8h0m-31.5-19.3h0m1.3-2.6h0m0.9-3.4h0m1.2-3.5h0m38.2-12.2h0m-1.1-4.5h0m-140 21.2h0m2.8 1.1h0m3.3 0.5h0m3.6 1.4h0m127.2-81.8h0m26.1-60.8h0m-5.2 1.6h0m-3.6 0.8h0m-96.3 141.8h0m-37.2 28.3h0m110.5-151.2h0m-2.8 2.4h0m-3.5 2.7h0m7.5-54h0m-1.6-3.6h0m-0.4-4.2h0m-0.3-3.1h0m-4.4 111.7h0m-4.6-2.2h0m8.3-63.8h0m2.6 1.9h0m4.2 0.7h0m-31.3 80.2h0m-41 6.8h0m-27.5 9.5h0m-2.9 0.7h0m-3.4 1.6h0m12.1 39.9h0m4.2 1.7h0m106.6-56.3h0m2.1-1.7h0m-36.1 88.5h0m-52.9-102.5h0m-1.8 2.5h0m0.2 3.6h0m-1.9 3.2h0m113.1-40.1h0m0.1 2.8h0m-0.7 2.2h0m45.1-33.8h0m1.5-1.4h0m1.1-4.4h0m-105.7 108.3h0m3 1.7h0m43.1-84.2h0m2 1.3h0m-72.9 80.8h0m-0.5-2.5h0m114.9-77.4h0m-2.5-4.2h0m-2-1.2h0m-126.7 51.3h0m3.5-2.2h0m49.6-4.9h0m1.1-5.2h0m30.3-103.6h0m3-2.1h0m-101 213.2h0m3-3.2h0m48.7-163.2h0m4.3 1.5h0m2.2-6.8h0m1 4.3h0m0.7 3.9h0m-0.3 80.9h0m36.5-6.6h0m-1.9 1.7h0m-66.9-18.6h0m-2 3.2h0m65.3-110.2h0m1.6 3.7h0m-146.9 189.2h0m2.3 3.4h0m1 1.9h0m108.2-88.2h0m-9.8 103.8h0m-0.3-3.2h0m27.2-41.1h0m0.3-3h0m-46.5-6.3h0m0.1-4.2h0m111.4-111.4h0m-73.6 19.2h0m3.9-2h0m-117.7 105.5h0m-2.4 3.8h0m83.5 13.9h0m2.6-1.5h0m3.5-1.1h0m2.1-2.7h0m-30.9-60.7h0m0.1-3.1h0m1.6-3.5h0m93.7-90h0m-5.2 0.9h0m-2.9-1.7h0m-60.2 54.3h0m2.2-2h0m11-7.1h0m3.9-0.7h0m1.9-0.4h0m4.2 1.2h0m7.8 34.1h0m1.6 3.2h0m0.5 3.3h0m-31.5 85.4h0m-1.5-3.7h0m47.9-45.5h0m-3.2-0.4h0m-4 1.7h0m19.7-101.9h0m-2.4-1.3h0m-2.9-0.8h0m-3.3 1.9h0m-73.5 85.7h0m-1 2.8h0m-0.2 3.8h0m65.6 43.8h0m-1.3-2.5h0m13-160.2h0m2.6-2.1h0m2.3-3.2h0m2.2-3.3h0m-22.8 145.4h0m-3.4 1.6h0m51.6-73.9h0m-4.3-0.6h0m-95.6 93.2h0m73-101h0m-2.2 2.4h0m2 18.9h0m-4.1 0.3h0m27.3-20.9h0m-3.6 0.2h0m-3.6 0.2h0m-61 38.5h0m2.3 1.9h0m0.9 78.8h0m1.4-3.8h0m1.2-4h0m-16.3-128.3h0m98.1 7.3h0m-115.7 143.4h0m55.6-102.5h0m18.9-20.4h0m-10.3-63.8h0m-0.3-2.5h0m-0.8-3.2h0m-0.7-4.7h0m-60.9 94.9h0m-2.1-2.2h0m-2.2-4.2h0m20.3-31.1h0m-0.1 3.9h0m1.6 2.4h0m-5.6 93.3h0m-0.3-2.1h0m44.1 15.5h0m-72-84.2h0m70.1 87.6h0m-27.2-10.4h0m0.8 3h0m60.6-112.1h0m2.6-0.9h0m1.7-2.8h0m-73.3 48h0m2.1-0.1h0m4 0.9h0m62.3-26.7h0m-68.7-11.5h0m2.5-1.6h0m2.4-3.6h0m73.2-37.2h0m-109.5 96.7h0m3.8-1h0m4.3 3.3h0m-46.6 48.2h0m74.8-72.8h0m-2.2-0.2h0m-3.6 1.8h0m30.5 70.5h0m-4.1 2.7h0m17.7-144.4h0m3.3 1.9h0m3 1.5h0m0.1-0.4h0m-0.5-4.2h0m-0.4-4h0m-10 9.1h0m-0.4-4.3h0m1.9-38.4h0m3.4-2.3h0m3.2 34.8h0m-6-5.6h0m-1.7 3.9h0m-2.1 2.7h0m-1.4-25.3h0m0.7-3.2h0m0.1-2.3h0m3.2-4.4h0m6.2 33.9h0m6.5-35.5h0m-4.1-1.3h0m-3.3 0.2h0m-5.4 28.7h0m3 2.2h0m3.9 0h0m14.2 0.2h0m0.4-4.1h0m-1.9-3.2h0m-1-4h0m-14.9 24.8h0m-8.2-4h0m0-3.6h0m0.6-4.2h0m0.6-2.3h0m21.4 8.5h0m0.6-3.5h0m-7.8-9.8h0m8.3-14h0m0.5 3.8h0m-22.2-6.2h0m2.6-0.2h0m-7.1 15.6h0m0-4.2h0m-0.4-3.4h0m-2.3 12.7h0m1.6-2.8h0m0.6-3.5h0m-0.3-3.4h0m14.1 19.9h0m-0.4-2.7h0m-2.2-4.3h0m-0.2-3.2h0m6.1-19.2h0m4.1 0.4h0m4.5-1.2h0m-8.9 30.8h0m5.4-0.5h0m3-2.1h0m-16.2-30.7h0m3.6 0.3h0m4 1h0m2.9 0.8h0m-10.7 21.5h0m-1 2.4h0m63.1 33.7h0m-4.4 0.7h0m-2.1 0.1h0m1.8-1.5h0m-1.2-4h0m0.8-4.3h0m-0.7-3.3h0m-15.9-9.1h0m-0.5 3.9h0m-1.3 3.9h0m1.2 1.8h0m-3.8-6.7h0m0.9-1.9h0m3.2-3.4h0m18.4 6.9h0m-0.3 3.4h0m-1.2 2.9h0m-12.5-3.3h0m-3-0.8h0m12.6-12.5h0m3.9 2.1h0m1.6 1.9h0m3.8 2.4h0m-21 14.2h0m-3.6 5.7h0m2.4-0.8h0m4-2.1h0m2.7 0.1h0m-0.1 4h0m1.8 0.6h0m2.5-2.1h0m1.9-24.7h0m-2.8 0.9h0m-3.2-0.5h0m14.6 2.5h0m4.6 2.1h0m2.5 1.2h0m-30.3 19.7h0m-1.9-3.1h0m0.5-2.8h0m0.5-3.2h0m-188.9 407.8h0m-2.5-1.9h0m-3.4-2.3h0m-50.2-8.9h0m-1.4-1.9h0m94.1 3.1h0m-0.3 3.7h0m-64 15.7h0m0.2 2.9h0m-1.9 3.5h0m-5.1-3.8h0m58.6-21.5h0m1.7-4.3h0m1.3-2.3h0m-30.2 3h0m-0.6 4h0m-1.8 2.4h0m-73.1-2.7h0m3.8-0.7h0m4.1 1.6h0m1.8 22.5h0m-0.9-3h0m-2.8-3.7h0m64 8.9h0m-27.7-20.2h0m-3.7 0.9h0m-1.8 4.1h0m-3.9 0.5h0m59.4-29.7h0m-1.6 0.8h0m1.6 5.8h0m-0.4 2.2h0m-104.7 10.8h0m-0.7 2.4h0m0.2 4.3h0m71-33.6h0m0.4 3.5h0m-50.4 34.4h0m-4.4-0.5h0m84.9 13.5h0m-3.2 3.2h0m-2.2-1.2h0m-3 0.8h0m1.1-2.4h0m0.1 3.6h0m-19.1-37.3h0m-1.4 3h0m49.5 19.7h0m-40.5 5.3h0m1.9 1.7h0m-57.6 6h0m1.3 0.5h0m4.8-0.9h0m57-27.1h0m2.5-0.7h0m2.7 1.5h0m3.7-1.1h0m-24-32h0m-2 3h0m59.2 47.5h0m-40.4 11.4h0m-30.1-28.7h0m51.5-3.6h0m0.6-4.3h0m1-2.4h0m-56.1 20.7h0m3.1 2.2h0m3.7 0.7h0m1.8 1.2h0m24.8-41.9h0m-1.5 2.6h0m-1.9 3.6h0m-82.1 20.6h0m-4.2-0.7h0m-2.6-2.5h0m-2.5 0.7h0m127.8 30.4h0m1.3-3h0m-1.2-32.8h0m-1.5 2.1h0m-128.6 32.6h0m1.7 2h0m3.1 1h0m92.2-4.1h0m4 0.7h0m-58.3-49.4h0m3.8 0.9h0m-23 15.8h0m-3.1 35.2h0m1.7-4.1h0m2.3-1h0m-11.3 3.4h0m53-39.2h0m65.7 10.5h0m1.8-3.8h0m3.2 12.2h0m2-3.7h0m-42.8 14.5h0m-75.5-11h0m-3.5-0.7h0m72.4 23.3h0m4.4-1.3h0m3-1.8h0m17.3 3.6h0m0.8-3.9h0m1.4-0.1h0m2.4-4h0m-67.5-3.8h0m0.9 4.3h0m-0.5 3h0m39.9-36.7h0m-3.7-2.1h0m-29.3 2.6h0m1.1-3.4h0m0.5-2h0m1.8-3.6h0m46.6 27.4h0m4.3 1.1h0m7.3 13.5h0m1.1-2.5h0m-23.3-51.3h0m2.2 2h0m-71.9 44.8h0m4.3-1.1h0m3.5-2.1h0m-14.1-4h0m3 1h0m2.9 2.6h0m4.7 0.5h0m87.8 4.5h0m0.2 3h0m-89.7 11.6h0m-2.5-2h0m-1.3-3.8h0m23.5-37.2h0m1.9 2.3h0m-0.2 14.7h0m0.5-4h0m-2-3.6h0m-37.7-4.8h0m2.8 3.3h0m2.1 1.9h0m28.9-66.2h0m-2.8 3.6h0m-0.4 2.9h0m55.3-29.1h0m-1.7-3.8h0m-25 25.6h0m-23-43.7h0m-4-0.4h0m-3.3-0.1h0m12.4 37.3h0m-4.1-0.5h0m-3.4-0.3h0m-1.3 10.8h0m4-3h0m2.3-1.1h0m29.5 6.3h0m-5-0.3h0m-2.7 1.7h0m-3.5 0.4h0m-24.5-2.5h0m1.7 2.4h0m52.8-50.5h0m-51.7 36.6h0m47.5-4.8h0m-48.8 15.8h0m40.4-29.1h0m-2.1 0.5h0m-4.5 3h0m-32.9 22.3h0m-2.1 2.8h0m-0.7 2.9h0m30.4-5.5h0m-2.6-1.7h0m-3.4-0.5h0m-25.4-11.3h0m-0.3 3.8h0m-1.3 3.2h0m-1.2 2.6h0m47.7-36.6h0m2.3 2.1h0m2.7 2.1h0m2.3 10.9h0m-3.4 2.4h0m-12.2 10h0m-1.5 2.6h0m-1.5 9.7h0m-5.2-29.1h0m4.8 1.3h0m2.2 0.8h0m-27.4 2.6h0m3.5-2.5h0m0.9-1h0m118.9 191.9h0m1.7-2.4h0m-29.3 22.3h0m-0.8 3.6h0m0.1 2.7h0m-2.2 2.6h0m20.4 8.9h0m-0.5-5.3h0m-2.9-1.3h0m15.5 18.3h0m-14.1-37.1h0m1.7-2.3h0m2.9-1.6h0m2.6-3.9h0m-5.5-18h0m-4.1 1.5h0m-2.9 2.4h0m5.3 41.2h0m-31.5-31.9h0m54.2 11.3h0m-39.6-14.6h0m3 2.5h0m-9.7 11.1h0m2.2-1.5h0m30.2 13.7h0m-3.4-3h0m-15.9 22.2h0m-2.5 0.1h0m20.6-52.3h0m-18.4 32.7h0m-4.8-0.6h0m-3.2 1.6h0m-4 1.5h0m10.9 27.7h0m-1.1-2.8h0m55.8-71.4h0m-2.8-2.8h0m-6.7 9.8h0m-0.8-1.7h0m-3.4-4.2h0m-4.4 38.5h0m-27-20.2h0m-0.9-4.2h0m-2.6-2.9h0m0.2-2.2h0m28 38.3h0m-3.2 1.3h0m-2.6 0.1h0m-16.5-41.1h0m-3.8 0.2h0m-4.6-0.3h0m-0.5 3.4h0m-0.8-2.8h0m18.8 79.4h0m-4.5-1.4h0m-2.8-0.5h0m-3.2 0.2h0m-3.7-0.4h0m11.9 2.8h0m0.9-3.9h0m0.2-1.3h0m-1.9 15.3h0m-3.9-1.9h0m-2.5-1h0m-3.1-2h0m21.9-59.8h0m-2.4 0h0m-4.5 0.8h0m-3.2 0.1h0m13.4 16.4h0m-1.7-3.9h0m-13-13.8h0m3.8-0.6h0m14.6-26.9h0m-1.5 3.5h0m2.2 2.8h0m-8.5 31.6h0m3.8-0.3h0m2 0.7h0m-25 29.1h0m-3.4-1.3h0m-3.7-40.6h0m2.3 1.1h0m4.3 1.2h0m6.3 36.2h0m0 2.7h0m2.8-18.6h0m-3.3 32.9h0m-0.1-2.7h0m-0.4-4.5h0m0.5-3.5h0m15.5-17.6h0m-2.4-2.6h0m-0.9-4.6h0m-1.5-2.7h0m-3.9 51.6h0m-3.3-0.8h0m-3.7-51.8h0m-2.4 3.4h0m0.8 4.7h0m0.9 3.2h0m1.8-26.7h0m-0.2 3.7h0m0.4 4.5h0m19.6-45.3h0m-3.5 0.8h0m-44.1 48.4h0m1.2-2.1h0m50.5-36.7h0m-1.8-1.7h0m-21.8 26.8h0m3.5-0.8h0m16.7-0.6h0m0.6-2.6h0m-0.5-3.7h0m0.8-3.3h0m-11.7 68.1h0m-3.4 0.1h0m-3-1.6h0m31.5-79.3h0m-0.1-2.4h0m-56.7 49.3h0m2.4-4.1h0m2-2.9h0m22.3-25.1h0m-2.8-3.4h0m-3.2 41.6h0m-0.9 3.6h0m13.8-20.5h0m-2.5 1.8h0m-4.1 2.2h0m-27.7-16.8h0m3.6-1.8h0m12.5 23.8h0m1.3 3.3h0m-0.3 3.4h0m-0.9 3.9h0m24.4-65h0m-3.1 1.9h0m-3.5 0.3h0m-2.5 2.2h0m-2.8 1h0m20.5 16.7h0m-5 0.2h0m-1.8 0.5h0m-2.8 1.7h0m-24.4-2.4h0m4.8 0.4h0m-5.6-24.3h0m-2.5 0h0m24.6 37.3h0m1.9-2.9h0m4.4-14h0m-2.9-2h0m-1.9-2.4h0m-4-1.3h0m-31.6 51.1h0m3.3-2.8h0m2-3.2h0m0.6-1.9h0m5.4-26.5h0m-0.7-3.3h0m-1.3-2.8h0m14.1-7.7h0m3.4-1.3h0m3.8-2.5h0m-19.4 22.2h0m0.1 3.1h0m36.5-32.5h0m-1.2-2.1h0m-3.2-3.4h0m-22.1 81.1h0m-0.5 4.8h0m0.3 1.9h0m19.4-76h0m-4.4 1.3h0m-2.4 3.8h0m-2.9 1.5h0m-11 70.8h0m-3.3-0.9h0m36-92.7h0m-1.9 1.2h0m-4.3 2.7h0m-2.6 1.7h0m-9.8 68.9h0m-3-2.2h0m-2.2-1.4h0m5.9 0.4h0m1-3.9h0m-17.4-67.6h0m0.9 50.9h0m2.9-3.4h0m0.9-1.3h0m3.4-3.3h0m28.5-20.5h0m-2.9-0.4h0m-3.9 0.4h0m-27.8 28.4h0m0.1 4.1h0m0.9 2.7h0m-6.4 48.8h0m-4.5-2h0m3.8-83.9h0m-6.7 43.5h0m1.4 2.8h0m-0.1 1.8h0m6.3-26.9h0m-1.6-3.5h0m10.2-5.1h0m-0.7 1.7h0m3.8 56.9h0m1.3 3.7h0m0.2 2.5h0m1.5-72.4h0m2.1-3.7h0m0.5-3.5h0m2.2-2.5h0m-10 47.6h0m1.9-1.2h0m-8.9-51.9h0m-14.4 42.5h0m-0.3 3.3h0m13.7-15.3h0m12.3-22.5h0m1.9 2.9h0m-22.2 32.8h0m3.3 1.8h0m2.6 2.2h0m29.4-62.9h0m-2.3-1.5h0m-10.4 91.4h0m-3.9-1.3h0m-2.5-1.3h0m0-90.9h0m1.8 1.3h0m3.4 1.7h0m-25.1 25.4h0m3.8 2.1h0m15.4 45.1h0m3.3-1h0m4.5-1.4h0m3.5-0.8h0m1.3-0.8h0m-9.6 44.6h0m-1.3-3.1h0m-6.7-30.6h0m-1.2-0.2h0m-3.2-1.1h0m-5.8-41.3h0m-3-1.5h0" stroke="#dadaeb" stroke-width="5.0" stroke-linecap="round" fill="none"/>
<path d="M440.5 909.2h0m2.7-2.4h0m1.2-3.8h0m3.9 67.8h0m-2.9-2.9h0m-1-2.9h0m-2.9-1.2h0m-136 206.5h0m-1 3h0m27.8-87.9h0m-3.2-1.2h0m-4.1 0.7h0m-2.7-0.9h0m264.8-156.9h0m-2.7-1.3h0m-3.8-1.2h0m-60.6 304.8h0m1.3 4.3h0m0.5 1h0m1.3 4.6h0m2 3.9h0m-66-53.7h0m-3.1 2.2h0m-2.2 0.6h0m96.4 22.3h0m2.8-0.7h0m4.9-2.1h0m29-134h0m-1.6 4.1h0m-1.1 3.7h0m-305.2 103.1h0m2.8 2.5h0m3.1 1.2h0m339.2-166.7h0m-0.6-3.3h0m-5.7 271h0m-2-4.5h0m-1-2.2h0m-203.3-147.8h0m0.4 2.2h0m-0.5 3.2h0m-1.3 3.6h0m96.3-64.5h0m3 0.9h0m2.6-0.3h0m4.4-0.1h0m3.2-0.2h0m3.5 1.7h0m-24.3 70.5h0m3.3-1.7h0m2.7-2.2h0m-17.3-201.6h0m170.2 223.9h0m2.4-1.6h0m3.4-2h0m3.3-1.6h0m2.6-1.3h0m-40.6 123h0m0.2-2.8h0m-141.8-173.8h0m-0.1-3.6h0m0.6-3.4h0m-118 140.2h0m-0.8 4.1h0m-104.2-212.9h0m187.6 103h0m-71.5 30h0m2.7 0.5h0m2.9 3.3h0m6.9-113.3h0m-0.8-3.3h0m-0.4-3.7h0m249.9 21.7h0m-207.3 193.5h0m2.6-0.8h0m3.5-2.7h0m40.4-179.5h0m-4 0.1h0m-3.5 2h0m-3.6 0.1h0m156.8 189.5h0m-0.6-1.4h0m-269.9 11.6h0m-3.8-1.4h0m259.1-63h0m0.1 2.2h0m0.5 3.9h0m-67.3-22.6h0m0.2-4.5h0m-72.3-250.6h0m0.3 4.3h0m51.2-72.8h0m-2.3-2.8h0m-0.8-3.2h0m-0.6-3.2h0m-0.8-3.7h0m-98.4 405h0m230.8-220.3h0m-380.2 85.7h0m1.9-3.3h0m2-2.7h0m159.5-148.2h0m-3.4-2.9h0m-0.8-3.3h0m59.2 249.4h0m2.3 0.4h0m4.1 1.4h0m4.1 2.4h0m-61.8-337.5h0m2.1-2h0m2.6-3.5h0m143.4 324.8h0m-3.9-1h0m-2.5 0.6h0m-4 0.3h0m-297.2 32.2h0m1.6 2.6h0m1.4 3.8h0m209.3-237.8h0m-1.4-3.6h0m204.5 100.7h0m3.9 0.2h0m2.9-0.6h0m3.3 0.3h0m-388.1 112.5h0m2.6-2.5h0m2.3-4.7h0m228.9 90.7h0m1.6-3.2h0m-1.9-119.8h0m-4.3 0.4h0m-158-84.8h0m-3.7-1h0m-2.7-1.2h0m-91 43h0m172.9 112h0m-2.4 1h0m-68-209.5h0m1.3 2.8h0m-106.4 65.1h0m-2.1-3.2h0m257.4 159.8h0m-2.5-3.2h0m-2.2-2.5h0m-2.6-1.4h0m-279.7-204.6h0m2.8-0.4h0m-28 44.8h0m-2.9-2.8h0m456.1 79.7h0m2.8-0.8h0m3.3-0.1h0m-145.8-309.7h0m2.6 1.2h0m1.3 2.3h0m-116.8 83.3h0m-1.3-3.7h0m158.6 323.2h0m-1.2-4.4h0m17.9-236.6h0m4.1-0.5h0m3.3 0.6h0m-3.3 99.6h0m-1.9 1.3h0m-52.1-135.7h0m49 298.5h0m-292.6-248.5h0m-2.3 1.6h0m-2.5 4.2h0m-75.7 57h0m1.4-3.6h0m126.1-18.1h0m170-151.5h0m91.8 234.8h0m2.4-0.9h0m3.2-1.8h0m-219.1 114.7h0m2.6 2.4h0m182.5-66.1h0m3.6-1.3h0m2.5-0.6h0m-23.5 34.4h0m1.6-3.2h0m1.5-2.9h0m1.9-3.2h0m-16.5 37.8h0m-0.8 2.9h0m2.5 3.2h0m-0.1 3.7h0m76.5-205.4h0m3.2 1.9h0m-96.9 207.2h0m3 1.8h0m-153.7-163.6h0m-0.4 2.7h0m-3 4.2h0m322-8.2h0m4.6-1.5h0m-64.8-129.3h0m-85.2 67.9h0m-260.7 13.1h0m-3.5 0.6h0m-3.5 3.2h0m422.8 11.6h0m-2.4-1.5h0m-3.7-1.5h0m-2.9-2.1h0m10.9 31.9h0m-2.4 1.5h0m-1.9 2.9h0m-449.2-51.8h0m264.3-207.7h0m28.5 384h0m-3.6-1.2h0m-1.5-1.8h0m11.8 59.8h0m1.8-2.9h0m2.2-3.8h0m-33-309h0m4.2 0.5h0m-217.4 172.1h0m-3.1-0.6h0m-4-0.5h0m-72.3-77.5h0m3.2 3.7h0m264.8-217.8h0m-1.5-2.7h0m166.2 123.5h0m-3.4 0.2h0m-108.6 44.4h0m-67.2-38.3h0m-1.5 3h0m1.6 3h0m107.8 222.3h0m-97.7-280.1h0m0-2.9h0m1.7-2.3h0m31.2 32.8h0m-2.1 0.4h0m-2.7 5.2h0m-218.3 158.8h0m-0.6-3.2h0m1.4-1.8h0m-0.2-5.4h0m298.9-42.1h0m3.5-1.5h0m3.8-2.5h0m-272.3 151.8h0m-2-2.6h0m-0.1-3h0m0-3.3h0m40.9-118.8h0m2.6-2.6h0m-0.7-3.5h0m2-3.4h0m142.2-209h0m0.2-3.5h0m0.3-3.4h0m-100.4 23.1h0m0.8 2.5h0m-131.1 334.4h0m-1.9-3.2h0m147.9-255.7h0m-2.1-1.4h0m-4.1-0.6h0m101.6-93h0m-2.5-1.8h0m-2.4-0.4h0m-51.7 233.1h0m-1.4 3.1h0m112.7-133.2h0m-2.9-0.2h0m-4.1 0.7h0m-134.7 0.2h0m-0.7 3.5h0m-0.9 2.6h0m-1.5 3.7h0m148.1-17.5h0m18.7 86.7h0m-0.6-4h0m0.7-3.6h0m-100.8-77.6h0m3.6-2.1h0m2-1.6h0m-38.9-127h0m-0.7-2.6h0m49.2 71.6h0m1.8-2.7h0m1.7-2.7h0m1.9-3.2h0m-91.4 4.6h0m67.5-28.8h0m3.8 0.4h0m17.1 71.7h0m-4.7-2.1h0m-2.2-0.6h0m7.2 206.6h0m0.6 3.5h0m117.4-135.5h0m-286.9 90.5h0m-3.5-1.8h0m261.4-97.5h0m-3.9-0.1h0m-2.6-0.3h0m-328.9 212.4h0m-3.2-1.8h0m0.5-5.1h0m105.3-72.7h0m2.4-2h0m1.9-3.8h0m-61.4-109.1h0m81.7-79.1h0m1.2-3.3h0m79.9 173.2h0m3.8-1.7h0m3.6-1h0m-153.8-44.2h0m-1.8-3.5h0m133.9 217.8h0m-11.9-404h0m-164.1 347h0m-3.6-1.4h0m275.7-1.3h0m-4.4 1.3h0m-2.6 1.1h0m-3.9-2.1h0m-73.3-153.1h0m3.4 1.4h0m-178.5 95.8h0m-2.2 1.4h0m-4.4 0.9h0m-1.5 2.4h0m329-130.4h0m0.9-1.1h0m0-3.9h0m2.5-4h0m-0.1-2.3h0m-101.5-6h0m-1.9-1.9h0m185.1 61.9h0m-0.3 4.4h0m-240.5-107.2h0m3.4 2.9h0m73.8-82h0m0.2 4.1h0m4.3 99.4h0m1.3-3.3h0m55.4-56.8h0m-3.8-0.5h0m-3.2-1.2h0m-3.3 0.5h0m-181.6 3.4h0m1.5-2.6h0m2.7-3.7h0m-17.2 294.3h0m-0.1 2.1h0m119.3 3.6h0m1.9-3.7h0m2-3h0m-317.1-137.3h0m-0.7 2.7h0m248.6 76.1h0m-3.2-2.4h0m-143.5-90.5h0m1.8-4.2h0m2-3h0m-0.9-3.5h0m132-47.1h0m2.4 0.1h0m3.6-0.9h0m-134 170.7h0m-2.9 4.2h0m-3 0.1h0m167 25.3h0m-1.9 2.2h0m-215.3-87h0m-0.7 2.5h0m331.4-122.7h0m89.3 55.5h0m-3.1-2.5h0m-1.3-2.5h0m-3.2-2.4h0m-177.1 68.8h0m3.6 2h0m4.2 0.3h0m76.3-28.4h0m-2.2 3.7h0m-0.7 3.6h0m-139.6 97.9h0m-2.2 1.4h0m-2.8 2.2h0m-138.7-188.8h0m0.5-3.6h0m-0.6-3.3h0m82.6-75.5h0m0.3-1.5h0m-48.2 311h0m-3.4 2.1h0m142.7-323.4h0m-0.1 4h0m1.2 3.1h0m-0.8 2.8h0m1.7 4.1h0m48 236.7h0m2.4 0.1h0m3.2-0.3h0m16.4-247.9h0m4.7-1.4h0m3.3 0.4h0m84.6 113.5h0m-1.1 1.7h0m-2.3 1.9h0m-157.8 182h0m-2.4-2.9h0m-132.1 4.7h0m1.8 2.2h0m121 16.1h0m179.2-148.8h0m-0.2 2.8h0m1.5 3.2h0m-227.2-146.3h0m2.4-0.5h0m3.4-1.4h0m-9.5 202.8h0m2.8 3.7h0m240.8-27.7h0m-2.8-1h0m-442.8-59.7h0m230.4-134.8h0m3.7-1.1h0m2.1-1.1h0m89.9 80.2h0m2.6 2.7h0m2.3 2.7h0m-4.9 26h0m-3.7-1.1h0m-2.6 0.7h0m-3.2 1.6h0m47.4 119.5h0m-2.9 1.3h0m-2 2.4h0m-246.3-24.2h0m-2.7-2h0m-1.4-2.1h0m-2.2-3.1h0m135.8-167.8h0m0.7 3.1h0m0.4 4.1h0m0.9 3.3h0m6.1-71.1h0m42.3 108.8h0m-1.1 3.6h0m2.5 3.6h0m1.1 3.3h0m-20.5-11.5h0m2.3-2.9h0m3.9-2.2h0m2.3-0.5h0m67.2-100.8h0m-12-52h0m-2.1 0.3h0m-280.1 372.1h0m3.1-3.6h0m3.5-0.5h0m3-2h0m-23-65.9h0m268.9 61.8h0m3.2 2.9h0m2.3 1.9h0m-280.4-152.4h0m451.1-7.6h0m3.7-0.9h0m-142.3 177.7h0m3.1-0.9h0m2.8-2.9h0m1.7-2.6h0m2.9-0.9h0m-248.6-90.1h0m3 1h0m-83.8-60.7h0m3.3-2.5h0m0.4-3h0m3.2-3.2h0m128.7 69h0m2.5-0.9h0m48.6-158.7h0m0.6-5h0m116.9 189.6h0m0.9-4h0m-46.5 89.1h0m3.6 1.4h0m85.5-42.6h0m-0.3-2.7h0m1.7-5.7h0m0.3-3.2h0m-32.7-130.5h0m-2.6 1.4h0m-32.5 30h0m-2.9 0.5h0m-3.3 0.5h0m13.7 146.9h0m-0.1 3.4h0m-0.1 4.3h0m-186.9-43.9h0m2.3-2.1h0m1.7-2.7h0m1-4.5h0m-101.6-116.4h0m1.8-3.4h0m1.1-2.8h0m154 53.2h0m1 2.7h0m-183.2-69.8h0m-2.2 2.8h0m-3.2 1.9h0m-2.1 2.5h0m274.7 22.5h0m130.8-107.9h0m-4.2-2.6h0m-0.5-2h0m-55 215.3h0m1.5-2.3h0m-232.4-26.5h0m1.7 2.3h0m-55.4-108.8h0m-3.6 2h0m-1 3.6h0m-1.9 2.5h0m56.3 145.6h0m-2.7-2.7h0m221.3-55.9h0m2.8 0.4h0m3.9 1.3h0m-100.9-107.6h0m1 2.8h0m0.5 3.6h0m-65.7 121.7h0m0.9-3h0m0.8-4.7h0m-1-2.3h0m-88.1 55.5h0m-1.4 3.1h0m0.2 3.9h0m356.6-178.9h0m-103.3 66.7h0m4.1 2h0m-79.5-22.4h0m2.5 2.8h0m1.2 2.5h0m71.4 16.1h0m-3.2 0.4h0m-0.8 5h0m39.6-29.9h0m-128.2-132.6h0m-3.5-1h0m-3.3-0.4h0m-174 37.2h0m169.9 58.9h0m-3.3-2.6h0m79.1-126.6h0m-283.6 95.5h0m-3.4 2.5h0m-3 1.6h0m-1.3 1.3h0m29.5 91.8h0m1.5-2.4h0m17.5-1.1h0m35.3 105.2h0m-2.8-3h0m205-391.4h0m1.1-2.7h0m0.2-3h0m-67.5 71.3h0m-4.3-1.5h0m-1.4-1.3h0m-3.7-0.2h0m73.1 85.3h0m-0.5-2.4h0m-23.3 265.5h0m-0.1 5.5h0m1.4 2.2h0m0 3.2h0m-120.2-107.9h0m-4-1.4h0m52.5-205.7h0m3 1h0m2 1.5h0m3.9 1.5h0m-192 181.4h0m1.5-1.9h0m-1.7-4.2h0m41.2 62.7h0m0.1 4.4h0m-2.1 3.5h0m-35.2-181.3h0m4.4 0.2h0m1.9 0.8h0m9.2 227.6h0m2.2 3.2h0m1 1.9h0m103.4-92.4h0m-1.4 3.7h0m-0.4 2.9h0m-1.8 2.6h0m-111.5-103.9h0m0.2 3.3h0m232.2-18.9h0m3.1-0.1h0m2.7 0.6h0m-201.3 11.4h0m-0.6-4.6h0m-2.7-3.8h0m-0.5-1.9h0m314.6 142.4h0m1-2.5h0m1.6-2.7h0m0.4-5.2h0m0.8-2.5h0m-243.2-38.8h0m-3.4-1.6h0m-3.8-1.3h0m-2.7-1.7h0m-98.3 91.5h0m-1.3 1.8h0m-4.5 1.7h0m241.3 13.4h0m-1.1-3.3h0m94-168.5h0m-2.8-2.1h0m21-126.7h0m54.6 161.3h0m3.6 3.2h0m2.3 0.8h0m3 3.7h0m2.1 1.3h0m-402.3 40.1h0m2.8 3.9h0m0.2 2.4h0m15.2-7.3h0m88.6-116h0m-1.8 1.7h0m-25.8 143.2h0m4.2-0.1h0m1.8-0.1h0m-83-120h0m-0.5 2.5h0m-20.6 23.2h0m0.5 2.3h0m0.1 2.4h0m-15.9 14.7h0m401.4-33.5h0m-159.6 176.2h0m2.8 1.4h0m3.4 0.3h0m3.5 0.6h0m-131.5-104.9h0m-1-3.3h0m156.3 147.3h0m-3.1 1.1h0m-65.1-202.9h0m0.4 2.4h0m79 5h0m-1.7 4.6h0m-1 3h0m2.3-102.5h0m4.5 0h0m3.8-0.8h0m182.7 72.4h0m-0.3-4.9h0m0.1-3.6h0m-172.6 77.9h0m2.6-2.3h0m1.8-2.4h0m3.8-2.6h0m-11.1-266h0m1.2-1.3h0m-49.7 59.1h0m45 193.3h0m21.3-209.5h0m1.2-4.1h0m-43.8 331.2h0m1.1 3.6h0m0.9 3.9h0m-161.3 14.6h0m-85.8-245.3h0m-2.6-1.4h0m-0.9-3.2h0m202.9 51.2h0m0.3-0.2h0m-69.1 83h0m-1.5-2.9h0m-85.3 28.7h0m213.6-291.3h0m-0.2 2.5h0m-0.1 3.8h0m-281.9 180.1h0m0.8 4h0m346-107.2h0m-111.7 316.3h0m-0.6-2.8h0m-1.3-3.5h0m0-3.6h0m-0.4-2.7h0m125.1-349.5h0m0.1-3.7h0m-0.5-1.8h0m-254.6 260.2h0m2.9 1.2h0m75.2-207.4h0m-1.7 3.5h0m-120 204.7h0m2.3-4.4h0m3.2-3h0m280.9-72.2h0m-1.1-2.7h0m-0.6-3.8h0m-291.1 23.3h0m-4.7 0.2h0m-3.9-0.7h0m-1.7 0.3h0m27.5 103.3h0m1.3 3.6h0m2.6 2.5h0m-82.2-183.2h0m-1.3-1.9h0m232.4 46.9h0m0.8 1.6h0m-0.5 4.2h0m-160.3 61.3h0m4.4 0.2h0m3.8 2.2h0m121.5-235.3h0m-0.5 2.9h0m0.8 3.4h0m-9.9 102.9h0m-5.2 0.9h0m-1.5-0.3h0m49.1-123.5h0m0.7 4.8h0m40.2 335.3h0m3 0.7h0m2.9 0.2h0m3.5 0.9h0m3.6 1.2h0m-284.2-153.4h0m-3 1.9h0m-2.4 2.3h0m-2.5 1h0m355.2 99.5h0m3.9 1.5h0m-154.5-189.3h0m-2.2 1.9h0m-3.4-0.3h0m-2.8 1h0m204.4-94.5h0m-57.7 196.9h0m2.3 1.9h0m3.1 1.1h0m3.6 2.7h0m18.5-65.9h0m-0.1-2.8h0m-301.8 6.2h0m0.3 1.8h0m194.2-196.7h0m-0.5-3.2h0m-181.1 291.1h0m1-3.8h0m215.4-74.1h0m-2.4-2.3h0m90-165.5h0m4 0.8h0m2.3-1.9h0m3.3-0.4h0m-307.8 334.5h0m0.9-3.3h0m234.1-209.2h0m4.2 0.5h0m3.1 1.4h0m-155.8 99.7h0m1.7-2.2h0m2.7-3.4h0m51.4-133.8h0m0-2.8h0m98.1 280.4h0m1.8 1.9h0m-84.6-337h0m-0.9 1.9h0m-3.7 2.8h0m62.6 44.2h0m-205.4 273.9h0m-4.3 1.3h0m-3.4 1.3h0m103.5 9.5h0m287.3-222.7h0m-1.7-0.7h0m-4.4-1.5h0m-2.3-1.2h0m-469.8 41.2h0m1.1 4.5h0m372.9 38.8h0m-0.7 0h0m-361.1-64.9h0m166.7 242.3h0m-0.7-2.4h0m-3.1-2.2h0m273.2-315.8h0m-1.9 4.2h0m-2.1 1.3h0m-416.5 233.8h0m1.2-2.9h0m120.3-72.5h0m2.1 0.8h0m3.2-0.8h0m23.1-117.9h0m0.6 3.2h0m95.1-202.9h0m3.9 1.3h0m-43.6 359.6h0m-1.7 4h0m-0.6 1.8h0m61.8-127.4h0m3.6 0.1h0m65.9-118.1h0m-2.5 2.2h0m-3.9 2h0m-44.9 100.3h0m3 3.5h0m0 2.7h0m-124.8 90h0m276.8-103h0m-3-3.2h0m-25.1 64.5h0m1.3-3.1h0m-293 62.7h0m2.1 0.1h0m9.6 16.9h0m80.6-222.6h0m1 4.6h0m44 283.1h0m-1.7-3.3h0m127.1-293.8h0m-2.4-1.6h0m-4.1-0.9h0m17.5 85.5h0m2.2-0.6h0m-88.8 92.8h0m2.2-3h0m2.4-2.6h0m16.3-153.2h0m-67.9 101.5h0m-0.6-1.4h0m-1-3.4h0m-1.1-5h0m-256 177.3h0m2.4 1.8h0m1.5 2.9h0m221.9-104.4h0m177.3-90.2h0m-163.2-196.8h0m3.5-1h0m1.6-1.1h0m218.9 247.6h0m-1.8 1.6h0m-2.8 2.7h0m-377.6-43.2h0m-3.1-2.2h0m157.3-40.3h0m-3.8 2.3h0m134.3-16.1h0m-4.3 1.3h0m-1.3 1.3h0m-83.8 220.7h0m-1 2.9h0m-1 4.2h0m-239.8-199.4h0m-2.6-2.6h0m323.5-133.5h0m-2.6 0.4h0m-3 2.2h0m-268 258.6h0m1.7 2.3h0m211.5-47.4h0m-1.9-3.4h0m-85.8 57.2h0m-0.3 2.1h0m1.7 5.1h0m-117.6 49.2h0m-2.7 0.3h0m-3.8-0.1h0m-60.5 8.9h0m-1.2-2h0m-1.2-2.2h0m388.9-220.1h0m-1.6-3.2h0m-340.4 17.6h0m0.4-3.5h0m161.8 187.7h0m0-2.9h0m207.7-166.9h0m-3.5 1h0m-3.4 3.4h0m-355.9-7.5h0m1 2.6h0m1.7 2.3h0m218.3 53.2h0m2.1-2.7h0m-181.2 113.8h0m1.3 2h0m154.3-357.6h0m3.8 2.1h0m-117.7 227.8h0m57.3-158.8h0m2.6 3.4h0m1.1 2.2h0m0.1 3.8h0m-44.6 172.6h0m-0.6-3.3h0m-1.2-3.1h0m-0.1-2.9h0m86.5-139.1h0m-0.6-2h0m126.4 122.1h0m2.6 0.3h0m2.4 1h0m-60.9-199.4h0m2.4 3h0m-167.4 98h0m-2.6 3h0m-1.4 2h0m89.5 264.2h0m-4 0.7h0m-2.5 1.2h0m-0.7-301.1h0m-3.1 1.3h0m-3.1 2.2h0m-87.6-6.8h0m0.1 4.3h0m-0.1 3.2h0m-76.8 303.5h0m3 2.6h0m367.3-196.3h0m-0.2 3.4h0m-406.2-35.9h0m-0.1-4.5h0m0.2-2.4h0m298-11.1h0m0.9-4.1h0m-150.9 70.8h0m188.8-52.2h0m-4.2-2.6h0m-75.3 19.8h0m-2.1-1.3h0m-3.5 0.5h0m-77.4-81.4h0m-2.8 1h0m-4-0.1h0m-3.1 1.1h0m55 280h0m-2.4 3.6h0m-0.1 3.4h0m98.5-304.5h0m3.6 0.8h0m77.6 89.1h0m3.2 1.4h0m-396.3 79.9h0m2-1.8h0m216.7-126.1h0m2.8 2.9h0m2.3 1.8h0m2.8 0.9h0m-211.4 278.8h0m-0.3-4.2h0m365.6-145.2h0m1.3-2.1h0m1.1-3.2h0m-104.7-171.7h0m-317.7 274.3h0m1.2 3.8h0m0.5 2.3h0m82.8-12h0m1.4-3.4h0m-50.7 26.4h0m-2.4 1.1h0m-2.7 1.5h0m113.2-23.5h0m5.9 21.7h0m-3 1.1h0m99.7-225.2h0m-3.7-0.7h0m90.3 9h0m-0.8 3h0m-0.8 4.2h0m-101.4-23.9h0m4.3-1.4h0m-236.8 182.7h0m3.2-2.5h0m443-187.4h0m-1.8 3.7h0m-209 162.9h0m3.4-0.7h0m2.9-0.2h0m-97.1-186.2h0m-4.4 1.7h0m-2.5 2.1h0m198.2 109.9h0m-1.5 4.6h0m0.2 2.9h0m-175.2-109h0m-3-2.7h0m-1.1-2.3h0m41.1 314.3h0m-0.6-3.6h0m134.9-317.1h0m0.9-3.1h0m1-4.1h0m0.6-3.8h0m-237.9 297.5h0m-4.4 0.1h0m-97.3-103.6h0m414.6-3.4h0m-1.7 1.7h0m-3.4 2.2h0m-19.4-1.6h0m-245.7-14.5h0m-1.4 2.2h0m139.7 148.5h0m1.6-2h0m-45.8-254.2h0m0.5 3.3h0m1.1 3.2h0m-208.4 161.8h0m-3.5 1.5h0m368.2-150.2h0m-229.6 125.2h0m3.8-1.9h0m114.8-68.3h0m-1.6 2.5h0m-0.7 4.3h0m122 29.7h0m-0.9-2.7h0m-0.4-2.7h0m-1-4h0m-95.8-256.5h0m2.6 1.2h0m-306 152h0m-0.1-2.6h0m-1.1-3.8h0m167.5 239.2h0m-1.3 3.3h0m-149.9-201.3h0m-1.3-1.7h0m-1.2-4.2h0m0-3.7h0m305.4 42.7h0m-1.2 0.4h0m-74.3-102.3h0m51.2-63.1h0m3.4-0.6h0m3.4-0.7h0m-51.2 203.9h0m-2.1-0.3h0m-4.6-1.9h0m-1.5-2.3h0m7.7-10.4h0m60.1-51.6h0m1.9 1.9h0m1.6 3.7h0m-0.1 4.4h0m164.9 5.6h0m-2.8 0.2h0m-3-1.2h0m-461.6 165.3h0m173.4-279h0m-1.7-2.3h0m249.1 187h0m-2.8-3.7h0m-211.3-48.5h0m1-3.4h0m1.8-2.1h0m36.2-21.9h0m0.8-2.7h0m2.5-2.2h0m-91.4 170.4h0m1.6 3.8h0m2.8 0.8h0m-84.2-184.3h0m3 1.5h0m3.3 1h0m3.3 0.5h0m186.1 75h0m-0.3 2.7h0m1.3 2.8h0m93.3-74.1h0m-1 3h0m-0.4 2.5h0m-0.1 4.2h0m-127.5 176.2h0m3.3 2.4h0m-219.2-183.5h0m-3.6 4.3h0m237.4-24h0m3.8 0.3h0m3-0.2h0m-91.9-15.5h0m1.7 0.2h0m167.7 26.9h0m2.6-4h0m0.4-1.8h0m-70.6-213.3h0m-0.1-3h0m-1.1-3.4h0m-0.1-4.1h0m-0.5-2h0m-17.8 187.5h0m-0.4 2.4h0m-248.2 104.4h0m1.6-3.8h0m309-105.4h0m-84 189.6h0m-1-3.6h0m2.1-3.3h0m17.2-304h0m98.8 241.2h0m-366.1-53.5h0m-3.2-0.1h0m213.1-206.4h0m0.1-4.2h0m-94.6 193.9h0m-2.6 1h0m-3.7 0h0m-4.1 1.3h0m-3.4 1.8h0m349.8-39.3h0m-1 3.5h0m-194.1-130.6h0m-3.4-2.9h0m-3.4-1.2h0m-218 325.5h0m-2.6-0.4h0m21.2-75.6h0m-0.5 3.6h0m-0.1 3.3h0m91.9 27.8h0m5 0h0m-130.2 62.6h0m45.8-52.2h0m-0.2 2.1h0m2.3 2.9h0m162.1-365.9h0m-1.6-3.6h0m229.1 181.2h0m-2.6 2.2h0m-187.8-115.2h0m-179 330h0m148.4-51.9h0m2.2-0.6h0m13.8 60.4h0m-1.3 2.4h0m-1.5 3.9h0m-0.2 3.1h0m-1.6 4h0m-237.1-194.9h0m197.9-75.7h0m-0.7-2.3h0m179.5-15.3h0m-0.9-2.7h0m-3.1-2.1h0m-373.7 98.5h0m-4.1 1.8h0m-2.1 0.7h0m344.5-57h0m-1.2 3.7h0m-3.7 0.5h0m-80.2 41.1h0m3.6 1h0m2.7 1.3h0m186.6 48.8h0m-1.3 3.6h0m0.8 4.1h0m-429.5 42.6h0m-1.7 1.4h0m0.8 4.5h0m-1 2.9h0m422.6-144.3h0m1.6 4h0m-92.8 132.7h0m-51.2-307.6h0m-0.7 3.3h0m-151.8 289.3h0m0.2-173h0m2.1-2.2h0m182.6 224.5h0m3.7 3.5h0m-85.9-134.6h0m1.2 2.8h0m-15.9-35.5h0m-2.7-0.8h0m-2.9 1.6h0m-124.9 129.9h0m245.8-137.7h0m-84.7 235.4h0m-2.8-3.2h0m-2.4-0.6h0m-198.8-101.6h0m1.5 2.2h0m1.4 2.5h0m0.4 3.6h0m105.6-109h0m4.6 1.4h0m171.8-40.8h0m1.3-3.3h0m1.5-3h0m-90.1 208.7h0m-0.8-3.1h0m-90.8-82.5h0m1.8 3.4h0m1.4 2.9h0m38 16h0m-3.5 0.3h0m-3.2-0.6h0m-76.2-25h0m1 3.2h0m-129.5-11.9h0m-2.5 2.2h0m-0.1 2.6h0m-2 2.9h0m427.8-170h0m-428.4 98.3h0m1.1 4h0m379.8-59.6h0m0.6-2.8h0m2.7-1.9h0m-312.3 221.8h0m-1.9-3.6h0m-0.4-3.5h0m-1.5-2.9h0m129.4-213.3h0m-1.8 2.6h0m-1 3h0m-2.1 1.9h0m-3.8 2h0m99.2-120.5h0m-1.2-1.4h0m-108.2 336.7h0m17-237.9h0m2.9-0.2h0m3.7 0.5h0m10.1 52.9h0m-3.2 3.4h0m-2.5 2.4h0m-115.2 59h0m2.2 3.1h0m3.5 1.5h0m165.6-24.3h0m3.6 1.6h0m111.5-1.9h0m1.1 3.4h0m-0.4 3.6h0m0.2 4.6h0m1.4 2h0m-178.8-28h0m-2.6-0.3h0m-3 1.1h0m72.6-40.6h0m3.5 1.9h0m108-122.5h0m0.1-3.5h0m0.4-3.5h0m-77.5 79h0m-229.1 176.5h0m-2.5 2.9h0m-1.6 3.6h0m-41.3-136.2h0m2.8-2.5h0m132.7 164.8h0m2.5 2.7h0m201.5-93.6h0m1.9 0.6h0m3.1 2.1h0m-127.1 82.1h0m-3-3.4h0m-3.7-1.3h0m-3.9-0.7h0m186.1-139.8h0m-273.7 197.2h0m152-280.4h0m-0.9 3.3h0m0.2 3.1h0m-277.8 288.9h0m3-1.9h0m3.5 0.2h0m33.6-142.1h0m336.1-156.2h0m-0.5 0.2h0m-0.6 4.5h0m-40.8 251.6h0m-103.9 26.2h0m2 0.4h0m-33.2-314.2h0m-1.9-2.9h0m198.5 270.4h0m-4.3-0.9h0m-57.1-68h0m3.4 2.7h0m61-74.1h0m-0.1 4.4h0m-1 1.7h0m-251.3 217.8h0m-1.8 1.3h0m-3.7 3h0m22.8-45.5h0m-180-88.3h0m-3.6 1.5h0m194.2-81.1h0m0 4.4h0m0.8 3.2h0m-35.8 181.7h0m2.7-0.5h0m-17.7-237.9h0m5.1 0.8h0m336.7 69.7h0m-25.9-17.4h0m-2.9 2.6h0m-2 2.1h0m-128.4 212.8h0m-0.7-3.6h0m0.7-3h0m0-3.8h0m31.3-285.6h0m0.6 3h0m-86.4 124.2h0m1.8-2.8h0m1.9-2.8h0m2.5-2.7h0m-132.1 2.3h0m2.4-2.7h0m69.2 189.8h0m-4.6-2.4h0m-4.5-421.8h0m-149.5 379.9h0m-1.4 3.5h0m219.6-361h0m1 4.3h0m-285.8 159.9h0m-3.5 1.4h0m-3.9 1.3h0m201.6 216.6h0m-1.1-1.2h0m-4.7-1.8h0m70.5-86.2h0m1 4.1h0m-2.3 1.9h0m-16.8 48.6h0m4.3 0.3h0m3.2-1.8h0m4.3 2.2h0m-56.7 31.3h0m167.1-332h0m0.9 3.4h0m-4.3 46.2h0m3.2-0.2h0m2.4-1.6h0m26.2 91.9h0m-2.3-3.4h0m-3.4-1.1h0m-2.3-3.1h0m-118.3 180h0m0.7 3.6h0m-270.6-214.6h0m4 1.4h0m2.6 0.2h0m470.3 40.3h0m-0.4 3.7h0m0.9 3.6h0m-167.3-88.1h0m36.1 12.4h0m3.1-0.6h0m2.8-0.6h0m4.8-0.9h0m-118 247.1h0m1.8 1.4h0m-149.5-182h0m2.6-0.9h0m3.7-0.6h0m72.5-92h0m-2.2-2.7h0m-2.2-2.5h0m117.1 318.1h0m-0.2 4.9h0m-125.9-127.9h0m1-2.7h0m2.1-3.3h0m1.4-3.1h0m41-259.5h0m-15.8 396.1h0m253.4-210.8h0m-3-3.6h0m-242.2 78.7h0m2.5-0.3h0m5.1-0.1h0m249-0.2h0m-1.3-0.1h0m-222.3-327.5h0m-81.8 245.9h0m-3.6 1.4h0m-3 2.1h0m137.3 171.7h0m-2.4 1h0m58.7-27.8h0m-2.7-2.7h0m-2.7-2.8h0m-2.7-2.1h0m-129.9-277.2h0m-2.9-3.7h0m237.1 66.4h0m4.2-3.7h0m-333.4 266.5h0m3.8 1.1h0m216.5-16.3h0m1.2-3.7h0m1.2-1.6h0m2.6-249.9h0m-3-0.6h0m61.4 135.2h0m-243.8 65.6h0m3.1 2.2h0m95.6-187.8h0m-0.7 2.5h0m-2.2 3.2h0m-1.9 2.5h0m52.7-158.3h0m-29.8 343.8h0m-134.7-41h0m229.9 15.1h0m64.9-209.9h0m-96.6 81h0m2.6-0.2h0m48.5-124.4h0m-75.1 144.3h0m-216 72.9h0m-0.5 1.8h0m-54.1 93.2h0m1.2 3.5h0m2.6 2.8h0m3.6 2.8h0m269.7-43.8h0m-272 24.3h0m-1-4h0m183.7-5.5h0m-0.1-3.6h0m-0.5-2.8h0m39.5-202.8h0m52-26.3h0m-2.4 2.9h0m-2.8 3.9h0m-55.9-101.4h0m-1.3-2.6h0m0.3-2.9h0m-161.5 140.9h0m1.7 4.5h0m-60.5-12.8h0m2.7 0h0m4.4-0.1h0m3.2 0.2h0m3.1-1.5h0m333.8-108.6h0m1.8 1.5h0m3.6 0.5h0m3.5 0.9h0m-43.4 137.8h0m104.8-68.2h0m24.4 138.2h0m-2.7 0.3h0m-3.9 1.6h0m-3 0.4h0m-466-38.2h0m1.4 2.9h0m302.3-59.8h0m-0.4 3.8h0m188.1 9.4h0m1.4-4.9h0m-229.9-206.8h0m-1.5 2.1h0m-76.5 369.2h0m2.5-1.3h0m5 29.9h0m2.6 1.7h0m295.5-197.5h0m1-5.2h0m0.6-1.3h0m0.4-5.5h0m0.3-1.2h0m-109.8 43.4h0m2.9 0.4h0m1.9 3h0m-363.2-15.2h0m2-1.4h0m0.8-2.4h0m180 209.6h0m1.9 2.5h0m3.8 0.9h0m1.2 2.3h0m76.2-362.4h0m3.8-2h0m2.4-1.3h0m3-1.2h0m37.6 369.5h0m-230-144.4h0m75.2 74h0m60.7-239h0m3.3-3.5h0m-60.6 175.4h0m3 0.7h0m2.7 1.9h0m61.6-221.8h0m-0.6-2.4h0m0-3.3h0m1.2-3.1h0m1.2-3.3h0m152.8 86.7h0m2.5 0.3h0m-288.5 170.6h0m-0.8 3.6h0m0.7 2.3h0m0.5 3.3h0m365.3-107.9h0m2-3.2h0m-67.1 132.6h0m2-2.6h0m2.4-3.6h0m-14.4-238.9h0m-0.5 3.1h0m-0.3 3.6h0m-266 274.3h0m-2.8 0.4h0m-2.9 1.7h0m-52.2-29.5h0m0.5-3.2h0m328.2-143.7h0m-45.1 120.6h0m-1.2 3.6h0m-2.8 3.1h0m-0.3 3.5h0m-154.4-84.8h0m0.1-4.4h0m122.9-77.1h0m-2.5-0.7h0m-2.9-1.8h0m-3.1-1.4h0m-2.8-2.3h0m-20.9 138.3h0m-3.2-0.9h0m41.2 57.4h0m-3.7-2.9h0m-2.2-1.9h0m-23.5-17.3h0m-1 3.4h0m145.4-38.9h0m-0.5-2.8h0m-101.9 150.1h0m-1.4-1.4h0m-331.2-242.7h0m72.9 7.1h0m-2.3 2.6h0m141.3-153.2h0m-0.7-2.4h0m2.8-4.1h0m-32.2 33.6h0m0.8 2.9h0m0.6 2.7h0m38.4 198.4h0m-27.5 6.6h0m-2.4-2.5h0m-3.2-1.3h0m149.9-235.8h0m1.5-2.4h0m1.8-3.2h0m21.3 179.6h0m-186.2-121.2h0m-132.7 270.7h0m2.2-0.9h0m4.6-1.4h0m2.7-0.7h0m-3.2 9.6h0m-0.8-3.2h0m0.1-3h0m183.6-259.8h0m5.2-1.5h0m-157 133h0m339-45.6h0m-1.3-3.6h0m-1.7-1.9h0m-124.1 109.7h0m4.4 0.2h0m2.6 0.7h0m-38.4-51.6h0m-1.9-3.7h0m-234.7 45.2h0m127.3 110.3h0m1.7 2.8h0m1.7 4h0m175.9-331.8h0m110.3 86.3h0m-0.1 2.6h0m2.7 3.5h0m2.2 4.4h0m-177.5 2.2h0m-0.1 3.2h0m118.4-104.5h0m-1.4-4.9h0m-96.9 378.2h0m-3-1.7h0m-2.2-2.8h0m-10.7-398.2h0m-5.1-55.4h0m-3.6-0.2h0m-3.6-1.4h0m-51.5 210h0m-3.1 0.5h0m181.8 101.7h0m-15.8-233.8h0m-2.7 2h0m-15 118h0m5.6-1.1h0m1.8-0.6h0m2.8-1h0m4.4 80.6h0m-0.4-1.3h0m-223.6-89.7h0m-2.1-1.9h0m97.4-140.9h0m3.6 3.7h0m-0.1 1.5h0m-169.4 259.1h0m-2.4-3.4h0m-0.5-3.1h0m94.2 140.5h0m2.7-1.5h0m125.9-280.9h0m0.6-0.7h0m3.1-1.3h0m-117 148.2h0m-2.3 3.1h0m243.5-121.5h0m1.9-0.2h0m3.2-5h0m-97.9 178.7h0m-2 2.1h0m-3.8 1h0m-79.7-60.9h0m2.4 2.3h0m-22.9-208.1h0m-2.4 0.8h0m197.1 62.9h0m3.7 2.5h0m-369.1 239.9h0m3.4 1.8h0m2.3 1.1h0m319.1-112.2h0m2.9 0.8h0m5.1-2h0m1.3 0.9h0m3.6-1.6h0m-94.2 26.1h0m1.2-3.1h0m-121.9-134.4h0m-3.6 0.1h0m-149.4 217.5h0m-3.9-2.3h0m-2.8-2.4h0m295.1-348.7h0m3.6-0.4h0m-221.8 315.1h0m-3.2 1.4h0m-2.9 0.8h0m69.4 46.9h0m-10.1-202.7h0m-3.4-0.4h0m316.4-4.2h0m1.7 2.5h0m-152.6-109h0m1.7-0.1h0m3.2 2.1h0m4 1.2h0m66.7 265.8h0m-18.8-301.7h0m1.2-4.3h0m2.4-2.5h0m-72.3 410.1h0m3 0.9h0m-111.2-78.9h0m-1.4 4.6h0m-2.4 1.6h0m-68-44.5h0m142.4 90.7h0m-2.4-3h0m116.4-307.8h0m1.4 2.4h0m1.2 3.3h0m10.4-60.1h0m3.3 0.4h0m2.9 0.5h0m-319.8 130.8h0m-2.9 1.2h0m298-95.7h0m30.7-23.6h0m-325.8 327.5h0m-3.1 0h0m127-398.2h0m3.3 1h0m124.4 111.4h0m-299.8 277.6h0m2.1-3.4h0m402.3-188.9h0m-2.2 1.7h0m-1.8 1.8h0m-128.2-19h0m-1.8-1.5h0m-2.3-3.8h0m-260.4 146.3h0m2.9-0.2h0m3.4-0.3h0m4-1.7h0m406.8-188.6h0m-109.5-46.6h0m-2.9 3.8h0m-2.1 1.6h0m-111.2 91.4h0m1.6-3.7h0m1.7-2.2h0m2.3-2.5h0m-165.4 80.2h0m-3.2 1h0m119.9 37.3h0m54-58.8h0m-1.6-2.7h0m79.2 197h0m-3.2-0.3h0m-3-0.2h0m-68.2-389.1h0m1.5-4.3h0m-0.1-1.6h0m1.7-3h0m-242.3 158.3h0m0.4 5.1h0m0.1 2.3h0m354.7 44.3h0m-2.9 1.4h0m-3.7 0.1h0m-0.5 119.4h0m1 3.1h0m2.2 3.5h0m-212.8-198.5h0m-0.8 3.7h0m0.9 3.6h0m283.4-43.8h0m4.4 2.3h0m2.7 2.3h0m2.8 2.3h0m-98.9-46.4h0m-1.8 3.6h0m0.6 2.7h0m-102.7 249.9h0m-0.4 2.9h0m0.4 3h0m212.2-193.8h0m-1.2-3.3h0m-0.5-4h0m-0.9-1.6h0m-276.2 65.9h0m-31.9 27.9h0m-1.3 2.8h0m147.3 173h0m3.7 2h0m2.4 3h0m27.6-103.4h0m-2.5 3.9h0m-4.2 0.8h0m-71.8-6.8h0m-0.5-2.9h0m47.5-208.7h0m-2.7 2.8h0m-1.4 2.6h0m102 134.6h0m-2.7-1.7h0m-4.6 0.9h0m-293-8.4h0m-4.5-0.7h0m255.2 64.8h0m-3.6 0.1h0m-1.5 1.5h0m-212.8 47.9h0m1.2 3.7h0m48.8-235.8h0m-2.4 2.8h0m-130 113.3h0m0.4 4.3h0m-0.1 3.1h0m-0.2 2.8h0m378.3-163.5h0m1.5-2.6h0m-0.5-2.3h0m0.5-4.3h0m12 27.3h0m0.4-4.3h0m0.3-2.3h0m-0.7-4.2h0m-369.6 273.8h0m95.6-89.3h0m-2-2.9h0m-1-2.8h0m-158.1-41.9h0m90.3 152.5h0m-1.9-1.8h0m-2.2-3.1h0m154.3-145.3h0m-0.5 2.7h0m-1.3 3.6h0m23.2 62.9h0m3.4 0h0m2.2 1h0m-50.8-139h0m-0.6 1.9h0m0.7 4.5h0m-72 236.8h0m166-104.5h0m-91.2-170h0m150.7 229.7h0m1.3-2.1h0m2.3-4.2h0m44.3-216.6h0m-1.1 2.3h0m-185.5-156.9h0m4.6-1.7h0m199.9 154.8h0m-1.2-1.7h0m-164.6-153.1h0m166.2 161.9h0m2.1-2.3h0m-234.8 296.7h0m0.7-2.8h0m3.6-2.1h0m-76-37.4h0m-1.9-3h0m-1.8-2.2h0m-4.5-65h0m-2.9-1.7h0m41.4-62h0m-0.9-2.6h0m219.5 133.2h0m-83.7-263.1h0m2.7 1.3h0m107.8 114.5h0m-284.4 134.9h0m4.1 2.4h0m165.9-327.1h0m0.7-4h0m-240.2 296.4h0m-0.2 4.2h0m-0.4 2.5h0m164.4-213.7h0m2.3 2.8h0m1.2 3.6h0m42.3-83.5h0m-2.7 1.3h0m-3.7 1.1h0m-2.9 1.5h0m25.5 223.9h0m2.4-4h0m-32.8-61.2h0m-1.5 3.5h0m-1.4 2.7h0m0.1 3.3h0m0.1 4h0m-30.6 153.6h0m1.7 3h0m0.8 1.6h0m1.7 3.2h0m93.1-7.4h0m2.7 2.7h0m3.2 0.1h0m2.5 2.8h0m42.6-363.5h0m-1.8 4.4h0m-203.8 159.8h0m-0.5-2.9h0m-3.3-3h0m191.8 2.2h0m-2.9 1h0m-2.7 1.3h0m-47.3 203.5h0m-2.2-1h0m-3.2-2h0m131-170.4h0m10.6-27.6h0m-3.9-2.9h0m-370 98.3h0m-0.3 4.4h0m1.3 3.2h0m267.8-141.9h0m-2-0.2h0m-3.5-3.8h0m-1.6-3.3h0m-3.3-3h0m168.8 57.9h0m-3.1 0.8h0m-310.2 58.2h0m1.9 2.8h0m3 1.3h0m2.3 3.6h0m133.9-115.3h0m-87.4 187.2h0m-1.8-3.6h0m-3.6-1.2h0m24.1-109.2h0m-0.8-5h0m2.4-3.2h0m-128.1 74.4h0m-3.4-1h0m-3.1-0.6h0m169.7-298.8h0m2.2 0.8h0m2.6 1.1h0m3.2 1.3h0m217.7 195.2h0m3.6-1.4h0m-183.6 171.7h0m-3.3-3.8h0m14.9-239.5h0m1.8-1.8h0m-268.7 222.7h0m0.5-4.1h0m280.8-95.5h0m2.4-4.2h0m3.5-2.4h0m0.4-2.4h0m-267.6 61.8h0m329.1-134.2h0m-1.9-2.2h0m-98.2-60.8h0m2.4-3.7h0m-127.2-47.4h0m3.2 2.3h0m1.4 2.9h0m-152.2 227.8h0m0.2-2.6h0m1.9-3.8h0m-0.2-3h0m181.8-212.9h0m-4-2.8h0m-1-2.7h0m-160 268.6h0m0.8 2.6h0m0.1 3.9h0m400.6-57.7h0m-1.2-4.7h0m-211.6-186.6h0m3.1 2.9h0m-220.2 276.4h0m-0.4 3.5h0m-0.6 3h0m1.3 3.6h0m-1.3 3.5h0m174.8-56.4h0m-0.2-4.7h0m-3.2-2.6h0m-183.6-109.1h0m43.1 86.7h0m2.4 0.8h0m2.8 1.9h0m3.4 0.9h0m157.6-38.1h0m-2.5 4.5h0m-2.5 0.5h0m200.6-10.8h0m0.8 1.2h0m84.4-31.1h0m1.9 0.4h0m2.9 2.3h0m-54.6 67h0m-153.2 139.5h0m-3 1.5h0m-183.4-32.6h0m-1.6 2.3h0m65.3 18.8h0m1.8 4.1h0m0.9 2.7h0m-99.3-13.3h0m260.4-347.9h0m1.6-1.8h0m0.3-4.1h0m-113.2-70h0m148 177.7h0m1.1 2.4h0m1.4 4.1h0m-84.4 127.2h0m-2.7 2.4h0m-102-59.7h0m-0.1-2.5h0m-1.9-2.9h0m-76.7 1.1h0m-2.4 2.8h0m0.7 3.5h0m-3.3 3.4h0m-12.2 11.3h0m2.7 2.5h0m2.5 3h0m-55.2-59.6h0m-4.7-0.4h0m239-42h0m3.2 0.5h0m3.5 1.8h0m-25.7 226.5h0m-0.3 2.9h0m-53.8-221.8h0m3.4-3.3h0m0.5-3.7h0m-110.5 35.6h0m1.2 3.3h0m-104.2 50.5h0m0.5-3.1h0m1.9-1.8h0m280.5-203.1h0m2.8 1.8h0m-54.2 62.9h0m-1.9 2.6h0m-1.8 189.7h0m-1.8-1.9h0m-2.4-1.6h0m-173.6 105.5h0m-1.6-2.2h0m274-40.4h0m3 3.4h0m-97.3-228.9h0m1-2.8h0m0.7-4h0m-50.6-8.8h0m-4.1 0.8h0m-53.6 108.7h0m288.5-16.2h0m3 3.5h0m1.3 3.6h0m-231.2-161.4h0m-4.6-1h0m25.7 343.4h0m-2.5 1.2h0m-187.4-178.5h0m-2.4-2.3h0m193 105.5h0m-4.8-2.4h0m-1.8-0.8h0m-2.2-2.3h0m210.2 10.8h0m-0.7-2.6h0m-1.3-4.3h0m-377.4 41.3h0m252-100.6h0m187.9-96.8h0m-1 3.9h0m0.5 4.2h0m-230-27.8h0m1.7 2.6h0m-187.4 86.6h0m-3.2-1.6h0m-2.5-1.6h0m131.6 25.5h0m11.9 81.3h0m-1.8-2.9h0m-117.7-120.3h0m1.5-1.2h0m2.7-2.2h0m284.1-50.9h0m0.5-2.4h0m3.5-3.1h0m-117.3 3.4h0m-98.5 139.7h0m-3.3 0.1h0m-3.8-1.6h0m31.6-68.3h0m-81.4 159.7h0m1.7 1.3h0m3.1 2.8h0m1.6 4.5h0m218.4-143.1h0m2.5-3h0m1.7-4.2h0m-22.4-175.2h0m-4.5-2.8h0m-142.7 202h0m-2.3-2.1h0m-77.2-11h0m-3.1 1.3h0m-15.8-1.6h0m260 176.2h0m-52.6-323.4h0m-2.9 2.5h0m-4 1.1h0m-121.1 259.8h0m-3-1.6h0m-2.8-0.3h0m-4.5-0.7h0m154.8-382.4h0m1.6-3.4h0m0.6-2.5h0m-11.5 16.4h0m1.7 4.9h0m0.9 3.5h0m-70 5.6h0m1.9-3.5h0m116.7 335.2h0m-35.3-83.4h0m2.5 1.9h0m4.6-0.7h0m18 63.1h0m-106.2 60.8h0m1.1-4.5h0m166.8-138.7h0m-1.2-4.2h0m-233.6 46.1h0m367.9-93.6h0m1-0.3h0m0.7-4h0m-305.9 209.5h0m140.1-345.6h0m-1.2 1.7h0m-3.2 3.7h0m-256.2 218.8h0m2.9-0.5h0m3.8 0.8h0m3.8 0h0m290.1 95.9h0m3.1-2.8h0m-287.9 11.3h0m1.3-4.4h0m-56.4 2.8h0m0-4.1h0m1.9-3.6h0m305.7-298h0m-165.9 294.6h0m0.7-2.4h0m1.4-2.5h0m-114.5-7.1h0m2.4-2.2h0m184-145h0m0.2-4.2h0m2.1-2.5h0m-0.2-3h0m24.1 154h0m3.4-1.9h0m1.7-2h0m-195.3-174.3h0m366.2 35.5h0m-2.4 2h0m-2.7 1.6h0m3.5 90.9h0m-3.7 2.2h0m-2.2 0.4h0m-146.4-3.5h0m2.1-4h0m32.2-228.2h0m2.6-1.8h0m69.7 194.5h0m-1.3 0.1h0m-4.5 0.2h0m-66.6 91.1h0m2.8-2.2h0m4 0.1h0m44.9-306.2h0m-0.5-3.9h0m-125.9 325.3h0m1.8 2.3h0m2 3.9h0m-107.3-108.4h0m-4.3 2.1h0m-0.9 0.2h0m-122.2-97.2h0m0 4.5h0m201.1 74.6h0m-0.2-1.8h0m-20.3-94.7h0m1.4-1.8h0m1.5-3.4h0m0.8-3.9h0m76.4 197.4h0m-1.7 2.6h0m-2.9 2.7h0m83.1-193.1h0m-1.4-3.6h0m-59.3 283.6h0m-0.3-3.2h0m2.1-3h0m2.5-3.1h0m-137.8-176.3h0m1-2.2h0m0.9-3.6h0m96.7-123.4h0m2.8-0.8h0m-180.7 234.8h0m0.4-4h0m191.1-168.4h0m67 34.4h0m3.9 1h0m-128.1 11.5h0m-3.5 1h0m-2.1 3h0m183.4-145.5h0m-2.7 2.7h0m-1.4 2.5h0m-72.5 330.7h0m3.3 0.3h0m3.6-0.5h0m-26-451.3h0m3.8 0.7h0m-46.5 216.8h0m-64.8 33.5h0m65.3-219.7h0m-6 420.2h0m-0.3-4.6h0m-0.7-2h0m-4.1-422.4h0m2.1 2h0m3.3 1.2h0m74.9 225.4h0m3-0.1h0m4.4-1.5h0m2.9 0.9h0m-59.1-116.8h0m-4.4 0.1h0m8 156.7h0m-4 1.9h0m-2.3 2.2h0m-195.8 4.9h0m-3.3 2.9h0m-10.8-12.3h0m92.7 33.6h0m-0.9 3.3h0m176.8 25.8h0m35.2-140.5h0m0.9 3.4h0m1.4 3.8h0m0.8 2.5h0m-288.1 213.4h0m-0.7 3.5h0m-1.3 1.6h0m96.2 4.3h0m3-0.2h0m231.3-108.5h0m3.8-0.9h0m-119.5 29.7h0m-2.1 3.7h0m-125.3-146.6h0m-0.2-4.6h0m93-118.7h0m-0.2-2.8h0m1.1-3.4h0m58.8 231.2h0m3.4 0h0m3.5-0.4h0m142.9-70.9h0m0.8 3.1h0m-176.1 21.5h0m3.1 1.3h0m3 1.7h0m-113.7-132.1h0m-2.6 1.9h0m-3.7 1.9h0m58-127.7h0m116.2 141.3h0m4.1 1.3h0m-88.7-22.6h0m-2.8-0.7h0m-3.4-1.3h0m-1.8-1.9h0m133 106.3h0m-3.7-0.9h0m-3.6 0h0m-9-156.1h0m105.3 145.5h0m1.2 3.4h0m2.3 3.3h0m-77.4 46.9h0m-1 3h0m-1.8 3.8h0m-0.4 3.5h0m-50.9 69.1h0m3.2 0.3h0m2.3 0h0m-347.9-175.8h0m-2.8-2.1h0m368.9 88.7h0m2-3.1h0m2.3-2.8h0m-80.2-15.2h0m2.8-3h0m2.2-2.7h0m121.5-61.3h0m3.1-2.3h0m-105.9 237.6h0m2.9 2.2h0m-210.3-191.7h0m0.1 3h0m164.4 64.4h0m2.6-2.6h0m0.5-2.7h0m-111.5 15h0m3.6 2h0m44.6-46.5h0m2.4 1.8h0m2.3 2.9h0m2.6 2.8h0m-71.3 89.1h0m2.2-0.3h0m3.4 1.6h0m-85.1-96.4h0m-3.8-1.2h0m-2.9-1.1h0m-3.7 1.4h0m99.7-23.8h0m2.2-1.9h0m54.4 30.5h0m5.1-0.5h0m3.2 2.1h0m77.4-172.6h0m-1.7-2.5h0m-2.7-3.2h0m14.7 132.7h0m-3.6-1.4h0m-109.7-120h0m-3.1-1.7h0m6 257.6h0m2.3 2.1h0m3 1.9h0m2.5 2h0m3.5 2.3h0m-70.8 37.8h0m-3.1-2.1h0m-1.6-2h0m-26.8-43.4h0m1.1 3.9h0m0.9 3.2h0m50.7-41.2h0m1.1 2.4h0m73.1-291.8h0m-3.9 2h0m-3.3 2.4h0m71.4 120.1h0m3.9-0.3h0m1.6-2.2h0m5.2-0.8h0m-249.7 146.7h0m0.5 1.5h0m177.3 97.4h0m4.1 0.7h0m-119.7-66.3h0m13.7 79h0m-4.1-1.1h0m38.7-44h0m-2.4-0.4h0m-2.3 3.2h0m-4.1 2.6h0m73.5-255.3h0m157.3 221.7h0m0.9-2.9h0m-113.2-339.3h0m-0.4 3.4h0m1.6 2.1h0m54.7 429.7h0m-333.3-148.5h0m-2.9-0.6h0m150.1-205.1h0m-2.4-3h0m267.6 219.1h0m-1.4 3.1h0m-0.9 2.9h0m-1.9-32.4h0m-2.2 2.2h0m-2.4 2.5h0m-266.8 120.4h0m-4.1-0.1h0m-2.5 0.6h0m-3 0.2h0m98.5-175.2h0m188-67h0m-2-1.5h0m-1.4-2.5h0m16.5 16.6h0m-382.9 253.7h0m213.7-267.2h0m-3.5 1.6h0m-4.1-0.8h0m59.7-30.1h0m-11.9 265.7h0m-2.2 2.8h0m-0.9 4.9h0m-121.1-342.4h0m-1-2.8h0m19.8 20.5h0m5.3 308h0m-1.4 3.3h0m0.1 2.6h0m-32.9-57.3h0m-1.1 1.5h0m115.5-277.8h0m-4.4 3.5h0m-2.2 1.3h0m-116 227.2h0m115.4 116.7h0m-1.9-1.7h0m-22.2-185.6h0m1.6 2.9h0m-49.1 71.6h0m-1.5 0.9h0m-2.7 2.2h0m-138.2 69.3h0m1.9 1h0m3.3 2.9h0m11.3-69.3h0m241.2 126.3h0m-111.5-76.3h0m-1.3 4.6h0m-0.9 2.3h0m-3.9 2.1h0m39.5-6.1h0m4.4-0.2h0m3.4 2h0m-178.8-154.2h0m-3.1-1.8h0m-1-1.3h0m411.8 5.6h0m3.9 2h0m1.7 0.3h0m-158.5 189.5h0m2.8 1.9h0m-166 57.6h0m-4.5-0.7h0m-2.7-1.2h0m-3.2-0.5h0m37.7 10.6h0m-0.8-3.1h0m0-4.1h0m0.2-2.4h0m-2.1-4.1h0m-60.7-256.1h0m0.3-3.3h0m-0.9-4.1h0m235.2 121.2h0m-3.6 1.8h0m-158.2 19.3h0m112.8 86.8h0m-3.4-1.6h0m-289.4-178.9h0m-1.3-1.7h0m-1.9-4.6h0m248.2 70.3h0m1.8 2.2h0m-40.9-53.4h0m-0.4 3.8h0m0.7 4.4h0m1.3 2.8h0m-0.1 3.3h0m142.7-25.5h0m-2.6 3.2h0m-2.1 2.2h0m-156.1-130.7h0m-3 2.8h0m-0.7 3h0m-2.5 2.1h0m-3.2 2.9h0m46.1 19.8h0m-8 169.8h0m2.5 2.5h0m2.8 1.9h0m2.7 1.6h0m-7.9 55.8h0m1.6 3.6h0m-0.3 3.7h0m2.1 2.1h0m-203.1-8.9h0m-0.7-3.4h0m0.5-3.4h0m373.6-195.7h0m-224.4-105.6h0m3.4 1.8h0m35.3 54.1h0m-3.3-2.3h0m-2.3-1.7h0m-3.8-2.2h0m-2.3 36.3h0m-2.8 1.9h0m-2.1 3.1h0m-199.7 205.2h0m3.2 1.6h0m3.7 0.2h0m3.9 0.7h0m410.7-97.3h0m-3.7 1.4h0m-47.2-146.8h0m3.1 0.4h0m-187-104.9h0m-4.1 2.4h0m-226.4 233.2h0m-1.9-2.6h0m387.4-17.6h0m-3.6-0.6h0m-3.8 2.3h0m-4.4 0.3h0m-61.3 57.9h0m-3.2 0.5h0m-3.5 3.1h0m-3.8 0.9h0m2.4 152.6h0m0.1-3.3h0m0.2-3.4h0m1-384.4h0m2-2.2h0m1.3-1.2h0m220.9 176.2h0m-241.9-96.1h0m2.9-3.2h0m2.4-2.6h0m191.7 68.7h0m2.4 2.1h0m1.3 1.7h0m-431.3 215.9h0m2.6-3.3h0m17.2-202.9h0m3.1-1.5h0m-30.2 121.2h0m1.8-2.9h0m2.5-1.2h0m303.4-227.5h0m0.9-2.9h0m-270.2 159.6h0m-1.9 3.2h0m-3.2 0.7h0m-64.2-28.3h0m1.4-3.8h0m1.5-3.3h0m272.2-33.2h0m2.8 3.9h0m-0.1 1.6h0m44.4 105.5h0m29.4-81.2h0m-0.4 3h0m-230 78h0m235.8-16.8h0m-1.9-1.9h0m-257.9-39.5h0m123.9 58.9h0m-215.2-92.8h0m3.8 0.8h0m0.6 2.7h0m94.3 219.1h0m2.8 2.7h0m205.5-168.2h0m0.6-4.2h0m-0.1-2.4h0m-139.1 183.1h0m-1.4-4.2h0m0-3.5h0m-1.6-2.2h0m0-5.3h0m60.7-333h0m-2.4 1.9h0m-2.2 3.9h0m23 27.9h0m1 3.7h0m-138.9 78.5h0m-1.9-1.3h0m-3.3-0.8h0m137.1 246.3h0m99.3-47.7h0m2.7-1.9h0m-104.4-363.4h0m-3 3h0m-1.7 2.2h0m-2.5 1h0m48.8-59.9h0m2 3.3h0m2.3 1.8h0m-96.6 370.7h0m-30.1 101.1h0m3.2 1.6h0m2.1-1.2h0m4.1 0.2h0m3.9-1.4h0m21.6-31.1h0m2.7-0.4h0m5-1.8h0m-128 6.3h0m201-147.4h0m2.5-3h0m43.4-104.7h0m-1.3-3.5h0m-279.6 16.1h0m113.5 115.4h0m0.3-5h0m97.3-32.5h0m2.4-1.8h0m28.4-262.5h0m-202.9 359.8h0m76.7-170h0m2.8-1.1h0m2.2-3.3h0m195.5-121.2h0m-74.4 278.1h0m0.8 3.2h0m14.4-74.6h0m3.1 1.4h0m-81.8-194.5h0m2.9-2.7h0m4.1-2.2h0m1.5-1.4h0m111.9 112.6h0m-2.8-1.7h0m-117.5-78.4h0m3.9-1.4h0m-49 355.1h0m-0.9-1.8h0m-3.9-2h0m-69.6-178.8h0m-4.1-3h0m-1.1 0.2h0m25.3 61.6h0m3.1-1.9h0m2.7-1h0m45.7-72.6h0m1.1 4.1h0m48.7 42h0m2.7-0.1h0m4-0.5h0m3.3-0.8h0m190-60.1h0m-4.3 1.9h0m-219.9-69.5h0m-1.2 3.3h0m-8 145.6h0m3.9 0.8h0m92.5-51.2h0m160.5 45.6h0m-1.3 3.2h0m-1.4 3.6h0m-336.4 104.5h0m-2.5-1.2h0m-3.3-3.1h0m150.2-258.8h0m-1.4-4.7h0m1.3-2.1h0m-216.4 74.3h0m1.2 2.9h0m3.4 0.4h0m252.4-227.5h0m2.5 2.5h0m79.7 357h0m2 3h0m-37.8-134.5h0m1 1.9h0m55.1 34.2h0m0.5-2.8h0m0.3-3.7h0m23.6-87h0m-2.7-1.3h0m-3-2.8h0m-402.8 37.9h0m-0.4 3h0m2.1 3.4h0m178.2 187.8h0m-66.9-185.5h0m3.7 2h0m159.4-248.6h0m2.3 1.6h0m4.7-1h0m-10 3.8h0m-1.4 0.8h0m-2.6 1.7h0m-3.4 0.2h0m-188.3 317h0m3.2-1.2h0m75.4 103.3h0m-33.3-201h0m-0.2-3.6h0m0-4.4h0m173.4 15.6h0m-90.4 189.3h0m2.9-1.8h0m3-1h0m4.3 0.1h0m-0.9-58.4h0m-0.6-3h0m-2.2-3.4h0m-1-2.1h0m-8.3-110.8h0m-3.3-2.3h0m-1.8-0.4h0m-1.9-3h0m169 16.2h0m-1.1-2.9h0m-80.1-55h0m0.7-3.3h0m-78.8 218.6h0m-1.1-4.1h0m1-3.3h0m-110.4-135.1h0m3.3 1.5h0m2.5 0.2h0m-4.3 132.1h0m-2.8 0.1h0m-3-3.6h0m-3.4-2h0m376.5-150.5h0m-2 0.4h0m-23.6 10.7h0m-6.2 0.1h0m-2.3 0.3h0m-3.1 0.4h0m-4.3 0.5h0m-378.8 78.8h0m-2.7-0.4h0m-3.8-0.9h0m173.3-92.1h0m0.4-2.7h0m39.7 106.1h0m72.7 106.3h0m17.7-218.1h0m2.9 1.6h0m3.5 2.2h0m-172.3 225.1h0m-100.3-43.6h0m1.2-0.8h0m-8.1-91.2h0m342.9-185.9h0m-3.9 2.1h0m-39.6 246.5h0m-0.7-2.2h0m-0.8-3.9h0m-58.3-120.9h0m0.5-3.5h0m-0.6-2.7h0m-196.8 174.7h0m-2.6 0.2h0m-3.6 1.4h0m171.9-213.8h0m-3.4-1.3h0m164.3 37.6h0m-2.6-2.2h0m-129.5-198.4h0m2.7 2.3h0m140.9 181.5h0m0.3-3.4h0m1.7-2.3h0m-0.2-3.5h0m-243 13.2h0m3.1-1.9h0m55.6-42.5h0m-2.4 2.6h0m-10.2-84.1h0m181.5 98.7h0m2.7 2.2h0m1.9 2.8h0m-170.6-85h0m-2.1 2.1h0m0.1 3.6h0m149.3 121h0m-1.2-2.1h0m-172.8 81.5h0m2.1-3.2h0m2.1-1.6h0m9.9-92.5h0m1.6 3.6h0m1.6 3h0m-174.8 140.7h0m1 4.5h0m1.1 2.6h0m126.3-322.2h0m1.5-4.2h0m67.9 329.1h0m-2.9-0.6h0m182-111.6h0m-240.8 21.8h0m-0.5-1.5h0m1.5-5.3h0m-175.3 48.1h0m-3.6 1.9h0m-2.9-0.6h0m196.9 74.2h0m-1.7-2.2h0m-3.6-0.8h0m-1.9-3.9h0m-191.6-184.6h0m-2.6 2.7h0m-44-16h0m-5.8 1h0m-2-1.7h0m221.8 109.1h0m0-2.4h0m-1.1-3.4h0m47.4-67.8h0m3.4 0h0m3.8 0.4h0m2.7-0.6h0m33.2 165.9h0m3.6-2.4h0m3.2-0.5h0m70.5-310.1h0m1.6-1.7h0m-157 176.3h0m1.1 4.1h0m1.7 3.3h0m210 15.4h0m2.9-2.6h0m-150.1-239.7h0m1.4 3.4h0m-217.3 293.9h0m2.3-3.7h0m1.4-2.3h0m223.9 42.3h0m-1.1-2.3h0m35.5-217h0m2.5-0.4h0m3.2-2.1h0m140.1 51.9h0m2.1 1.8h0m2.1 3.4h0m-459.4 156.1h0m374.1-165.9h0m0.4-2.9h0m-1-3.1h0m-345.1 137.2h0m-3.3-0.4h0m-3.6-0.7h0m-11.9-139.3h0m-1.4-2.9h0m-5.1 222.3h0m62.2-62.8h0m2.9-2.2h0m228.3-295.1h0m2.5-2.6h0m1.8-2.7h0m-112.4-20h0m11.6 61h0m-0.6-3.8h0m-2.5-2.1h0m-210.9 119.9h0m-2.8 2.7h0m-1.6 2.9h0m-5.1 56.5h0m-1 2.5h0m-2 2.8h0m-2 3.8h0m0.5 3.3h0m110-69.8h0m84.8 115.3h0m-3.8 0.8h0m35.2 88.2h0m1.3 3.3h0m-0.1 3.6h0m216-222.8h0m0.7-3.2h0m1.2-3.5h0m-146.2 54.7h0m-0.1 2.7h0m-1.9 3.6h0m59.6 63.4h0m-0.1 3.5h0m-151.1-157.1h0m109.6-27.9h0m1.9 0.9h0m149.6 97.7h0m3-1h0m-218.8 201.8h0m-170.9-244.9h0m0.8-1.7h0m281.6 67.5h0m0.4 2.3h0m0.3 4.4h0m1.4 3.3h0m-196.3-85.3h0m-0.8-2.6h0m-0.5-2.4h0m251.4-27.4h0m-234.7-106.6h0m1.1 2.3h0m2.7 2.2h0m35.5-28.2h0m-4.4 1.4h0m182.1 297h0m-1.5 4h0m-10.7-69.7h0m-263.3-63h0m-18.6 151.8h0m-1.9 2.8h0m186.1-83.8h0m1.6 3.5h0m3.3 3.2h0m-68.7-167.9h0m0.2-5.7h0m0.4-2.7h0m1.1-1.8h0m-83.5 241.3h0m2.7-3.6h0m164.4 70.6h0m-158.8-158.7h0m-1.4 2.3h0m-2.2 2.3h0m167-190.7h0m-0.3-4h0m0.8-4.7h0m-1.6-2.1h0m30.6 364.4h0m-29.7-326.9h0m97.5 65.3h0m0.9-2.8h0m-0.3-3.7h0m0.9-3.3h0m-182.2 153.3h0m-2.1 2.6h0m-19.5-199.4h0m-2.2 1.2h0m286.1 142.9h0m2.9 1.1h0m4.5 1h0m-102.9-118.2h0m0.6-2.4h0m3-2.4h0m-183.8 184.6h0m0.1-1.8h0m203.8-25.7h0m3.3-1.2h0m-161.6-215.9h0m159.6 232.6h0m-1.6-5.1h0m0.8-3.8h0m-1.2-2.2h0m-1.4-3h0m-191.4-61.6h0m-2.4 2.7h0m-0.8 1.7h0m-0.2 2.9h0m64.7-5.8h0m-4.5 0.7h0m-1.5 3h0m-2.7 106.1h0m0.5-2h0m0.6-3.9h0m-25.8-37.1h0m172.8-158.9h0m-0.6-3.6h0m-0.5-2h0m-202 121.7h0m2.2-0.8h0m4.1-3.1h0m203.3-32.4h0m-1.1 3.3h0m-1.6 3h0m-145.8 152.2h0m-1.7-2.2h0m184.5-186.1h0m-265.9-94h0m4.5-2.4h0m1 0.6h0m102.8-14.4h0m-4.7-1.2h0m-3.7-1.2h0m-132.9 83.2h0m-65.8 156.1h0m341.7 23.3h0m-2.1 0.7h0m-178.4-225.8h0m1.1 3.3h0m16.4 0.9h0m-0.1-1.3h0m2.6 45.3h0m0-3.4h0m-231.8 241.8h0m3.8 0.2h0m2.5-0.3h0m4.6 0h0m-49.7-183.3h0m99.7 59.5h0m127.8 186.9h0m-1.1 2.9h0m-0.9 3.7h0m-1.8 1.6h0m71.5-375.8h0m1.8 2.8h0m0.9 3h0m0.9 4.4h0m0.8 1.8h0m-69.3 94.8h0m-3.4 1.6h0m-2.6 0.4h0m-3.3 1.3h0m71.5 187.4h0m1.1-1.4h0m-142.8-141.5h0m-111.9 153.9h0m178.8 1.1h0m-135.1-82.9h0m3.3-1.7h0m0.6-2.8h0m315-176.9h0m3.1-1.4h0m2.3-2.5h0m-15.2 69.3h0m-2.8 1.3h0m-1.9 3.1h0m-35.7-144.4h0m-4.1-0.4h0m-261.7 164.4h0m-0.9 4.2h0m-1.6 1.6h0m-1.8 3.1h0m-12.9 135.4h0m-3.4 3.8h0m-1.3 2.2h0m207.5-345.4h0m-129.7 317.9h0m3.9 0.5h0m266.5-48.1h0m-2.9 1.7h0m-4.1-0.6h0m-170.6 15.1h0m2.8 3.5h0m1.8 2.6h0m23.6-88.2h0m-0.9 2.5h0m29.2-31.7h0m0.8 4h0m-17 126.4h0m-2.4 3h0m15.5-315.5h0m1.8-2.6h0m-1.3-3.5h0m85.4 340h0m-201.6 115.1h0m-4-3h0m-3.1-1.2h0m-3.5-2.5h0m260.5-119.4h0m-177.4-239.9h0m3.3 0.4h0m2.5 1.7h0m205 102.7h0m-3.1-3.2h0m-1-1.8h0m-173.8-142.4h0m2.8 0.6h0m3.4 0.7h0m71.6 215.6h0m1.5 1.9h0m0.2 4h0m6.6-61.9h0m-1.8 4.4h0m-1.5 3.4h0m-1.4 3.2h0m55.9 93.9h0m-440.5-64.7h0m1.5 3.9h0m3 1.3h0m194.3 156.8h0m0.1 4h0m-1 4.2h0m100-229h0m-0.5 2.7h0m-0.4 5h0m-103.3 168h0m-3.2-0.2h0m-3.3 0.2h0m-3-0.1h0m110.2-234.8h0m3.9 0.8h0m2.2 2.6h0m3.1 0.2h0m-34.4 305.4h0m2.8 0.3h0m-11.6-293.5h0m50.8-116.6h0m-2.6 1.3h0m-1.2 4.1h0m-89.1 262.9h0m-2.1 3.3h0m-0.5 2.5h0m-0.8 3.4h0m-71.8-19.5h0m2 2.5h0m95.7-75h0m-7.3 202.4h0m0.9 2.4h0m0.4 3.4h0m7-316h0m242.4 158.2h0m4.4-2.4h0m3.1-0.3h0m2.1-1.1h0m-187-231.3h0m2.6-3.4h0m1.4-2.2h0m150 245.3h0m4.1 0.1h0m-172.7 138.9h0m-2.3 2.7h0m40.9 19.3h0m1.1-3.3h0m-1.2-2.2h0m-78.1-368.5h0m100.2 225.7h0m-2.1 3.4h0m-78-95.8h0m-3.8-1.8h0m189-42.5h0m-4-0.6h0m-3.1-1.3h0m-4-0.8h0m-218.9 129.4h0m-4.6 0.1h0m-2.6 1.8h0m-5 1.5h0m29 14.1h0m-2.7 1.5h0m-2.1 2h0m139.2 28h0m-2.9 0.9h0m-3.3 1.2h0m-99.1-75.2h0m2.6-0.3h0m-181.9 175h0m-0.9-2.4h0m-0.8-2.5h0m190.9-64.4h0m0 2.8h0m-96.1 19.9h0m-1.6-4.1h0m-0.9-2.4h0m155.6-258.9h0m51.3 47h0m0.8-3.6h0m-53.1 133.2h0m2.6 2.9h0m-143.2-103.1h0m-2.1-2.6h0m-2.3-2h0m179.9-78.2h0m1 3.7h0m-196.7 330.5h0m3.5-0.8h0m-86.1-47.5h0m-1.9-4.3h0m-61-134.1h0m-0.6 4.8h0m156-68.4h0m-1.8 1.5h0m-22.3-94.6h0m2.2 2h0m3.4 0.7h0m4.7 0.5h0m174.3 91.8h0m-0.7 3.9h0m-118.1-170.5h0m1.4 12.4h0m-2.8 3h0m-0.3 3.5h0m55.8 108.9h0m-4.9 1.4h0m39.1 212.4h0m-15.1-324.3h0m-3.2-3.8h0m-1.3-2.4h0m-1.9-4.4h0m-77.8-8.9h0m-179.4 325.8h0m-3-2.3h0m123.1-26.3h0m-3.1-1.8h0m-2.5 0.4h0m-49.7-38.9h0m-3-0.2h0m-2.7-0.2h0m241.1-173.2h0m3.8-0.6h0m-315.3 70.3h0m-2.1-1.2h0m-4-1.5h0m-2.8-0.7h0m242.5-22h0m-0.6 2.4h0m-0.1 3.5h0m-210.2 173.4h0m205.4-330.5h0m0.8-3.4h0m2.6-3.1h0m2.4 135.9h0m1.7-2.3h0m2-3.7h0m-47.1 146h0m3.2-1.1h0m4.4-2.5h0m192.3-19.9h0m5.4 0.4h0m2.9 1.6h0m-249.8-113.8h0m-37.5 139.3h0m-1.1 1.8h0m-3.5 1.9h0m328.9-56.4h0m-4.3 0.3h0m-4 1.4h0m-2.5 0.6h0m-112-25.1h0m-299.5 82h0m-1.2-5.5h0m235.9 154.3h0m-3.5 0.8h0m-52.2 12.9h0m3.1 0.4h0m-102.6-231.8h0m-1-2.1h0m-2-2h0m122.1-36.4h0m-0.1-3.9h0m109.3 10.6h0m2.6-2.8h0m1.2-2.3h0m1.4-5.3h0m-131.3-147.8h0m-3.4 2.1h0m-2.5 2.8h0m-1.1 2.2h0m-166.1 166.8h0m-1-3.9h0m254.3-57.3h0m2.6-1h0m39 79h0m5-0.2h0m2.7-1h0m3.4 0.4h0m-218.4 111.7h0m0.8 2h0m1.4 4h0m33.4-39.4h0m1.3-2.2h0m18.4 175.1h0m-2.3-2.7h0m-3.6-2.5h0m-64.9-203.1h0m3.7 0.1h0m3.4 1.9h0m350.4-51.5h0m-1.8-3.5h0m-226.3-174.4h0m-0.9 1.7h0m-232.8 179.1h0m2.2 2.7h0m1.3 2.5h0m185.8-51.4h0m-2.8-3.6h0m-3.5-2.6h0m-1-3.2h0m209.1 119.8h0m-0.5-3.3h0m0.9-3.7h0m0.9-2.9h0m-353.7 117.9h0m3.8-0.9h0m13.5-115h0m206.2-79.2h0m-3.5-4h0m25.9 136.4h0m-2.5-3.6h0m-3.3-0.9h0m-79.9-117.1h0m-2.5 1.6h0m-3.3 0.4h0m-3.3 0.3h0m249 21.6h0m-128.1 222.3h0m24.1-274.3h0m-0.6-4h0m100.2-15.3h0m2.4 0.5h0m3.9 1.8h0m2.3 0.5h0m-241.4 248.3h0m3.1 1.4h0m2.5 1.1h0m203.6-232.3h0m1-2.6h0m1.4-4.2h0m0.6-3.5h0m-413.6 21.8h0m-0.2-1.7h0m342 192.6h0m0.4 4h0m0.3 2.7h0m-192.2 22.2h0m3.4 2.5h0m3.1-0.7h0m3.2 1h0m2.9 0.5h0m-68.6-149.1h0m3.2-1.4h0m-65.4 50.6h0m55.9 21.1h0m210.7-68.4h0m-1.9 3h0m-2.1 161.3h0m2.2-2.8h0m2.2-3.8h0m3-1.6h0m-57.5-22.2h0m2.3 2h0m-0.3 3.1h0m-20.1-114.5h0m-3 3.5h0m-2 2.3h0m-3.2 1.3h0m-161.1 52.4h0m136.4-324.2h0m0.8 4h0m0.7 2.9h0m12.6 161.4h0m3.7 0.4h0m2.7-0.3h0m4 1.4h0m223.2-34.8h0m-291.7 49.7h0m-0.8-2.7h0m-2.1-4.4h0m119-40h0m-3.9 0h0m-2.5-0.4h0m-150 58.1h0m-2.7-3.2h0m-1.9-1.9h0m150.2 155.7h0m-2.3 0.7h0m-3.5 2h0m-2.8 1.5h0m-3.3 1.9h0m-19.7-365h0m3.2 1.2h0m3.2 1.4h0m-238 186.8h0m1.4 2.2h0m121.5 5.6h0m3 0.6h0m-7.8 41.3h0m2.9-1.1h0m60.1-95.9h0m1.4 3h0m228.8 127.7h0m1.1 3.2h0m2.4 1.2h0m2.3 3.5h0m-178.1 127.5h0m2.1-1.7h0m2-4.7h0m2-2.2h0m0.8-2.7h0m-50.1-94.5h0m2.4 3.8h0m-25.5-120.5h0m0.8 4.2h0m-65.8 165.3h0m-3.4-1.6h0m130.1-145.8h0m65 70.2h0m-2.9-0.8h0m-3.3-1.2h0m-3.5-1.1h0m30.8-172h0m0.8-3.3h0m2.9-3.4h0m26 147.1h0m-4.4 0.6h0m-1.8 3.1h0m-2.3 0.4h0m-49.3-156.7h0m-2.5-3.8h0m-2.5-1.4h0m3.4 87.1h0m1-2.4h0m110.4 78.8h0m1.4-3.7h0m0.3-1.7h0m-106.4 221.9h0m-2.2 2.1h0m-39-422.4h0m0.3-2.3h0m12.4 173.8h0m4.9 1.5h0m36.2 94.2h0m3.3-1h0m58.3-197.4h0m2.7-3h0m2.4-2h0m-118.6 319.8h0m145.1-135h0m-1.1 3h0m-206.3 114.4h0m-4.3 0.4h0m37.7-224.3h0m-0.7 3.5h0m1.3 1.5h0m97.4-127.7h0m2.9-1.6h0m2.3-1.9h0m-75.7 363.4h0m-28.8-137.1h0m-167.8 47.8h0m4.6-1.3h0m2.3-0.8h0m2.3-0.6h0m101.6-38.1h0m0.9 4.5h0m0.6 1.3h0m-69.9 117.3h0m-2-0.5h0m-4.8 2.1h0m-1.9 1.3h0m117.6-134.5h0m3.6 2.3h0m1.7 2h0m209.5-7.8h0m-3.9 1.2h0m-1.6 0.4h0m-235 146.9h0m1.8 2.6h0m-17.7-9.7h0m3.3 0.4h0m3.3 2.1h0m9.9-229.2h0m24.4 87.2h0m-2.5-0.5h0m86.8-83.6h0m1.5 197.2h0m2.7-1.8h0m3.2-1.3h0m54.8-47.6h0m2.2-2.5h0m87.4-94.6h0m-307.3 82.8h0m1.9-3.1h0m62.7 43.6h0m-1.7 3.3h0m-3 0.5h0m115.8 70.8h0m-144.5 17h0m1-3.5h0m98.4-392h0m-3.1 1.4h0m9.9 220.2h0m1.9 2.2h0m2.7 0.5h0m11.3-49h0m-2.9 0.6h0m-99.1 87.1h0m1 2.2h0m2.1 2.4h0m3.3 2.3h0m-41.1 112.8h0m2.4 0.5h0m3.7-0.9h0m-77.2-182.4h0m3.2 1.2h0m-15.6-38.3h0m265 196.4h0m-2.6-1.2h0m-3.2 1.4h0m-133.7-167.7h0m2.9 1.7h0m3.8 1.7h0m89.3-232.6h0m-3.7 0.3h0m-157 250.9h0m157.8-207h0m-62.6 16.9h0m-1.5-1.2h0m-3.7-0.5h0m-3.4-2.8h0m-2.9-0.5h0m-30.3 260.3h0m1.6-2.4h0m0.1-4.2h0m-1.7-3.1h0m11.4-10.5h0m2-2.9h0m3.6-2.8h0m135.7-210.5h0m2 2.3h0m-283.5 137.1h0m1.3-2.6h0m249.6 112.4h0m1.9 4.1h0m-1.8 2.5h0m-245.8-80.1h0m253.8-253.3h0m-3.1-0.2h0m-3-1.8h0m-82.2 321.5h0m0.3 3.4h0m1.7 3h0m-183.2-56.4h0m3.3 1.3h0m2.5 2.5h0m167.4-113.2h0m2.4-0.4h0m57.7-72.7h0m-3.9 0.1h0m-5.2 316.7h0m44.3-15.7h0m-1.5-1.3h0m-23.2-69.9h0m2-2.4h0m2.6-2.4h0m-74.8-31.6h0m-3.9-0.7h0m45.1 80.9h0m-2.7 2.2h0m-3.2 0.4h0m153-278.3h0m-2 2.8h0m-1.8 3h0m-2.8 3.3h0m-168.7 99.3h0m-1.1 3.1h0m-0.4 3.2h0m-1.2 3.3h0m-203.6 87.8h0m3.2 0.5h0m4.6-0.3h0m182.1-274.3h0m2-2h0m192.2 163.9h0m-3.8-1h0m-3.3 0.8h0m-302.5 181.9h0m-2.9-2.6h0m-2.7-2h0m107.3 1.1h0m2.3-3.1h0m2.7-2.1h0m-22.4-34.5h0m69.1-71.4h0m2.7 4.2h0m0.9 1.9h0m-92.4-185.5h0m-0.9-3.8h0m0.2-3.3h0m237.5 42.6h0m2.9-3.9h0m1.6-2.8h0m1.4-3.9h0m-50.2-29h0m-1.8-2.2h0m-4.7-1.8h0m-2.3-2.5h0m-331.9 241.6h0m-2.9-120.8h0m-1.2 3h0m1.2 4.5h0m357-166.8h0m-1.5 2.8h0m-0.6 3.6h0m-237.1 207.6h0m2.2-2.7h0m2.3-1.5h0m86.9-71.8h0m-3.6-0.8h0m-2.4-2.4h0m-4-1h0m108.1 137.7h0m-83.6-297.3h0m-3.4 1h0m-3.4-0.9h0m-3 0.1h0m-23.5 272.4h0m-1.7 3.9h0m-1 1.7h0m-2.7 2.9h0m-1.7 3.1h0m-154.6 108.7h0m125 3.8h0m0.2-3.3h0m-2.8-1.8h0m79.3-207.6h0m3-0.5h0m40.4 258.3h0m3.6 1.4h0m3.5 1h0m-137-167.3h0m-2.2-1.8h0m-1.4-3.4h0m1.3-178.8h0m3.3-1.7h0m3.6-1.9h0m40-99.1h0m2.8 4.2h0m2.5 1.4h0m3.7 2.7h0m188.6 203.5h0m-1.9 1.7h0m-3.9 1.8h0m-94.3 221.9h0m-0.6 3.1h0m-1 3h0m-282.2-223.6h0m-0.7-3.8h0m331.9 39.6h0m-199.4 113.9h0m86.3-65.7h0m0.4 4h0m1 4.2h0m9.5-89.4h0m1-127h0m3.2-1.4h0m168.4 4.8h0m1.8-1.8h0m-125.3 108.9h0m-56.4-172.9h0m3.3-0.3h0m39.9 376.8h0m-3.4-0.5h0m20.6-13.9h0m3 0.6h0m-156.7-133.3h0m-3.6-0.8h0m-4.1 2.3h0m183.8 6.4h0m1.5 4.8h0m-40 52.7h0m3.8-2.6h0m1.9-1.8h0m-90.4 81.2h0m-4.7-2.4h0m-3 0.2h0m-163-191.1h0m1.2 3.2h0m2.1 1.5h0m405.3-101.2h0m-118.1-2.1h0m1.5 193.2h0m-139.2 121.9h0m0.1-3.3h0m-31-78.5h0m-1-1.5h0m0.9-5.3h0m-0.2-3.1h0m-40.9 41.4h0m0.2-2.8h0m3.4-2.1h0m-39.9-3.7h0m-3 1h0m-2.3 2h0m47.9-44.9h0m3.9-1.4h0m0.7-3h0m269.1-72.9h0m1.7 3.7h0m3.4 2.1h0m-166.1 89.7h0m2.3-0.6h0m4.4-0.4h0m-53.3 15.9h0m-3.6 0.3h0m-1.9 0.9h0m276.4-166.7h0m2.8-1.8h0m3.3-1.9h0m-300.7 78.9h0m229.9-195h0m-380.3 155.2h0m-2.7-2.1h0m413.2-83.1h0m1.5-3.7h0m-0.4-3.5h0m0.4-2.6h0m-292.4 102.2h0m1.5-2.1h0m0.1-4.4h0m174.9 82.4h0m-51.4 40.9h0m-2.4-0.4h0m-3.3 0.3h0m53.1-148.4h0m-0.6-4.4h0m-2.3-4.4h0m-264.5 140.8h0m4.1-0.9h0m258.9-13.5h0m0.1 3.1h0m-2.3 3.3h0m32.4-183.4h0m2.8 2.3h0m2.9 0.5h0m-20 27h0m0.1 2.7h0m-271.2 64.5h0m149.7-204.6h0m0.7-3.1h0m1-3.1h0m155.7 264.5h0m-2.3 4.1h0m-0.2 1.3h0m44.5-67.8h0m-0.2-3.1h0m2.5-3.1h0m0.4-2.2h0m-179.8-129.2h0m108.8 195.5h0m2.9-2.1h0m3.4 0.9h0m3.8-1.8h0m-137.1 41.5h0m1.3 2.9h0m0.6 2.9h0m-41.2-11.7h0m3.9-2.2h0m1.5-1.3h0m3.8-2.6h0m-7.4 51.2h0m2.1 0h0m2.8 1.1h0m247.6-270.7h0m4-1.7h0m-61.6 183.1h0m-2.4-2.9h0m46.3 21.7h0m-0.5 2.2h0m-28.6-247.5h0m-1.7-1.5h0m-2.7-3.2h0m-3.8-1.8h0m24.3 284.5h0m1.8 0.9h0m3.8 2.1h0m-267.9 20.2h0m1.3 2.6h0m0.3 3.6h0m258.7-104.2h0m3.6 1.3h0m-356.2 68.3h0m2.1-2.4h0m-0.7-2.2h0m196.8-222.9h0m2.6 3.2h0m2.3 1.7h0m2.1 1.8h0m56.4 247.4h0m1.4-1.6h0m51.7-5.6h0m3.5 0.6h0m-352.3-71.6h0m181-116.1h0m-1.4 0.9h0m-151.2 203.2h0m157.2-242h0m0.5 3.5h0m-55.6 118.1h0m3 0.5h0m5.1-0.8h0m363.8-48.8h0m3.2 0.1h0m3.3-0.9h0m-437.9 41.6h0m-0.1 3.5h0m0.1 2.9h0m294.1-132.2h0m-0.1-3.6h0m-196.4 325.6h0m-1.4 2.7h0m85.7-410.1h0m-3.4-0.6h0m-34.7 263.6h0m2.9 2.4h0m0.2 3.8h0m2.2 2.3h0m232.4-64.2h0m-0.7 1.6h0m0.6 3.3h0m0.1 3.3h0m-404.6 117.8h0m2.5-0.8h0m3.2-0.6h0m2.7-2.4h0m165.8-274.6h0m-2.7 2.4h0m-218.8 95h0m439.9 10.4h0m2 4.8h0m1.2 1.2h0m-110.3-148.3h0m1.8-2.1h0m2.6-3.1h0m122.8 156.5h0m3.4-2.2h0m1.7-2.2h0m3-3.5h0m-132.1 206h0m-2-2.6h0m-45.9-404.2h0m-4.5-1h0m-2.8-1.1h0m-200.3 237.7h0m4.5 2.1h0m3.3 0.5h0m-48.6-24.9h0m-1.1 3.3h0m-0.1 3.5h0m-0.3 2.5h0m0.6 3.4h0m321.4 94.4h0m-2 4.2h0m-0.2 2.2h0m-2.6 3.4h0m-237.1 92.8h0m-3.7 1.4h0m-1.7 0.3h0m42.6 3.8h0m2.8 4.1h0m1.9 2.4h0m274.9-271.9h0m-2 1.1h0m-123.6 116.5h0m4.9 2.5h0m-59.2 104.9h0m2.5 1.8h0m1.6 3.7h0m46.9-285.1h0m-71.1 296.9h0m-5.8-171.4h0m-2.1 1.2h0m-46.7 57.7h0m-3.6 1.2h0m-2.3 0.1h0m-2.7 0h0m34.7-86.8h0m22.3 148h0m218.4-203.9h0m0.9-3h0m-198.4 12.7h0m18.3-37.4h0m-67-45.3h0m-3.9-3.2h0m116.8 88.7h0m2 3.1h0m28.3-90h0m-2.4-3.4h0m-1.6-2.7h0m88.4 263.3h0m-2.6-2.2h0m-0.6-3.2h0m-1.7-3.5h0m-221.9-69.7h0m0.5-2.8h0m101.2 18.5h0m3.4 0.5h0m-200-69.3h0m3-1.1h0m1.8-2.4h0m4-3.3h0m-98.9 108.1h0m8.4-89h0m3.1 0.4h0m280.6-224.4h0m-182.2 209h0m0.2 3.8h0m307-19.6h0m-3.4-0.5h0m24.2 2.2h0m3.6 1.9h0m-382.3 275h0m-3-2.1h0m8 8.5h0m4.3-1.5h0m-6.1 16.6h0m20.7-7.8h0m-2.3-0.1h0m-3.7 2.4h0m5.7-25.1h0m-5.1 1h0m-18 0.4h0m-2.1 3.7h0m0.2 2.7h0m-1.2 2.9h0m17.7-2.4h0m-7.6-6.8h0m-3.6-1.8h0m14.5 19.3h0m-0.2 4.6h0m-1.1 2.5h0m-4-14.8h0m-11.5-12.9h0m-1.3-0.4h0m24.9 28.5h0m0.9-2.7h0m0.1-4.1h0m-11.5-19.1h0m-2.2-1.9h0m7.5 33.6h0m-0.5-2.7h0m1.7-3.7h0m1-2.9h0m-11.1 7.5h0m-1.4 2.8h0m-3.1 0.9h0m-5.2-29.6h0m-0.5 2.7h0m2.6 4.2h0m21-1.2h0m0-3.3h0" stroke="#c7e9c0" stroke-width="5.0" stroke-linecap="round" fill="none"/>
<path d="M387.3 1083.1h0m-124.5 20.3h0m275.6-169.5h0m-107.4 208.6h0m110.1-250.8h0m-49.7 25.6h0m13.7 343.9h0m1.4-44.1h0m-73.5-12.9h0m-147.3 38.8h0m340.6-1.3h0m-316.8-132.3h0m146.8 184h0m-33.9-14.6h0m134-394.9h0m-142.5 331.7h0m178.4 4.6h0m-64.3-72.2h0m-189.5 31.7h0m10.5 60.6h0m235.4-34.4h0m-203.4 73.7h0m85-23.3h0m-139.4-174.3h0m406.9 28h0m-168.2-73.7h0m-174.3 179.4h0m70.7-187.8h0m91.1 191.8h0m71.7-10.6h0m-195.3-159.3h0m-11.6 258.3h0m110.8-297.1h0m12.7 78.7h0m27.9-208.6h0m-23.4 208.5h0m42.3-97.3h0m14 98.3h0m-114.7 127h0m-178.7-33.9h0m383.4-88.9h0m12 70.3h0m-233.6-270h0m209.3 285.6h0m-362.9 97.2h0m54.8-179.3h0m31.6 147h0m193.5-227.1h0m-92 62.2h0m-186.6 77.5h0m150.6 39.5h0m184-145.1h0m-197.4 214.1h0m-1.3 56.7h0m49.6-11h0m34.5-87.4h0m-200.6-22.5h0m202.9-228h0m161.6 74.3h0m6.8 74.7h0m-245.9 22.9h0m-198.1-81.2h0m72.1 180.5h0m161.5-261.7h0m-42.2-35.6h0m180.9 128.5h0m-314 213.4h0m94.3-159.4h0m283.6-71.4h0m-221.9 47.2h0m46.7 214.6h0m-55-131h0m-171.2 95.6h0m344.8-201.4h0m-132.9-84.8h0m33.2 141h0m-167.6-45.3h0m187.8-223.9h0m-38.1 44.1h0m-42.9-1.4h0m140.2 261.6h0m-15.3-235.6h0m-166.9 87.6h0m62.6 178.7h0m-184.3 87.2h0m348.6-311.1h0m-190.6-4.4h0m213.7 195h0m-123.6-301.4h0m-87.2 151.3h0m-11.5 18.7h0m-73.5 79.7h0m175.3 162.4h0m-56.6 12.4h0m72.9-170.5h0m-39.5-279.6h0m28.3 249.1h0m-241.6-49.9h0m-3.8 87.8h0m142.8-27.8h0m-40.8 33.4h0m122.1 45.7h0m-137.7-128.2h0m105.5-32.3h0m-142.3 1.5h0m209.1 41.1h0m45.7 29.1h0m-256.3 129.9h0m201.6-20.2h0m-118 101.4h0m71.3-332.8h0m-2.4 94h0m-97.1 98.3h0m-71.1-13.4h0m80.8 81.8h0m303.1-153h0m-258-222.1h0m220.9 269.6h0m-300.8-24h0m-118.3 41.8h0m22.9-21.2h0m417.4-68.8h0m-52.8-61.9h0m-151.8 38.5h0m-65.4 199.8h0m42.7-104.4h0m-31.8-73.2h0m-51-90.2h0m48.7-77.5h0m80.8 20.6h0m103.3 265.5h0m-100.6-154.9h0m-4.7 119.4h0m-28.6 139.9h0m-53.9-294.3h0m36.2 94.6h0m-210.5 147.7h0m-18.3-111.2h0m94.1 180.5h0m172 12.7h0m-12.9-148.4h0m-4.6-246.9h0m133.6 198.8h0m-72.3-135h0m120.2 202.1h0m-152.3-264h0m-240.3 368h0m390.8-168.5h0m-431.5-67.6h0m40.7 52.5h0m306.7 194.7h0m-124.8-385.1h0m-42.9 301.9h0m5.6-121.4h0m-116 40.9h0m14.1 147.5h0m301.5-321.9h0m-228.6 275.9h0m-19.5-239.1h0m-88.2 177.8h0m206.8-215.9h0m-22.5-55.5h0m150.9 225.3h0m-315.9 66.6h0m297.2-70.9h0m-211.1 59.5h0m-43.5 96.7h0m-66-222.9h0m310.7 202.6h0m-314.9-98.8h0m81.6-117.9h0m67.7 105.7h0m19.2 50.1h0m-60.1 83.9h0m-81.9-69.2h0m146.1-78.3h0m69.7 85.6h0m-13-265.2h0m-174.5 293.4h0m352.3-159.8h0m-137.4 147.5h0m-154.2-94.7h0m237.9-1.4h0m24.2 56h0m-86.2-4.5h0m-86.4-126.5h0m-204.5 52.3h0m423.5-6h0m-106-67.9h0m6 127.7h0m59.1-134.2h0m-247.3-6.1h0m-18.4 64.5h0m-127.7 183h0m335.2-269.3h0m59.8 117.1h0m-156.7 25.6h0m21.6 137.3h0m-58.5-111.3h0m24-60.8h0m-94.9 72.9h0m42-133.2h0m61.7 212.3h0m62.7-245.1h0m27 53.2h0m-15.6 1.9h0m-191.9-85.7h0m189.8 30.2h0m-267.1 82h0m72.7-80.6h0m10 270.3h0m206.3-189.6h0m46.7 103.9h0m-216.2 39.1h0m-99.7-142.1h0m-70.9 5.3h0m363.1-100.9h0m-50.6 120.4h0m-12.7-18.4h0m97 47.1h0m-232.5 66.1h0m-108.2-136.5h0m224.8-133h0m-83.2 353.9h0m-156.9-87.3h0m152.5 34.5h0m-62.1 17.8h0m-81.7-201.7h0m184.6-131.8h0m-50.2 60.5h0m-198.7 115.3h0m56.7 34.5h0m-18.8 43h0m4.1-78.7h0m232.8-177.6h0m1.8-45.8h0m-32.9 380.3h0m-214.3-5.5h0m406.2-141.7h0m-334.4 85.5h0m168.5-171.3h0m87.6-21.8h0m-358.4 197.2h0m231.8-351.9h0m-221 297h0m452.1-86.3h0m-145.6 117.9h0m-157.3-24.3h0m177.2-97.2h0m-215.6 146.1h0m178.5 12.8h0m-214.1-57.3h0m54.3-4.6h0m119.2-44h0m72.7-86.5h0m-181.7 270.2h0m30.2-67h0m111.2-17.1h0m33.2-247.5h0m-92.4-121.2h0m-210.5 377.3h0m152.3-312.4h0m244.7 155.5h0m-332.4 179h0m0.3-140.8h0m36.2 22.7h0m348.8-63.3h0m-297.6-182.9h0m261 155.9h0m15.9 18.3h0m-454.7 149.2h0m89.3-147.1h0m375.2 50.1h0m-106.7 142h0m-253.4-161.5h0m167.4 138.8h0m27.2-191.1h0m-61.1 8.3h0m36.8-35.3h0m110.8 31h0m-225.8-70.1h0m-104.8 186.3h0m348.2-116.7h0m-319.7 3h0m175.1 226.5h0m203.7-152.5h0m-77.3 20.7h0m-187.2-93.8h0m166.1-113.5h0m-118.8 149.7h0m-109.4 195h0m197.6 5h0m-23.2-263.5h0m-204.7 112.3h0m-69.3-44h0m200.1 40.8h0m-55.5-182.9h0m45.2-10.8h0m-3.9 28.7h0m-199.3 228.9h0m55-20.8h0m238-163.8h0m-54.7 59.4h0m-217.4 64.5h0m230.1-199.7h0m40.9 293.2h0m-198.3-172.8h0m216 236.5h0m-264.7-35.3h0m256-200.9h0m-75.2 191.2h0m-286.9-135.6h0m252-40.8h0m236.5 69h0m-156.5 108.2h0m56.7-113.4h0m133.8-26.9h0m-81.2-24.5h0m10 100h0m-217.3 13.2h0m-150.8 95h0m276.2-169.2h0m48.6 17.9h0m-60.4-210.3h0m44 35.1h0m36.8 41h0m-374.8 201.8h0m143.4 4.6h0m10.7-208.3h0m105.1-149.9h0m-48.2 455h0m-27.9-436.6h0m109.7 376h0m77.4-148.9h0m-44-4.6h0m-111 88.4h0m84.5-42.8h0m-158.4-201.5h0m270.7 150.3h0m-322.2-35.1h0m158.1-30.8h0m98.7 202.2h0m-331.8-50.7h0m-3.7 98.5h0m118.8-172.1h0m27 47.8h0m104.5-296.9h0m-57.9 422.8h0m-19.5-145h0m-188.1-59.9h0m259.8 59.8h0m-37.2-59.8h0m111.6 214.3h0m-17-228.1h0m-46.2 9.2h0m92.3-107.8h0m98.8 160.7h0m-384.1 168.3h0m240.4-82.8h0m-184.2-184.5h0m11.1 52.2h0m28.9 36.4h0m53.4-65.3h0m13.1 94.8h0m23.9 5h0m-140.2-58.6h0m190.3-60.8h0m-108.3 119.4h0m-101.2-113.2h0m40.1 114.9h0m35.5-117.7h0m9.9 124.8h0m70.6-58.7h0m-97.8 3.2h0m128.5 49.8h0m22.2-111.1h0m-104.6 65h0m-22.3 35.9h0m122.4-117.6h0m-251.4 107h0m73-105.1h0m78.5 38h0m-64.4-30h0m-126.7 38.9h0m259.1-41.5h0m-106.4 22.8h0m130.3 80.9h0m-120.1-67h0m-42.4 54.8h0m56.1-90.5h0m28.5 116.1h0m-30.1-125.1h0m143 95.8h0m-73.1 36.4h0m-29-76h0m-87.9-51.7h0m51.4-10.5h0m155.5 94.4h0m-170.9-4.1h0m135.8 30.2h0m-293.8-12.9h0m198.5-27.7h0m-144.6 57.4h0m242.3-29.8h0m-15.5-66.5h0m-277.9-2.4h0m234.3 24.5h0m-197 74.6h0m137.7-21.7h0m-141.5-33.2h0m163.2-12.9h0m41.7 25.2h0m-76.7-23.7h0m-97-49.2h0m103.1-20.1h0m153.2 26.9h0m-203.3 29h0m202.4 22.7h0m-237.4 40.5h0m155.2-3.2h0m9.5-62.1h0m4-6.7h0m-252.5 0.1h0m100.6 94.9h0m-80-92.2h0m142.2 4.2h0m89.8-40.6h0m-77.7 56.9h0m78.4 61.3h0m69.2-108.9h0m-300.5 47.1h0m270.9-51.4h0m-71.2 30.6h0m-38.1 96.9h0m-2.1-59.5h0m155.2-19.6h0m-4.6-25.1h0m-112.7 78.2h0m92.7-66h0m3.5 40.7h0m-270.8-62.6h0m266.5 55.7h0m-164.7 35.4h0m188.2-94.5h0m-309.1 91.6h0m79.9-64.9h0m152.4-50.1h0m-132.1-4.1h0m-20.2 141.5h0m120.7-99.4h0m-23.6-13.4h0m112.8 20.7h0m-212.5 50.2h0m180.3-12.6h0m6.5-16.6h0m-77.7-50.2h0m-218.2 11.3h0m59.3 4h0m151.1 95.5h0m47.1-51.6h0m-56.7 3.4h0m80.2-45.6h0m-15.8 87.5h0m5.1-77.5h0m-197.8 56.3h0m239.5-84.4h0m-112.9 18h0m-124.6 105.5h0m67.8-55.1h0m-110.5-7.3h0m155.9-61.2h0m-8-6.1h0m65.7-16.2h0m29.1 7.1h0m-65.8 131.3h0m25-44.1h0m-3 5.2h0m-60.5-9.6h0m4.9 37.3h0m-9.1-50.5h0m-72.6 14.4h0m156 7h0m47.2-72.6h0m-126.8-17.9h0m83.1 85.9h0m-138.1-91h0m65.3 25.9h0m-139.8 100.3h0m258.1-66.8h0m-273.7-20.8h0m195.8 79.5h0m4.4-33.7h0m-10.6-52.4h0m-132 4.2h0m166.4 45.3h0m-48.5 43h0m86.4-95.6h0m-139.3 75h0m84.2-60.3h0m-107.8 65.2h0m67.4 12.5h0m-182-13.6h0m32.9-13.4h0m-33.4-48.9h0m221.7 33.5h0m73.2-59h0m-226.4 35.3h0m-65.2-23.8h0m241.6 101.4h0m-144.7-28.4h0m116 14.9h0m-183.3-68.2h0m23.2 89.2h0m142.5-34.5h0m-192.2-76.3h0m310.1 76.4h0m-62.3-74h0m-25 53.4h0m-57.1-4.7h0m-84.2-36.2h0m80.3-41.9h0m-95.9 81.6h0m118.6-60.8h0m-88.2 118.5h0m-39.5-95.6h0m21.2 79.7h0m158.9-68.4h0m-194.6 27.8h0m116.1-53.4h0m32.1 57.9h0m-62.6 3.5h0m-134.1-62.5h0m303.1-24.2h0m-93.5 48.7h0m-174.5 29.3h0m284.8-34h0m-54.3-50h0m-93.5 80.3h0m-181.8-16.3h0m120.9-46.4h0m204.4 26.4h0m-206.4 21.6h0m50 37.1h0m-148.1-64.8h0m197.4-92.1h0m43.7 33.3h0m3.5-13.1h0m-57.9-19.8h0m25.8 12.1h0m17.3 21.9h0m-16.7-44.3h0m2.6 22.6h0m-22.8-13.9h0m43.9 24.2h0m-18.2-8.8h0m20.3 12.8h0m-2.2-23.9h0m-27.3-12.9h0m20.1 34.5h0m-9.3-2.3h0m21.1 3.2h0m-61.2 0.6h0m55.6-30.2h0m-32.6-6.8h0m35.6 10.8h0m-7.3-1.9h0m-46.2 20h0m37 2.5h0m19.5-27.1h0m-50.9 25.4h0m3.3-9.6h0m24.8 20.8h0m16.8-17h0m-51.2 9h0m20-29.1h0m43.1 12.4h0m-65 24.5h0m63.4-5.9h0m-7.2-13.6h0m-44.1 4.3h0m52.6 14.7h0m-6.9-36.8h0m-6.5 14.6h0m-9.2 22.4h0m-34.3-22h0m14.1-16.4h0m-9.7 23.3h0m-7.6 3.3h0m7.9-14.8h0m31.7 17.2h0m3.8-2.2h0m-22.8-15.4h0m-9.5-10h0m11.8 22.9h0m13.7 6.9h0m3.4 6.1h0m-44.2-19.6h0m8.8 5.8h0m12.8-3.5h0m8.8 0.4h0m11 21.9h0m15.5-36.4h0m-3.1 30.6h0m-4.2-40.7h0m7.4 24.1h0m-35.4-16.6h0m14-8.6h0m-10.3 4.3h0m15.8 32h0m-15-16.6h0m4 9.9h0m-26.8 7.4h0m11.4-6.7h0m29.7-15.4h0m5.5 21.1h0m-12-14.3h0m12.6-20.3h0m-18.3 33.7h0m-10.4-22.5h0m18.2 12.1h0m-24.7-9.9h0m5.6 12.7h0m43.5 9.4h0m-24.8 8.5h0m-19.2-31.8h0m-6-1h0m-2.2 15h0m53.2 7.5h0m-49.1 5h0m5.6-29.7h0m-10.3 7.6h0m9.6 3.5h0m-3.4-0.2h0m12-6h0m6.2-3.5h0m-31 18.8h0m50.8-4.2h0m-58.1 7.7h0m41.7-15.8h0m25.6 13.8h0m-269.9 142.9h0m-25.1-6.3h0m-0.4 7.3h0m27.6-3h0m-31.3-9.3h0m22.9-1.1h0m-9.9-1.7h0m-18.2 3.2h0m31.4-8.9h0m-4.6 31h0m-21-37.2h0m-1.5 18.8h0m-13.9-28.7h0m16 39.4h0m37.6 0.8h0m-13.9 8.1h0m-10-41.5h0m-24.3 5.3h0m9 19.8h0m18.9 16.4h0m-1.3-22.5h0m3 8.9h0m-16-3.5h0m19.9 7.6h0m-29.2-16.7h0m-3.2 3.8h0m28.6-13.6h0m-15.2-11.3h0m21.8 28.2h0m-10.2-12.7h0m-31.5-2.4h0m32 34.4h0m-29.9-44.7h0m33.8 26.6h0m-6.2 15h0m6.9-8.3h0m-5.6-23.1h0m-31.8-5.4h0m48.8 36.5h0m3.6-0.9h0m-52-42.3h0m44.4 21.3h0m-31.9-10.8h0m25.6 6.5h0m-3.1 12.9h0m-19.6-22.7h0m-3.5 5.7h0m-8.9-5.9h0m-5.9 5.1h0m17.4-10.6h0m6.6 2.6h0m-13.9 20.3h0m-8.8-17.7h0m50.9 26.8h0m-21.6-10.9h0m16.5-0.6h0m-27-15.9h0m-15.2 14.8h0m15.6 3.9h0m4.5-11.9h0m-10.9-12.9h0m18.5 7.1h0m12.4 7.7h0m-42.7-6.7h0m240.5 117h0m-34.3-20.4h0m9-8.6h0m83.8 36.8h0m-107.5-10.4h0m102.2-3.7h0m-81.7 9.7h0m15.2-33.6h0m10.3 16.4h0m-88.8 19.8h0m53.6-18h0m-15.3 6.1h0m28.5-26.3h0m-62.3 20.9h0m134.9 12.8h0m-27.4 5.3h0m-31.5-31h0m74.3 12.8h0m-87.5-5.3h0m5.9-2.6h0m-38.1 25.4h0m50.6-22.7h0m-28.1-11.2h0m67.4 31.6h0m-78.7-28.3h0m104.8 25.7h0m-71.8-26h0m53.1 17.7h0m-128.6-5.2h0m137.1-11.1h0m15.3 28.1h0m-154.7-25.9h0m47.2 15.4h0m108.5 12.3h0m-91.7-26.1h0m-43.6-1.8h0m43.1 8.1h0m-21.9 17.9h0m-12.2-18.6h0m12.3-10.4h0m5.8-3h0m88 17.1h0m15.6 12.6h0m-73-14.3h0m-29.4-12.1h0m13.3 11.4h0m37-11.5h0m6.4 8.6h0m-92.9-8.3h0m34.9 9.6h0m-46.1 21.3h0m152.7 2.8h0m-84.2-17.2h0m0.5-4.4h0m-6.4-6.6h0m4.6 3.2h0m25.5 19.9h0m-74.9-4h0m134.1-20.9h0m-3.1 9.3h0m-96.7-12.9h0m83.3 32.3h0m5.6-25.7h0m-16.2 6.9h0m-54.4 2.6h0m-16.5 7.6h0m-48.3 5.2h0m144.5-9.3h0m-25.2 10.3h0m-23.4-24.3h0m-45.3 22.8h0m36-14.3h0m15.7 89h0m-11.5 13.2h0m22.7-23.9h0m-104.6-14.1h0m19.5 1.6h0m30.9 0.1h0m-52 27.2h0m16.9 1h0m40.4-6.2h0m10.7 19.1h0m-45.4-33.9h0m59.3 14.7h0m-86.2-4.6h0m27.3-34.4h0m86.2 7.5h0m-21.3 30.8h0m-39.3-41.1h0m34.2 20.4h0m-40.5 27h0m-16.8 3.2h0m47.4 0.4h0m-77.4-1.8h0m26.8-51.3h0m9.9 17.3h0m-19.7 6.9h0m50.3-21h0m36.9 49.3h0m-77.6-53.2h0m50.4 9.5h0m-80.9 24.4h0m119.9-27.6h0m-0.9 22.4h0m-31.1 16.8h0m-45.3 18.6h0m-25.6-32.6h0m59.9-18.9h0m-67.3 51.4h0m60-51.1h0m-37.6 45.3h0m89.6-27.9h0m-118.4-9.2h0m33 3.5h0m27.8-23.2h0m-46.9 32.2h0m93.4 9.5h0m-105.5 14.6h0m37.2-1.1h0m-31.8-15.1h0m-5.5 22.4h0m63.9-45.5h0m24.8 42.1h0m-10-5.5h0m33.1-12h0m-49.3 0.2h0m20-7.7h0m-30.9 8.4h0m46.8-42.1h0m-85 19h0m67.6-8.4h0m-65.6-9.1h0m100.4 17.4h0m-68.9 7.7h0m70.3-24.1h0m-13.1 27h0m-44.4-2.8h0m-16-12.6h0m3.4 42.6h0m-15.9-9.9h0m76.8 6h0m-104.6-27.3h0m103.1-25.4h0m-77.2 55.5h0m21.5-46.2h0m-9.6 39.2h0m-7.2-23.5h0m-4.9-15.4h0m22.6 8.1h0m-16.8 20.4h0m-20.3-4.6h0m80-18.3h0m-79.7 39.8h0m129-380.4h0m2.9-1.7h0m4.6-0.5h0m-0.5 6.1h0m1.6 2.7h0m4.9 0.1h0m4-2.6h0m0.5 6.5h0m2.7-4h0m2.3 2.5h0m1.4 0.8h0m4.5-4.3h0m0.9 3h0m1.7 1.5h0m3.2 5.5h0m2.4-2.5h0m2.7 6.5h0m4-6.9h0m2.6-2h0m-0.1 8.9h0m6.2-6.7h0m3.1 0.9h0m0.1-1.9h0m1.3-3.7h0m2.4-1.1h0m6.1-2h0m6.8 6.3h0m4.9-4.1h0m-223.9 83.3h0m3.5 5.8h0m-1.4-9.3h0" stroke="#3182bd" stroke-width="5.0" stroke-linecap="round" fill="none"/>
<path d="M171.1 1038.2h0m-8.2-49.1h0m-26.8 40.2h0m45.4 91.3h0m-9.7-104h0m-26 69.3h0m-18.1-72.3h0m43.8 13.3h0m84.8-58.7h0m-83.2 23.1h0m-6.3 133h0m-55.5 5.7h0m-4.5-56.6h0m53.3 1.2h0m-65.9-74.5h0m60.4 72.7h0m-9.7-79.5h0m80.6 72.7h0m-109.1-66.8h0m67.4 9.1h0m80.9-20h0m-70.9 107.9h0m-44.3 40.1h0m-4.2-30.3h0m-4.7-69.8h0m-13.1-71h0m65.7 114.4h0m-73.2 22.5h0m-9.1-109.7h0m-14 101.3h0m64.2-90.6h0m-81.2 93.6h0m10.4 19.4h0m43.2-86h0m-24.9 101h0m11.1-90.6h0m38.1 28.8h0m-29.7 0.1h0m29.9-103h0m43.7 110.3h0m-24.5-64.4h0m-30.1-16.6h0m76.5 14.7h0m-83.5 108h0m60.4-131.8h0m-127.5 101h0m82.4 36.8h0m3.3-83.5h0m-39.3-35.2h0m137.7-38.7h0m-61.3 49.3h0m39.1-51.4h0m-104.8 37.4h0m62.1 8.5h0m-77.6 62.6h0m-12.5 58.8h0m59.4-26.2h0m-28.6-11.6h0m-76.8 14.7h0m89.1-128.1h0m-46.4 165.9h0m-3.7-63.8h0m63.5 45.6h0m-44.8-149.2h0m-47.1 150.5h0m147.4-73.8h0m-134.8 70.8h0m77.2 7.1h0m-26.1-12.1h0m-28-65.5h0m70.1-85.1h0m-82.7 113.7h0m71.5-118.9h0m-64.1 24.8h0m190.7-20.2h0m-161.3 94.9h0m-11.9-22.9h0m16.4-75.3h0m-29.3 73.9h0m102.2-27.5h0m-121.9 122.6h0m58.9-108.5h0m-47.6-14.7h0m67.4-45h0m-14.5 111.3h0m34.8-13.5h0m-59.6 24.8h0m62.5-55.7h0m-108.5 17h0m116.5-64h0m32.5 23.4h0m-92.4 81.8h0m88.5-118.3h0m-49.9 51.4h0m-19.9 25.6h0m9.7 48.7h0m-43.7-120.3h0m-28.4 48.2h0m86.6-16.2h0m-13.6-45.9h0m44.7 39.2h0m-127.9 133.9h0m90.6-154.3h0m-52.6 118.7h0m-23.4-53.1h0m119-12.6h0m27.2-37.9h0m23.1-7.3h0m-126.5-24.5h0m136.4-2.3h0m-37.1 25.2h0m-50.1-6.5h0m-74.5 8.7h0m15 1.3h0m55.5 0.1h0m-63.9-12.2h0m100 23.2h0m60.8-39.7h0m-45.2 34h0m-90-36.9h0m139.6 23.2h0m-73.7-17.7h0m-58.1-5.8h0m115 33.8h0m-13.3-17.3h0m-91.7 5.9h0m80.9-5.9h0m-33.4 10.6h0m19.7-22.7h0m31.9 20.4h0m-108.1-11.6h0m85.4-5.4h0m-74.4 6.7h0m-60.6 40.3h0m19.7-46h0m89-4h0m64.6-2.1h0m-52.5 11.8h0m-30.8-10h0m7.8 3.5h0m20.5 21.1h0m-30-19.4h0m100-5.9h0m-30-4.5h0m-14.8 7.3h0m-126.4 13.6h0m56.2-16.6h0m-8.2 13.2h0m-14.7 12.7h0m64.2-5.3h0m74.9-13.1h0m-48.4 28.8h0m-53.1-20h0m-80.9 8.9h0m79.6-5.2h0m67.4-10h0m6.5 18.5h0m-27.4-3.9h0m-71.6-8h0m-14.3-22.2h0m141.3 11.9h0m-141.5 12.3h0m125.1 1.5h0m-163.4-5.7h0m22.1 22.9h0m70.8-4.1h0m0.2-10.1h0m18-11.7h0m-19.2-4.2h0m-49.2 15.8h0m71.8-7.3h0m34.4-22.5h0m-146.5 32h0m72.7-27.6h0m-47.4 6h0m83-1.3h0m-45.6 24.8h0m-22.4 8h0m72.9-5.2h0m52.3-28.7h0m-213.4 121.7h0m21.9-64.3h0m-29.3 116.5h0m6.7-54.8h0m10.8-10.7h0m-20.1 24.6h0m8.8 17.3h0m4.1-37.3h0m4.6-13.2h0m-0.8 1.2h0m20.9-27.3h0m-4.6-6.5h0m-2.8 9.8h0m-35.5 91.1h0m26.3-65.9h0m-2.9-1.7h0m-9.7 69.7h0m33.1-141.5h0m-7.5 51.8h0m-26.4 86.9h0m6.8-46.5h0m10.4-28.8h0m6.7-3.5h0m-19.7 48.9h0m10.1-56h0m-22.6 99.2h0m42.6-160.3h0m4.9 29.5h0m-40.2 109.5h0m45.1-134.1h0m-43.1 135.4h0m33.2-117.5h0m-23.7 79.9h0m23.6-96.5h0m-22.1 103.2h0m-11.6-10.8h0m15.3-30.3h0m-8.6 64.4h0m-3.1-4.2h0m-6.1 22.6h0m13.4 83.3h0m49 94.3h0m-3.9-141.4h0m29.6 11.6h0m-13.9-23.6h0m9-18.7h0m-55.5 103.7h0m1.6 3.9h0m-0.9-53.2h0m34.2 5.3h0m69 182h0m-102.4-121h0m52.8 45.1h0m-64.3-116.7h0m63.9 1.4h0m52.7 175.7h0m-106.3-95.9h0m21.8-36.8h0m-58.1-40.9h0m-10.9-11.6h0m96.5 131h0m-93-119.1h0m101.2-15.4h0m-41 28.9h0m6.1 40.2h0m36.1 60.5h0m-105.5-127.1h0m130.4 187.4h0m-53.2-203.7h0m22.9-23.4h0m-31.9 82.4h0m56.9-68.4h0m22.1 228.7h0m-23.3-36.1h0m-89.9-164.2h0m21.3 62.9h0m103.4 124.6h0m-82.3-221.9h0m-46.2 51h0m75.9 109.2h0m-0.9 14.9h0m-16-48.7h0m-36-78.1h0m-7.9 24.5h0m26.5-5.1h0m35.8 95h0m-48.5-116.1h0m-6.8-36h0m9.3-2.6h0m-44.7 12.4h0m91 156h0m-79.2-128.2h0m65.9-52.1h0m4.9 40.6h0m-8.5 17h0m6.2 128.1h0m-60.1-85.2h0m-3.1-58.7h0m51.1 100.9h0m-58.8-128.5h0m27.9 49.6h0m14.1-37.5h0m-21.5 32.8h0m10.8 87h0m-34.8-130.9h0m2.4 59.3h0m37.3-1.4h0m-44.5-13.2h0m28.6 64.6h0m-14.4-118h0m70.4 176.9h0m-13.9-20h0m-72-114.8h0m113.8 177.9h0m-124.6-213.4h0m28.3 28.1h0m43-14.1h0m-25.5-14.4h0m0.2 26.7h0m8.5 33.4h0m-2.2-54.1h0m-47.3 39h0m-6.1-20.1h0m43.9 92.6h0m51.1-92.9h0m-76.9-11h0m52.8-14.8h0m41.2 202.8h0m-63-191.3h0m260.8-175.2h0m-75.3-27.4h0m61.3 68.1h0m-76.4-74.8h0m45.1 46.6h0m8.4 35.2h0m129.3-158.1h0m-36.8-50h0m-37.3 58.1h0m-29.7 36.9h0m4.8-3.5h0m45.2-8.1h0m-25.1-80.8h0m-7.8 160.2h0m-33.4-78.9h0m48.5-8.6h0m43.6-77.3h0m-7.7 5.1h0m-142.1 169.1h0m87.1-30.8h0m-44.6 52.9h0m-13.4-56.3h0m4 50h0m127.2-158.5h0m-16.7 12.8h0m-46.2 138.7h0m-55.7-47.8h0m49.8-2.3h0m1.4 62.3h0m-20.1-27.9h0m72.3-149.2h0m32.8 22.3h0m-117.9 35.6h0m67.6-83.1h0m-68.8 114.9h0m-0.6 71.1h0m7.2-112.1h0m77.1-80.9h0m-149.9 139.5h0m86.9-85.1h0m-62.3 105.3h0m153.6-101.1h0m-41.4-34.5h0m27.7 11.5h0m-149 423.8h0m-118.9-5.2h0m98.9-37.4h0m14.5 35h0m-94.5 19.7h0m84.9-36.4h0m-51 30.4h0m44.7-9h0m14 6.7h0m-93.5-1.5h0m78.3-29.7h0m8.5 41.5h0m-94.9-5h0m92-32.8h0m2 3.9h0m-52.6-0.2h0m-7.6 8.7h0m-48.2 26.5h0m33.8-54.7h0m43.2 9.5h0m-9.2 42.9h0m-71.6-32h0m52.7-29.1h0m58.1 19.8h0m-67.2 5.2h0m18.1-67.9h0m1.7-16.3h0m-0.2 7.8h0m-6 9h0m28.5-15h0m-37.7 12.5h0m24.3-28.6h0m86.1 281h0m10.5-90.5h0m-14.8 46.9h0m21.1 26.1h0m-19.8-61.9h0m90.2-415h0m2.6-0.7h0m1 1.3h0m1.5 4.7h0m4.4 0h0m4.7-2.7h0m2.2 1.2h0m1.8-1.5h0m0.4 3.1h0m3.4 1.2h0m1.7-2.2h0m2.9 2.2h0m-27.3 62.1h0m5.5-1.9h0m7-1.3h0m6.6-3.5h0m4.8 1.6h0m3.1-1.5h0m-113.1 22h0m2.4 0.2h0m5 5.2h0m0.4 2.6h0m4.3-3.6h0m2.1 0.1h0m3.5 3.7h0m-0.7 3.3h0m2.6 1.9h0" stroke="#e6550d" stroke-width="5.0" stroke-linecap="round" fill="none"/>

<path d="M560.7,298.5 L572.7,279.1 L584.7,298.5 Z" fill="#000"/><path d="M215.5,357.2 L218.7,367.1 L229.1,367.1 L220.7,373.2 L223.9,383.1 L215.5,377.0 L207.1,383.1 L210.3,373.2 L201.9,367.1 L212.3,367.1 Z" fill="#000"/><circle cx="750.7" cy="262.8" r="9.9" fill="#000"/><line x1="582.3" y1="289.1" x2="600.5" y2="304.2" stroke="#000" stroke-width="2"/><path d="M613.6,315.1 L592.9,310.3 L605.1,295.7 Z" fill="#000"/><line x1="738.4" y1="266.4" x2="664.3" y2="304.3" stroke="#000" stroke-width="2"/><path d="M649.2,312.1 L661.8,295.0 L670.4,311.9 Z" fill="#000"/><path d="M1304.0,173.8 L1308.1,186.4 L1321.3,186.4 L1310.6,194.1 L1314.7,206.7 L1304.0,199.0 L1293.3,206.7 L1297.4,194.1 L1286.7,186.4 L1299.9,186.4 Z" fill="#000"/><path d="M1494.0,242.3 L1507.2,220.3 L1520.4,242.3 Z" fill="#000"/><circle cx="1617.6" cy="394.5" r="10.4" fill="#000"/><path d="M28.3,1148.8 L38.3,1132.8 L48.3,1148.8 Z" fill="#000"/><path d="M51.5,1164.9 L55.2,1176.4 L67.3,1176.4 L57.5,1183.5 L61.3,1194.9 L51.5,1187.8 L41.7,1194.9 L45.5,1183.5 L35.7,1176.4 L47.8,1176.4 Z" fill="#000"/><circle cx="382" cy="1338.3" r="9.4" fill="#000"/><line x1="389.8" y1="1329.1" x2="406.4" y2="1287.6" stroke="#000" stroke-width="2"/><path d="M412.7,1271.8 L414.0,1292.8 L397.3,1286.1 Z" fill="#000"/>
<g><rect x="878" y="836" width="432" height="264" fill="#fcfcfc"/><rect x="1329" y="836" width="421" height="264" fill="#fcfcfc"/><rect x="878" y="1135" width="425" height="270" fill="#fcfcfc"/><rect x="1316" y="1130" width="434" height="285" fill="#fcfcfc"/><rect x="940.3" y="866.3" width="358.7" height="95.9" fill="#fefefe" stroke="#c8c8c8" stroke-width="1.3"/><rect x="940.3" y="981.4" width="358.7" height="95.9" fill="#fefefe" stroke="#c8c8c8" stroke-width="1.3"/><line x1="937.3" y1="885.3" x2="940.3" y2="885.3" stroke="#bbb" stroke-width="1"/><text class="dj" x="938.3" y="891.3" font-size="17.5" text-anchor="end">22.0</text><line x1="937.3" y1="962.2" x2="940.3" y2="962.2" stroke="#bbb" stroke-width="1"/><text class="dj" x="938.3" y="968.2" font-size="17.5" text-anchor="end">20.0</text><line x1="937.3" y1="1009.7" x2="940.3" y2="1009.7" stroke="#bbb" stroke-width="1"/><text class="dj" x="938.3" y="1015.7" font-size="17.5" text-anchor="end">3.0</text><line x1="937.3" y1="1062.6" x2="940.3" y2="1062.6" stroke="#bbb" stroke-width="1"/><text class="dj" x="938.3" y="1068.6" font-size="17.5" text-anchor="end">2.8</text><line x1="958.3" y1="1077.3" x2="958.3" y2="1080.3" stroke="#bbb" stroke-width="1"/><text class="dj" x="958.3" y="1093.3" font-size="17.5" text-anchor="middle">0</text><line x1="1009.3" y1="1077.3" x2="1009.3" y2="1080.3" stroke="#bbb" stroke-width="1"/><text class="dj" x="1009.3" y="1093.3" font-size="17.5" text-anchor="middle">20</text><line x1="1060.3" y1="1077.3" x2="1060.3" y2="1080.3" stroke="#bbb" stroke-width="1"/><text class="dj" x="1060.3" y="1093.3" font-size="17.5" text-anchor="middle">40</text><line x1="1111.3" y1="1077.3" x2="1111.3" y2="1080.3" stroke="#bbb" stroke-width="1"/><text class="dj" x="1111.3" y="1093.3" font-size="17.5" text-anchor="middle">60</text><line x1="1162.3" y1="1077.3" x2="1162.3" y2="1080.3" stroke="#bbb" stroke-width="1"/><text class="dj" x="1162.3" y="1093.3" font-size="17.5" text-anchor="middle">80</text><line x1="1213.3" y1="1077.3" x2="1213.3" y2="1080.3" stroke="#bbb" stroke-width="1"/><text class="dj" x="1213.3" y="1093.3" font-size="17.5" text-anchor="middle">100</text><line x1="1264.3" y1="1077.3" x2="1264.3" y2="1080.3" stroke="#bbb" stroke-width="1"/><text class="dj" x="1264.3" y="1093.3" font-size="17.5" text-anchor="middle">120</text><text class="dj" x="889.4" y="913.3" font-size="17.5" text-anchor="middle" transform="rotate(-90 889.4 913.3)" dy="6">°C</text><text class="dj" x="899.7" y="1037.8" font-size="17.5" text-anchor="middle" transform="rotate(-90 899.7 1037.8)" dy="6">Voltage</text><path d="M900.0,854.9 L912.0,834.1 L924.0,854.9 Z" fill="#000"/><line x1="972.4" y1="850.7" x2="1009" y2="850.7" stroke="#ff0000" stroke-width="1.8" stroke-dasharray="6,3.5" opacity="0.85"/><path d="M964.8,853.5 L972.4,840.6 L980.0,853.5 Z" fill="#ff0000"/><text class="dj" x="1022.6" y="855.8" font-size="17.5">Predicted</text><line x1="1140.6" y1="850.7" x2="1169" y2="850.7" stroke="#008080" stroke-width="1.8" stroke-dasharray="6,3.5" opacity="0.85"/><path d="M1133.0,853.5 L1140.6,840.6 L1148.2,853.5 Z" fill="#008080"/><text class="dj" x="1183.3" y="855.8" font-size="17.5">Observed</text><path d="M958.3,874.1 L1282.1,874.1" fill="none" stroke="#008080" stroke-width="1.6" stroke-dasharray="5.5,3.2" opacity="0.85"/><path d="M954.3,876.3 L958.3,869.5 L962.3,876.3 Z" fill="#008080"/><path d="M974.7,876.3 L978.7,869.5 L982.7,876.3 Z" fill="#008080"/><path d="M995.1,876.3 L999.1,869.5 L1003.1,876.3 Z" fill="#008080"/><path d="M1015.5,876.3 L1019.5,869.5 L1023.5,876.3 Z" fill="#008080"/><path d="M1035.9,876.3 L1039.9,869.5 L1043.9,876.3 Z" fill="#008080"/><path d="M1056.3,876.3 L1060.3,869.5 L1064.3,876.3 Z" fill="#008080"/><path d="M1076.7,876.3 L1080.7,869.5 L1084.7,876.3 Z" fill="#008080"/><path d="M1097.1,876.3 L1101.1,869.5 L1105.1,876.3 Z" fill="#008080"/><path d="M1117.5,876.3 L1121.5,869.5 L1125.5,876.3 Z" fill="#008080"/><path d="M1137.9,876.3 L1141.9,869.5 L1145.9,876.3 Z" fill="#008080"/><path d="M1158.3,876.3 L1162.3,869.5 L1166.3,876.3 Z" fill="#008080"/><path d="M1178.7,876.3 L1182.7,869.5 L1186.7,876.3 Z" fill="#008080"/><path d="M1199.1,876.3 L1203.1,869.5 L1207.1,876.3 Z" fill="#008080"/><path d="M1219.5,876.3 L1223.5,869.5 L1227.5,876.3 Z" fill="#008080"/><path d="M1239.9,876.3 L1243.9,869.5 L1247.9,876.3 Z" fill="#008080"/><path d="M1260.3,876.3 L1264.3,869.5 L1268.3,876.3 Z" fill="#008080"/><path d="M958.3,937.2 L961.1,937.1 L965.0,937.1 L969.6,937.0 L974.3,936.8 L978.7,936.7 L982.8,936.4 L986.9,936.0 L990.9,935.7 L995.0,935.3 L999.1,935.0 L1003.2,934.8 L1007.3,934.7 L1011.3,934.5 L1015.4,934.4 L1019.5,934.2 L1023.6,934.1 L1027.7,934.0 L1031.7,933.8 L1035.8,933.6 L1039.9,933.4 L1044.0,933.1 L1048.1,932.8 L1052.1,932.4 L1056.2,932.1 L1060.3,931.8 L1064.4,931.6 L1068.5,931.4 L1072.5,931.3 L1076.6,931.2 L1080.7,931.0 L1084.8,930.9 L1088.9,930.7 L1092.9,930.6 L1097.0,930.4 L1101.1,930.2 L1105.2,930.0 L1109.3,929.8 L1113.3,929.6 L1117.4,929.4 L1121.5,929.1 L1125.6,928.9 L1129.7,928.6 L1133.7,928.4 L1137.8,928.1 L1141.9,927.8 L1146.0,927.5 L1150.1,927.2 L1154.1,926.8 L1158.2,926.5 L1162.3,926.2 L1166.4,925.9 L1170.5,925.7 L1174.5,925.5 L1178.6,925.2 L1182.7,924.8 L1186.8,924.4 L1190.9,923.9 L1194.9,923.3 L1199.0,922.7 L1203.1,922.2 L1207.2,921.6 L1211.3,920.9 L1215.3,920.3 L1219.4,919.6 L1223.5,918.9 L1227.6,918.2 L1231.7,917.5 L1235.7,916.7 L1239.8,915.9 L1243.9,914.9 L1248.0,913.8 L1252.2,912.6 L1256.3,911.3 L1260.4,909.9 L1264.3,908.2 L1268.3,906.0 L1272.5,903.5 L1276.4,900.8 L1279.8,898.5 L1282.1,896.9" fill="none" stroke="#ff0000" stroke-width="1.6" stroke-dasharray="5.5,3.2" opacity="0.85"/><path d="M954.3,939.5 L958.3,932.7 L962.3,939.5 Z" fill="#ff0000"/><path d="M974.7,938.9 L978.7,932.1 L982.7,938.9 Z" fill="#ff0000"/><path d="M995.1,937.3 L999.1,930.5 L1003.1,937.3 Z" fill="#ff0000"/><path d="M1015.5,936.5 L1019.5,929.7 L1023.5,936.5 Z" fill="#ff0000"/><path d="M1035.9,935.7 L1039.9,928.9 L1043.9,935.7 Z" fill="#ff0000"/><path d="M1056.3,934.1 L1060.3,927.3 L1064.3,934.1 Z" fill="#ff0000"/><path d="M1076.7,933.3 L1080.7,926.5 L1084.7,933.3 Z" fill="#ff0000"/><path d="M1097.1,932.5 L1101.1,925.7 L1105.1,932.5 Z" fill="#ff0000"/><path d="M1117.5,931.4 L1121.5,924.6 L1125.5,931.4 Z" fill="#ff0000"/><path d="M1137.9,930.1 L1141.9,923.3 L1145.9,930.1 Z" fill="#ff0000"/><path d="M1158.3,928.4 L1162.3,921.6 L1166.3,928.4 Z" fill="#ff0000"/><path d="M1178.7,927.1 L1182.7,920.3 L1186.7,927.1 Z" fill="#ff0000"/><path d="M1199.1,924.4 L1203.1,917.6 L1207.1,924.4 Z" fill="#ff0000"/><path d="M1219.5,921.2 L1223.5,914.4 L1227.5,921.2 Z" fill="#ff0000"/><path d="M1239.9,917.2 L1243.9,910.4 L1247.9,917.2 Z" fill="#ff0000"/><path d="M1260.3,910.5 L1264.3,903.7 L1268.3,910.5 Z" fill="#ff0000"/><path d="M958.3,1073.4 L959.0,1071.2 L960.0,1067.9 L961.1,1064.3 L962.3,1061.0 L963.4,1058.6 L964.3,1057.4 L965.2,1056.9 L966.1,1056.7 L967.2,1056.6 L968.5,1055.9 L970.1,1054.8 L971.7,1053.4 L973.6,1051.8 L975.9,1050.2 L978.7,1048.7 L982.1,1047.0 L986.1,1045.3 L990.5,1043.6 L994.9,1042.0 L999.1,1040.6 L1003.2,1039.5 L1007.3,1038.7 L1011.3,1037.9 L1015.4,1037.2 L1019.5,1036.3 L1023.6,1035.3 L1027.7,1034.3 L1031.7,1033.2 L1035.8,1032.2 L1039.9,1031.2 L1044.0,1030.4 L1048.1,1029.6 L1052.1,1028.8 L1056.2,1028.1 L1060.3,1027.4 L1064.4,1026.8 L1068.5,1026.2 L1072.5,1025.5 L1076.6,1024.9 L1080.7,1024.2 L1084.8,1023.5 L1088.9,1022.7 L1092.9,1021.9 L1097.0,1021.1 L1101.1,1020.2 L1105.2,1019.2 L1109.3,1018.1 L1113.3,1017.0 L1117.4,1016.0 L1121.5,1015.1 L1125.7,1014.4 L1130.1,1013.9 L1134.5,1013.5 L1138.5,1013.0 L1141.9,1012.4 L1144.6,1011.5 L1146.7,1010.5 L1148.5,1009.4 L1150.2,1008.4 L1152.1,1007.6 L1154.0,1006.9 L1155.7,1006.3 L1157.5,1005.9 L1159.6,1005.4 L1162.3,1004.9 L1165.7,1004.4 L1169.7,1003.9 L1174.1,1003.4 L1178.5,1002.8 L1182.7,1002.2 L1186.8,1001.5 L1190.9,1000.7 L1194.9,999.9 L1199.0,999.0 L1203.1,998.2 L1207.3,997.2 L1211.7,996.1 L1216.1,995.0 L1220.1,994.1 L1223.5,993.6 L1226.2,993.7 L1228.3,994.2 L1230.1,994.9 L1231.8,995.5 L1233.7,995.5 L1235.6,994.8 L1237.3,993.7 L1239.1,992.4 L1241.2,991.1 L1243.9,990.1 L1247.4,989.4 L1251.4,988.8 L1255.8,988.3 L1260.2,987.8 L1264.3,987.4 L1268.3,987.0 L1272.5,986.7 L1276.4,986.5 L1279.8,986.2 L1282.1,986.1" fill="none" stroke="#008080" stroke-width="1.6" stroke-dasharray="5.5,3.2" opacity="0.85"/><path d="M954.3,1075.6 L958.3,1068.8 L962.3,1075.6 Z" fill="#008080"/><path d="M974.7,1050.9 L978.7,1044.1 L982.7,1050.9 Z" fill="#008080"/><path d="M995.1,1042.9 L999.1,1036.1 L1003.1,1042.9 Z" fill="#008080"/><path d="M1015.5,1038.6 L1019.5,1031.8 L1023.5,1038.6 Z" fill="#008080"/><path d="M1035.9,1033.5 L1039.9,1026.7 L1043.9,1033.5 Z" fill="#008080"/><path d="M1056.3,1029.7 L1060.3,1022.9 L1064.3,1029.7 Z" fill="#008080"/><path d="M1076.7,1026.5 L1080.7,1019.7 L1084.7,1026.5 Z" fill="#008080"/><path d="M1097.1,1022.5 L1101.1,1015.7 L1105.1,1022.5 Z" fill="#008080"/><path d="M1117.5,1017.4 L1121.5,1010.6 L1125.5,1017.4 Z" fill="#008080"/><path d="M1137.9,1014.7 L1141.9,1007.9 L1145.9,1014.7 Z" fill="#008080"/><path d="M1158.3,1007.1 L1162.3,1000.3 L1166.3,1007.1 Z" fill="#008080"/><path d="M1178.7,1004.5 L1182.7,997.7 L1186.7,1004.5 Z" fill="#008080"/><path d="M1199.1,1000.4 L1203.1,993.6 L1207.1,1000.4 Z" fill="#008080"/><path d="M1219.5,995.9 L1223.5,989.1 L1227.5,995.9 Z" fill="#008080"/><path d="M1239.9,992.4 L1243.9,985.6 L1247.9,992.4 Z" fill="#008080"/><path d="M1260.3,989.7 L1264.3,982.9 L1268.3,989.7 Z" fill="#008080"/><path d="M958.3,1055.9 L959.0,1054.0 L960.0,1051.1 L961.1,1047.9 L962.3,1044.9 L963.4,1042.5 L964.3,1040.9 L965.2,1039.7 L966.1,1038.8 L967.2,1038.0 L968.5,1037.1 L970.1,1036.2 L971.7,1035.4 L973.6,1034.7 L975.9,1033.9 L978.7,1033.1 L982.1,1032.2 L986.1,1031.2 L990.5,1030.3 L994.9,1029.3 L999.1,1028.5 L1003.2,1027.8 L1007.3,1027.2 L1011.3,1026.7 L1015.4,1026.1 L1019.5,1025.6 L1023.6,1024.9 L1027.7,1024.3 L1031.7,1023.6 L1035.8,1023.0 L1039.9,1022.3 L1044.0,1021.8 L1048.1,1021.2 L1052.1,1020.7 L1056.2,1020.2 L1060.3,1019.7 L1064.4,1019.1 L1068.5,1018.6 L1072.5,1018.0 L1076.6,1017.5 L1080.7,1017.0 L1084.8,1016.4 L1088.9,1015.9 L1092.9,1015.3 L1097.0,1014.8 L1101.1,1014.3 L1105.2,1013.8 L1109.3,1013.3 L1113.3,1012.8 L1117.4,1012.4 L1121.5,1011.9 L1125.6,1011.3 L1129.7,1010.7 L1133.7,1010.1 L1137.8,1009.6 L1141.9,1009.2 L1146.0,1008.9 L1150.1,1008.7 L1154.1,1008.5 L1158.2,1008.3 L1162.3,1008.1 L1166.4,1007.8 L1170.5,1007.4 L1174.5,1007.0 L1178.6,1006.6 L1182.7,1006.2 L1186.8,1005.8 L1190.9,1005.3 L1194.9,1004.9 L1199.0,1004.4 L1203.1,1004.1 L1207.2,1003.8 L1211.3,1003.6 L1215.3,1003.4 L1219.4,1003.2 L1223.5,1003.0 L1227.6,1002.8 L1231.7,1002.6 L1235.7,1002.5 L1239.8,1002.3 L1243.9,1002.2 L1248.1,1002.1 L1252.3,1002.0 L1256.5,1001.9 L1260.5,1001.8 L1264.3,1001.7 L1267.9,1001.7 L1271.4,1001.8 L1274.6,1001.9 L1277.4,1001.7 L1279.6,1001.1 L1281.0,999.8 L1281.7,998.0 L1281.9,995.9 L1282.0,994.1 L1282.1,992.8" fill="none" stroke="#ff0000" stroke-width="1.6" stroke-dasharray="5.5,3.2" opacity="0.85"/><path d="M954.3,1058.2 L958.3,1051.4 L962.3,1058.2 Z" fill="#ff0000"/><path d="M974.7,1035.4 L978.7,1028.6 L982.7,1035.4 Z" fill="#ff0000"/><path d="M995.1,1030.8 L999.1,1024.0 L1003.1,1030.8 Z" fill="#ff0000"/><path d="M1015.5,1027.8 L1019.5,1021.0 L1023.5,1027.8 Z" fill="#ff0000"/><path d="M1035.9,1024.6 L1039.9,1017.8 L1043.9,1024.6 Z" fill="#ff0000"/><path d="M1056.3,1021.9 L1060.3,1015.1 L1064.3,1021.9 Z" fill="#ff0000"/><path d="M1076.7,1019.2 L1080.7,1012.4 L1084.7,1019.2 Z" fill="#ff0000"/><path d="M1097.1,1016.5 L1101.1,1009.7 L1105.1,1016.5 Z" fill="#ff0000"/><path d="M1117.5,1014.1 L1121.5,1007.3 L1125.5,1014.1 Z" fill="#ff0000"/><path d="M1137.9,1011.4 L1141.9,1004.6 L1145.9,1011.4 Z" fill="#ff0000"/><path d="M1158.3,1010.4 L1162.3,1003.6 L1166.3,1010.4 Z" fill="#ff0000"/><path d="M1178.7,1008.5 L1182.7,1001.7 L1186.7,1008.5 Z" fill="#ff0000"/><path d="M1199.1,1006.3 L1203.1,999.5 L1207.1,1006.3 Z" fill="#ff0000"/><path d="M1219.5,1005.3 L1223.5,998.5 L1227.5,1005.3 Z" fill="#ff0000"/><path d="M1239.9,1004.5 L1243.9,997.7 L1247.9,1004.5 Z" fill="#ff0000"/><path d="M1260.3,1003.9 L1264.3,997.1 L1268.3,1003.9 Z" fill="#ff0000"/><rect x="1388.3" y="865.6" width="359.2" height="95.7" fill="#fefefe" stroke="#c8c8c8" stroke-width="1.3"/><rect x="1388.3" y="981" width="359.2" height="95.5" fill="#fefefe" stroke="#c8c8c8" stroke-width="1.3"/><line x1="1385.3" y1="884.4" x2="1388.3" y2="884.4" stroke="#bbb" stroke-width="1"/><text class="dj" x="1386.3" y="890.4" font-size="17.5" text-anchor="end">28.0</text><line x1="1385.3" y1="962.2" x2="1388.3" y2="962.2" stroke="#bbb" stroke-width="1"/><text class="dj" x="1386.3" y="968.2" font-size="17.5" text-anchor="end">26.0</text><line x1="1385.3" y1="1008.6" x2="1388.3" y2="1008.6" stroke="#bbb" stroke-width="1"/><text class="dj" x="1386.3" y="1014.6" font-size="17.5" text-anchor="end">3.55</text><line x1="1385.3" y1="1043.3" x2="1388.3" y2="1043.3" stroke="#bbb" stroke-width="1"/><text class="dj" x="1386.3" y="1049.3" font-size="17.5" text-anchor="end">3.50</text><line x1="1406.5" y1="1076.5" x2="1406.5" y2="1079.5" stroke="#bbb" stroke-width="1"/><text class="dj" x="1406.5" y="1092.5" font-size="17.5" text-anchor="middle">0</text><line x1="1457.5" y1="1076.5" x2="1457.5" y2="1079.5" stroke="#bbb" stroke-width="1"/><text class="dj" x="1457.5" y="1092.5" font-size="17.5" text-anchor="middle">20</text><line x1="1508.5" y1="1076.5" x2="1508.5" y2="1079.5" stroke="#bbb" stroke-width="1"/><text class="dj" x="1508.5" y="1092.5" font-size="17.5" text-anchor="middle">40</text><line x1="1559.5" y1="1076.5" x2="1559.5" y2="1079.5" stroke="#bbb" stroke-width="1"/><text class="dj" x="1559.5" y="1092.5" font-size="17.5" text-anchor="middle">60</text><line x1="1610.5" y1="1076.5" x2="1610.5" y2="1079.5" stroke="#bbb" stroke-width="1"/><text class="dj" x="1610.5" y="1092.5" font-size="17.5" text-anchor="middle">80</text><line x1="1661.5" y1="1076.5" x2="1661.5" y2="1079.5" stroke="#bbb" stroke-width="1"/><text class="dj" x="1661.5" y="1092.5" font-size="17.5" text-anchor="middle">100</text><line x1="1712.5" y1="1076.5" x2="1712.5" y2="1079.5" stroke="#bbb" stroke-width="1"/><text class="dj" x="1712.5" y="1092.5" font-size="17.5" text-anchor="middle">120</text><text class="dj" x="1337.8" y="912.8" font-size="17.5" text-anchor="middle" transform="rotate(-90 1337.8 912.8)" dy="6">°C</text><text class="dj" x="1338.3" y="1028.7" font-size="17.5" text-anchor="middle" transform="rotate(-90 1338.3 1028.7)" dy="6">Voltage</text><path d="M1366.0,833.0 L1369.4,843.4 L1380.3,843.4 L1371.4,849.8 L1374.8,860.1 L1366.0,853.7 L1357.2,860.1 L1360.6,849.8 L1351.7,843.4 L1362.6,843.4 Z" fill="#000"/><line x1="1418.1" y1="851.0" x2="1458" y2="851.0" stroke="#ff0000" stroke-width="1.8" stroke-dasharray="6,3.5" opacity="0.85"/><path d="M1418.1,840.5 L1420.1,846.7 L1426.7,846.7 L1421.4,850.6 L1423.4,856.8 L1418.1,852.9 L1412.8,856.8 L1414.8,850.6 L1409.5,846.7 L1416.1,846.7 Z" fill="#ff0000"/><text class="dj" x="1470.9" y="855.5" font-size="17.5">Predicted</text><line x1="1585.3" y1="851.0" x2="1618" y2="851.0" stroke="#008080" stroke-width="1.8" stroke-dasharray="6,3.5" opacity="0.85"/><path d="M1585.3,840.5 L1587.3,846.7 L1593.9,846.7 L1588.6,850.6 L1590.6,856.8 L1585.3,852.9 L1580.0,856.8 L1582.0,850.6 L1576.7,846.7 L1583.3,846.7 Z" fill="#008080"/><text class="dj" x="1631.3" y="855.5" font-size="17.5">Observed</text><path d="M1406.5,887.4 L1730.3,887.4" fill="none" stroke="#008080" stroke-width="1.6" stroke-dasharray="5.5,3.2" opacity="0.85"/><path d="M1406.5,882.9 L1407.5,886.0 L1410.8,886.0 L1408.1,887.9 L1409.1,891.0 L1406.5,889.1 L1403.9,891.0 L1404.9,887.9 L1402.2,886.0 L1405.5,886.0 Z" fill="#008080"/><path d="M1426.9,882.9 L1427.9,886.0 L1431.2,886.0 L1428.5,887.9 L1429.5,891.0 L1426.9,889.1 L1424.3,891.0 L1425.3,887.9 L1422.6,886.0 L1425.9,886.0 Z" fill="#008080"/><path d="M1447.3,882.9 L1448.3,886.0 L1451.6,886.0 L1448.9,887.9 L1449.9,891.0 L1447.3,889.1 L1444.7,891.0 L1445.7,887.9 L1443.0,886.0 L1446.3,886.0 Z" fill="#008080"/><path d="M1467.7,882.9 L1468.7,886.0 L1472.0,886.0 L1469.3,887.9 L1470.3,891.0 L1467.7,889.1 L1465.1,891.0 L1466.1,887.9 L1463.4,886.0 L1466.7,886.0 Z" fill="#008080"/><path d="M1488.1,882.9 L1489.1,886.0 L1492.4,886.0 L1489.7,887.9 L1490.7,891.0 L1488.1,889.1 L1485.5,891.0 L1486.5,887.9 L1483.8,886.0 L1487.1,886.0 Z" fill="#008080"/><path d="M1508.5,882.9 L1509.5,886.0 L1512.8,886.0 L1510.1,887.9 L1511.1,891.0 L1508.5,889.1 L1505.9,891.0 L1506.9,887.9 L1504.2,886.0 L1507.5,886.0 Z" fill="#008080"/><path d="M1528.9,882.9 L1529.9,886.0 L1533.2,886.0 L1530.5,887.9 L1531.5,891.0 L1528.9,889.1 L1526.3,891.0 L1527.3,887.9 L1524.6,886.0 L1527.9,886.0 Z" fill="#008080"/><path d="M1549.3,882.9 L1550.3,886.0 L1553.6,886.0 L1550.9,887.9 L1551.9,891.0 L1549.3,889.1 L1546.7,891.0 L1547.7,887.9 L1545.0,886.0 L1548.3,886.0 Z" fill="#008080"/><path d="M1569.7,882.9 L1570.7,886.0 L1574.0,886.0 L1571.3,887.9 L1572.3,891.0 L1569.7,889.1 L1567.1,891.0 L1568.1,887.9 L1565.4,886.0 L1568.7,886.0 Z" fill="#008080"/><path d="M1590.1,882.9 L1591.1,886.0 L1594.4,886.0 L1591.7,887.9 L1592.7,891.0 L1590.1,889.1 L1587.5,891.0 L1588.5,887.9 L1585.8,886.0 L1589.1,886.0 Z" fill="#008080"/><path d="M1610.5,882.9 L1611.5,886.0 L1614.8,886.0 L1612.1,887.9 L1613.1,891.0 L1610.5,889.1 L1607.9,891.0 L1608.9,887.9 L1606.2,886.0 L1609.5,886.0 Z" fill="#008080"/><path d="M1630.9,882.9 L1631.9,886.0 L1635.2,886.0 L1632.5,887.9 L1633.5,891.0 L1630.9,889.1 L1628.3,891.0 L1629.3,887.9 L1626.6,886.0 L1629.9,886.0 Z" fill="#008080"/><path d="M1651.3,882.9 L1652.3,886.0 L1655.6,886.0 L1652.9,887.9 L1653.9,891.0 L1651.3,889.1 L1648.7,891.0 L1649.7,887.9 L1647.0,886.0 L1650.3,886.0 Z" fill="#008080"/><path d="M1671.7,882.9 L1672.7,886.0 L1676.0,886.0 L1673.3,887.9 L1674.3,891.0 L1671.7,889.1 L1669.1,891.0 L1670.1,887.9 L1667.4,886.0 L1670.7,886.0 Z" fill="#008080"/><path d="M1692.1,882.9 L1693.1,886.0 L1696.4,886.0 L1693.7,887.9 L1694.7,891.0 L1692.1,889.1 L1689.5,891.0 L1690.5,887.9 L1687.8,886.0 L1691.1,886.0 Z" fill="#008080"/><path d="M1712.5,882.9 L1713.5,886.0 L1716.8,886.0 L1714.1,887.9 L1715.1,891.0 L1712.5,889.1 L1709.9,891.0 L1710.9,887.9 L1708.2,886.0 L1711.5,886.0 Z" fill="#008080"/><path d="M1406.5,948.2 L1409.3,948.1 L1413.2,947.9 L1417.8,947.6 L1422.5,947.4 L1426.9,947.2 L1431.0,947.1 L1435.1,947.0 L1439.1,946.9 L1443.2,946.9 L1447.3,946.7 L1451.4,946.6 L1455.5,946.4 L1459.5,946.1 L1463.6,945.9 L1467.7,945.7 L1471.8,945.6 L1475.9,945.4 L1479.9,945.2 L1484.0,945.1 L1488.1,945.0 L1492.2,944.9 L1496.3,944.8 L1500.3,944.7 L1504.4,944.6 L1508.5,944.5 L1512.6,944.3 L1516.7,944.2 L1520.7,944.0 L1524.8,943.9 L1528.9,943.7 L1533.0,943.6 L1537.1,943.4 L1541.1,943.2 L1545.2,943.1 L1549.3,943.0 L1553.4,942.8 L1557.5,942.8 L1561.5,942.7 L1565.6,942.6 L1569.7,942.5 L1573.8,942.3 L1577.9,942.1 L1581.9,941.9 L1586.0,941.7 L1590.1,941.4 L1594.2,941.2 L1598.3,941.0 L1602.3,940.7 L1606.4,940.4 L1610.5,940.2 L1614.6,939.9 L1618.7,939.7 L1622.7,939.5 L1626.8,939.2 L1630.9,938.9 L1635.0,938.6 L1639.1,938.3 L1643.1,938.0 L1647.2,937.7 L1651.3,937.4 L1655.4,937.2 L1659.5,936.9 L1663.5,936.7 L1667.6,936.4 L1671.7,936.2 L1675.8,935.9 L1679.9,935.5 L1683.9,935.2 L1688.0,934.8 L1692.1,934.4 L1696.2,934.1 L1700.4,933.7 L1704.5,933.4 L1708.6,932.9 L1712.5,932.4 L1716.5,931.6 L1720.7,930.6 L1724.6,929.6 L1728.0,928.7 L1730.3,928.1" fill="none" stroke="#ff0000" stroke-width="1.6" stroke-dasharray="5.5,3.2" opacity="0.85"/><path d="M1406.5,943.7 L1407.5,946.8 L1410.8,946.8 L1408.1,948.8 L1409.1,951.9 L1406.5,950.0 L1403.9,951.9 L1404.9,948.8 L1402.2,946.8 L1405.5,946.8 Z" fill="#ff0000"/><path d="M1426.9,942.7 L1427.9,945.8 L1431.2,945.8 L1428.5,947.8 L1429.5,950.9 L1426.9,949.0 L1424.3,950.9 L1425.3,947.8 L1422.6,945.8 L1425.9,945.8 Z" fill="#ff0000"/><path d="M1447.3,942.2 L1448.3,945.3 L1451.6,945.3 L1448.9,947.3 L1449.9,950.4 L1447.3,948.4 L1444.7,950.4 L1445.7,947.3 L1443.0,945.3 L1446.3,945.3 Z" fill="#ff0000"/><path d="M1467.7,941.2 L1468.7,944.3 L1472.0,944.3 L1469.3,946.3 L1470.3,949.4 L1467.7,947.4 L1465.1,949.4 L1466.1,946.3 L1463.4,944.3 L1466.7,944.3 Z" fill="#ff0000"/><path d="M1488.1,940.5 L1489.1,943.6 L1492.4,943.6 L1489.7,945.5 L1490.7,948.6 L1488.1,946.7 L1485.5,948.6 L1486.5,945.5 L1483.8,943.6 L1487.1,943.6 Z" fill="#ff0000"/><path d="M1508.5,940.0 L1509.5,943.1 L1512.8,943.1 L1510.1,945.0 L1511.1,948.1 L1508.5,946.2 L1505.9,948.1 L1506.9,945.0 L1504.2,943.1 L1507.5,943.1 Z" fill="#ff0000"/><path d="M1528.9,939.2 L1529.9,942.3 L1533.2,942.3 L1530.5,944.2 L1531.5,947.4 L1528.9,945.4 L1526.3,947.4 L1527.3,944.2 L1524.6,942.3 L1527.9,942.3 Z" fill="#ff0000"/><path d="M1549.3,938.5 L1550.3,941.6 L1553.6,941.6 L1550.9,943.5 L1551.9,946.6 L1549.3,944.7 L1546.7,946.6 L1547.7,943.5 L1545.0,941.6 L1548.3,941.6 Z" fill="#ff0000"/><path d="M1569.7,938.0 L1570.7,941.1 L1574.0,941.1 L1571.3,943.0 L1572.3,946.1 L1569.7,944.2 L1567.1,946.1 L1568.1,943.0 L1565.4,941.1 L1568.7,941.1 Z" fill="#ff0000"/><path d="M1590.1,936.9 L1591.1,940.1 L1594.4,940.1 L1591.7,942.0 L1592.7,945.1 L1590.1,943.2 L1587.5,945.1 L1588.5,942.0 L1585.8,940.1 L1589.1,940.1 Z" fill="#ff0000"/><path d="M1610.5,935.7 L1611.5,938.8 L1614.8,938.8 L1612.1,940.7 L1613.1,943.8 L1610.5,941.9 L1607.9,943.8 L1608.9,940.7 L1606.2,938.8 L1609.5,938.8 Z" fill="#ff0000"/><path d="M1630.9,934.4 L1631.9,937.5 L1635.2,937.5 L1632.5,939.5 L1633.5,942.6 L1630.9,940.7 L1628.3,942.6 L1629.3,939.5 L1626.6,937.5 L1629.9,937.5 Z" fill="#ff0000"/><path d="M1651.3,932.9 L1652.3,936.0 L1655.6,936.0 L1652.9,938.0 L1653.9,941.1 L1651.3,939.1 L1648.7,941.1 L1649.7,938.0 L1647.0,936.0 L1650.3,936.0 Z" fill="#ff0000"/><path d="M1671.7,931.7 L1672.7,934.8 L1676.0,934.8 L1673.3,936.7 L1674.3,939.8 L1671.7,937.9 L1669.1,939.8 L1670.1,936.7 L1667.4,934.8 L1670.7,934.8 Z" fill="#ff0000"/><path d="M1692.1,929.9 L1693.1,933.0 L1696.4,933.0 L1693.7,934.9 L1694.7,938.0 L1692.1,936.1 L1689.5,938.0 L1690.5,934.9 L1687.8,933.0 L1691.1,933.0 Z" fill="#ff0000"/><path d="M1712.5,927.9 L1713.5,931.0 L1716.8,931.0 L1714.1,932.9 L1715.1,936.0 L1712.5,934.1 L1709.9,936.0 L1710.9,932.9 L1708.2,931.0 L1711.5,931.0 Z" fill="#ff0000"/><path d="M1406.5,1057.6 L1407.2,1058.2 L1408.2,1059.1 L1409.3,1060.0 L1410.5,1060.7 L1411.6,1060.9 L1412.5,1060.4 L1413.4,1059.5 L1414.3,1058.4 L1415.4,1057.3 L1416.7,1056.4 L1418.4,1055.8 L1420.4,1055.4 L1422.6,1055.0 L1424.8,1054.6 L1426.9,1053.8 L1428.9,1052.6 L1431.0,1051.1 L1433.0,1049.4 L1435.1,1048.2 L1437.1,1047.6 L1439.1,1048.0 L1441.2,1049.3 L1443.2,1050.8 L1445.3,1052.1 L1447.3,1052.6 L1449.3,1052.0 L1451.4,1050.6 L1453.4,1048.9 L1455.5,1047.3 L1457.5,1046.3 L1459.5,1046.0 L1461.6,1046.2 L1463.6,1046.5 L1465.7,1046.6 L1467.7,1046.3 L1469.7,1045.4 L1471.8,1044.0 L1473.8,1042.5 L1475.9,1041.1 L1477.9,1040.0 L1479.9,1039.4 L1482.0,1039.1 L1484.0,1039.0 L1486.1,1038.9 L1488.1,1038.8 L1490.1,1038.7 L1492.2,1038.7 L1494.2,1038.7 L1496.3,1038.6 L1498.3,1038.3 L1500.3,1037.5 L1502.4,1036.4 L1504.4,1035.2 L1506.5,1034.1 L1508.5,1033.2 L1510.5,1032.6 L1512.6,1032.1 L1514.6,1031.7 L1516.7,1031.4 L1518.7,1031.2 L1520.7,1031.1 L1522.8,1031.1 L1524.8,1031.1 L1526.9,1031.2 L1528.9,1031.2 L1530.9,1031.2 L1533.0,1031.2 L1535.0,1031.2 L1537.1,1031.2 L1539.1,1031.2 L1541.1,1031.3 L1543.2,1031.5 L1545.2,1031.6 L1547.3,1031.5 L1549.3,1031.2 L1551.3,1030.6 L1553.4,1029.7 L1555.4,1028.7 L1557.5,1027.5 L1559.5,1026.2 L1561.5,1024.4 L1563.6,1022.3 L1565.6,1020.1 L1567.7,1018.3 L1569.7,1017.4 L1571.7,1017.7 L1573.8,1019.0 L1575.8,1020.6 L1577.9,1021.9 L1579.9,1022.4 L1581.9,1021.7 L1584.0,1020.2 L1586.0,1018.4 L1588.1,1016.7 L1590.1,1015.6 L1592.1,1015.2 L1594.2,1015.1 L1596.2,1015.3 L1598.3,1015.5 L1600.3,1015.6 L1602.3,1015.7 L1604.4,1016.0 L1606.4,1016.1 L1608.5,1016.1 L1610.5,1015.6 L1612.5,1014.6 L1614.6,1013.0 L1616.6,1011.3 L1618.7,1009.7 L1620.7,1008.6 L1622.7,1008.1 L1624.8,1007.9 L1626.8,1007.9 L1628.9,1008.0 L1630.9,1008.1 L1632.9,1008.1 L1635.0,1008.2 L1637.0,1008.3 L1639.1,1008.3 L1641.1,1008.1 L1643.1,1007.7 L1645.2,1007.1 L1647.2,1006.3 L1649.3,1005.6 L1651.3,1004.8 L1653.3,1004.0 L1655.4,1003.0 L1657.4,1002.0 L1659.5,1001.1 L1661.5,1000.5 L1663.5,1000.3 L1665.6,1000.3 L1667.6,1000.4 L1669.7,1000.5 L1671.7,1000.5 L1673.7,1000.5 L1675.8,1000.6 L1677.8,1000.6 L1679.9,1000.3 L1681.9,999.8 L1683.9,998.7 L1686.0,997.2 L1688.0,995.6 L1690.1,994.1 L1692.1,993.0 L1694.1,992.6 L1696.2,992.6 L1698.2,992.7 L1700.3,992.7 L1702.3,992.2 L1704.3,991.1 L1706.4,989.5 L1708.4,987.8 L1710.5,986.3 L1712.5,985.2 L1714.6,984.7 L1716.7,984.7 L1718.8,984.9 L1720.8,985.1 L1722.7,985.2 L1724.5,985.2 L1726.3,985.2 L1728.0,985.2 L1729.4,985.2 L1730.3,985.2" fill="none" stroke="#008080" stroke-width="1.6" stroke-dasharray="5.5,3.2" opacity="0.85"/><path d="M1406.5,1053.1 L1407.5,1056.2 L1410.8,1056.2 L1408.1,1058.1 L1409.1,1061.3 L1406.5,1059.3 L1403.9,1061.3 L1404.9,1058.1 L1402.2,1056.2 L1405.5,1056.2 Z" fill="#008080"/><path d="M1426.9,1049.3 L1427.9,1052.5 L1431.2,1052.5 L1428.5,1054.4 L1429.5,1057.5 L1426.9,1055.6 L1424.3,1057.5 L1425.3,1054.4 L1422.6,1052.5 L1425.9,1052.5 Z" fill="#008080"/><path d="M1447.3,1048.1 L1448.3,1051.2 L1451.6,1051.2 L1448.9,1053.1 L1449.9,1056.2 L1447.3,1054.3 L1444.7,1056.2 L1445.7,1053.1 L1443.0,1051.2 L1446.3,1051.2 Z" fill="#008080"/><path d="M1467.7,1041.8 L1468.7,1044.9 L1472.0,1044.9 L1469.3,1046.8 L1470.3,1049.9 L1467.7,1048.0 L1465.1,1049.9 L1466.1,1046.8 L1463.4,1044.9 L1466.7,1044.9 Z" fill="#008080"/><path d="M1488.1,1034.3 L1489.1,1037.4 L1492.4,1037.4 L1489.7,1039.3 L1490.7,1042.4 L1488.1,1040.5 L1485.5,1042.4 L1486.5,1039.3 L1483.8,1037.4 L1487.1,1037.4 Z" fill="#008080"/><path d="M1508.5,1028.7 L1509.5,1031.8 L1512.8,1031.8 L1510.1,1033.8 L1511.1,1036.9 L1508.5,1034.9 L1505.9,1036.9 L1506.9,1033.8 L1504.2,1031.8 L1507.5,1031.8 Z" fill="#008080"/><path d="M1528.9,1026.7 L1529.9,1029.8 L1533.2,1029.8 L1530.5,1031.7 L1531.5,1034.9 L1528.9,1032.9 L1526.3,1034.9 L1527.3,1031.7 L1524.6,1029.8 L1527.9,1029.8 Z" fill="#008080"/><path d="M1549.3,1026.7 L1550.3,1029.8 L1553.6,1029.8 L1550.9,1031.7 L1551.9,1034.9 L1549.3,1032.9 L1546.7,1034.9 L1547.7,1031.7 L1545.0,1029.8 L1548.3,1029.8 Z" fill="#008080"/><path d="M1569.7,1012.9 L1570.7,1016.0 L1574.0,1016.0 L1571.3,1017.9 L1572.3,1021.0 L1569.7,1019.1 L1567.1,1021.0 L1568.1,1017.9 L1565.4,1016.0 L1568.7,1016.0 Z" fill="#008080"/><path d="M1590.1,1011.1 L1591.1,1014.2 L1594.4,1014.2 L1591.7,1016.2 L1592.7,1019.3 L1590.1,1017.3 L1587.5,1019.3 L1588.5,1016.2 L1585.8,1014.2 L1589.1,1014.2 Z" fill="#008080"/><path d="M1610.5,1011.1 L1611.5,1014.2 L1614.8,1014.2 L1612.1,1016.2 L1613.1,1019.3 L1610.5,1017.3 L1607.9,1019.3 L1608.9,1016.2 L1606.2,1014.2 L1609.5,1014.2 Z" fill="#008080"/><path d="M1630.9,1003.6 L1631.9,1006.7 L1635.2,1006.7 L1632.5,1008.6 L1633.5,1011.7 L1630.9,1009.8 L1628.3,1011.7 L1629.3,1008.6 L1626.6,1006.7 L1629.9,1006.7 Z" fill="#008080"/><path d="M1651.3,1000.3 L1652.3,1003.4 L1655.6,1003.4 L1652.9,1005.3 L1653.9,1008.5 L1651.3,1006.5 L1648.7,1008.5 L1649.7,1005.3 L1647.0,1003.4 L1650.3,1003.4 Z" fill="#008080"/><path d="M1671.7,996.0 L1672.7,999.1 L1676.0,999.1 L1673.3,1001.1 L1674.3,1004.2 L1671.7,1002.3 L1669.1,1004.2 L1670.1,1001.1 L1667.4,999.1 L1670.7,999.1 Z" fill="#008080"/><path d="M1692.1,988.5 L1693.1,991.6 L1696.4,991.6 L1693.7,993.5 L1694.7,996.6 L1692.1,994.7 L1689.5,996.6 L1690.5,993.5 L1687.8,991.6 L1691.1,991.6 Z" fill="#008080"/><path d="M1712.5,980.7 L1713.5,983.8 L1716.8,983.8 L1714.1,985.7 L1715.1,988.8 L1712.5,986.9 L1709.9,988.8 L1710.9,985.7 L1708.2,983.8 L1711.5,983.8 Z" fill="#008080"/><path d="M1406.5,1070.7 L1407.9,1070.8 L1409.8,1071.1 L1412.1,1071.3 L1414.5,1071.5 L1416.7,1071.4 L1418.6,1071.2 L1420.3,1070.9 L1422.1,1070.4 L1424.2,1069.9 L1426.9,1069.4 L1430.3,1069.0 L1434.3,1068.5 L1438.7,1068.0 L1443.1,1067.5 L1447.3,1066.9 L1451.4,1066.3 L1455.5,1065.7 L1459.5,1065.1 L1463.6,1064.5 L1467.7,1063.9 L1471.8,1063.3 L1475.9,1062.8 L1479.9,1062.2 L1484.0,1061.6 L1488.1,1060.9 L1492.2,1060.1 L1496.3,1059.1 L1500.3,1058.1 L1504.4,1057.2 L1508.5,1056.4 L1512.6,1055.7 L1516.7,1055.1 L1520.7,1054.5 L1524.8,1054.0 L1528.9,1053.3 L1533.0,1052.6 L1537.1,1051.9 L1541.1,1051.1 L1545.2,1050.3 L1549.3,1049.6 L1553.4,1048.9 L1557.5,1048.3 L1561.5,1047.7 L1565.6,1047.0 L1569.7,1046.3 L1573.8,1045.5 L1577.9,1044.6 L1581.9,1043.6 L1586.0,1042.7 L1590.1,1041.8 L1594.2,1040.9 L1598.3,1040.1 L1602.3,1039.3 L1606.4,1038.5 L1610.5,1037.8 L1614.6,1037.0 L1618.7,1036.2 L1622.7,1035.4 L1626.8,1034.6 L1630.9,1033.7 L1635.0,1032.9 L1639.1,1032.0 L1643.1,1031.1 L1647.2,1030.1 L1651.3,1029.2 L1655.4,1028.2 L1659.5,1027.2 L1663.5,1026.1 L1667.6,1025.1 L1671.7,1024.2 L1675.8,1023.4 L1679.9,1022.7 L1683.9,1022.1 L1688.0,1021.4 L1692.1,1020.7 L1696.3,1019.7 L1700.7,1018.7 L1705.1,1017.6 L1709.1,1016.5 L1712.5,1015.6 L1715.2,1015.1 L1717.4,1014.9 L1719.3,1014.7 L1721.0,1014.0 L1722.7,1012.4 L1724.5,1009.3 L1726.3,1005.0 L1728.0,1000.4 L1729.4,996.3 L1730.3,993.5" fill="none" stroke="#ff0000" stroke-width="1.6" stroke-dasharray="5.5,3.2" opacity="0.85"/><path d="M1406.5,1066.2 L1407.5,1069.3 L1410.8,1069.3 L1408.1,1071.2 L1409.1,1074.3 L1406.5,1072.4 L1403.9,1074.3 L1404.9,1071.2 L1402.2,1069.3 L1405.5,1069.3 Z" fill="#ff0000"/><path d="M1426.9,1064.9 L1427.9,1068.0 L1431.2,1068.0 L1428.5,1070.0 L1429.5,1073.1 L1426.9,1071.2 L1424.3,1073.1 L1425.3,1070.0 L1422.6,1068.0 L1425.9,1068.0 Z" fill="#ff0000"/><path d="M1447.3,1062.4 L1448.3,1065.5 L1451.6,1065.5 L1448.9,1067.5 L1449.9,1070.6 L1447.3,1068.6 L1444.7,1070.6 L1445.7,1067.5 L1443.0,1065.5 L1446.3,1065.5 Z" fill="#ff0000"/><path d="M1467.7,1059.4 L1468.7,1062.5 L1472.0,1062.5 L1469.3,1064.4 L1470.3,1067.5 L1467.7,1065.6 L1465.1,1067.5 L1466.1,1064.4 L1463.4,1062.5 L1466.7,1062.5 Z" fill="#ff0000"/><path d="M1488.1,1056.4 L1489.1,1059.5 L1492.4,1059.5 L1489.7,1061.4 L1490.7,1064.5 L1488.1,1062.6 L1485.5,1064.5 L1486.5,1061.4 L1483.8,1059.5 L1487.1,1059.5 Z" fill="#ff0000"/><path d="M1508.5,1051.9 L1509.5,1055.0 L1512.8,1055.0 L1510.1,1056.9 L1511.1,1060.0 L1508.5,1058.1 L1505.9,1060.0 L1506.9,1056.9 L1504.2,1055.0 L1507.5,1055.0 Z" fill="#ff0000"/><path d="M1528.9,1048.8 L1529.9,1052.0 L1533.2,1052.0 L1530.5,1053.9 L1531.5,1057.0 L1528.9,1055.1 L1526.3,1057.0 L1527.3,1053.9 L1524.6,1052.0 L1527.9,1052.0 Z" fill="#ff0000"/><path d="M1549.3,1045.1 L1550.3,1048.2 L1553.6,1048.2 L1550.9,1050.1 L1551.9,1053.2 L1549.3,1051.3 L1546.7,1053.2 L1547.7,1050.1 L1545.0,1048.2 L1548.3,1048.2 Z" fill="#ff0000"/><path d="M1569.7,1041.8 L1570.7,1044.9 L1574.0,1044.9 L1571.3,1046.8 L1572.3,1049.9 L1569.7,1048.0 L1567.1,1049.9 L1568.1,1046.8 L1565.4,1044.9 L1568.7,1044.9 Z" fill="#ff0000"/><path d="M1590.1,1037.3 L1591.1,1040.4 L1594.4,1040.4 L1591.7,1042.3 L1592.7,1045.4 L1590.1,1043.5 L1587.5,1045.4 L1588.5,1042.3 L1585.8,1040.4 L1589.1,1040.4 Z" fill="#ff0000"/><path d="M1610.5,1033.3 L1611.5,1036.4 L1614.8,1036.4 L1612.1,1038.3 L1613.1,1041.4 L1610.5,1039.5 L1607.9,1041.4 L1608.9,1038.3 L1606.2,1036.4 L1609.5,1036.4 Z" fill="#ff0000"/><path d="M1630.9,1029.2 L1631.9,1032.3 L1635.2,1032.3 L1632.5,1034.3 L1633.5,1037.4 L1630.9,1035.4 L1628.3,1037.4 L1629.3,1034.3 L1626.6,1032.3 L1629.9,1032.3 Z" fill="#ff0000"/><path d="M1651.3,1024.7 L1652.3,1027.8 L1655.6,1027.8 L1652.9,1029.7 L1653.9,1032.8 L1651.3,1030.9 L1648.7,1032.8 L1649.7,1029.7 L1647.0,1027.8 L1650.3,1027.8 Z" fill="#ff0000"/><path d="M1671.7,1019.7 L1672.7,1022.8 L1676.0,1022.8 L1673.3,1024.7 L1674.3,1027.8 L1671.7,1025.9 L1669.1,1027.8 L1670.1,1024.7 L1667.4,1022.8 L1670.7,1022.8 Z" fill="#ff0000"/><path d="M1692.1,1016.2 L1693.1,1019.3 L1696.4,1019.3 L1693.7,1021.2 L1694.7,1024.3 L1692.1,1022.4 L1689.5,1024.3 L1690.5,1021.2 L1687.8,1019.3 L1691.1,1019.3 Z" fill="#ff0000"/><path d="M1712.5,1011.1 L1713.5,1014.2 L1716.8,1014.2 L1714.1,1016.2 L1715.1,1019.3 L1712.5,1017.3 L1709.9,1019.3 L1710.9,1016.2 L1708.2,1014.2 L1711.5,1014.2 Z" fill="#ff0000"/><rect x="943.9" y="1163.6" width="357.7" height="95.0" fill="#fefefe" stroke="#c8c8c8" stroke-width="1.3"/><rect x="943.9" y="1278.2" width="357.7" height="95.3" fill="#fefefe" stroke="#c8c8c8" stroke-width="1.3"/><line x1="940.9" y1="1182.2" x2="943.9" y2="1182.2" stroke="#bbb" stroke-width="1"/><text class="dj" x="941.9" y="1188.2" font-size="17.5" text-anchor="end">22.0</text><line x1="940.9" y1="1259.4" x2="943.9" y2="1259.4" stroke="#bbb" stroke-width="1"/><text class="dj" x="941.9" y="1265.4" font-size="17.5" text-anchor="end">20.0</text><line x1="940.9" y1="1309.9" x2="943.9" y2="1309.9" stroke="#bbb" stroke-width="1"/><text class="dj" x="941.9" y="1315.9" font-size="17.5" text-anchor="end">3.2</text><line x1="940.9" y1="1361.4" x2="943.9" y2="1361.4" stroke="#bbb" stroke-width="1"/><text class="dj" x="941.9" y="1367.4" font-size="17.5" text-anchor="end">3.0</text><line x1="960.3" y1="1373.5" x2="960.3" y2="1376.5" stroke="#bbb" stroke-width="1"/><text class="dj" x="960.3" y="1389.5" font-size="17.5" text-anchor="middle">0</text><line x1="1011.4" y1="1373.5" x2="1011.4" y2="1376.5" stroke="#bbb" stroke-width="1"/><text class="dj" x="1011.4" y="1389.5" font-size="17.5" text-anchor="middle">20</text><line x1="1062.5" y1="1373.5" x2="1062.5" y2="1376.5" stroke="#bbb" stroke-width="1"/><text class="dj" x="1062.5" y="1389.5" font-size="17.5" text-anchor="middle">40</text><line x1="1113.6" y1="1373.5" x2="1113.6" y2="1376.5" stroke="#bbb" stroke-width="1"/><text class="dj" x="1113.6" y="1389.5" font-size="17.5" text-anchor="middle">60</text><line x1="1164.7" y1="1373.5" x2="1164.7" y2="1376.5" stroke="#bbb" stroke-width="1"/><text class="dj" x="1164.7" y="1389.5" font-size="17.5" text-anchor="middle">80</text><line x1="1215.8" y1="1373.5" x2="1215.8" y2="1376.5" stroke="#bbb" stroke-width="1"/><text class="dj" x="1215.8" y="1389.5" font-size="17.5" text-anchor="middle">100</text><line x1="1266.9" y1="1373.5" x2="1266.9" y2="1376.5" stroke="#bbb" stroke-width="1"/><text class="dj" x="1266.9" y="1389.5" font-size="17.5" text-anchor="middle">120</text><text class="dj" x="893.6" y="1210.3" font-size="17.5" text-anchor="middle" transform="rotate(-90 893.6 1210.3)" dy="6">°C</text><text class="dj" x="903.3" y="1331.9" font-size="17.5" text-anchor="middle" transform="rotate(-90 903.3 1331.9)" dy="6">Voltage</text><circle cx="911.1" cy="1145.6" r="10" fill="#000"/><line x1="974.2" y1="1146.8" x2="1013.3" y2="1146.8" stroke="#ff0000" stroke-width="1.8" stroke-dasharray="6,3.5" opacity="0.85"/><circle cx="974.2" cy="1145.3" r="6.5" fill="#ff0000"/><text class="dj" x="1025.9" y="1152.7" font-size="17.5">Predicted</text><line x1="1139.8" y1="1146.8" x2="1173" y2="1146.8" stroke="#008080" stroke-width="1.8" stroke-dasharray="6,3.5" opacity="0.85"/><circle cx="1139.8" cy="1145.3" r="6.5" fill="#008080"/><text class="dj" x="1186.3" y="1152.7" font-size="17.5">Observed</text><path d="M960.3,1218.9 L1284.8,1218.9" fill="none" stroke="#008080" stroke-width="1.6" stroke-dasharray="5.5,3.2" opacity="0.85"/><circle cx="960.3" cy="1218.9" r="4.0" fill="#008080"/><circle cx="980.7" cy="1218.9" r="4.0" fill="#008080"/><circle cx="1001.2" cy="1218.9" r="4.0" fill="#008080"/><circle cx="1021.6" cy="1218.9" r="4.0" fill="#008080"/><circle cx="1042.1" cy="1218.9" r="4.0" fill="#008080"/><circle cx="1062.5" cy="1218.9" r="4.0" fill="#008080"/><circle cx="1082.9" cy="1218.9" r="4.0" fill="#008080"/><circle cx="1103.4" cy="1218.9" r="4.0" fill="#008080"/><circle cx="1123.8" cy="1218.9" r="4.0" fill="#008080"/><circle cx="1144.3" cy="1218.9" r="4.0" fill="#008080"/><circle cx="1164.7" cy="1218.9" r="4.0" fill="#008080"/><circle cx="1185.1" cy="1218.9" r="4.0" fill="#008080"/><circle cx="1205.6" cy="1218.9" r="4.0" fill="#008080"/><circle cx="1226.0" cy="1218.9" r="4.0" fill="#008080"/><circle cx="1246.5" cy="1218.9" r="4.0" fill="#008080"/><circle cx="1266.9" cy="1218.9" r="4.0" fill="#008080"/><path d="M960.3,1247.8 L961.7,1248.8 L963.7,1250.3 L965.9,1251.9 L968.3,1253.5 L970.5,1254.6 L972.4,1255.2 L974.1,1255.6 L975.9,1255.7 L978.0,1255.8 L980.7,1255.8 L984.2,1255.8 L988.2,1255.7 L992.5,1255.5 L996.9,1255.3 L1001.2,1255.1 L1005.3,1254.9 L1009.4,1254.7 L1013.4,1254.5 L1017.5,1254.3 L1021.6,1254.1 L1025.7,1253.8 L1029.8,1253.6 L1033.9,1253.3 L1038.0,1253.0 L1042.1,1252.8 L1046.1,1252.7 L1050.2,1252.5 L1054.3,1252.4 L1058.4,1252.3 L1062.5,1252.1 L1066.6,1251.8 L1070.7,1251.4 L1074.8,1251.0 L1078.9,1250.6 L1082.9,1250.3 L1087.0,1250.0 L1091.1,1249.8 L1095.2,1249.5 L1099.3,1249.3 L1103.4,1249.0 L1107.5,1248.8 L1111.6,1248.6 L1115.6,1248.3 L1119.7,1248.1 L1123.8,1247.8 L1127.9,1247.5 L1132.0,1247.2 L1136.1,1246.9 L1140.2,1246.6 L1144.3,1246.3 L1148.3,1246.0 L1152.4,1245.8 L1156.5,1245.6 L1160.6,1245.4 L1164.7,1245.0 L1168.8,1244.6 L1172.9,1244.1 L1177.0,1243.6 L1181.1,1243.0 L1185.1,1242.5 L1189.2,1242.0 L1193.3,1241.5 L1197.4,1241.0 L1201.5,1240.5 L1205.6,1240.0 L1209.7,1239.4 L1213.8,1238.8 L1217.8,1238.2 L1221.9,1237.6 L1226.0,1237.0 L1230.1,1236.3 L1234.2,1235.7 L1238.3,1235.0 L1242.4,1234.4 L1246.5,1233.7 L1250.6,1233.1 L1254.8,1232.6 L1258.9,1232.1 L1263.0,1231.5 L1266.9,1230.7 L1270.9,1229.5 L1275.1,1228.1 L1279.0,1226.6 L1282.4,1225.3 L1284.8,1224.4" fill="none" stroke="#ff0000" stroke-width="1.6" stroke-dasharray="5.5,3.2" opacity="0.85"/><circle cx="960.3" cy="1247.8" r="4.0" fill="#ff0000"/><circle cx="980.7" cy="1255.8" r="4.0" fill="#ff0000"/><circle cx="1001.2" cy="1255.1" r="4.0" fill="#ff0000"/><circle cx="1021.6" cy="1254.1" r="4.0" fill="#ff0000"/><circle cx="1042.1" cy="1252.8" r="4.0" fill="#ff0000"/><circle cx="1062.5" cy="1252.1" r="4.0" fill="#ff0000"/><circle cx="1082.9" cy="1250.3" r="4.0" fill="#ff0000"/><circle cx="1103.4" cy="1249.0" r="4.0" fill="#ff0000"/><circle cx="1123.8" cy="1247.8" r="4.0" fill="#ff0000"/><circle cx="1144.3" cy="1246.3" r="4.0" fill="#ff0000"/><circle cx="1164.7" cy="1245.0" r="4.0" fill="#ff0000"/><circle cx="1185.1" cy="1242.5" r="4.0" fill="#ff0000"/><circle cx="1205.6" cy="1240.0" r="4.0" fill="#ff0000"/><circle cx="1226.0" cy="1237.0" r="4.0" fill="#ff0000"/><circle cx="1246.5" cy="1233.7" r="4.0" fill="#ff0000"/><circle cx="1266.9" cy="1230.7" r="4.0" fill="#ff0000"/><path d="M960.3,1367.7 L960.6,1366.6 L961.1,1364.9 L961.7,1363.0 L962.3,1360.9 L962.9,1358.9 L963.3,1357.0 L963.8,1354.9 L964.2,1352.8 L964.7,1350.7 L965.4,1348.9 L966.2,1347.3 L967.0,1345.9 L968.0,1344.5 L969.1,1343.0 L970.5,1341.3 L972.1,1339.3 L973.7,1336.9 L975.7,1334.5 L978.0,1332.1 L980.7,1330.0 L984.2,1328.1 L988.2,1326.2 L992.5,1324.5 L996.9,1323.0 L1001.2,1321.7 L1005.3,1320.7 L1009.4,1319.9 L1013.4,1319.3 L1017.5,1318.8 L1021.6,1318.2 L1025.7,1317.6 L1029.8,1317.1 L1033.9,1316.6 L1038.0,1316.2 L1042.1,1315.7 L1046.1,1315.2 L1050.2,1314.7 L1054.3,1314.2 L1058.4,1313.7 L1062.5,1313.2 L1066.6,1312.7 L1070.7,1312.2 L1074.8,1311.7 L1078.9,1311.2 L1082.9,1310.7 L1087.0,1310.2 L1091.1,1309.6 L1095.2,1309.1 L1099.3,1308.6 L1103.4,1308.1 L1107.5,1307.6 L1111.6,1307.1 L1115.6,1306.6 L1119.7,1306.1 L1123.8,1305.6 L1127.9,1305.2 L1132.0,1304.8 L1136.1,1304.4 L1140.2,1304.0 L1144.3,1303.6 L1148.3,1303.1 L1152.4,1302.6 L1156.5,1302.1 L1160.6,1301.6 L1164.7,1301.1 L1168.8,1300.6 L1172.9,1300.1 L1177.0,1299.6 L1181.1,1299.1 L1185.1,1298.6 L1189.2,1298.1 L1193.3,1297.6 L1197.4,1297.1 L1201.5,1296.6 L1205.6,1296.1 L1209.7,1295.6 L1213.8,1295.1 L1217.8,1294.6 L1221.9,1294.1 L1226.0,1293.6 L1230.1,1293.0 L1234.2,1292.5 L1238.3,1292.0 L1242.4,1291.5 L1246.5,1291.0 L1250.6,1290.6 L1254.9,1290.2 L1259.1,1289.9 L1263.1,1289.5 L1266.9,1289.0 L1270.5,1288.5 L1274.0,1287.9 L1277.3,1287.3 L1280.1,1286.6 L1282.2,1286.0 L1283.6,1285.4 L1284.3,1284.7 L1284.6,1284.0 L1284.6,1283.4 L1284.8,1283.0" fill="none" stroke="#ff0000" stroke-width="1.6" stroke-dasharray="5.5,3.2" opacity="0.85"/><circle cx="960.3" cy="1367.7" r="4.0" fill="#ff0000"/><circle cx="980.7" cy="1330.0" r="4.0" fill="#ff0000"/><circle cx="1001.2" cy="1321.7" r="4.0" fill="#ff0000"/><circle cx="1021.6" cy="1318.2" r="4.0" fill="#ff0000"/><circle cx="1042.1" cy="1315.7" r="4.0" fill="#ff0000"/><circle cx="1062.5" cy="1313.2" r="4.0" fill="#ff0000"/><circle cx="1082.9" cy="1310.7" r="4.0" fill="#ff0000"/><circle cx="1103.4" cy="1308.1" r="4.0" fill="#ff0000"/><circle cx="1123.8" cy="1305.6" r="4.0" fill="#ff0000"/><circle cx="1144.3" cy="1303.6" r="4.0" fill="#ff0000"/><circle cx="1164.7" cy="1301.1" r="4.0" fill="#ff0000"/><circle cx="1185.1" cy="1298.6" r="4.0" fill="#ff0000"/><circle cx="1205.6" cy="1296.1" r="4.0" fill="#ff0000"/><circle cx="1226.0" cy="1293.6" r="4.0" fill="#ff0000"/><circle cx="1246.5" cy="1291.0" r="4.0" fill="#ff0000"/><circle cx="1266.9" cy="1289.0" r="4.0" fill="#ff0000"/><path d="M960.3,1369.0 L960.6,1368.0 L961.1,1366.6 L961.7,1365.0 L962.3,1363.2 L962.9,1361.4 L963.3,1359.6 L963.8,1357.5 L964.2,1355.4 L964.7,1353.3 L965.4,1351.4 L966.2,1349.8 L967.0,1348.3 L968.0,1346.9 L969.1,1345.4 L970.5,1343.8 L972.1,1342.1 L973.7,1340.2 L975.7,1338.3 L978.0,1336.3 L980.7,1334.3 L984.2,1332.2 L988.2,1330.0 L992.5,1327.8 L996.9,1325.7 L1001.2,1323.7 L1005.3,1322.0 L1009.4,1320.3 L1013.4,1318.8 L1017.5,1317.5 L1021.6,1316.2 L1025.7,1315.0 L1029.8,1314.0 L1033.9,1313.1 L1038.0,1312.3 L1042.1,1311.7 L1046.1,1311.2 L1050.2,1310.9 L1054.3,1310.7 L1058.4,1310.4 L1062.5,1309.9 L1066.6,1309.1 L1070.7,1308.1 L1074.8,1307.0 L1078.9,1305.9 L1082.9,1304.9 L1087.0,1303.8 L1091.1,1302.7 L1095.2,1301.5 L1099.3,1300.6 L1103.4,1299.8 L1107.6,1299.4 L1112.0,1299.2 L1116.4,1299.2 L1120.4,1299.2 L1123.8,1299.1 L1126.5,1299.0 L1128.6,1299.1 L1130.4,1299.1 L1132.2,1298.9 L1134.0,1298.6 L1136.1,1297.8 L1138.1,1296.7 L1140.2,1295.6 L1142.2,1294.6 L1144.3,1294.1 L1146.3,1294.1 L1148.3,1294.5 L1150.4,1295.2 L1152.4,1295.8 L1154.5,1296.1 L1156.4,1296.0 L1158.1,1295.8 L1159.9,1295.5 L1162.0,1295.1 L1164.7,1294.8 L1168.1,1294.5 L1172.1,1294.2 L1176.5,1293.8 L1180.9,1293.4 L1185.1,1293.1 L1189.2,1292.7 L1193.3,1292.3 L1197.4,1291.9 L1201.5,1291.4 L1205.6,1291.0 L1209.7,1290.6 L1213.8,1290.2 L1217.8,1289.8 L1221.9,1289.4 L1226.0,1289.0 L1230.1,1288.8 L1234.2,1288.6 L1238.3,1288.5 L1242.4,1288.3 L1246.5,1288.0 L1250.7,1287.5 L1255.1,1286.9 L1259.5,1286.3 L1263.5,1285.7 L1266.9,1285.3 L1269.6,1285.0 L1271.8,1285.0 L1273.7,1285.0 L1275.4,1284.9 L1277.1,1284.8 L1278.9,1284.3 L1280.7,1283.8 L1282.4,1283.2 L1283.8,1282.6 L1284.8,1282.2" fill="none" stroke="#008080" stroke-width="1.6" stroke-dasharray="5.5,3.2" opacity="0.85"/><circle cx="960.3" cy="1369.0" r="4.0" fill="#008080"/><circle cx="980.7" cy="1334.3" r="4.0" fill="#008080"/><circle cx="1001.2" cy="1323.7" r="4.0" fill="#008080"/><circle cx="1021.6" cy="1316.2" r="4.0" fill="#008080"/><circle cx="1042.1" cy="1311.7" r="4.0" fill="#008080"/><circle cx="1062.5" cy="1309.9" r="4.0" fill="#008080"/><circle cx="1082.9" cy="1304.9" r="4.0" fill="#008080"/><circle cx="1103.4" cy="1299.8" r="4.0" fill="#008080"/><circle cx="1123.8" cy="1299.1" r="4.0" fill="#008080"/><circle cx="1144.3" cy="1294.1" r="4.0" fill="#008080"/><circle cx="1164.7" cy="1294.8" r="4.0" fill="#008080"/><circle cx="1185.1" cy="1293.1" r="4.0" fill="#008080"/><circle cx="1205.6" cy="1291.0" r="4.0" fill="#008080"/><circle cx="1226.0" cy="1289.0" r="4.0" fill="#008080"/><circle cx="1246.5" cy="1288.0" r="4.0" fill="#008080"/><circle cx="1266.9" cy="1285.3" r="4.0" fill="#008080"/><rect x="1389.1" y="1162.8" width="357.5" height="97.6" fill="#fefefe" stroke="#c8c8c8" stroke-width="1.3"/><rect x="1389.1" y="1279.9" width="357.5" height="97.3" fill="#fefefe" stroke="#c8c8c8" stroke-width="1.3"/><line x1="1386.1" y1="1177.2" x2="1389.1" y2="1177.2" stroke="#bbb" stroke-width="1"/><text class="dj" x="1387.1" y="1183.2" font-size="17.5" text-anchor="end">1.5</text><line x1="1386.1" y1="1206.4" x2="1389.1" y2="1206.4" stroke="#bbb" stroke-width="1"/><text class="dj" x="1387.1" y="1212.4" font-size="17.5" text-anchor="end">1.0</text><line x1="1386.1" y1="1236.1" x2="1389.1" y2="1236.1" stroke="#bbb" stroke-width="1"/><text class="dj" x="1387.1" y="1242.1" font-size="17.5" text-anchor="end">0.5</text><line x1="1386.1" y1="1289.3" x2="1389.1" y2="1289.3" stroke="#bbb" stroke-width="1"/><text class="dj" x="1387.1" y="1295.3" font-size="17.5" text-anchor="end">0.05</text><line x1="1386.1" y1="1321.6" x2="1389.1" y2="1321.6" stroke="#bbb" stroke-width="1"/><text class="dj" x="1387.1" y="1327.6" font-size="17.5" text-anchor="end">0.00</text><line x1="1386.1" y1="1354.2" x2="1389.1" y2="1354.2" stroke="#bbb" stroke-width="1"/><text class="dj" x="1387.1" y="1360.2" font-size="17.5" text-anchor="end">−0.05</text><line x1="1402.5" y1="1377.2" x2="1402.5" y2="1380.2" stroke="#bbb" stroke-width="1"/><text class="dj" x="1402.5" y="1393.2" font-size="17.5" text-anchor="middle">0</text><line x1="1454.6" y1="1377.2" x2="1454.6" y2="1380.2" stroke="#bbb" stroke-width="1"/><text class="dj" x="1454.6" y="1393.2" font-size="17.5" text-anchor="middle">20</text><line x1="1506.7" y1="1377.2" x2="1506.7" y2="1380.2" stroke="#bbb" stroke-width="1"/><text class="dj" x="1506.7" y="1393.2" font-size="17.5" text-anchor="middle">40</text><line x1="1558.8" y1="1377.2" x2="1558.8" y2="1380.2" stroke="#bbb" stroke-width="1"/><text class="dj" x="1558.8" y="1393.2" font-size="17.5" text-anchor="middle">60</text><line x1="1610.9" y1="1377.2" x2="1610.9" y2="1380.2" stroke="#bbb" stroke-width="1"/><text class="dj" x="1610.9" y="1393.2" font-size="17.5" text-anchor="middle">80</text><line x1="1663.0" y1="1377.2" x2="1663.0" y2="1380.2" stroke="#bbb" stroke-width="1"/><text class="dj" x="1663.0" y="1393.2" font-size="17.5" text-anchor="middle">100</text><line x1="1715.1" y1="1377.2" x2="1715.1" y2="1380.2" stroke="#bbb" stroke-width="1"/><text class="dj" x="1715.1" y="1393.2" font-size="17.5" text-anchor="middle">120</text><text class="dj" x="1349.4" y="1211" font-size="17.5" text-anchor="middle" transform="rotate(-90 1349.4 1211)" dy="6">Error(°C)</text><text class="dj" x="1328.3" y="1330.2" font-size="17.5" text-anchor="middle" transform="rotate(-90 1328.3 1330.2)" dy="6">Error(V)</text><text class="dj" x="1568" y="1409.5" font-size="17.5" text-anchor="middle">Seconds</text><line x1="1386.7" y1="1145.4" x2="1425.7" y2="1145.4" stroke="#0000ff" stroke-width="1.8" stroke-dasharray="6,3.5" opacity="0.85"/><path d="M1394.2,1143.9 L1390.5,1150.4 L1383.0,1150.4 L1379.2,1143.9 L1383.0,1137.4 L1390.5,1137.4 Z" fill="#0000ff"/><text class="dj" x="1440.2" y="1151" font-size="17.5">Triangle</text><line x1="1530.5" y1="1145.4" x2="1570.2" y2="1145.4" stroke="#008080" stroke-width="1.8" stroke-dasharray="6,3.5" opacity="0.85"/><path d="M1538.0,1143.9 L1534.2,1150.4 L1526.8,1150.4 L1523.0,1143.9 L1526.8,1137.4 L1534.2,1137.4 Z" fill="#008080"/><text class="dj" x="1583.6" y="1151" font-size="17.5">Star</text><line x1="1645.2" y1="1145.4" x2="1682.1" y2="1145.4" stroke="#ff0000" stroke-width="1.8" stroke-dasharray="6,3.5" opacity="0.85"/><path d="M1652.7,1143.9 L1649.0,1150.4 L1641.5,1150.4 L1637.7,1143.9 L1641.5,1137.4 L1649.0,1137.4 Z" fill="#ff0000"/><text class="dj" x="1696.5" y="1151" font-size="17.5">Circle</text><line x1="1389.1" y1="1321.2" x2="1746.6" y2="1321.2" stroke="#1f77b4" stroke-width="1.8" stroke-dasharray="6,3.5"/><path d="M1402.5,1220.6 L1403.9,1219.1 L1405.9,1217.0 L1408.3,1214.5 L1410.7,1212.3 L1412.9,1210.6 L1414.8,1209.5 L1416.6,1208.8 L1418.4,1208.4 L1420.6,1208.2 L1423.3,1208.1 L1426.8,1208.1 L1430.9,1208.5 L1435.3,1208.9 L1439.8,1209.4 L1444.2,1209.8 L1448.3,1210.1 L1452.5,1210.4 L1456.7,1210.7 L1460.9,1211.0 L1465.0,1211.3 L1469.2,1211.7 L1473.4,1212.0 L1477.5,1212.4 L1481.7,1212.7 L1485.9,1213.1 L1490.0,1213.4 L1494.2,1213.8 L1498.4,1214.2 L1502.5,1214.5 L1506.7,1214.9 L1510.9,1215.2 L1515.0,1215.5 L1519.2,1215.8 L1523.4,1216.0 L1527.5,1216.4 L1531.7,1216.7 L1535.9,1217.0 L1540.0,1217.4 L1544.2,1217.7 L1548.4,1218.1 L1552.5,1218.6 L1556.7,1219.1 L1560.9,1219.6 L1565.1,1220.1 L1569.2,1220.6 L1573.4,1221.1 L1577.6,1221.6 L1581.7,1222.1 L1585.9,1222.6 L1590.1,1223.2 L1594.2,1223.6 L1598.4,1224.1 L1602.6,1224.6 L1606.7,1225.1 L1610.9,1225.7 L1615.1,1226.2 L1619.2,1226.8 L1623.4,1227.4 L1627.6,1228.0 L1631.7,1228.7 L1635.9,1229.4 L1640.1,1230.2 L1644.2,1231.0 L1648.4,1231.9 L1652.6,1232.7 L1656.7,1233.5 L1660.9,1234.4 L1665.1,1235.2 L1669.3,1236.1 L1673.4,1237.0 L1677.6,1237.9 L1681.8,1238.9 L1685.9,1239.9 L1690.1,1240.9 L1694.3,1242.0 L1698.5,1243.1 L1702.7,1244.2 L1707.0,1245.3 L1711.1,1246.5 L1715.1,1247.8 L1719.2,1249.4 L1723.5,1251.2 L1727.5,1253.1 L1730.9,1254.7 L1733.3,1255.8" fill="none" stroke="#ff0000" stroke-width="1.6" stroke-dasharray="5.5,3.2" opacity="0.85"/><path d="M1406.5,1220.6 L1404.5,1224.1 L1400.5,1224.1 L1398.5,1220.6 L1400.5,1217.2 L1404.5,1217.2 Z" fill="#ff0000"/><path d="M1427.3,1208.1 L1425.3,1211.5 L1421.3,1211.5 L1419.3,1208.1 L1421.3,1204.6 L1425.3,1204.6 Z" fill="#ff0000"/><path d="M1448.2,1209.8 L1446.2,1213.3 L1442.2,1213.3 L1440.2,1209.8 L1442.2,1206.4 L1446.2,1206.4 Z" fill="#ff0000"/><path d="M1469.0,1211.3 L1467.0,1214.8 L1463.0,1214.8 L1461.0,1211.3 L1463.0,1207.9 L1467.0,1207.9 Z" fill="#ff0000"/><path d="M1489.9,1213.1 L1487.9,1216.6 L1483.9,1216.6 L1481.9,1213.1 L1483.9,1209.6 L1487.9,1209.6 Z" fill="#ff0000"/><path d="M1510.7,1214.9 L1508.7,1218.3 L1504.7,1218.3 L1502.7,1214.9 L1504.7,1211.4 L1508.7,1211.4 Z" fill="#ff0000"/><path d="M1531.5,1216.4 L1529.5,1219.8 L1525.5,1219.8 L1523.5,1216.4 L1525.5,1212.9 L1529.5,1212.9 Z" fill="#ff0000"/><path d="M1552.4,1218.1 L1550.4,1221.6 L1546.4,1221.6 L1544.4,1218.1 L1546.4,1214.7 L1550.4,1214.7 Z" fill="#ff0000"/><path d="M1573.2,1220.6 L1571.2,1224.1 L1567.2,1224.1 L1565.2,1220.6 L1567.2,1217.2 L1571.2,1217.2 Z" fill="#ff0000"/><path d="M1594.1,1223.2 L1592.1,1226.6 L1588.1,1226.6 L1586.1,1223.2 L1588.1,1219.7 L1592.1,1219.7 Z" fill="#ff0000"/><path d="M1614.9,1225.7 L1612.9,1229.1 L1608.9,1229.1 L1606.9,1225.7 L1608.9,1222.2 L1612.9,1222.2 Z" fill="#ff0000"/><path d="M1635.7,1228.7 L1633.7,1232.1 L1629.7,1232.1 L1627.7,1228.7 L1629.7,1225.2 L1633.7,1225.2 Z" fill="#ff0000"/><path d="M1656.6,1232.7 L1654.6,1236.2 L1650.6,1236.2 L1648.6,1232.7 L1650.6,1229.2 L1654.6,1229.2 Z" fill="#ff0000"/><path d="M1677.4,1237.0 L1675.4,1240.4 L1671.4,1240.4 L1669.4,1237.0 L1671.4,1233.5 L1675.4,1233.5 Z" fill="#ff0000"/><path d="M1698.3,1242.0 L1696.3,1245.5 L1692.3,1245.5 L1690.3,1242.0 L1692.3,1238.5 L1696.3,1238.5 Z" fill="#ff0000"/><path d="M1719.1,1247.8 L1717.1,1251.3 L1713.1,1251.3 L1711.1,1247.8 L1713.1,1244.3 L1717.1,1244.3 Z" fill="#ff0000"/><path d="M1402.5,1172.4 L1405.3,1172.6 L1409.3,1173.0 L1414.0,1173.4 L1418.8,1173.8 L1423.3,1174.1 L1427.5,1174.4 L1431.7,1174.7 L1435.8,1175.0 L1440.0,1175.2 L1444.2,1175.4 L1448.3,1175.5 L1452.5,1175.6 L1456.7,1175.7 L1460.9,1175.7 L1465.0,1175.9 L1469.2,1176.1 L1473.4,1176.4 L1477.5,1176.6 L1481.7,1176.9 L1485.9,1177.1 L1490.0,1177.3 L1494.2,1177.4 L1498.4,1177.6 L1502.5,1177.7 L1506.7,1177.9 L1510.9,1178.1 L1515.0,1178.4 L1519.2,1178.6 L1523.4,1178.9 L1527.5,1179.1 L1531.7,1179.4 L1535.9,1179.7 L1540.0,1179.9 L1544.2,1180.2 L1548.4,1180.4 L1552.5,1180.7 L1556.7,1180.9 L1560.9,1181.2 L1565.1,1181.4 L1569.2,1181.7 L1573.4,1181.9 L1577.6,1182.1 L1581.7,1182.4 L1585.9,1182.6 L1590.1,1182.9 L1594.2,1183.3 L1598.4,1183.7 L1602.6,1184.1 L1606.7,1184.5 L1610.9,1184.9 L1615.1,1185.3 L1619.2,1185.7 L1623.4,1186.0 L1627.6,1186.4 L1631.7,1186.7 L1635.9,1186.9 L1640.1,1187.1 L1644.2,1187.3 L1648.4,1187.6 L1652.6,1187.9 L1656.7,1188.4 L1660.9,1189.0 L1665.1,1189.7 L1669.3,1190.4 L1673.4,1191.0 L1677.6,1191.5 L1681.8,1192.1 L1685.9,1192.6 L1690.1,1193.1 L1694.3,1193.7 L1698.5,1194.3 L1702.7,1195.0 L1707.0,1195.6 L1711.1,1196.4 L1715.1,1197.3 L1719.2,1198.4 L1723.5,1199.9 L1727.5,1201.3 L1730.9,1202.6 L1733.3,1203.5" fill="none" stroke="#008080" stroke-width="1.6" stroke-dasharray="5.5,3.2" opacity="0.85"/><path d="M1406.5,1172.4 L1404.5,1175.8 L1400.5,1175.8 L1398.5,1172.4 L1400.5,1168.9 L1404.5,1168.9 Z" fill="#008080"/><path d="M1427.3,1174.1 L1425.3,1177.6 L1421.3,1177.6 L1419.3,1174.1 L1421.3,1170.7 L1425.3,1170.7 Z" fill="#008080"/><path d="M1448.2,1175.4 L1446.2,1178.8 L1442.2,1178.8 L1440.2,1175.4 L1442.2,1171.9 L1446.2,1171.9 Z" fill="#008080"/><path d="M1469.0,1175.9 L1467.0,1179.3 L1463.0,1179.3 L1461.0,1175.9 L1463.0,1172.4 L1467.0,1172.4 Z" fill="#008080"/><path d="M1489.9,1177.1 L1487.9,1180.6 L1483.9,1180.6 L1481.9,1177.1 L1483.9,1173.7 L1487.9,1173.7 Z" fill="#008080"/><path d="M1510.7,1177.9 L1508.7,1181.4 L1504.7,1181.4 L1502.7,1177.9 L1504.7,1174.4 L1508.7,1174.4 Z" fill="#008080"/><path d="M1531.5,1179.1 L1529.5,1182.6 L1525.5,1182.6 L1523.5,1179.1 L1525.5,1175.7 L1529.5,1175.7 Z" fill="#008080"/><path d="M1552.4,1180.4 L1550.4,1183.9 L1546.4,1183.9 L1544.4,1180.4 L1546.4,1176.9 L1550.4,1176.9 Z" fill="#008080"/><path d="M1573.2,1181.7 L1571.2,1185.1 L1567.2,1185.1 L1565.2,1181.7 L1567.2,1178.2 L1571.2,1178.2 Z" fill="#008080"/><path d="M1594.1,1182.9 L1592.1,1186.4 L1588.1,1186.4 L1586.1,1182.9 L1588.1,1179.5 L1592.1,1179.5 Z" fill="#008080"/><path d="M1614.9,1184.9 L1612.9,1188.4 L1608.9,1188.4 L1606.9,1184.9 L1608.9,1181.5 L1612.9,1181.5 Z" fill="#008080"/><path d="M1635.7,1186.7 L1633.7,1190.2 L1629.7,1190.2 L1627.7,1186.7 L1629.7,1183.2 L1633.7,1183.2 Z" fill="#008080"/><path d="M1656.6,1187.9 L1654.6,1191.4 L1650.6,1191.4 L1648.6,1187.9 L1650.6,1184.5 L1654.6,1184.5 Z" fill="#008080"/><path d="M1677.4,1191.0 L1675.4,1194.4 L1671.4,1194.4 L1669.4,1191.0 L1671.4,1187.5 L1675.4,1187.5 Z" fill="#008080"/><path d="M1698.3,1193.7 L1696.3,1197.2 L1692.3,1197.2 L1690.3,1193.7 L1692.3,1190.3 L1696.3,1190.3 Z" fill="#008080"/><path d="M1719.1,1197.3 L1717.1,1200.7 L1713.1,1200.7 L1711.1,1197.3 L1713.1,1193.8 L1717.1,1193.8 Z" fill="#008080"/><path d="M1402.5,1168.6 L1405.3,1168.5 L1409.3,1168.4 L1414.0,1168.4 L1418.8,1168.4 L1423.3,1168.6 L1427.5,1169.0 L1431.7,1169.7 L1435.8,1170.4 L1440.0,1171.1 L1444.2,1171.6 L1448.3,1172.0 L1452.5,1172.2 L1456.7,1172.4 L1460.9,1172.6 L1465.0,1172.9 L1469.2,1173.2 L1473.4,1173.5 L1477.5,1173.9 L1481.7,1174.3 L1485.9,1174.6 L1490.0,1174.9 L1494.2,1175.3 L1498.4,1175.6 L1502.5,1175.8 L1506.7,1176.1 L1510.9,1176.4 L1515.0,1176.7 L1519.2,1176.9 L1523.4,1177.2 L1527.5,1177.4 L1531.7,1177.6 L1535.9,1177.8 L1540.0,1178.0 L1544.2,1178.2 L1548.4,1178.4 L1552.5,1178.6 L1556.7,1178.9 L1560.9,1179.2 L1565.1,1179.5 L1569.2,1179.9 L1573.4,1180.4 L1577.6,1181.0 L1581.7,1181.7 L1585.9,1182.4 L1590.1,1182.9 L1594.2,1183.4 L1598.4,1183.7 L1602.6,1184.1 L1606.7,1184.5 L1610.9,1184.9 L1615.1,1185.5 L1619.2,1186.1 L1623.4,1186.7 L1627.6,1187.3 L1631.7,1187.9 L1635.9,1188.6 L1640.1,1189.2 L1644.2,1189.8 L1648.4,1190.4 L1652.6,1191.2 L1656.7,1192.1 L1660.9,1193.0 L1665.1,1194.0 L1669.3,1195.1 L1673.4,1196.2 L1677.6,1197.4 L1681.8,1198.7 L1685.9,1200.0 L1690.1,1201.4 L1694.3,1203.0 L1698.6,1204.9 L1703.1,1206.9 L1707.5,1209.1 L1711.6,1211.2 L1715.1,1213.1 L1717.9,1214.7 L1720.1,1216.2 L1722.0,1217.6 L1723.8,1219.1 L1725.5,1220.6 L1727.4,1222.5 L1729.2,1224.5 L1730.9,1226.5 L1732.3,1228.2 L1733.3,1229.4" fill="none" stroke="#0000ff" stroke-width="1.6" stroke-dasharray="5.5,3.2" opacity="0.85"/><path d="M1406.5,1168.6 L1404.5,1172.1 L1400.5,1172.1 L1398.5,1168.6 L1400.5,1165.1 L1404.5,1165.1 Z" fill="#0000ff"/><path d="M1427.3,1168.6 L1425.3,1172.1 L1421.3,1172.1 L1419.3,1168.6 L1421.3,1165.1 L1425.3,1165.1 Z" fill="#0000ff"/><path d="M1448.2,1171.6 L1446.2,1175.1 L1442.2,1175.1 L1440.2,1171.6 L1442.2,1168.1 L1446.2,1168.1 Z" fill="#0000ff"/><path d="M1469.0,1172.9 L1467.0,1176.3 L1463.0,1176.3 L1461.0,1172.9 L1463.0,1169.4 L1467.0,1169.4 Z" fill="#0000ff"/><path d="M1489.9,1174.6 L1487.9,1178.1 L1483.9,1178.1 L1481.9,1174.6 L1483.9,1171.2 L1487.9,1171.2 Z" fill="#0000ff"/><path d="M1510.7,1176.1 L1508.7,1179.6 L1504.7,1179.6 L1502.7,1176.1 L1504.7,1172.7 L1508.7,1172.7 Z" fill="#0000ff"/><path d="M1531.5,1177.4 L1529.5,1180.9 L1525.5,1180.9 L1523.5,1177.4 L1525.5,1173.9 L1529.5,1173.9 Z" fill="#0000ff"/><path d="M1552.4,1178.4 L1550.4,1181.9 L1546.4,1181.9 L1544.4,1178.4 L1546.4,1174.9 L1550.4,1174.9 Z" fill="#0000ff"/><path d="M1573.2,1179.9 L1571.2,1183.4 L1567.2,1183.4 L1565.2,1179.9 L1567.2,1176.4 L1571.2,1176.4 Z" fill="#0000ff"/><path d="M1594.1,1182.9 L1592.1,1186.4 L1588.1,1186.4 L1586.1,1182.9 L1588.1,1179.5 L1592.1,1179.5 Z" fill="#0000ff"/><path d="M1614.9,1184.9 L1612.9,1188.4 L1608.9,1188.4 L1606.9,1184.9 L1608.9,1181.5 L1612.9,1181.5 Z" fill="#0000ff"/><path d="M1635.7,1187.9 L1633.7,1191.4 L1629.7,1191.4 L1627.7,1187.9 L1629.7,1184.5 L1633.7,1184.5 Z" fill="#0000ff"/><path d="M1656.6,1191.2 L1654.6,1194.7 L1650.6,1194.7 L1648.6,1191.2 L1650.6,1187.8 L1654.6,1187.8 Z" fill="#0000ff"/><path d="M1677.4,1196.2 L1675.4,1199.7 L1671.4,1199.7 L1669.4,1196.2 L1671.4,1192.8 L1675.4,1192.8 Z" fill="#0000ff"/><path d="M1698.3,1203.0 L1696.3,1206.5 L1692.3,1206.5 L1690.3,1203.0 L1692.3,1199.6 L1696.3,1199.6 Z" fill="#0000ff"/><path d="M1719.1,1213.1 L1717.1,1216.6 L1713.1,1216.6 L1711.1,1213.1 L1713.1,1209.6 L1717.1,1209.6 Z" fill="#0000ff"/><path d="M1402.5,1309.9 L1403.9,1310.2 L1405.9,1310.6 L1408.3,1311.0 L1410.7,1311.2 L1412.9,1311.2 L1415.0,1310.7 L1417.1,1310.0 L1419.2,1309.1 L1421.3,1308.2 L1423.3,1307.4 L1425.4,1306.5 L1427.5,1305.5 L1429.6,1304.5 L1431.7,1303.8 L1433.8,1303.6 L1435.8,1304.2 L1437.9,1305.4 L1440.0,1306.8 L1442.1,1308.1 L1444.2,1308.6 L1446.3,1308.4 L1448.3,1307.5 L1450.4,1306.5 L1452.5,1305.5 L1454.6,1304.9 L1456.7,1304.8 L1458.8,1305.0 L1460.9,1305.3 L1462.9,1305.6 L1465.0,1305.6 L1467.1,1305.4 L1469.2,1305.0 L1471.3,1304.6 L1473.4,1304.1 L1475.4,1303.6 L1477.5,1303.1 L1479.6,1302.4 L1481.7,1301.8 L1483.8,1301.3 L1485.9,1301.1 L1487.9,1301.3 L1490.0,1301.9 L1492.1,1302.5 L1494.2,1303.0 L1496.3,1303.1 L1498.4,1302.6 L1500.4,1301.6 L1502.5,1300.6 L1504.6,1299.6 L1506.7,1299.1 L1508.8,1299.1 L1510.9,1299.6 L1513.0,1300.2 L1515.0,1300.8 L1517.1,1301.1 L1519.2,1301.1 L1521.3,1301.0 L1523.4,1300.8 L1525.5,1300.6 L1527.5,1300.6 L1529.6,1300.8 L1531.7,1301.2 L1533.8,1301.6 L1535.9,1302.0 L1538.0,1302.4 L1540.0,1302.6 L1542.1,1302.9 L1544.2,1303.1 L1546.3,1303.4 L1548.4,1303.6 L1550.5,1304.0 L1552.5,1304.7 L1554.6,1305.2 L1556.7,1305.3 L1558.8,1304.9 L1560.9,1303.3 L1563.0,1300.8 L1565.1,1298.1 L1567.1,1295.9 L1569.2,1294.8 L1571.3,1295.4 L1573.4,1297.2 L1575.5,1299.5 L1577.6,1301.4 L1579.6,1302.4 L1581.7,1301.9 L1583.8,1300.5 L1585.9,1298.8 L1588.0,1297.3 L1590.1,1296.6 L1592.1,1296.9 L1594.2,1297.9 L1596.3,1299.2 L1598.4,1300.4 L1600.5,1301.1 L1602.6,1301.3 L1604.6,1301.2 L1606.7,1301.0 L1608.8,1300.6 L1610.9,1300.1 L1613.0,1299.4 L1615.1,1298.4 L1617.2,1297.4 L1619.2,1296.5 L1621.3,1296.1 L1623.4,1296.1 L1625.5,1296.5 L1627.6,1297.1 L1629.7,1297.7 L1631.7,1298.1 L1633.8,1298.2 L1635.9,1298.2 L1638.0,1298.1 L1640.1,1298.0 L1642.2,1298.1 L1644.2,1298.3 L1646.3,1298.5 L1648.4,1298.8 L1650.5,1299.0 L1652.6,1299.1 L1654.7,1298.9 L1656.7,1298.5 L1658.8,1298.0 L1660.9,1297.6 L1663.0,1297.3 L1665.1,1297.3 L1667.2,1297.4 L1669.3,1297.6 L1671.3,1297.9 L1673.4,1298.1 L1675.5,1298.3 L1677.6,1298.7 L1679.7,1299.0 L1681.8,1299.2 L1683.8,1299.1 L1685.9,1298.6 L1688.0,1297.8 L1690.1,1296.9 L1692.2,1296.1 L1694.3,1295.6 L1696.3,1295.5 L1698.4,1295.7 L1700.5,1296.0 L1702.6,1296.2 L1704.7,1296.1 L1706.8,1295.5 L1708.8,1294.7 L1710.9,1293.7 L1713.0,1292.9 L1715.1,1292.5 L1717.3,1292.6 L1719.5,1292.8 L1721.7,1293.3 L1723.8,1294.0 L1725.5,1294.8 L1726.9,1295.8 L1728.1,1296.9 L1729.1,1298.1 L1729.9,1299.5 L1730.7,1301.1 L1731.5,1303.0 L1732.1,1305.3 L1732.6,1307.7 L1733.0,1309.7 L1733.3,1311.2" fill="none" stroke="#008080" stroke-width="1.6" stroke-dasharray="5.5,3.2" opacity="0.85"/><path d="M1406.5,1309.9 L1404.5,1313.4 L1400.5,1313.4 L1398.5,1309.9 L1400.5,1306.4 L1404.5,1306.4 Z" fill="#008080"/><path d="M1427.3,1307.4 L1425.3,1310.8 L1421.3,1310.8 L1419.3,1307.4 L1421.3,1303.9 L1425.3,1303.9 Z" fill="#008080"/><path d="M1448.2,1308.6 L1446.2,1312.1 L1442.2,1312.1 L1440.2,1308.6 L1442.2,1305.2 L1446.2,1305.2 Z" fill="#008080"/><path d="M1469.0,1305.6 L1467.0,1309.1 L1463.0,1309.1 L1461.0,1305.6 L1463.0,1302.2 L1467.0,1302.2 Z" fill="#008080"/><path d="M1489.9,1301.1 L1487.9,1304.6 L1483.9,1304.6 L1481.9,1301.1 L1483.9,1297.6 L1487.9,1297.6 Z" fill="#008080"/><path d="M1510.7,1299.1 L1508.7,1302.6 L1504.7,1302.6 L1502.7,1299.1 L1504.7,1295.6 L1508.7,1295.6 Z" fill="#008080"/><path d="M1531.5,1300.6 L1529.5,1304.1 L1525.5,1304.1 L1523.5,1300.6 L1525.5,1297.1 L1529.5,1297.1 Z" fill="#008080"/><path d="M1552.4,1303.6 L1550.4,1307.1 L1546.4,1307.1 L1544.4,1303.6 L1546.4,1300.1 L1550.4,1300.1 Z" fill="#008080"/><path d="M1573.2,1294.8 L1571.2,1298.3 L1567.2,1298.3 L1565.2,1294.8 L1567.2,1291.3 L1571.2,1291.3 Z" fill="#008080"/><path d="M1594.1,1296.6 L1592.1,1300.0 L1588.1,1300.0 L1586.1,1296.6 L1588.1,1293.1 L1592.1,1293.1 Z" fill="#008080"/><path d="M1614.9,1300.1 L1612.9,1303.6 L1608.9,1303.6 L1606.9,1300.1 L1608.9,1296.6 L1612.9,1296.6 Z" fill="#008080"/><path d="M1635.7,1298.1 L1633.7,1301.5 L1629.7,1301.5 L1627.7,1298.1 L1629.7,1294.6 L1633.7,1294.6 Z" fill="#008080"/><path d="M1656.6,1299.1 L1654.6,1302.6 L1650.6,1302.6 L1648.6,1299.1 L1650.6,1295.6 L1654.6,1295.6 Z" fill="#008080"/><path d="M1677.4,1298.1 L1675.4,1301.5 L1671.4,1301.5 L1669.4,1298.1 L1671.4,1294.6 L1675.4,1294.6 Z" fill="#008080"/><path d="M1698.3,1295.6 L1696.3,1299.0 L1692.3,1299.0 L1690.3,1295.6 L1692.3,1292.1 L1696.3,1292.1 Z" fill="#008080"/><path d="M1719.1,1292.5 L1717.1,1296.0 L1713.1,1296.0 L1711.1,1292.5 L1713.1,1289.1 L1717.1,1289.1 Z" fill="#008080"/><path d="M1402.5,1324.2 L1403.2,1328.3 L1404.2,1334.6 L1405.4,1341.2 L1406.6,1346.5 L1407.7,1348.9 L1408.7,1347.0 L1409.5,1342.1 L1410.5,1336.0 L1411.5,1330.2 L1412.9,1326.7 L1414.7,1326.0 L1416.7,1326.9 L1418.9,1328.6 L1421.2,1330.1 L1423.3,1330.8 L1425.4,1330.3 L1427.5,1329.2 L1429.6,1327.9 L1431.7,1326.6 L1433.8,1325.7 L1435.8,1325.4 L1437.9,1325.3 L1440.0,1325.3 L1442.1,1325.3 L1444.2,1325.0 L1446.3,1324.4 L1448.3,1323.5 L1450.4,1322.6 L1452.5,1321.6 L1454.6,1320.7 L1456.7,1319.7 L1458.8,1318.6 L1460.9,1317.5 L1462.9,1316.6 L1465.0,1316.2 L1467.1,1316.4 L1469.2,1317.2 L1471.3,1318.1 L1473.4,1318.7 L1475.4,1318.7 L1477.5,1317.7 L1479.6,1315.9 L1481.7,1314.0 L1483.8,1312.2 L1485.9,1311.2 L1487.9,1311.0 L1490.0,1311.3 L1492.1,1312.0 L1494.2,1312.7 L1496.3,1313.2 L1498.4,1313.5 L1500.4,1313.8 L1502.5,1314.1 L1504.6,1314.2 L1506.7,1314.2 L1508.8,1313.8 L1510.9,1313.3 L1513.0,1312.6 L1515.0,1311.9 L1517.1,1311.2 L1519.2,1310.4 L1521.3,1309.5 L1523.4,1308.7 L1525.5,1308.0 L1527.5,1307.6 L1529.6,1307.9 L1531.7,1308.7 L1533.8,1309.5 L1535.9,1310.1 L1538.0,1309.9 L1540.0,1308.7 L1542.1,1306.6 L1544.2,1304.3 L1546.3,1302.3 L1548.4,1301.1 L1550.5,1300.9 L1552.5,1301.3 L1554.6,1302.1 L1556.7,1303.0 L1558.8,1303.6 L1560.9,1303.9 L1563.0,1304.2 L1565.1,1304.4 L1567.1,1304.7 L1569.2,1305.1 L1571.3,1305.9 L1573.4,1307.1 L1575.5,1308.3 L1577.6,1308.9 L1579.6,1308.6 L1581.7,1306.9 L1583.8,1304.1 L1585.9,1300.9 L1588.0,1298.1 L1590.1,1296.6 L1592.1,1296.6 L1594.2,1297.7 L1596.3,1299.4 L1598.4,1301.1 L1600.5,1302.4 L1602.6,1303.2 L1604.6,1303.9 L1606.7,1304.5 L1608.8,1305.1 L1610.9,1305.6 L1613.0,1306.1 L1615.1,1306.5 L1617.2,1306.9 L1619.2,1307.2 L1621.3,1307.4 L1623.4,1307.5 L1625.5,1307.6 L1627.6,1307.6 L1629.7,1307.5 L1631.7,1307.4 L1633.8,1307.2 L1635.9,1306.8 L1638.0,1306.4 L1640.1,1306.2 L1642.2,1306.1 L1644.2,1306.4 L1646.3,1306.9 L1648.4,1307.5 L1650.5,1308.1 L1652.6,1308.6 L1654.7,1309.2 L1656.7,1309.8 L1658.8,1310.4 L1660.9,1310.9 L1663.0,1311.2 L1665.1,1311.1 L1667.2,1310.8 L1669.3,1310.4 L1671.3,1310.1 L1673.4,1309.9 L1675.5,1310.0 L1677.6,1310.2 L1679.7,1310.4 L1681.8,1310.8 L1683.8,1311.2 L1685.9,1311.6 L1688.0,1312.2 L1690.1,1312.8 L1692.2,1313.3 L1694.3,1313.7 L1696.3,1313.8 L1698.4,1313.7 L1700.5,1313.6 L1702.6,1313.3 L1704.7,1313.2 L1706.8,1313.0 L1708.8,1312.8 L1710.9,1312.6 L1713.0,1312.4 L1715.1,1312.2 L1717.2,1311.8 L1719.4,1311.2 L1721.5,1310.8 L1723.6,1310.6 L1725.5,1311.2 L1727.4,1312.6 L1729.2,1314.9 L1730.9,1317.4 L1732.3,1319.7 L1733.3,1321.2" fill="none" stroke="#ff0000" stroke-width="1.6" stroke-dasharray="5.5,3.2" opacity="0.85"/><path d="M1406.5,1324.2 L1404.5,1327.7 L1400.5,1327.7 L1398.5,1324.2 L1400.5,1320.8 L1404.5,1320.8 Z" fill="#ff0000"/><path d="M1427.3,1330.8 L1425.3,1334.2 L1421.3,1334.2 L1419.3,1330.8 L1421.3,1327.3 L1425.3,1327.3 Z" fill="#ff0000"/><path d="M1448.2,1325.0 L1446.2,1328.5 L1442.2,1328.5 L1440.2,1325.0 L1442.2,1321.5 L1446.2,1321.5 Z" fill="#ff0000"/><path d="M1469.0,1316.2 L1467.0,1319.6 L1463.0,1319.6 L1461.0,1316.2 L1463.0,1312.7 L1467.0,1312.7 Z" fill="#ff0000"/><path d="M1489.9,1311.2 L1487.9,1314.6 L1483.9,1314.6 L1481.9,1311.2 L1483.9,1307.7 L1487.9,1307.7 Z" fill="#ff0000"/><path d="M1510.7,1314.2 L1508.7,1317.6 L1504.7,1317.6 L1502.7,1314.2 L1504.7,1310.7 L1508.7,1310.7 Z" fill="#ff0000"/><path d="M1531.5,1307.6 L1529.5,1311.1 L1525.5,1311.1 L1523.5,1307.6 L1525.5,1304.2 L1529.5,1304.2 Z" fill="#ff0000"/><path d="M1552.4,1301.1 L1550.4,1304.6 L1546.4,1304.6 L1544.4,1301.1 L1546.4,1297.6 L1550.4,1297.6 Z" fill="#ff0000"/><path d="M1573.2,1305.1 L1571.2,1308.6 L1567.2,1308.6 L1565.2,1305.1 L1567.2,1301.7 L1571.2,1301.7 Z" fill="#ff0000"/><path d="M1594.1,1296.6 L1592.1,1300.0 L1588.1,1300.0 L1586.1,1296.6 L1588.1,1293.1 L1592.1,1293.1 Z" fill="#ff0000"/><path d="M1614.9,1305.6 L1612.9,1309.1 L1608.9,1309.1 L1606.9,1305.6 L1608.9,1302.2 L1612.9,1302.2 Z" fill="#ff0000"/><path d="M1635.7,1307.4 L1633.7,1310.8 L1629.7,1310.8 L1627.7,1307.4 L1629.7,1303.9 L1633.7,1303.9 Z" fill="#ff0000"/><path d="M1656.6,1308.6 L1654.6,1312.1 L1650.6,1312.1 L1648.6,1308.6 L1650.6,1305.2 L1654.6,1305.2 Z" fill="#ff0000"/><path d="M1677.4,1309.9 L1675.4,1313.4 L1671.4,1313.4 L1669.4,1309.9 L1671.4,1306.4 L1675.4,1306.4 Z" fill="#ff0000"/><path d="M1698.3,1313.7 L1696.3,1317.1 L1692.3,1317.1 L1690.3,1313.7 L1692.3,1310.2 L1696.3,1310.2 Z" fill="#ff0000"/><path d="M1719.1,1312.2 L1717.1,1315.6 L1713.1,1315.6 L1711.1,1312.2 L1713.1,1308.7 L1717.1,1308.7 Z" fill="#ff0000"/><path d="M1402.5,1365.2 L1403.2,1365.8 L1404.2,1366.8 L1405.4,1367.8 L1406.6,1368.6 L1407.7,1369.0 L1408.7,1369.0 L1409.5,1368.7 L1410.5,1368.1 L1411.5,1367.4 L1412.9,1366.5 L1414.7,1365.3 L1416.7,1363.9 L1418.9,1362.4 L1421.2,1360.8 L1423.3,1359.4 L1425.4,1358.2 L1427.5,1357.0 L1429.6,1355.9 L1431.7,1354.8 L1433.8,1353.9 L1435.8,1353.1 L1437.9,1352.3 L1440.0,1351.7 L1442.1,1351.2 L1444.2,1350.9 L1446.3,1350.8 L1448.3,1351.0 L1450.4,1351.3 L1452.5,1351.5 L1454.6,1351.4 L1456.7,1350.9 L1458.8,1350.2 L1460.9,1349.4 L1462.9,1348.6 L1465.0,1347.9 L1467.1,1347.3 L1469.2,1346.7 L1471.3,1346.2 L1473.4,1345.6 L1475.4,1345.1 L1477.5,1344.5 L1479.6,1344.0 L1481.7,1343.4 L1483.8,1342.9 L1485.9,1342.6 L1487.9,1342.4 L1490.0,1342.5 L1492.1,1342.6 L1494.2,1342.6 L1496.3,1342.6 L1498.4,1342.4 L1500.4,1342.2 L1502.5,1341.9 L1504.6,1341.6 L1506.7,1341.3 L1508.8,1340.9 L1510.9,1340.5 L1513.0,1340.0 L1515.0,1339.6 L1517.1,1339.3 L1519.2,1339.3 L1521.3,1339.4 L1523.4,1339.6 L1525.5,1339.7 L1527.5,1339.6 L1529.6,1339.1 L1531.7,1338.5 L1533.8,1337.7 L1535.9,1336.9 L1538.0,1336.3 L1540.0,1335.8 L1542.1,1335.5 L1544.2,1335.1 L1546.3,1334.7 L1548.4,1334.3 L1550.5,1333.8 L1552.5,1333.2 L1554.6,1332.5 L1556.7,1331.9 L1558.8,1331.3 L1560.9,1330.6 L1563.0,1330.0 L1565.1,1329.4 L1567.1,1328.8 L1569.2,1328.3 L1571.3,1327.8 L1573.4,1327.4 L1575.5,1327.1 L1577.6,1326.8 L1579.6,1326.7 L1581.7,1327.0 L1583.8,1327.7 L1585.9,1328.3 L1588.0,1328.6 L1590.1,1328.3 L1592.1,1327.0 L1594.2,1325.0 L1596.3,1322.6 L1598.4,1320.4 L1600.5,1318.7 L1602.6,1317.5 L1604.6,1316.7 L1606.7,1316.0 L1608.8,1315.4 L1610.9,1314.9 L1613.0,1314.5 L1615.1,1314.3 L1617.2,1314.1 L1619.2,1314.0 L1621.3,1313.7 L1623.4,1313.3 L1625.5,1312.8 L1627.6,1312.3 L1629.7,1311.8 L1631.7,1311.2 L1633.8,1310.4 L1635.9,1309.5 L1638.0,1308.6 L1640.1,1307.8 L1642.2,1307.4 L1644.2,1307.4 L1646.3,1307.8 L1648.4,1308.3 L1650.5,1308.6 L1652.6,1308.6 L1654.7,1308.2 L1656.7,1307.6 L1658.8,1306.8 L1660.9,1305.9 L1663.0,1304.9 L1665.1,1303.6 L1667.2,1302.1 L1669.3,1300.5 L1671.3,1299.2 L1673.4,1298.6 L1675.5,1298.9 L1677.6,1300.1 L1679.7,1301.4 L1681.8,1302.4 L1683.8,1302.4 L1685.9,1300.9 L1688.0,1298.5 L1690.1,1295.7 L1692.2,1293.2 L1694.3,1291.5 L1696.3,1291.1 L1698.4,1291.4 L1700.5,1292.0 L1702.6,1292.4 L1704.7,1292.3 L1706.8,1291.3 L1708.8,1289.8 L1710.9,1288.2 L1713.0,1286.6 L1715.1,1285.5 L1717.3,1284.9 L1719.5,1284.7 L1721.7,1284.6 L1723.8,1284.7 L1725.5,1284.8 L1726.9,1284.3 L1728.1,1283.5 L1729.1,1283.0 L1729.9,1283.6 L1730.7,1286.0 L1731.5,1291.4 L1732.1,1299.3 L1732.6,1308.0 L1733.0,1315.9 L1733.3,1321.2" fill="none" stroke="#0000ff" stroke-width="1.6" stroke-dasharray="5.5,3.2" opacity="0.85"/><path d="M1406.5,1365.2 L1404.5,1368.7 L1400.5,1368.7 L1398.5,1365.2 L1400.5,1361.8 L1404.5,1361.8 Z" fill="#0000ff"/><path d="M1427.3,1359.4 L1425.3,1362.9 L1421.3,1362.9 L1419.3,1359.4 L1421.3,1356.0 L1425.3,1356.0 Z" fill="#0000ff"/><path d="M1448.2,1350.9 L1446.2,1354.3 L1442.2,1354.3 L1440.2,1350.9 L1442.2,1347.4 L1446.2,1347.4 Z" fill="#0000ff"/><path d="M1469.0,1347.9 L1467.0,1351.3 L1463.0,1351.3 L1461.0,1347.9 L1463.0,1344.4 L1467.0,1344.4 Z" fill="#0000ff"/><path d="M1489.9,1342.6 L1487.9,1346.1 L1483.9,1346.1 L1481.9,1342.6 L1483.9,1339.1 L1487.9,1339.1 Z" fill="#0000ff"/><path d="M1510.7,1341.3 L1508.7,1344.8 L1504.7,1344.8 L1502.7,1341.3 L1504.7,1337.9 L1508.7,1337.9 Z" fill="#0000ff"/><path d="M1531.5,1339.6 L1529.5,1343.0 L1525.5,1343.0 L1523.5,1339.6 L1525.5,1336.1 L1529.5,1336.1 Z" fill="#0000ff"/><path d="M1552.4,1334.3 L1550.4,1337.8 L1546.4,1337.8 L1544.4,1334.3 L1546.4,1330.8 L1550.4,1330.8 Z" fill="#0000ff"/><path d="M1573.2,1328.3 L1571.2,1331.7 L1567.2,1331.7 L1565.2,1328.3 L1567.2,1324.8 L1571.2,1324.8 Z" fill="#0000ff"/><path d="M1594.1,1328.3 L1592.1,1331.7 L1588.1,1331.7 L1586.1,1328.3 L1588.1,1324.8 L1592.1,1324.8 Z" fill="#0000ff"/><path d="M1614.9,1314.9 L1612.9,1318.4 L1608.9,1318.4 L1606.9,1314.9 L1608.9,1311.5 L1612.9,1311.5 Z" fill="#0000ff"/><path d="M1635.7,1311.2 L1633.7,1314.6 L1629.7,1314.6 L1627.7,1311.2 L1629.7,1307.7 L1633.7,1307.7 Z" fill="#0000ff"/><path d="M1656.6,1308.6 L1654.6,1312.1 L1650.6,1312.1 L1648.6,1308.6 L1650.6,1305.2 L1654.6,1305.2 Z" fill="#0000ff"/><path d="M1677.4,1298.6 L1675.4,1302.0 L1671.4,1302.0 L1669.4,1298.6 L1671.4,1295.1 L1675.4,1295.1 Z" fill="#0000ff"/><path d="M1698.3,1291.5 L1696.3,1295.0 L1692.3,1295.0 L1690.3,1291.5 L1692.3,1288.1 L1696.3,1288.1 Z" fill="#0000ff"/><path d="M1719.1,1285.5 L1717.1,1289.0 L1713.1,1289.0 L1711.1,1285.5 L1713.1,1282.0 L1717.1,1282.0 Z" fill="#0000ff"/></g>
</svg>
</body></html>
